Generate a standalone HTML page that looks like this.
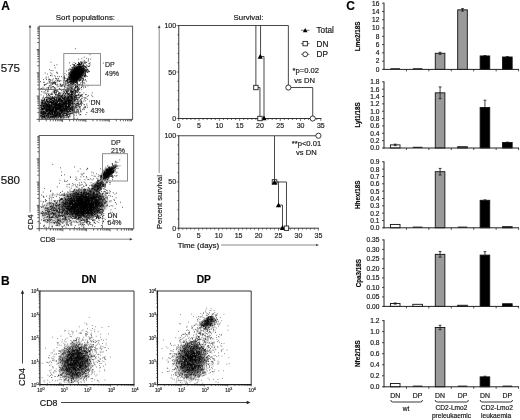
<!DOCTYPE html>
<html lang="en"><head><meta charset="utf-8"><title>Figure</title>
<style>
html,body{margin:0;padding:0;background:#fff;}
body{width:520px;height:420px;overflow:hidden;}
svg{display:block;font-family:"Liberation Sans", Arial, sans-serif;filter:blur(0.4px);}
text{stroke:#222;stroke-width:0.18px;}
</style></head><body>
<svg width="520" height="420" viewBox="0 0 520 420">
<rect x="0" y="0" width="520" height="420" fill="#fff"/>
<defs><radialGradient id="g0"><stop offset="0" stop-color="#000" stop-opacity="0.93"/><stop offset="0.45" stop-color="#000" stop-opacity="0.86"/><stop offset="0.7" stop-color="#000" stop-opacity="0.50"/><stop offset="1" stop-color="#000" stop-opacity="0"/></radialGradient><radialGradient id="g1"><stop offset="0" stop-color="#000" stop-opacity="0.36"/><stop offset="0.45" stop-color="#000" stop-opacity="0.33"/><stop offset="0.7" stop-color="#000" stop-opacity="0.30"/><stop offset="1" stop-color="#000" stop-opacity="0"/></radialGradient><radialGradient id="g2"><stop offset="0" stop-color="#000" stop-opacity="0.97"/><stop offset="0.45" stop-color="#000" stop-opacity="0.89"/><stop offset="0.7" stop-color="#000" stop-opacity="0.62"/><stop offset="1" stop-color="#000" stop-opacity="0"/></radialGradient><radialGradient id="g3"><stop offset="0" stop-color="#000" stop-opacity="0.93"/><stop offset="0.45" stop-color="#000" stop-opacity="0.86"/><stop offset="0.7" stop-color="#000" stop-opacity="0.50"/><stop offset="1" stop-color="#000" stop-opacity="0"/></radialGradient><radialGradient id="g4"><stop offset="0" stop-color="#000" stop-opacity="0.6"/><stop offset="0.45" stop-color="#000" stop-opacity="0.55"/><stop offset="0.7" stop-color="#000" stop-opacity="0.35"/><stop offset="1" stop-color="#000" stop-opacity="0"/></radialGradient><radialGradient id="g5"><stop offset="0" stop-color="#000" stop-opacity="0.2"/><stop offset="0.45" stop-color="#000" stop-opacity="0.18"/><stop offset="0.7" stop-color="#000" stop-opacity="0.15"/><stop offset="1" stop-color="#000" stop-opacity="0"/></radialGradient><radialGradient id="g6"><stop offset="0" stop-color="#000" stop-opacity="0.58"/><stop offset="0.45" stop-color="#000" stop-opacity="0.53"/><stop offset="0.7" stop-color="#000" stop-opacity="0.33"/><stop offset="1" stop-color="#000" stop-opacity="0"/></radialGradient><radialGradient id="g7"><stop offset="0" stop-color="#000" stop-opacity="0.58"/><stop offset="0.45" stop-color="#000" stop-opacity="0.53"/><stop offset="0.7" stop-color="#000" stop-opacity="0.33"/><stop offset="1" stop-color="#000" stop-opacity="0"/></radialGradient><radialGradient id="g8"><stop offset="0" stop-color="#000" stop-opacity="0.5"/><stop offset="0.45" stop-color="#000" stop-opacity="0.46"/><stop offset="0.7" stop-color="#000" stop-opacity="0.30"/><stop offset="1" stop-color="#000" stop-opacity="0"/></radialGradient><clipPath id="c0"><rect x="39.2" y="26.2" width="93.40" height="93.20"/></clipPath><clipPath id="c1"><rect x="39.2" y="135.5" width="94.50" height="93.20"/></clipPath><clipPath id="c2"><rect x="39.9" y="291" width="94.10" height="93.60"/></clipPath><clipPath id="c3"><rect x="157.5" y="291" width="93.70" height="93.60"/></clipPath></defs>
<text x="1.20" y="9.80" font-size="12" text-anchor="start" font-weight="bold" fill="#000" stroke="#000" stroke-width="0.4">A</text>
<text x="55.80" y="20.33" font-size="7.9" text-anchor="start" fill="#111">Sort populations:</text>
<text x="0.70" y="71.75" font-size="11.6" text-anchor="start" fill="#111">575</text>
<text x="0.70" y="184.45" font-size="11.6" text-anchor="start" fill="#111">580</text>
<line x1="30.00" y1="27.00" x2="30.00" y2="212.50" stroke="#8a8a8a" stroke-width="1"/>
<path d="M30.0 24.8 l-1.3 2.8 h2.6z" fill="#333"/>
<text x="30.20" y="232.66" font-size="7.7" text-anchor="start" fill="#111" transform="rotate(-90 30.20 229.90)">CD4</text>
<text x="39.90" y="241.76" font-size="7.7" text-anchor="start" fill="#111">CD8</text>
<line x1="56.50" y1="239.20" x2="130.00" y2="239.20" stroke="#8a8a8a" stroke-width="1"/>
<path d="M132.6 239.2 l-2.8 -1.3 v2.6z" fill="#333"/>
<g clip-path="url(#c0)">
<ellipse cx="76.8" cy="73.8" rx="11.8" ry="8.0" fill="url(#g0)" transform="rotate(-48 76.8 73.8)"/>
<ellipse cx="54" cy="108.5" rx="26" ry="14" fill="url(#g1)" transform="rotate(-8 54 108.5)"/>
<path d="M55.0 110.1h0.9M51.7 101.8h0.9M49.5 101.1h0.9M55.7 117.4h0.9M49.1 103.7h0.9M60.9 110.5h0.9M56.3 101.5h0.9M54.6 112.9h0.9M38.9 104.8h0.9M32.2 99.0h0.9M32.9 106.4h0.9M39.8 109.9h0.9M56.9 106.7h0.9M24.8 104.2h0.9M54.4 108.8h0.9M36.6 104.7h0.9M43.3 102.3h0.9M67.7 102.3h0.9M54.6 114.2h0.9M48.0 107.2h0.9M56.3 108.4h0.9M40.3 108.5h0.9M71.3 97.2h0.9M65.3 108.8h0.9M47.3 122.0h0.9M64.1 99.6h0.9M55.9 112.0h0.9M52.7 112.8h0.9M54.2 112.7h0.9M72.3 103.3h0.9M57.4 104.8h0.9M56.5 99.7h0.9M48.0 106.6h0.9M65.8 116.0h0.9M39.1 102.4h0.9M62.8 94.1h0.9M49.4 107.3h0.9M70.1 112.8h0.9M51.1 105.4h0.9M52.0 118.7h0.9M49.9 105.9h0.9M59.2 107.2h0.9M52.6 100.2h0.9M54.9 104.9h0.9M69.0 112.6h0.9M54.7 112.7h0.9M50.9 115.4h0.9M54.9 112.1h0.9M39.5 110.4h0.9M34.7 93.8h0.9M51.3 101.7h0.9M57.0 123.7h0.9M45.0 103.6h0.9M57.5 111.5h0.9M52.9 106.6h0.9M63.4 111.6h0.9M42.6 107.4h0.9M55.4 100.6h0.9M58.1 102.0h0.9M66.7 109.3h0.9M56.1 103.9h0.9M53.6 94.0h0.9M41.4 110.5h0.9M29.5 113.9h0.9M34.0 113.3h0.9M44.9 113.5h0.9M56.6 97.2h0.9M70.0 118.1h0.9M54.2 106.1h0.9M53.1 101.2h0.9M68.2 104.2h0.9M54.4 102.4h0.9M47.5 99.1h0.9M70.1 106.9h0.9M66.6 108.1h0.9M46.7 105.7h0.9M48.3 108.1h0.9M50.5 105.9h0.9M38.5 102.4h0.9M74.8 103.3h0.9M42.4 110.4h0.9M71.9 97.8h0.9M52.5 103.6h0.9M33.9 113.1h0.9M54.7 108.5h0.9M46.0 111.2h0.9M48.5 107.0h0.9M41.7 99.5h0.9M71.0 104.5h0.9M58.5 107.8h0.9M49.7 104.4h0.9M62.6 105.9h0.9M53.2 108.2h0.9M69.1 112.8h0.9M59.6 104.1h0.9M38.4 114.6h0.9M66.6 107.0h0.9M61.5 113.5h0.9M65.0 114.4h0.9M49.5 118.6h0.9M40.0 114.0h0.9M60.9 114.1h0.9M77.5 118.4h0.9M41.3 96.2h0.9M64.8 100.9h0.9M54.9 113.9h0.9M35.3 93.2h0.9M58.1 108.3h0.9M52.1 108.3h0.9M44.7 97.4h0.9M53.0 101.2h0.9M35.3 111.5h0.9M54.3 110.8h0.9M43.1 103.4h0.9M43.0 101.8h0.9M57.3 102.5h0.9M59.3 110.4h0.9M79.3 98.3h0.9M65.7 107.4h0.9M54.8 97.9h0.9M49.5 113.2h0.9M54.0 108.6h0.9M51.5 116.1h0.9M54.7 92.6h0.9M46.7 94.2h0.9M16.0 104.3h0.9M71.0 108.3h0.9M40.9 101.4h0.9M68.6 109.1h0.9M55.6 107.6h0.9M55.5 113.6h0.9M61.6 109.5h0.9M42.5 111.6h0.9M46.8 115.7h0.9M39.7 107.0h0.9M54.9 98.7h0.9M75.7 118.2h0.9M49.4 113.4h0.9M59.5 89.7h0.9M58.0 107.6h0.9M56.0 100.5h0.9M51.8 106.8h0.9M69.3 110.3h0.9M54.9 118.7h0.9M48.3 105.3h0.9M33.2 119.0h0.9M66.6 114.4h0.9M63.0 108.8h0.9M57.6 106.2h0.9M52.6 108.4h0.9M73.1 111.9h0.9M54.3 103.9h0.9M47.4 119.2h0.9M61.1 108.5h0.9M50.8 100.2h0.9M54.2 114.1h0.9M50.3 106.4h0.9M52.3 108.8h0.9M35.9 106.4h0.9M44.7 114.2h0.9M45.8 112.0h0.9M73.3 105.8h0.9M47.8 109.3h0.9M55.0 101.0h0.9M60.5 122.1h0.9M51.9 106.6h0.9M42.5 110.2h0.9M40.0 100.3h0.9M70.4 101.7h0.9M68.0 118.7h0.9M58.1 111.9h0.9M78.4 106.6h0.9M47.9 98.5h0.9M55.5 118.4h0.9M66.5 101.4h0.9M44.7 104.5h0.9M58.5 106.6h0.9M57.6 110.1h0.9M51.4 107.7h0.9M57.5 107.4h0.9M61.0 121.1h0.9M62.1 108.4h0.9M34.8 110.7h0.9M31.6 98.1h0.9M65.3 112.9h0.9M53.2 96.0h0.9M50.5 103.2h0.9M62.6 123.8h0.9M57.6 102.5h0.9M41.0 107.6h0.9M52.9 99.9h0.9M56.4 99.9h0.9M68.3 115.4h0.9M68.0 104.7h0.9M61.2 107.1h0.9M50.3 105.6h0.9M39.4 97.9h0.9M64.5 106.7h0.9M57.6 115.0h0.9M34.2 102.5h0.9M57.1 110.7h0.9M50.5 115.2h0.9M57.5 99.5h0.9M43.8 113.6h0.9M60.6 94.7h0.9M71.2 112.2h0.9M71.1 105.3h0.9M51.5 100.1h0.9M85.4 106.8h0.9M74.1 103.5h0.9M57.0 96.3h0.9M50.4 114.9h0.9M40.0 115.5h0.9M59.0 100.7h0.9M49.0 104.8h0.9M54.4 104.2h0.9M45.1 105.9h0.9M42.7 99.0h0.9M54.4 114.2h0.9M36.6 108.0h0.9M47.2 101.2h0.9M65.2 104.4h0.9M73.0 102.5h0.9M59.6 106.4h0.9M46.0 112.1h0.9M53.1 112.2h0.9M54.4 100.4h0.9M53.8 108.4h0.9M66.5 101.7h0.9M54.5 95.9h0.9M62.8 100.4h0.9M33.3 107.6h0.9M68.3 97.3h0.9M41.9 102.8h0.9M41.4 110.7h0.9M45.3 102.9h0.9M62.0 102.7h0.9M60.2 101.2h0.9M40.5 95.2h0.9M77.3 105.8h0.9M57.9 107.8h0.9M56.9 108.3h0.9M77.9 100.7h0.9M36.3 100.9h0.9M39.0 113.2h0.9M64.8 101.3h0.9M38.3 105.5h0.9M71.7 88.3h0.9M61.3 100.5h0.9M67.5 100.5h0.9M51.6 97.5h0.9M43.3 117.7h0.9M64.8 105.2h0.9M44.6 94.7h0.9M50.3 107.8h0.9M54.0 107.3h0.9M41.5 107.5h0.9M54.5 117.0h0.9M77.4 107.0h0.9M45.8 107.5h0.9M47.7 102.8h0.9M54.3 100.7h0.9M62.3 107.3h0.9M58.0 106.7h0.9M46.3 101.4h0.9M52.2 104.2h0.9M57.8 108.0h0.9M38.7 108.5h0.9M38.9 103.7h0.9M51.5 93.5h0.9M56.1 109.1h0.9M53.1 105.0h0.9M50.5 101.2h0.9M51.8 104.1h0.9M56.1 99.6h0.9M57.8 109.0h0.9M53.3 104.9h0.9M61.6 96.3h0.9M60.5 109.7h0.9M58.4 110.7h0.9M47.2 106.2h0.9M62.6 111.0h0.9M57.5 97.4h0.9M61.5 116.2h0.9M67.1 109.6h0.9M36.3 114.6h0.9M53.2 90.3h0.9M59.5 97.6h0.9M39.4 103.6h0.9M70.3 105.4h0.9M58.3 120.2h0.9M74.1 107.3h0.9M52.1 99.2h0.9M46.7 111.0h0.9M59.7 108.8h0.9M66.9 102.6h0.9M54.3 113.1h0.9M62.0 115.5h0.9M59.8 105.8h0.9M59.3 101.0h0.9M35.3 112.1h0.9M54.3 110.2h0.9M34.6 105.4h0.9M47.8 102.0h0.9M27.9 105.7h0.9M65.8 110.7h0.9M47.8 107.9h0.9M64.1 88.7h0.9M53.5 111.8h0.9M63.2 119.9h0.9M68.6 110.2h0.9M58.6 113.5h0.9M48.5 107.7h0.9M65.9 121.7h0.9M53.1 107.7h0.9M57.4 117.4h0.9M54.6 118.3h0.9M43.4 106.7h0.9M52.6 113.5h0.9M67.5 97.4h0.9M44.0 110.4h0.9M47.1 97.3h0.9M67.5 111.5h0.9M60.9 104.7h0.9M67.3 106.3h0.9M68.2 101.6h0.9M44.8 109.4h0.9M46.6 112.7h0.9M58.1 101.5h0.9M55.9 105.5h0.9M66.0 103.6h0.9M49.7 116.5h0.9M81.9 122.0h0.9M55.8 109.5h0.9M73.4 107.1h0.9M43.3 108.8h0.9M60.4 102.2h0.9M35.2 97.9h0.9M63.0 102.7h0.9M53.3 109.5h0.9M62.4 105.7h0.9M61.0 101.8h0.9M50.7 100.8h0.9M68.6 107.8h0.9M46.1 105.5h0.9M52.3 112.9h0.9M35.9 100.7h0.9M50.5 125.7h0.9M66.5 107.2h0.9M63.5 122.4h0.9M52.2 105.4h0.9M69.5 111.5h0.9M63.1 104.4h0.9M78.1 120.0h0.9M61.8 112.8h0.9M30.7 112.5h0.9M52.7 111.0h0.9M63.2 105.6h0.9M34.7 110.6h0.9M46.1 105.7h0.9M47.7 105.6h0.9M27.3 116.5h0.9M58.0 115.8h0.9M78.8 108.2h0.9M33.4 101.7h0.9M40.5 104.5h0.9M56.0 94.0h0.9M59.1 97.4h0.9M58.6 107.2h0.9M51.2 107.5h0.9M48.5 103.7h0.9M34.8 107.8h0.9M77.1 121.9h0.9M70.9 112.9h0.9M46.9 118.1h0.9M54.3 107.5h0.9M51.5 108.6h0.9M49.8 107.4h0.9M42.0 105.4h0.9M82.4 107.5h0.9M52.1 111.7h0.9M63.5 100.2h0.9M52.5 114.4h0.9M58.2 108.9h0.9M73.6 103.3h0.9M56.0 104.4h0.9M72.9 94.3h0.9M47.0 104.3h0.9M63.0 112.2h0.9M71.7 97.0h0.9M64.0 105.9h0.9M47.0 111.8h0.9M44.0 93.5h0.9M50.6 97.5h0.9M47.2 110.6h0.9M58.7 119.1h0.9M52.6 97.3h0.9M45.9 101.6h0.9M40.4 111.0h0.9M47.3 94.2h0.9M63.4 107.2h0.9M59.3 108.7h0.9M62.6 108.3h0.9M69.8 111.0h0.9M59.7 110.9h0.9M37.5 106.8h0.9M51.9 109.5h0.9M38.7 119.4h0.9M56.3 99.5h0.9M34.5 106.0h0.9M53.9 103.0h0.9M56.1 103.5h0.9M61.6 102.9h0.9M54.5 114.9h0.9M85.9 100.9h0.9M49.4 102.1h0.9M64.4 100.0h0.9M49.2 107.8h0.9M43.3 101.3h0.9M49.3 93.3h0.9M37.7 105.1h0.9M56.8 106.7h0.9M33.7 104.8h0.9M64.6 111.9h0.9M54.1 101.8h0.9M62.6 103.9h0.9M41.0 102.4h0.9M72.4 109.5h0.9M68.9 104.6h0.9M66.3 103.8h0.9M53.1 125.4h0.9M64.2 104.5h0.9M54.0 110.3h0.9M69.5 104.6h0.9M34.1 106.0h0.9M55.2 108.8h0.9M70.8 110.2h0.9M64.8 100.3h0.9M65.4 122.7h0.9M64.3 109.8h0.9M56.8 120.5h0.9M43.9 107.2h0.9M60.5 113.2h0.9M49.8 110.2h0.9M51.7 108.8h0.9M53.4 100.0h0.9M54.7 114.1h0.9M43.4 106.3h0.9M63.0 100.5h0.9M57.2 100.6h0.9M68.6 124.2h0.9M79.3 106.5h0.9M63.9 108.8h0.9M56.2 118.8h0.9M39.2 115.4h0.9M54.4 117.9h0.9M57.2 103.3h0.9M58.3 113.2h0.9M55.4 111.4h0.9M48.7 93.1h0.9M65.8 112.9h0.9M56.8 108.5h0.9M67.4 104.8h0.9M46.5 106.7h0.9M69.3 98.3h0.9M69.3 103.5h0.9M41.8 116.8h0.9M53.8 98.9h0.9M50.7 114.5h0.9M69.3 105.0h0.9M59.9 113.0h0.9M47.3 110.5h0.9M54.6 104.2h0.9M49.1 108.5h0.9M55.4 104.0h0.9M49.9 115.8h0.9M57.6 114.2h0.9M69.4 112.1h0.9M82.3 102.2h0.9M64.7 105.8h0.9M77.3 119.9h0.9M31.5 101.2h0.9M63.0 113.5h0.9M63.8 107.5h0.9M60.5 112.6h0.9M54.1 115.2h0.9M27.9 112.4h0.9M42.6 114.7h0.9M52.3 101.8h0.9M59.5 101.6h0.9M44.0 97.0h0.9M54.7 111.5h0.9M67.3 107.0h0.9M67.6 108.1h0.9M53.9 112.0h0.9M67.7 105.6h0.9M52.1 106.9h0.9M56.0 101.7h0.9M67.3 105.2h0.9M60.5 102.2h0.9" stroke="#fff" stroke-opacity="0.7" stroke-width="0.9" fill="none"/>
</g>
<path d="M76.4 76.5h0.9M84.1 76.1h0.9M80.1 79.7h0.9M71.0 77.3h0.9M79.6 72.8h0.9M76.7 74.2h0.9M73.0 68.3h0.9M71.7 67.7h0.9M73.3 74.1h0.9M79.2 69.6h0.9M71.7 72.0h0.9M81.2 62.4h0.9M82.7 61.2h0.9M67.3 79.6h0.9M70.3 74.1h0.9M74.7 74.6h0.9M78.6 74.8h0.9M70.0 83.3h0.9M73.6 72.3h0.9M73.7 76.2h0.9M73.2 78.0h0.9M64.1 78.3h0.9M80.5 74.2h0.9M76.1 70.2h0.9M74.1 69.4h0.9M83.0 79.9h0.9M69.0 77.2h0.9M79.3 68.4h0.9M70.3 77.1h0.9M82.1 72.2h0.9M72.2 77.4h0.9M77.2 64.6h0.9M73.6 65.2h0.9M71.9 76.2h0.9M79.9 80.4h0.9M68.7 77.3h0.9M76.3 80.8h0.9M77.3 67.8h0.9M72.9 69.7h0.9M64.1 76.0h0.9M80.7 67.5h0.9M78.2 73.0h0.9M75.1 74.7h0.9M66.2 74.9h0.9M74.8 72.2h0.9M76.8 75.0h0.9M78.9 67.7h0.9M74.4 78.6h0.9M85.2 74.9h0.9M63.1 82.4h0.9M82.4 80.9h0.9M74.1 78.3h0.9M76.2 71.5h0.9M76.2 71.5h0.9M72.6 76.7h0.9M75.4 68.9h0.9M74.6 71.6h0.9M80.4 75.2h0.9M76.6 76.8h0.9M75.5 75.8h0.9M76.5 72.5h0.9M70.7 75.3h0.9M71.3 80.8h0.9M78.6 68.9h0.9M80.1 70.7h0.9M82.9 72.7h0.9M73.9 64.7h0.9M74.4 65.6h0.9M79.9 76.0h0.9M70.4 74.1h0.9M84.9 73.8h0.9M75.5 75.4h0.9M79.1 84.7h0.9M71.8 80.8h0.9M77.0 77.0h0.9M76.5 68.3h0.9M74.0 72.0h0.9M77.3 73.7h0.9M64.7 83.9h0.9M76.9 72.8h0.9M77.8 78.4h0.9M76.6 69.4h0.9M81.1 63.3h0.9M74.7 76.7h0.9M80.0 67.8h0.9M78.0 75.1h0.9M78.6 70.2h0.9M81.3 61.9h0.9M64.0 77.2h0.9M78.8 72.6h0.9M76.2 70.1h0.9M77.0 73.5h0.9M72.0 69.2h0.9M75.1 71.1h0.9M79.7 71.5h0.9M76.6 79.1h0.9M81.4 73.3h0.9M75.0 82.4h0.9M70.6 80.6h0.9M79.8 74.7h0.9M83.1 67.2h0.9M78.0 70.3h0.9M81.7 62.9h0.9M79.3 75.7h0.9M72.4 78.7h0.9M75.3 71.0h0.9M74.4 75.3h0.9M79.1 80.8h0.9M72.8 70.3h0.9M76.4 66.1h0.9M85.4 70.6h0.9M71.7 71.6h0.9M77.5 80.0h0.9M76.5 70.4h0.9M79.0 72.7h0.9M77.4 79.7h0.9M75.0 82.7h0.9M72.9 82.3h0.9M82.8 65.6h0.9M74.4 74.6h0.9M72.0 77.7h0.9M84.6 72.3h0.9M74.6 77.7h0.9M75.8 80.9h0.9M68.6 70.1h0.9M78.4 69.3h0.9M81.5 69.2h0.9M70.5 78.8h0.9M87.1 72.5h0.9M75.3 68.7h0.9M77.0 76.0h0.9M81.9 71.9h0.9M76.3 69.2h0.9M78.2 76.4h0.9M80.4 71.3h0.9M84.9 79.6h0.9M83.6 73.2h0.9M76.7 73.2h0.9M76.2 79.5h0.9M72.4 81.0h0.9M77.8 69.5h0.9M76.3 77.7h0.9M72.1 81.9h0.9M76.5 82.6h0.9M72.0 71.3h0.9M77.8 64.5h0.9M67.8 80.1h0.9M73.2 81.4h0.9M72.4 84.8h0.9M76.7 72.8h0.9M76.9 74.6h0.9M78.9 71.0h0.9M65.4 78.3h0.9M73.2 73.1h0.9M78.3 76.6h0.9M79.2 75.2h0.9M86.5 68.1h0.9M81.0 72.1h0.9M69.0 69.0h0.9M80.6 70.4h0.9M71.1 82.4h0.9M71.9 72.0h0.9M75.8 85.2h0.9M76.1 73.5h0.9M86.0 67.5h0.9M67.5 89.3h0.9M73.0 81.5h0.9M84.6 71.7h0.9M81.4 67.0h0.9M78.0 77.2h0.9M76.1 76.8h0.9M76.5 67.0h0.9M74.6 72.5h0.9M78.8 64.3h0.9M73.8 67.2h0.9M78.0 63.2h0.9M77.2 75.6h0.9M64.3 80.8h0.9M82.1 72.3h0.9M76.8 72.0h0.9M68.7 81.8h0.9M78.0 64.9h0.9M76.2 76.2h0.9M79.8 64.6h0.9M76.1 77.8h0.9M81.2 71.9h0.9M69.5 72.8h0.9M79.2 73.1h0.9M73.3 66.1h0.9M80.0 74.0h0.9M64.2 77.0h0.9M62.8 84.7h0.9M76.2 81.5h0.9M73.1 79.2h0.9M83.4 69.2h0.9M72.9 64.5h0.9M66.9 89.9h0.9M66.7 81.1h0.9M75.0 84.9h0.9M70.2 81.7h0.9M81.3 67.2h0.9M81.4 58.7h0.9M73.7 72.1h0.9M77.2 72.7h0.9M72.3 86.6h0.9M80.3 76.3h0.9M79.1 69.0h0.9M69.6 75.7h0.9M74.4 69.4h0.9M80.8 78.0h0.9M80.6 70.4h0.9M77.4 66.6h0.9M86.0 70.7h0.9M68.2 87.0h0.9M81.7 71.7h0.9M80.4 73.9h0.9M76.3 75.9h0.9M72.7 75.6h0.9M73.8 67.9h0.9M74.8 68.4h0.9M74.8 70.9h0.9M77.6 75.3h0.9M80.5 64.7h0.9M82.8 70.6h0.9M72.0 84.5h0.9M82.3 75.3h0.9M87.2 69.4h0.9M71.9 64.2h0.9M70.0 90.9h0.9M81.6 68.9h0.9M78.0 72.9h0.9M81.1 64.7h0.9M75.5 76.7h0.9M72.0 80.1h0.9M65.0 84.3h0.9M70.5 70.9h0.9M85.7 70.3h0.9M82.2 70.1h0.9M74.2 71.2h0.9M76.9 70.9h0.9M80.9 73.0h0.9M72.5 75.9h0.9M81.4 69.8h0.9M80.0 75.6h0.9M68.0 89.3h0.9M76.5 73.2h0.9M77.9 67.4h0.9M79.9 67.8h0.9M80.6 73.3h0.9M77.9 71.3h0.9M86.4 71.2h0.9M79.6 80.4h0.9M77.5 81.2h0.9M79.8 74.1h0.9M62.1 85.0h0.9M76.5 83.6h0.9M77.1 77.7h0.9M69.6 78.9h0.9M72.6 74.0h0.9M78.0 68.8h0.9M77.8 73.4h0.9M70.9 72.9h0.9M71.6 86.9h0.9M72.7 76.8h0.9M78.7 74.6h0.9M70.3 72.1h0.9M81.8 84.4h0.9M87.5 66.3h0.9M74.9 75.5h0.9M67.6 78.3h0.9M80.2 78.0h0.9M76.5 71.8h0.9M75.1 73.4h0.9M67.6 79.9h0.9M69.5 75.5h0.9M73.6 77.1h0.9M87.9 60.1h0.9M80.1 67.1h0.9M67.0 79.4h0.9M85.4 71.5h0.9M80.6 77.9h0.9M72.9 73.5h0.9M80.5 76.3h0.9M72.8 78.8h0.9M76.3 73.8h0.9M84.7 75.2h0.9M73.6 71.2h0.9M80.9 72.9h0.9M73.7 76.9h0.9M79.7 70.3h0.9M80.3 62.0h0.9M72.0 76.9h0.9M78.6 78.6h0.9M74.1 77.3h0.9M69.5 86.6h0.9M80.4 73.6h0.9M72.6 74.0h0.9M76.0 73.8h0.9M84.8 63.0h0.9M76.8 71.3h0.9M82.9 64.3h0.9M77.3 73.8h0.9M83.5 69.3h0.9M81.4 66.9h0.9M69.2 79.1h0.9M82.0 73.6h0.9M77.6 71.1h0.9M78.8 77.4h0.9M83.9 60.3h0.9M78.1 66.0h0.9M78.1 67.4h0.9M73.0 73.4h0.9M77.4 75.4h0.9M80.3 70.3h0.9M70.7 83.2h0.9M79.4 70.3h0.9M81.5 69.6h0.9M70.8 76.5h0.9M80.8 75.2h0.9M79.5 71.6h0.9M78.9 66.6h0.9M84.9 76.0h0.9M77.1 70.5h0.9M78.7 70.5h0.9M74.6 77.6h0.9M68.8 84.8h0.9M71.5 81.9h0.9M70.3 73.7h0.9M77.1 73.0h0.9M71.9 67.8h0.9M72.1 77.5h0.9M77.9 71.0h0.9M78.9 73.5h0.9M79.6 65.2h0.9M76.0 75.6h0.9M76.8 70.6h0.9M80.1 69.4h0.9M69.0 77.5h0.9M72.7 83.5h0.9M80.8 73.2h0.9M78.2 62.4h0.9M81.1 66.3h0.9M76.8 71.0h0.9M70.5 69.6h0.9M70.8 73.2h0.9M78.4 69.5h0.9M77.9 64.8h0.9M81.0 68.6h0.9M75.9 78.1h0.9M78.8 66.9h0.9M81.9 70.1h0.9M88.7 66.1h0.9M76.7 69.6h0.9M78.2 77.8h0.9M78.2 77.9h0.9M79.6 77.2h0.9M71.3 80.0h0.9M71.2 81.6h0.9M73.9 72.2h0.9M80.1 74.0h0.9M84.1 68.5h0.9M76.1 76.2h0.9M85.8 62.2h0.9M72.0 75.4h0.9M69.9 69.0h0.9M72.2 75.8h0.9M68.1 74.2h0.9M73.3 76.8h0.9M70.9 75.9h0.9M85.5 75.6h0.9M78.3 68.0h0.9M75.2 70.1h0.9M76.5 83.8h0.9M75.0 66.3h0.9M74.9 82.3h0.9M76.5 80.6h0.9M80.0 69.0h0.9M78.7 63.5h0.9M70.9 77.3h0.9M67.5 85.7h0.9M81.7 72.3h0.9M70.6 84.1h0.9M82.9 68.4h0.9M69.7 79.8h0.9M82.8 72.1h0.9M73.2 72.1h0.9M76.3 70.2h0.9M75.9 75.6h0.9M73.9 81.3h0.9M84.5 66.7h0.9M74.3 79.4h0.9M71.0 77.9h0.9M83.3 71.0h0.9M75.3 63.5h0.9M70.5 77.5h0.9M74.3 69.1h0.9M79.2 64.4h0.9M79.3 72.8h0.9M88.5 63.7h0.9M78.8 65.4h0.9M73.8 77.1h0.9M88.3 70.0h0.9M81.1 69.9h0.9M79.8 78.0h0.9M81.5 73.7h0.9M83.0 72.5h0.9M79.0 69.1h0.9M69.7 84.2h0.9M82.5 79.4h0.9M73.1 73.8h0.9M70.5 74.9h0.9M75.4 82.3h0.9M77.5 69.5h0.9M76.1 74.7h0.9M82.4 70.0h0.9M84.2 62.3h0.9M77.7 71.1h0.9M72.2 72.6h0.9M73.8 76.4h0.9M75.8 67.4h0.9M82.7 68.5h0.9M81.0 69.0h0.9M75.2 81.6h0.9M69.5 81.2h0.9M84.1 70.5h0.9M78.6 77.9h0.9M80.0 76.5h0.9M75.2 79.7h0.9M75.8 77.3h0.9M76.4 75.5h0.9M71.3 77.7h0.9M69.2 82.5h0.9M72.4 78.7h0.9M83.4 77.1h0.9M74.6 69.4h0.9M78.9 69.4h0.9M68.3 85.3h0.9M70.1 76.4h0.9M77.2 77.1h0.9M67.4 81.5h0.9M75.1 77.6h0.9M81.0 68.5h0.9M71.5 67.3h0.9M75.8 78.1h0.9M75.0 68.6h0.9M71.3 82.0h0.9M76.4 82.2h0.9M81.2 72.9h0.9M77.6 72.4h0.9M77.2 73.4h0.9M72.5 79.8h0.9M76.7 72.4h0.9M72.9 73.6h0.9M78.8 71.1h0.9M78.8 70.6h0.9M84.8 75.1h0.9M72.5 81.6h0.9M83.0 78.4h0.9M75.2 75.3h0.9M76.4 76.0h0.9M70.8 81.0h0.9M65.6 82.6h0.9M71.2 75.1h0.9M68.3 82.4h0.9M79.6 75.6h0.9M68.5 77.8h0.9M74.4 68.9h0.9M75.9 74.3h0.9M76.4 70.5h0.9M76.4 70.2h0.9M78.7 79.9h0.9M84.6 63.6h0.9M79.9 72.7h0.9M80.4 68.6h0.9M83.1 70.0h0.9M75.9 74.0h0.9M74.6 75.2h0.9M84.9 67.1h0.9M75.2 74.9h0.9M76.0 81.6h0.9M79.2 66.4h0.9M74.2 84.9h0.9M76.7 67.4h0.9M78.1 69.4h0.9M83.5 65.7h0.9M78.8 64.5h0.9M71.1 77.0h0.9M78.8 74.8h0.9M72.5 77.2h0.9M74.4 72.2h0.9M71.3 84.2h0.9M81.4 68.1h0.9M75.1 78.5h0.9M72.9 86.3h0.9M78.8 70.8h0.9M82.8 67.8h0.9M83.6 80.6h0.9M70.7 69.6h0.9M79.9 70.6h0.9M79.7 65.4h0.9M79.3 72.7h0.9M75.1 71.0h0.9M72.0 76.6h0.9M75.1 68.2h0.9M81.9 71.2h0.9M83.4 65.3h0.9M72.8 76.6h0.9M72.7 72.5h0.9M74.3 83.0h0.9M71.0 71.1h0.9M83.8 70.6h0.9M70.4 83.3h0.9M69.9 78.9h0.9M77.6 72.8h0.9M70.8 72.6h0.9M76.5 81.6h0.9M77.9 64.9h0.9M73.5 74.1h0.9M88.9 63.4h0.9M74.8 73.5h0.9M68.3 85.0h0.9M80.2 70.2h0.9M79.1 66.8h0.9M73.7 74.5h0.9M83.3 75.2h0.9M75.4 80.0h0.9M75.9 77.6h0.9M70.7 81.2h0.9M66.4 81.2h0.9M74.1 69.4h0.9M79.7 73.2h0.9M68.9 79.8h0.9M75.8 73.0h0.9M76.6 67.4h0.9M71.8 70.3h0.9M76.4 74.4h0.9M76.8 68.2h0.9M87.7 70.9h0.9M86.7 70.4h0.9M73.3 76.1h0.9M84.5 70.2h0.9M67.0 80.6h0.9M80.9 74.6h0.9M80.9 80.0h0.9M80.7 72.1h0.9M87.8 72.0h0.9M73.8 65.1h0.9M76.9 72.8h0.9M67.9 82.9h0.9M78.5 75.1h0.9M70.0 81.8h0.9M73.9 80.3h0.9M78.3 72.5h0.9M74.2 71.9h0.9M67.9 76.9h0.9M74.5 81.9h0.9M75.1 71.6h0.9M79.0 73.7h0.9M74.5 78.3h0.9M71.1 77.7h0.9M71.5 71.5h0.9M74.0 78.1h0.9M81.7 74.3h0.9M66.2 71.1h0.9M72.7 70.8h0.9M79.1 84.8h0.9M79.2 71.3h0.9M78.8 73.3h0.9M77.6 80.0h0.9M85.2 72.2h0.9M81.5 69.6h0.9M73.9 81.3h0.9M78.8 67.4h0.9M78.6 71.3h0.9M68.5 76.8h0.9M76.5 77.6h0.9M75.7 77.7h0.9M71.8 82.7h0.9M74.8 79.5h0.9M64.1 78.8h0.9M70.7 79.8h0.9M75.3 70.2h0.9M83.6 63.3h0.9M81.0 71.4h0.9M86.9 69.4h0.9M75.0 74.6h0.9M77.6 68.4h0.9M80.0 66.8h0.9M76.3 73.4h0.9M82.0 65.9h0.9M81.0 69.6h0.9M70.7 84.8h0.9M73.7 68.6h0.9M78.1 62.8h0.9M71.7 75.8h0.9M74.8 72.7h0.9M80.3 77.4h0.9M78.7 69.5h0.9M82.6 71.6h0.9M78.0 66.0h0.9M78.8 63.5h0.9M81.9 81.9h0.9M83.6 70.8h0.9M72.7 72.6h0.9M77.3 71.9h0.9M85.0 74.6h0.9M85.8 64.9h0.9M73.8 74.2h0.9M78.6 76.5h0.9M77.3 75.5h0.9M68.3 72.8h0.9M76.8 86.5h0.9M75.5 81.1h0.9M82.4 66.3h0.9M78.6 68.3h0.9M70.6 77.0h0.9M72.1 68.9h0.9M77.7 73.2h0.9M77.8 68.6h0.9M65.6 80.8h0.9M79.0 66.6h0.9M77.5 84.6h0.9M73.4 73.9h0.9M81.5 74.0h0.9M84.6 72.4h0.9M71.1 81.2h0.9M76.1 78.8h0.9M67.4 79.4h0.9M70.8 79.0h0.9M80.3 70.1h0.9M75.0 70.5h0.9M80.9 63.5h0.9M76.1 85.6h0.9M77.3 79.8h0.9M78.8 71.0h0.9M72.7 72.8h0.9M81.2 68.9h0.9M75.2 69.8h0.9M74.5 75.2h0.9M72.5 79.0h0.9M78.4 72.5h0.9M75.7 71.4h0.9M80.5 73.4h0.9M77.6 80.0h0.9M82.8 64.2h0.9M79.0 72.1h0.9M77.3 70.3h0.9M74.0 78.2h0.9M85.3 70.8h0.9M71.1 77.6h0.9M71.3 76.4h0.9M71.5 79.1h0.9M79.1 68.8h0.9M80.5 70.3h0.9M76.2 74.8h0.9M69.1 62.8h0.9M71.2 70.1h0.9M78.9 77.6h0.9M74.6 74.3h0.9M77.2 72.6h0.9M77.5 69.7h0.9M83.9 71.7h0.9M79.5 75.9h0.9M78.0 72.7h0.9M78.8 74.0h0.9M74.0 78.6h0.9M77.5 68.6h0.9M69.1 81.7h0.9M82.0 75.6h0.9M73.7 80.6h0.9M84.9 77.0h0.9M76.7 77.0h0.9M73.6 69.8h0.9M83.5 67.9h0.9M74.5 75.3h0.9M77.8 64.6h0.9M74.2 68.9h0.9M76.2 81.0h0.9M67.4 90.3h0.9M76.9 68.8h0.9M89.6 54.7h0.9M80.2 75.0h0.9M75.9 78.3h0.9M77.7 76.4h0.9M67.8 78.9h0.9M74.9 68.4h0.9M73.6 85.0h0.9M70.4 75.0h0.9M75.4 74.2h0.9M75.9 73.8h0.9M73.5 75.6h0.9M73.9 78.7h0.9M77.7 72.0h0.9M80.9 73.4h0.9M78.7 73.1h0.9M74.4 68.5h0.9M70.1 76.1h0.9M75.1 78.2h0.9M81.1 63.2h0.9M76.7 69.3h0.9M83.8 69.4h0.9M78.9 73.4h0.9M79.4 72.3h0.9M79.9 69.9h0.9M74.5 76.9h0.9M75.7 69.0h0.9M77.0 75.4h0.9M75.8 70.8h0.9M81.3 82.1h0.9M79.0 73.0h0.9M68.2 70.0h0.9M74.3 72.9h0.9M70.3 80.3h0.9M79.5 69.3h0.9M74.6 73.4h0.9M73.3 70.5h0.9M79.9 74.4h0.9M70.5 85.5h0.9M78.9 77.8h0.9M77.1 82.7h0.9M71.9 79.1h0.9M76.2 75.5h0.9M76.1 75.8h0.9M74.3 65.1h0.9M74.1 65.8h0.9M76.5 74.2h0.9M85.7 66.7h0.9M73.4 78.5h0.9M74.9 86.5h0.9M84.7 69.9h0.9M76.1 77.0h0.9M70.9 77.0h0.9M77.0 68.9h0.9M79.7 69.7h0.9M80.0 64.0h0.9M74.2 76.6h0.9M70.0 71.6h0.9M78.6 68.5h0.9M75.1 72.7h0.9M72.7 78.5h0.9M76.8 73.9h0.9M72.5 76.4h0.9M73.4 80.6h0.9M76.3 74.7h0.9M77.4 78.7h0.9M73.9 79.5h0.9M73.5 78.6h0.9M71.5 80.2h0.9M89.1 66.1h0.9M73.1 71.7h0.9M75.2 70.8h0.9M69.4 85.7h0.9M84.9 67.0h0.9M83.7 76.0h0.9M75.1 63.4h0.9M75.6 73.4h0.9M72.7 66.9h0.9M79.6 79.7h0.9M88.0 66.6h0.9M85.6 76.1h0.9M74.5 75.6h0.9M73.6 80.7h0.9M81.2 72.3h0.9M74.0 67.2h0.9M67.3 83.5h0.9M80.3 71.4h0.9M79.6 62.8h0.9M77.5 70.1h0.9M79.6 76.7h0.9M80.1 72.5h0.9M71.3 74.5h0.9M73.3 72.9h0.9M73.6 80.3h0.9M73.1 70.9h0.9M74.2 72.7h0.9M73.5 77.2h0.9M82.7 71.7h0.9M72.2 76.2h0.9M71.1 79.1h0.9M78.4 72.5h0.9M78.7 68.9h0.9M81.7 76.4h0.9M69.8 80.9h0.9M69.9 82.0h0.9M77.6 77.7h0.9M82.2 80.7h0.9M72.5 72.4h0.9M70.2 79.6h0.9M69.9 65.6h0.9M74.9 80.8h0.9M76.1 80.1h0.9M69.6 82.4h0.9M70.8 77.0h0.9M81.2 74.3h0.9M71.5 72.8h0.9M74.8 75.2h0.9M81.4 70.6h0.9M74.2 68.2h0.9M86.3 72.0h0.9M83.7 66.5h0.9M76.0 78.4h0.9M81.0 66.8h0.9M78.4 76.3h0.9M76.3 67.9h0.9M75.6 81.4h0.9M73.6 74.3h0.9M75.4 76.1h0.9M69.9 75.3h0.9M75.9 74.0h0.9M82.0 68.6h0.9M75.5 73.1h0.9M71.3 72.7h0.9M78.2 74.5h0.9M78.6 77.7h0.9M77.7 64.3h0.9M77.0 76.0h0.9M69.6 86.1h0.9M82.7 71.1h0.9M76.3 66.1h0.9M66.8 87.9h0.9M75.4 78.7h0.9M70.0 83.7h0.9M68.9 77.8h0.9M86.5 69.8h0.9M72.0 82.5h0.9M76.3 75.3h0.9M83.9 73.7h0.9M75.4 78.3h0.9M78.1 78.1h0.9M76.7 78.1h0.9M83.1 68.9h0.9M66.2 83.9h0.9M79.8 75.1h0.9M74.5 80.1h0.9M84.9 66.6h0.9M79.5 65.9h0.9M73.7 76.0h0.9M82.0 85.0h0.9M75.5 79.4h0.9M78.8 67.8h0.9M79.8 67.1h0.9M79.6 66.7h0.9M74.9 70.5h0.9M79.0 63.5h0.9M75.1 76.3h0.9M75.4 81.4h0.9M80.1 73.5h0.9M89.1 71.5h0.9M71.2 79.5h0.9M82.7 68.7h0.9M82.5 62.5h0.9M73.9 77.8h0.9M81.5 73.4h0.9M81.9 69.1h0.9M76.6 69.4h0.9M72.1 74.0h0.9M67.2 82.3h0.9M65.5 81.6h0.9M71.0 74.2h0.9M82.8 67.3h0.9M70.5 74.4h0.9M69.7 78.1h0.9M77.3 75.3h0.9M69.4 72.8h0.9M71.6 83.4h0.9M75.8 69.3h0.9M80.2 62.1h0.9M73.6 75.8h0.9M80.1 66.8h0.9M69.3 81.1h0.9M82.9 73.8h0.9M75.0 76.3h0.9M75.1 67.2h0.9M80.4 66.7h0.9M78.7 73.5h0.9M75.1 77.1h0.9M73.1 72.7h0.9M84.4 61.6h0.9M79.0 67.4h0.9M74.5 69.6h0.9M81.2 67.9h0.9M74.5 72.9h0.9M74.1 75.9h0.9M81.2 68.7h0.9M67.1 82.0h0.9M75.7 82.9h0.9M68.3 79.7h0.9M68.7 84.4h0.9M77.2 72.0h0.9M74.4 77.0h0.9M81.1 75.8h0.9M77.0 67.8h0.9M75.4 79.4h0.9M69.3 77.0h0.9M73.6 80.4h0.9M66.0 80.1h0.9M75.1 74.3h0.9M81.5 64.0h0.9M70.8 78.5h0.9M82.2 72.0h0.9M75.4 81.1h0.9M79.9 69.6h0.9M70.7 77.6h0.9M82.2 71.8h0.9M67.1 79.3h0.9M83.7 57.2h0.9M80.7 68.3h0.9M73.8 76.6h0.9M80.2 70.5h0.9M80.7 68.8h0.9M86.8 76.5h0.9M71.1 76.1h0.9M79.8 67.7h0.9M81.7 63.7h0.9M82.3 72.0h0.9M76.4 69.8h0.9M79.2 64.3h0.9M76.5 73.0h0.9M70.3 78.2h0.9M73.1 79.8h0.9M71.3 69.3h0.9M84.2 68.8h0.9M71.5 81.4h0.9M72.5 76.8h0.9M76.5 70.4h0.9M73.7 79.6h0.9M76.9 71.9h0.9M75.4 77.4h0.9M85.0 73.4h0.9M75.8 75.1h0.9M73.4 83.7h0.9M78.6 74.5h0.9M79.5 66.9h0.9M89.6 64.9h0.9M86.6 65.6h0.9M77.6 67.4h0.9M78.3 73.4h0.9M79.1 80.9h0.9M77.7 77.6h0.9M81.3 72.3h0.9M74.9 73.6h0.9M77.0 73.2h0.9M77.1 75.7h0.9M76.9 69.5h0.9M69.0 73.9h0.9M83.6 74.1h0.9M86.2 58.3h0.9M69.4 73.7h0.9M58.8 81.4h0.9M75.0 84.7h0.9M72.4 78.0h0.9M72.9 73.6h0.9M70.3 75.5h0.9M80.7 74.6h0.9M80.5 67.3h0.9M72.4 71.7h0.9M72.9 80.5h0.9M83.0 65.9h0.9M78.2 68.4h0.9M74.5 72.6h0.9M70.8 77.2h0.9M72.6 78.7h0.9M71.7 77.0h0.9M75.8 68.6h0.9M76.9 78.9h0.9M71.5 87.6h0.9M75.2 74.6h0.9M75.1 75.7h0.9M73.3 83.4h0.9M78.4 68.0h0.9M71.9 81.5h0.9M81.0 75.3h0.9M77.7 71.2h0.9M73.4 67.1h0.9M69.9 75.5h0.9M77.1 69.2h0.9M73.6 77.4h0.9M72.1 70.1h0.9M73.1 70.1h0.9M76.5 76.2h0.9M82.5 78.3h0.9M76.2 77.8h0.9M75.7 74.1h0.9M75.8 81.2h0.9M85.1 69.5h0.9M77.3 78.6h0.9M71.4 73.4h0.9M86.7 71.8h0.9M71.9 71.9h0.9M74.4 74.8h0.9M78.2 59.2h0.9M84.3 66.2h0.9M76.3 73.0h0.9M77.3 76.6h0.9M84.8 62.3h0.9M76.9 66.8h0.9M78.8 70.7h0.9M73.9 69.2h0.9M84.3 75.8h0.9M76.6 64.6h0.9M77.3 76.5h0.9M71.8 73.7h0.9M70.5 77.2h0.9M79.9 66.6h0.9M79.2 74.8h0.9M74.1 77.0h0.9M73.1 78.8h0.9M69.2 75.3h0.9M85.5 67.4h0.9M81.8 66.0h0.9M75.9 72.2h0.9M82.5 74.6h0.9M89.8 62.8h0.9M67.3 85.6h0.9M78.9 75.3h0.9M65.9 80.5h0.9M75.9 73.8h0.9M74.9 77.0h0.9M72.9 76.2h0.9M74.8 72.6h0.9M79.2 70.1h0.9M74.2 70.5h0.9M69.9 81.6h0.9M85.6 69.1h0.9M81.3 71.1h0.9M77.6 74.3h0.9M74.5 73.4h0.9M82.2 78.5h0.9M86.3 62.5h0.9M72.1 73.7h0.9M88.4 71.6h0.9M84.0 76.5h0.9M74.8 76.7h0.9M76.5 77.7h0.9M73.1 80.8h0.9M76.7 74.9h0.9M73.4 82.6h0.9M79.3 67.2h0.9M73.7 74.1h0.9M75.8 69.7h0.9M79.1 73.4h0.9M72.7 78.9h0.9M67.9 84.3h0.9M66.2 92.4h0.9M73.4 75.2h0.9M88.2 58.9h0.9M81.3 79.0h0.9M87.8 71.0h0.9M79.8 74.1h0.9M87.8 61.1h0.9M80.1 73.6h0.9M73.3 71.7h0.9M74.7 80.2h0.9M77.1 79.1h0.9M72.1 79.4h0.9M78.7 63.7h0.9M73.1 82.3h0.9M75.2 73.4h0.9M76.7 74.0h0.9M76.3 70.5h0.9M68.4 85.4h0.9M75.8 67.8h0.9M81.8 71.7h0.9M73.0 77.2h0.9M75.7 73.4h0.9M85.0 71.0h0.9M82.0 81.2h0.9M79.6 69.6h0.9M72.4 77.8h0.9M80.0 64.6h0.9M77.3 75.1h0.9M79.9 75.6h0.9M73.5 79.6h0.9M76.0 73.4h0.9M77.0 78.7h0.9M77.8 75.1h0.9M74.3 69.0h0.9M83.1 70.4h0.9M79.3 79.6h0.9M78.9 76.0h0.9M74.0 82.8h0.9M78.8 70.3h0.9M73.6 72.3h0.9M77.6 78.5h0.9M84.2 75.7h0.9M77.5 71.9h0.9M75.9 71.0h0.9M75.1 76.0h0.9M71.5 83.7h0.9M73.9 76.1h0.9M82.5 66.3h0.9M83.0 71.6h0.9M81.5 77.4h0.9M76.0 79.4h0.9M76.4 75.5h0.9M76.6 79.2h0.9M81.1 71.2h0.9M65.6 87.1h0.9M76.0 70.9h0.9M86.1 69.0h0.9M54.7 110.1h0.9M67.7 112.2h0.9M47.9 112.5h0.9M49.0 109.3h0.9M52.7 117.2h0.9M44.6 113.7h0.9M48.5 109.0h0.9M65.0 103.2h0.9M68.2 105.6h0.9M48.5 95.4h0.9M55.8 112.3h0.9M51.4 102.3h0.9M68.5 97.3h0.9M56.7 114.4h0.9M40.9 112.9h0.9M68.7 100.1h0.9M65.8 104.1h0.9M77.2 103.4h0.9M46.7 109.0h0.9M47.8 103.3h0.9M72.0 99.5h0.9M42.3 118.2h0.9M62.6 114.5h0.9M61.4 116.9h0.9M48.3 106.5h0.9M43.9 105.3h0.9M64.3 95.7h0.9M51.7 108.4h0.9M55.3 105.1h0.9M66.0 114.0h0.9M75.6 98.8h0.9M47.4 110.0h0.9M45.6 105.9h0.9M41.2 106.9h0.9M70.7 96.5h0.9M60.9 99.5h0.9M50.0 102.1h0.9M55.4 103.2h0.9M48.3 106.9h0.9M78.7 96.9h0.9M69.4 107.1h0.9M52.5 103.1h0.9M62.3 117.1h0.9M65.4 99.1h0.9M56.7 102.7h0.9M61.2 110.2h0.9M55.3 108.2h0.9M55.7 106.5h0.9M60.8 113.5h0.9M60.6 105.8h0.9M55.2 108.7h0.9M58.7 114.0h0.9M55.4 109.1h0.9M54.0 101.3h0.9M63.6 98.6h0.9M51.5 103.9h0.9M68.5 106.4h0.9M45.7 98.1h0.9M58.0 114.7h0.9M53.2 104.3h0.9M57.6 113.2h0.9M68.1 104.1h0.9M66.0 105.0h0.9M47.0 110.5h0.9M70.6 107.0h0.9M54.4 111.2h0.9M42.6 118.0h0.9M50.4 111.3h0.9M68.4 103.8h0.9M51.6 106.0h0.9M52.5 102.9h0.9M60.5 109.4h0.9M59.9 115.5h0.9M49.7 109.8h0.9M58.0 108.1h0.9M68.5 109.4h0.9M64.7 109.3h0.9M55.1 115.5h0.9M56.8 114.6h0.9M67.4 109.2h0.9M58.1 108.6h0.9M55.6 114.3h0.9M80.6 104.0h0.9M75.4 111.4h0.9M77.9 95.5h0.9M78.4 113.7h0.9M71.2 104.9h0.9M58.8 94.6h0.9M60.2 111.3h0.9M58.8 113.6h0.9M59.5 107.0h0.9M60.3 109.1h0.9M51.6 104.5h0.9M66.7 115.3h0.9M67.3 98.7h0.9M55.5 104.9h0.9M51.7 113.7h0.9M67.9 100.4h0.9M63.9 94.9h0.9M55.6 92.5h0.9M41.0 111.1h0.9M58.9 103.9h0.9M80.0 95.4h0.9M71.9 103.9h0.9M56.2 107.0h0.9M60.5 104.5h0.9M61.2 108.8h0.9M64.6 103.7h0.9M58.9 116.1h0.9M50.2 108.4h0.9M49.0 112.3h0.9M42.3 114.6h0.9M54.8 105.2h0.9M44.9 114.0h0.9M53.8 98.1h0.9M78.3 104.7h0.9M46.7 115.6h0.9M72.6 110.9h0.9M62.2 108.9h0.9M48.6 104.0h0.9M59.0 92.7h0.9M63.5 93.5h0.9M49.7 109.7h0.9M44.2 113.1h0.9M63.4 108.3h0.9M60.8 110.8h0.9M49.5 102.5h0.9M55.1 108.4h0.9M60.2 112.9h0.9M55.8 92.2h0.9M55.9 104.8h0.9M82.3 103.4h0.9M46.5 105.0h0.9M58.1 100.6h0.9M43.1 100.4h0.9M55.1 111.2h0.9M55.0 99.9h0.9M56.1 110.6h0.9M68.2 107.1h0.9M73.1 96.8h0.9M76.7 110.1h0.9M48.6 114.4h0.9M64.0 97.7h0.9M54.2 108.9h0.9M65.8 106.4h0.9M47.4 111.4h0.9M64.5 91.1h0.9M58.5 108.3h0.9M57.5 104.4h0.9M64.7 110.6h0.9M55.8 108.6h0.9M66.1 101.0h0.9M51.4 101.9h0.9M70.1 102.0h0.9M40.4 112.9h0.9M56.6 98.0h0.9M64.4 115.6h0.9M52.1 113.8h0.9M46.2 110.1h0.9M57.7 108.2h0.9M47.4 113.0h0.9M49.1 110.5h0.9M64.1 104.0h0.9M68.3 111.7h0.9M80.7 100.2h0.9M69.0 104.5h0.9M47.6 110.5h0.9M53.3 104.7h0.9M61.7 109.0h0.9M51.2 114.3h0.9M51.0 99.1h0.9M47.9 107.6h0.9M56.2 97.4h0.9M61.0 101.5h0.9M53.1 98.4h0.9M54.6 109.0h0.9M67.9 100.5h0.9M67.1 111.3h0.9M85.8 98.1h0.9M74.9 100.2h0.9M43.5 106.4h0.9M51.9 102.9h0.9M70.4 111.7h0.9M57.0 105.7h0.9M48.9 100.8h0.9M45.4 110.5h0.9M48.0 105.1h0.9M47.5 104.9h0.9M45.0 118.3h0.9M44.5 114.1h0.9M42.8 92.2h0.9M44.2 108.7h0.9M53.4 106.4h0.9M71.4 100.3h0.9M61.3 100.2h0.9M67.5 111.8h0.9M75.4 106.5h0.9M57.1 103.9h0.9M57.3 101.7h0.9M54.4 90.5h0.9M52.7 108.4h0.9M61.9 110.2h0.9M69.2 100.4h0.9M80.4 111.8h0.9M45.8 102.1h0.9M57.3 114.0h0.9M49.5 112.0h0.9M64.6 101.2h0.9M55.3 114.3h0.9M63.5 98.2h0.9M42.0 112.8h0.9M47.7 115.2h0.9M65.3 100.7h0.9M51.5 110.3h0.9M42.6 111.2h0.9M54.1 101.0h0.9M41.0 104.0h0.9M46.4 100.3h0.9M42.0 100.2h0.9M62.3 114.4h0.9M65.1 106.0h0.9M57.3 91.5h0.9M51.9 111.8h0.9M69.6 108.4h0.9M63.3 99.0h0.9M53.8 103.6h0.9M47.4 116.7h0.9M76.8 90.7h0.9M47.3 106.5h0.9M52.1 116.6h0.9M57.9 99.9h0.9M89.2 101.1h0.9M67.0 107.2h0.9M49.9 99.6h0.9M42.6 102.8h0.9M59.2 103.2h0.9M58.4 99.4h0.9M50.0 110.8h0.9M49.7 105.8h0.9M87.9 95.6h0.9M57.2 114.1h0.9M58.3 105.5h0.9M64.3 110.4h0.9M59.6 102.7h0.9M65.1 109.4h0.9M58.9 95.4h0.9M46.2 105.3h0.9M51.2 111.5h0.9M61.9 105.2h0.9M73.7 115.1h0.9M55.7 93.6h0.9M53.4 108.8h0.9M47.9 113.4h0.9M76.4 110.3h0.9M60.8 103.4h0.9M56.2 94.8h0.9M53.9 112.0h0.9M54.0 99.6h0.9M62.8 97.4h0.9M53.6 114.0h0.9M41.1 106.3h0.9M53.0 112.3h0.9M61.1 105.5h0.9M43.4 107.8h0.9M51.8 96.9h0.9M57.2 115.7h0.9M46.6 110.4h0.9M62.2 105.1h0.9M46.2 104.7h0.9M41.9 104.4h0.9M75.4 96.0h0.9M73.5 94.0h0.9M40.6 110.1h0.9M54.1 116.2h0.9M55.7 110.9h0.9M71.4 98.6h0.9M57.3 111.7h0.9M59.4 106.0h0.9M59.5 104.8h0.9M50.6 107.0h0.9M63.9 117.3h0.9M56.0 101.1h0.9M56.0 116.3h0.9M59.6 103.5h0.9M63.3 105.0h0.9M59.2 112.8h0.9M47.6 111.7h0.9M76.0 105.4h0.9M57.9 108.6h0.9M68.5 101.4h0.9M72.6 110.5h0.9M59.1 110.9h0.9M62.7 102.7h0.9M78.0 105.2h0.9M68.5 101.7h0.9M42.4 105.4h0.9M43.0 106.2h0.9M60.5 105.2h0.9M65.6 106.8h0.9M41.5 102.1h0.9M62.8 93.7h0.9M50.9 104.3h0.9M59.8 107.0h0.9M45.4 104.7h0.9M56.2 114.4h0.9M53.2 111.0h0.9M59.8 109.0h0.9M56.6 117.7h0.9M45.6 108.6h0.9M86.5 105.3h0.9M44.2 104.3h0.9M78.0 94.5h0.9M41.8 103.8h0.9M61.0 108.1h0.9M55.4 104.1h0.9M54.0 98.6h0.9M65.7 109.4h0.9M65.4 111.7h0.9M51.0 111.0h0.9M47.7 113.2h0.9M65.1 103.3h0.9M62.6 113.5h0.9M55.7 102.2h0.9M72.3 107.5h0.9M56.0 115.0h0.9M68.1 106.0h0.9M63.7 107.1h0.9M47.4 117.3h0.9M69.3 113.3h0.9M59.3 99.9h0.9M54.8 97.9h0.9M55.4 109.9h0.9M58.3 110.9h0.9M58.9 107.1h0.9M72.9 103.9h0.9M64.8 102.5h0.9M56.5 109.0h0.9M72.9 92.8h0.9M59.5 110.2h0.9M52.0 114.9h0.9M53.6 101.2h0.9M66.0 102.1h0.9M52.0 110.2h0.9M54.7 107.0h0.9M47.5 111.3h0.9M51.8 110.9h0.9M60.1 99.6h0.9M49.6 112.2h0.9M57.1 104.6h0.9M58.1 109.1h0.9M69.5 105.3h0.9M48.1 113.8h0.9M55.1 114.6h0.9M56.3 104.8h0.9M55.2 114.2h0.9M52.0 113.4h0.9M82.0 109.7h0.9M57.6 101.5h0.9M50.0 102.4h0.9M45.2 106.8h0.9M80.7 103.8h0.9M61.4 96.7h0.9M62.3 104.7h0.9M48.5 113.4h0.9M53.3 100.3h0.9M49.0 112.1h0.9M46.7 113.0h0.9M68.6 102.1h0.9M64.2 110.6h0.9M60.8 110.9h0.9M43.2 103.5h0.9M51.8 113.7h0.9M52.1 102.9h0.9M46.4 104.1h0.9M44.2 113.3h0.9M42.7 110.0h0.9M75.9 115.2h0.9M59.3 116.5h0.9M50.7 113.7h0.9M43.8 109.0h0.9M56.7 107.7h0.9M78.1 102.7h0.9M65.7 113.5h0.9M61.0 109.7h0.9M61.0 111.2h0.9M41.8 108.5h0.9M52.1 98.9h0.9M52.6 114.5h0.9M63.7 113.6h0.9M77.8 89.6h0.9M71.4 100.6h0.9M54.6 107.5h0.9M57.0 112.5h0.9M58.8 98.3h0.9M73.8 118.1h0.9M83.9 99.8h0.9M65.3 105.5h0.9M67.4 110.3h0.9M53.6 116.0h0.9M73.6 106.2h0.9M69.3 110.8h0.9M62.2 106.6h0.9M56.3 118.2h0.9M65.8 101.7h0.9M75.5 106.4h0.9M61.4 109.4h0.9M67.7 102.4h0.9M41.8 110.0h0.9M48.1 113.3h0.9M56.9 96.7h0.9M43.1 112.1h0.9M72.1 89.0h0.9M67.5 112.2h0.9M47.9 109.5h0.9M54.6 113.4h0.9M59.4 109.7h0.9M49.8 94.1h0.9M61.9 115.7h0.9M59.7 105.9h0.9M61.8 103.0h0.9M40.6 109.6h0.9M62.7 84.6h0.9M59.0 93.4h0.9M78.9 107.7h0.9M43.2 97.6h0.9M45.2 113.6h0.9M65.9 110.4h0.9M73.3 95.2h0.9M71.1 96.4h0.9M42.0 101.9h0.9M67.8 98.3h0.9M52.0 106.4h0.9M43.2 106.0h0.9M70.2 100.8h0.9M53.1 102.0h0.9M62.4 106.5h0.9M63.9 98.2h0.9M51.0 112.4h0.9M57.1 107.7h0.9M40.8 117.3h0.9M72.6 103.5h0.9M55.1 112.8h0.9M57.0 102.9h0.9M58.1 94.8h0.9M54.7 103.8h0.9M47.9 102.4h0.9M59.2 100.0h0.9M69.7 109.1h0.9M61.8 109.2h0.9M69.4 104.9h0.9M75.6 99.4h0.9M62.6 109.9h0.9M52.9 107.0h0.9M45.4 111.4h0.9M50.0 114.2h0.9M55.8 105.5h0.9M50.8 105.8h0.9M52.4 116.0h0.9M44.3 107.7h0.9M71.3 103.3h0.9M58.8 114.4h0.9M59.9 105.0h0.9M45.6 106.7h0.9M60.2 118.3h0.9M50.6 102.0h0.9M48.7 109.6h0.9M52.0 104.8h0.9M55.4 106.3h0.9M53.9 117.8h0.9M48.4 97.8h0.9M65.0 94.3h0.9M66.2 108.8h0.9M49.6 104.8h0.9M51.0 103.4h0.9M70.9 94.1h0.9M68.4 114.2h0.9M74.1 111.6h0.9M55.2 103.4h0.9M56.9 111.7h0.9M57.0 114.1h0.9M41.4 113.3h0.9M51.4 108.1h0.9M49.5 101.3h0.9M50.9 110.1h0.9M66.2 98.9h0.9M49.0 95.7h0.9M62.9 95.2h0.9M67.3 103.7h0.9M53.4 115.7h0.9M47.5 117.6h0.9M47.6 106.2h0.9M41.0 107.7h0.9M65.6 115.6h0.9M46.2 111.3h0.9M47.7 115.5h0.9M72.3 102.8h0.9M70.4 104.7h0.9M66.1 114.3h0.9M47.9 103.7h0.9M53.9 99.5h0.9M56.0 111.2h0.9M49.3 95.7h0.9M60.6 109.8h0.9M53.7 116.0h0.9M72.4 107.0h0.9M64.0 106.8h0.9M51.7 113.2h0.9M63.1 106.9h0.9M67.8 94.7h0.9M48.6 108.8h0.9M74.3 97.0h0.9M57.9 117.7h0.9M43.9 115.8h0.9M77.6 101.4h0.9M50.3 111.5h0.9M50.1 107.2h0.9M55.2 100.8h0.9M67.8 106.5h0.9M60.8 109.8h0.9M48.3 109.2h0.9M41.2 109.1h0.9M65.0 101.8h0.9M53.4 100.7h0.9M83.5 108.0h0.9M64.5 101.5h0.9M58.7 99.9h0.9M69.2 105.3h0.9M44.0 99.8h0.9M54.1 99.6h0.9M45.7 108.3h0.9M55.0 107.0h0.9M60.5 95.7h0.9M46.3 100.1h0.9M69.8 101.9h0.9M64.8 107.0h0.9M43.5 112.1h0.9M53.2 108.2h0.9M42.1 98.0h0.9M49.6 102.4h0.9M70.9 103.7h0.9M61.4 110.1h0.9M52.1 98.4h0.9M70.7 108.7h0.9M42.6 105.5h0.9M59.4 108.3h0.9M76.8 99.9h0.9M60.9 100.6h0.9M84.9 106.9h0.9M51.8 109.7h0.9M80.4 111.8h0.9M59.9 105.3h0.9M84.5 106.8h0.9M42.4 106.5h0.9M55.1 110.3h0.9M43.8 111.0h0.9M62.4 102.6h0.9M85.8 94.5h0.9M43.5 112.2h0.9M66.3 107.3h0.9M80.2 99.5h0.9M50.2 113.6h0.9M66.6 111.1h0.9M43.9 99.5h0.9M80.9 105.6h0.9M55.4 108.9h0.9M62.3 103.8h0.9M55.6 96.1h0.9M40.7 115.3h0.9M47.4 110.8h0.9M46.2 96.9h0.9M61.6 101.3h0.9M56.5 109.7h0.9M67.6 116.6h0.9M68.1 101.3h0.9M50.6 100.0h0.9M49.5 113.4h0.9M55.0 109.6h0.9M64.8 93.7h0.9M62.9 103.5h0.9M62.4 111.2h0.9M83.4 92.9h0.9M80.3 110.8h0.9M61.7 102.4h0.9M70.7 110.1h0.9M61.0 107.7h0.9M82.7 109.0h0.9M51.5 112.3h0.9M58.8 111.7h0.9M49.9 107.2h0.9M54.2 104.4h0.9M48.1 115.8h0.9M74.3 101.4h0.9M77.6 111.8h0.9M46.8 101.4h0.9M44.3 103.2h0.9M71.9 102.5h0.9M59.7 98.9h0.9M58.5 99.9h0.9M54.7 107.6h0.9M45.5 106.8h0.9M70.0 94.9h0.9M61.0 116.9h0.9M43.9 105.9h0.9M42.0 102.8h0.9M42.3 108.1h0.9M46.9 114.0h0.9M59.5 108.9h0.9M68.7 103.8h0.9M46.9 110.3h0.9M69.8 111.4h0.9M74.8 97.3h0.9M49.1 100.7h0.9M61.7 102.2h0.9M69.7 94.4h0.9M51.0 113.0h0.9M51.6 110.4h0.9M63.0 108.2h0.9M73.8 103.2h0.9M60.7 104.0h0.9M73.4 100.2h0.9M54.5 116.3h0.9M66.9 109.2h0.9M49.9 108.0h0.9M61.3 113.5h0.9M45.3 102.5h0.9M50.7 99.4h0.9M62.8 96.8h0.9M70.9 99.0h0.9M68.5 108.1h0.9M45.2 108.4h0.9M70.7 109.5h0.9M77.6 88.8h0.9M47.5 114.1h0.9M43.0 109.1h0.9M70.4 100.4h0.9M47.2 104.3h0.9M62.0 96.3h0.9M71.3 109.6h0.9M48.0 101.3h0.9M68.0 100.6h0.9M46.8 101.6h0.9M54.2 93.0h0.9M71.8 106.5h0.9M42.5 102.7h0.9M66.4 110.5h0.9M59.5 102.8h0.9M49.3 110.4h0.9M42.9 116.2h0.9M62.5 105.1h0.9M54.1 98.5h0.9M69.1 111.0h0.9M76.8 109.3h0.9M51.7 107.5h0.9M49.5 112.3h0.9M57.9 105.3h0.9M66.4 102.6h0.9M64.3 105.6h0.9M79.8 108.8h0.9M48.9 104.3h0.9M56.5 103.9h0.9M56.4 114.4h0.9M76.4 111.6h0.9M62.5 116.4h0.9M52.3 117.0h0.9M50.1 116.5h0.9M53.4 102.4h0.9M48.2 114.3h0.9M59.5 114.0h0.9M70.6 102.4h0.9M68.6 114.4h0.9M41.9 116.4h0.9M51.0 110.4h0.9M65.3 101.7h0.9M46.5 110.8h0.9M84.6 98.3h0.9M52.5 111.1h0.9M53.2 102.5h0.9M46.0 108.0h0.9M72.4 113.4h0.9M85.1 94.6h0.9M49.3 106.7h0.9M45.8 109.4h0.9M57.7 106.1h0.9M67.5 99.6h0.9M48.1 113.4h0.9M54.1 103.2h0.9M44.0 98.7h0.9M59.1 105.1h0.9M66.0 106.3h0.9M62.2 100.6h0.9M40.4 111.8h0.9M44.4 115.9h0.9M58.4 108.9h0.9M50.2 84.8h0.9M72.5 103.8h0.9M46.3 106.1h0.9M62.5 116.0h0.9M69.6 114.6h0.9M56.5 105.0h0.9M52.7 104.8h0.9M43.0 116.3h0.9M40.8 115.5h0.9M64.6 104.6h0.9M43.5 108.0h0.9M64.1 113.7h0.9M45.7 110.1h0.9M58.5 110.1h0.9M45.9 115.5h0.9M59.4 109.9h0.9M45.8 115.5h0.9M91.8 92.9h0.9M64.3 104.2h0.9M54.2 114.6h0.9M47.1 109.0h0.9M63.1 108.1h0.9M80.9 104.3h0.9M59.6 106.1h0.9M42.7 114.2h0.9M59.7 113.0h0.9M49.8 110.0h0.9M51.7 110.6h0.9M58.5 104.0h0.9M53.2 101.8h0.9M72.7 112.7h0.9M57.9 107.1h0.9M56.7 107.7h0.9M54.8 108.5h0.9M66.5 111.7h0.9M65.2 112.7h0.9M77.1 95.3h0.9M42.5 110.0h0.9M63.9 108.4h0.9M68.1 105.3h0.9M81.7 98.4h0.9M63.9 109.6h0.9M42.8 105.1h0.9M76.7 86.2h0.9M61.8 101.2h0.9M70.7 113.5h0.9M53.7 92.0h0.9M43.9 108.1h0.9M60.4 117.5h0.9M60.1 114.8h0.9M53.9 103.1h0.9M47.8 105.6h0.9M41.3 118.0h0.9M55.2 112.2h0.9M47.6 107.9h0.9M43.5 109.2h0.9M45.8 103.6h0.9M54.4 111.0h0.9M64.1 102.9h0.9M62.7 111.2h0.9M64.6 108.7h0.9M75.1 104.0h0.9M41.6 109.3h0.9M42.2 115.5h0.9M49.3 107.6h0.9M60.9 104.9h0.9M55.0 111.7h0.9M49.2 107.4h0.9M54.7 110.8h0.9M73.8 98.2h0.9M64.5 104.4h0.9M57.9 105.6h0.9M66.8 109.9h0.9M48.8 98.2h0.9M52.9 100.8h0.9M59.9 107.5h0.9M57.2 107.2h0.9M46.3 118.0h0.9M69.6 116.3h0.9M47.8 116.5h0.9M66.8 110.9h0.9M48.8 105.9h0.9M58.1 108.7h0.9M45.3 118.3h0.9M49.5 117.9h0.9M59.3 100.6h0.9M55.9 117.9h0.9M45.0 103.3h0.9M60.1 114.0h0.9M61.2 106.0h0.9M48.1 97.2h0.9M45.7 112.8h0.9M46.2 103.5h0.9M63.4 102.0h0.9M51.8 109.4h0.9M65.6 117.4h0.9M60.9 116.2h0.9M58.3 107.9h0.9M63.9 99.2h0.9M61.1 112.6h0.9M60.0 105.5h0.9M58.4 97.9h0.9M63.8 109.9h0.9M73.1 107.9h0.9M50.4 101.6h0.9M48.6 110.3h0.9M54.3 117.8h0.9M45.0 102.3h0.9M52.3 112.2h0.9M74.8 112.5h0.9M54.5 110.8h0.9M66.0 106.0h0.9M50.6 107.0h0.9M50.4 94.6h0.9M80.3 95.3h0.9M66.0 109.2h0.9M66.6 107.3h0.9M68.4 109.5h0.9M67.6 109.1h0.9M43.9 99.8h0.9M67.0 97.1h0.9M72.3 98.8h0.9M64.4 95.8h0.9M54.5 112.0h0.9M70.3 100.5h0.9M54.4 106.6h0.9M64.8 111.3h0.9M45.4 115.1h0.9M58.3 115.5h0.9M65.4 108.3h0.9M53.2 103.6h0.9M55.3 97.1h0.9M58.4 93.4h0.9M40.1 113.8h0.9M43.8 117.1h0.9M66.9 108.1h0.9M59.7 98.7h0.9M69.8 107.4h0.9M58.9 103.9h0.9M57.4 114.2h0.9M58.0 99.6h0.9M47.4 95.6h0.9M55.1 116.0h0.9M52.4 114.0h0.9M50.0 114.3h0.9M51.9 103.0h0.9M57.7 106.8h0.9M48.6 104.3h0.9M63.7 104.6h0.9M54.5 102.8h0.9M44.5 112.6h0.9M55.8 108.5h0.9M55.8 113.9h0.9M55.2 102.2h0.9M56.9 101.3h0.9M48.7 109.6h0.9M49.3 115.1h0.9M94.2 100.6h0.9M77.6 103.7h0.9M66.0 106.0h0.9M52.5 108.1h0.9M79.5 106.5h0.9M53.8 104.8h0.9M57.0 95.0h0.9M66.0 102.8h0.9M59.6 106.3h0.9M68.8 108.4h0.9M58.8 97.6h0.9M64.5 103.0h0.9M45.2 113.7h0.9M59.2 107.1h0.9M63.4 109.2h0.9M44.5 104.0h0.9M52.9 109.6h0.9M61.7 110.3h0.9M57.7 108.7h0.9M53.7 114.5h0.9M54.2 112.7h0.9M54.1 113.4h0.9M52.5 108.2h0.9M60.0 106.7h0.9M70.2 109.5h0.9M69.6 110.3h0.9M51.3 107.9h0.9M66.5 108.1h0.9M62.4 113.4h0.9M60.8 104.4h0.9M67.9 97.1h0.9M53.6 106.9h0.9M74.6 99.5h0.9M46.6 101.7h0.9M69.0 115.6h0.9M72.3 106.4h0.9M69.4 102.8h0.9M61.5 110.3h0.9M82.8 86.0h0.9M71.8 110.9h0.9M54.2 96.4h0.9M50.0 114.1h0.9M57.5 105.1h0.9M51.5 117.2h0.9M54.0 111.9h0.9M55.0 105.4h0.9M66.8 106.9h0.9M58.3 105.5h0.9M44.2 114.0h0.9M41.7 100.3h0.9M47.1 105.8h0.9M63.7 100.0h0.9M41.3 117.1h0.9M62.1 98.4h0.9M54.1 105.0h0.9M77.3 100.8h0.9M55.1 108.9h0.9M58.4 103.4h0.9M77.2 104.3h0.9M44.0 108.9h0.9M40.4 111.8h0.9M67.1 100.6h0.9M71.3 92.0h0.9M53.1 114.5h0.9M56.2 100.0h0.9M43.4 113.5h0.9M63.5 110.7h0.9M45.1 97.5h0.9M46.0 111.1h0.9M59.2 104.1h0.9M64.6 111.9h0.9M68.8 99.6h0.9M80.3 114.7h0.9M42.6 114.2h0.9M51.6 105.9h0.9M60.9 110.8h0.9M65.8 113.9h0.9M59.7 100.8h0.9M47.5 107.0h0.9M83.8 104.8h0.9M73.4 111.0h0.9M71.3 91.1h0.9M51.9 111.7h0.9M51.7 100.4h0.9M41.7 101.1h0.9M59.5 101.4h0.9M61.0 112.4h0.9M63.8 109.8h0.9M43.7 98.9h0.9M68.9 102.0h0.9M62.8 108.2h0.9M80.1 106.9h0.9M45.5 109.1h0.9M72.2 103.9h0.9M62.6 110.1h0.9M57.2 112.5h0.9M62.7 116.1h0.9M82.0 94.4h0.9M46.5 99.6h0.9M43.9 102.3h0.9M52.4 102.3h0.9M60.7 107.8h0.9M55.7 105.2h0.9M68.5 111.1h0.9M55.4 109.6h0.9M91.3 95.2h0.9M62.1 108.3h0.9M76.9 103.0h0.9M42.3 102.0h0.9M87.2 99.3h0.9M49.7 107.1h0.9M56.1 101.0h0.9M51.5 106.7h0.9M58.7 106.5h0.9M45.8 111.9h0.9M69.7 103.5h0.9M48.4 106.4h0.9M42.0 116.5h0.9M67.8 107.1h0.9M57.1 113.7h0.9M61.1 96.5h0.9M48.5 111.3h0.9M48.6 109.4h0.9M50.1 105.6h0.9M50.5 114.9h0.9M57.0 113.1h0.9M75.7 97.5h0.9M51.7 108.1h0.9M71.3 106.6h0.9M43.0 100.7h0.9M48.9 112.9h0.9M47.7 102.0h0.9M45.9 99.8h0.9M71.6 113.3h0.9M53.0 116.7h0.9M84.7 107.7h0.9M55.8 107.7h0.9M68.9 106.9h0.9M67.2 98.3h0.9M58.6 98.6h0.9M63.9 103.7h0.9M56.2 113.2h0.9M44.4 108.5h0.9M59.8 107.1h0.9M45.9 115.0h0.9M58.1 93.0h0.9M52.3 111.0h0.9M59.9 99.9h0.9M58.8 105.5h0.9M60.4 96.6h0.9M59.8 110.8h0.9M61.2 106.7h0.9M80.3 100.4h0.9M54.6 99.6h0.9M77.1 105.5h0.9M65.8 108.8h0.9M61.2 110.8h0.9M56.8 97.1h0.9M55.5 105.6h0.9M46.1 107.0h0.9M61.2 112.4h0.9M41.7 116.5h0.9M42.9 114.1h0.9M46.8 116.1h0.9M50.1 109.6h0.9M54.5 106.5h0.9M59.5 106.7h0.9M50.2 101.3h0.9M80.0 104.0h0.9M75.3 104.8h0.9M55.1 116.0h0.9M60.0 98.6h0.9M64.9 105.9h0.9M80.8 102.2h0.9M56.2 112.2h0.9M59.3 107.7h0.9M63.4 102.7h0.9M77.2 103.5h0.9M48.9 102.7h0.9M45.2 111.1h0.9M68.5 111.8h0.9M55.1 109.2h0.9M49.4 109.2h0.9M60.4 109.9h0.9M60.1 107.2h0.9M60.9 96.2h0.9M62.6 102.7h0.9M56.7 115.8h0.9M76.2 103.7h0.9M80.8 94.5h0.9M57.7 91.7h0.9M78.3 103.4h0.9M53.9 107.5h0.9M55.6 101.9h0.9M61.5 114.7h0.9M54.1 112.7h0.9M50.5 102.0h0.9M43.2 112.0h0.9M66.3 100.0h0.9M42.6 108.5h0.9M55.5 112.4h0.9M51.0 98.4h0.9M48.6 116.1h0.9M51.7 114.2h0.9M43.0 104.8h0.9M41.4 113.6h0.9M50.1 110.3h0.9M64.4 109.1h0.9M44.8 105.5h0.9M59.8 104.2h0.9M63.1 108.4h0.9M41.8 118.3h0.9M60.8 111.4h0.9M50.8 108.1h0.9M59.8 103.3h0.9M56.4 99.1h0.9M48.5 109.4h0.9M54.2 110.5h0.9M45.1 106.3h0.9M53.8 97.2h0.9M79.4 88.6h0.9M63.3 117.3h0.9M64.9 109.2h0.9M58.4 98.2h0.9M61.6 106.3h0.9M63.4 107.0h0.9M57.2 104.7h0.9M67.7 95.2h0.9M64.6 107.8h0.9M53.8 99.2h0.9M51.4 94.1h0.9M61.1 117.9h0.9M52.5 116.5h0.9M57.3 98.0h0.9M60.1 104.2h0.9M63.4 103.6h0.9M56.0 105.5h0.9M70.3 105.1h0.9M50.9 111.8h0.9M69.5 103.9h0.9M77.8 109.0h0.9M66.9 103.4h0.9M59.4 103.1h0.9M65.0 93.5h0.9M56.8 111.6h0.9M56.3 116.1h0.9M48.9 111.9h0.9M58.3 109.4h0.9M55.6 105.2h0.9M55.2 94.5h0.9M44.2 105.0h0.9M56.7 104.3h0.9M74.6 100.4h0.9M76.0 96.6h0.9M58.5 107.3h0.9M53.7 107.6h0.9M68.8 100.6h0.9M62.5 105.2h0.9M60.8 100.9h0.9M58.4 105.7h0.9M59.5 116.8h0.9M50.5 117.1h0.9M93.8 101.1h0.9M51.5 97.2h0.9M46.4 106.2h0.9M75.9 98.9h0.9M44.0 103.7h0.9M53.3 98.7h0.9M43.7 111.6h0.9M55.7 109.3h0.9M79.6 109.2h0.9M42.6 108.6h0.9M55.2 110.3h0.9M53.2 105.2h0.9M72.2 100.0h0.9M53.3 107.0h0.9M54.8 113.5h0.9M49.6 111.5h0.9M46.7 111.6h0.9M55.6 111.4h0.9M77.9 111.4h0.9M71.8 110.0h0.9M56.1 115.7h0.9M52.5 102.4h0.9M41.5 112.9h0.9M53.1 109.4h0.9M43.4 116.8h0.9M49.1 99.0h0.9M59.6 108.0h0.9M57.5 116.0h0.9M55.8 108.0h0.9M50.1 99.2h0.9M43.2 114.2h0.9M56.1 100.2h0.9M54.0 118.3h0.9M60.7 99.6h0.9M46.7 99.4h0.9M81.2 98.9h0.9M62.5 104.6h0.9M61.8 109.0h0.9M56.2 104.0h0.9M61.1 111.3h0.9M43.9 117.4h0.9M40.5 89.1h0.9M66.3 103.5h0.9M49.2 98.6h0.9M62.3 107.8h0.9M57.4 102.6h0.9M47.4 107.1h0.9M70.8 100.2h0.9M54.1 101.2h0.9M66.2 106.6h0.9M69.3 105.7h0.9M47.4 110.4h0.9M55.1 105.7h0.9M59.9 114.5h0.9M45.3 103.9h0.9M46.3 111.9h0.9M41.1 111.7h0.9M42.7 113.9h0.9M40.2 115.3h0.9M51.1 105.5h0.9M46.3 100.4h0.9M72.3 109.2h0.9M75.8 113.4h0.9M58.0 109.5h0.9M53.9 111.7h0.9M57.1 105.5h0.9M57.4 115.2h0.9M49.3 108.5h0.9M76.0 107.9h0.9M43.1 108.6h0.9M54.7 115.9h0.9M47.6 98.3h0.9M59.4 104.6h0.9M46.2 104.7h0.9M58.1 101.1h0.9M54.8 109.1h0.9M43.4 116.9h0.9M52.5 110.8h0.9M53.0 109.8h0.9M56.8 110.3h0.9M51.2 115.4h0.9M56.7 94.9h0.9M56.7 99.8h0.9M44.7 105.1h0.9M63.3 103.0h0.9M68.3 108.0h0.9M41.2 105.4h0.9M73.6 112.6h0.9M70.4 98.0h0.9M41.5 108.9h0.9M57.4 112.9h0.9M53.1 110.6h0.9M59.9 115.1h0.9M66.5 117.3h0.9M57.1 102.5h0.9M46.9 113.6h0.9M79.1 104.2h0.9M69.6 99.2h0.9M43.1 105.4h0.9M49.2 107.3h0.9M67.0 97.9h0.9M65.7 106.8h0.9M55.8 115.0h0.9M52.4 110.0h0.9M50.0 108.8h0.9M51.9 114.6h0.9M43.7 107.4h0.9M74.9 98.0h0.9M46.8 93.2h0.9M60.9 110.1h0.9M59.5 99.6h0.9M59.6 116.5h0.9M55.9 100.6h0.9M51.3 100.2h0.9M56.2 115.6h0.9M51.3 107.4h0.9M41.9 109.5h0.9M51.8 109.4h0.9M52.8 108.5h0.9M63.2 102.4h0.9M48.8 109.1h0.9M67.8 100.3h0.9M63.0 106.0h0.9M52.4 109.6h0.9M62.7 106.6h0.9M66.9 85.4h0.9M52.6 97.4h0.9M64.4 97.6h0.9M44.9 102.3h0.9M50.4 106.0h0.9M67.5 94.3h0.9M49.6 112.2h0.9M51.8 110.9h0.9M56.4 108.5h0.9M57.7 101.3h0.9M52.4 111.8h0.9M51.4 102.3h0.9M56.5 104.5h0.9M68.1 104.6h0.9M59.1 103.2h0.9M44.8 103.2h0.9M48.5 105.4h0.9M49.8 109.8h0.9M50.4 102.3h0.9M63.2 100.1h0.9M54.1 113.4h0.9M40.9 107.9h0.9M51.4 97.7h0.9M81.1 95.6h0.9M60.9 95.8h0.9M77.9 106.0h0.9M62.4 94.5h0.9M60.2 111.3h0.9M67.1 115.9h0.9M72.1 94.7h0.9M55.7 102.4h0.9M64.7 107.1h0.9M49.9 116.0h0.9M61.4 107.4h0.9M44.2 108.2h0.9M58.2 103.8h0.9M61.5 98.4h0.9M59.8 95.9h0.9M48.2 98.4h0.9M41.4 109.6h0.9M64.6 113.8h0.9M54.1 111.8h0.9M66.1 112.4h0.9M65.5 105.9h0.9M75.8 98.1h0.9M48.6 106.1h0.9M62.3 111.3h0.9M58.4 115.4h0.9M86.3 104.0h0.9M46.8 99.0h0.9M73.0 109.3h0.9M67.7 100.2h0.9M47.6 107.1h0.9M48.3 103.3h0.9M53.6 115.4h0.9M48.1 94.2h0.9M47.6 109.8h0.9M69.0 113.8h0.9M80.1 114.5h0.9M65.9 115.8h0.9M54.0 98.7h0.9M54.9 109.9h0.9M50.6 116.0h0.9M67.4 108.0h0.9M46.1 107.9h0.9M65.6 98.4h0.9M47.6 114.9h0.9M63.7 96.3h0.9M52.3 102.7h0.9M77.5 103.0h0.9M60.2 116.3h0.9M44.6 117.3h0.9M60.7 100.3h0.9M55.5 105.5h0.9M56.3 103.1h0.9M48.4 117.9h0.9M58.0 97.4h0.9M52.6 97.9h0.9M65.4 113.6h0.9M70.0 109.3h0.9M82.2 96.2h0.9M70.0 92.5h0.9M45.0 109.7h0.9M63.6 108.4h0.9M59.6 93.2h0.9M44.6 105.7h0.9M65.9 95.8h0.9M51.2 103.0h0.9M47.5 107.6h0.9M41.7 108.2h0.9M60.6 92.7h0.9M70.3 108.9h0.9M68.9 106.6h0.9M48.6 104.5h0.9M52.1 97.2h0.9M60.7 112.4h0.9M59.5 109.6h0.9M42.7 114.0h0.9M65.4 107.5h0.9M42.5 105.7h0.9M72.9 106.8h0.9M52.6 114.9h0.9M53.5 103.6h0.9M59.3 99.5h0.9M66.4 101.0h0.9M63.3 113.3h0.9M70.6 103.5h0.9M65.2 115.4h0.9M51.7 105.9h0.9M45.6 110.4h0.9M63.8 116.1h0.9M42.5 116.0h0.9M52.2 100.9h0.9M46.9 110.1h0.9M47.2 109.5h0.9M62.4 99.0h0.9M48.9 118.1h0.9M59.8 109.7h0.9M57.9 99.3h0.9M41.4 112.8h0.9M58.5 95.5h0.9M59.2 113.5h0.9M58.4 104.0h0.9M45.6 101.5h0.9M55.7 111.7h0.9M63.7 99.9h0.9M52.2 107.7h0.9M58.7 108.3h0.9M51.2 102.3h0.9M64.3 108.6h0.9M67.6 112.2h0.9M46.0 109.7h0.9M50.7 114.5h0.9M47.8 108.6h0.9M59.7 114.5h0.9M43.7 103.5h0.9M59.2 108.3h0.9M74.1 109.1h0.9M56.5 108.5h0.9M54.3 105.5h0.9M59.6 97.2h0.9M42.5 112.7h0.9M49.8 110.2h0.9M55.8 102.2h0.9M65.6 108.2h0.9M63.9 102.3h0.9M70.0 113.6h0.9M71.6 109.0h0.9M43.1 96.1h0.9M57.4 95.9h0.9M53.2 108.3h0.9M66.2 111.6h0.9M50.1 105.4h0.9M59.3 96.7h0.9M64.7 108.4h0.9M63.3 111.3h0.9M49.5 107.6h0.9M76.3 99.1h0.9M40.2 109.8h0.9M46.8 106.5h0.9M78.8 105.0h0.9M50.4 105.0h0.9M60.3 108.5h0.9M63.1 108.2h0.9M54.1 91.9h0.9M56.1 103.5h0.9M66.1 107.9h0.9M62.1 109.8h0.9M42.1 112.0h0.9M73.1 98.4h0.9M43.7 108.8h0.9M65.0 104.8h0.9M49.5 111.0h0.9M46.0 104.4h0.9M58.2 105.3h0.9M52.2 94.2h0.9M56.0 98.4h0.9M62.7 112.6h0.9M58.6 111.2h0.9M65.3 101.3h0.9M54.0 101.6h0.9M56.1 104.0h0.9M57.5 113.9h0.9M44.1 112.3h0.9M55.3 108.6h0.9M54.5 111.9h0.9M55.9 111.1h0.9M72.5 109.1h0.9M74.6 112.4h0.9M54.5 87.6h0.9M58.8 111.1h0.9M52.4 117.0h0.9M47.7 110.5h0.9M77.6 94.8h0.9M54.0 112.8h0.9M66.8 100.9h0.9M46.4 96.9h0.9M78.7 100.6h0.9M51.3 105.5h0.9M83.3 101.2h0.9M72.5 108.1h0.9M56.8 109.3h0.9M46.4 106.4h0.9M46.9 118.4h0.9M52.4 117.7h0.9M64.3 111.9h0.9M50.3 102.3h0.9M55.3 104.2h0.9M62.0 106.8h0.9M41.6 109.0h0.9M51.3 98.8h0.9M55.6 115.7h0.9M45.9 113.4h0.9M60.1 100.0h0.9M54.2 98.9h0.9M71.8 110.3h0.9M69.2 116.8h0.9M73.3 106.4h0.9M69.8 105.5h0.9M68.0 105.0h0.9M56.3 104.5h0.9M63.8 111.9h0.9M54.0 107.9h0.9M60.6 94.1h0.9M58.6 105.5h0.9M61.3 109.7h0.9M53.4 111.8h0.9M72.3 98.1h0.9M51.9 112.4h0.9M65.9 103.0h0.9M56.4 106.5h0.9M46.8 110.6h0.9M50.9 99.2h0.9M68.6 106.8h0.9M75.2 104.9h0.9M62.0 100.6h0.9M46.1 105.4h0.9M64.6 100.9h0.9M81.2 101.4h0.9M59.7 113.3h0.9M55.8 90.7h0.9M53.8 98.7h0.9M67.9 101.3h0.9M46.0 115.8h0.9M63.4 109.3h0.9M60.0 107.4h0.9M54.3 112.3h0.9M62.6 105.1h0.9M52.7 109.0h0.9M67.8 116.5h0.9M62.2 111.3h0.9M54.7 116.3h0.9M85.4 114.5h0.9M56.0 99.1h0.9M47.1 101.2h0.9M63.1 115.0h0.9M72.3 102.3h0.9M61.0 115.4h0.9M62.4 100.5h0.9M43.9 114.8h0.9M77.6 106.7h0.9M46.4 105.6h0.9M53.0 110.1h0.9M60.4 102.4h0.9M63.2 103.9h0.9M71.6 103.4h0.9M73.9 103.7h0.9M54.8 100.7h0.9M40.0 112.9h0.9M55.1 103.7h0.9M57.6 116.7h0.9M48.0 106.6h0.9M63.0 103.0h0.9M68.4 104.5h0.9M58.9 101.6h0.9M51.3 112.4h0.9M71.2 96.7h0.9M41.2 113.3h0.9M48.2 106.0h0.9M60.8 109.5h0.9M59.7 99.0h0.9M56.8 113.5h0.9M69.7 111.4h0.9M45.4 104.2h0.9M55.2 107.4h0.9M48.6 113.9h0.9M69.2 95.1h0.9M42.9 111.5h0.9M50.8 111.1h0.9M40.7 105.6h0.9M73.0 106.2h0.9M58.3 105.0h0.9M53.2 101.0h0.9M68.2 109.1h0.9M44.1 106.5h0.9M76.9 118.3h0.9M42.5 113.3h0.9M67.1 100.8h0.9M50.9 102.2h0.9M48.9 102.2h0.9M65.2 99.9h0.9M51.6 106.8h0.9M59.4 108.8h0.9M54.9 117.9h0.9M56.2 100.6h0.9M57.8 117.1h0.9M62.2 106.3h0.9M60.4 109.2h0.9M51.0 103.2h0.9M59.6 113.1h0.9M43.4 116.9h0.9M44.3 108.1h0.9M61.3 112.6h0.9M69.6 103.8h0.9M77.4 99.7h0.9M62.1 97.8h0.9M47.1 104.7h0.9M59.4 104.9h0.9M66.6 114.6h0.9M61.7 107.5h0.9M70.5 100.8h0.9M58.8 104.8h0.9M62.7 106.9h0.9M56.4 104.8h0.9M49.7 113.9h0.9M63.8 104.6h0.9M53.0 109.1h0.9M64.6 100.2h0.9M49.6 111.2h0.9M81.1 102.1h0.9M50.1 99.1h0.9M43.5 103.0h0.9M70.1 102.0h0.9M71.4 106.9h0.9M68.3 93.7h0.9M59.8 109.2h0.9M52.7 115.7h0.9M72.2 98.0h0.9M58.2 112.7h0.9M48.9 106.4h0.9M69.1 110.3h0.9M60.0 117.6h0.9M69.2 100.7h0.9M62.8 102.7h0.9M65.1 101.6h0.9M55.3 104.7h0.9M47.2 109.1h0.9M57.6 117.2h0.9M51.7 109.6h0.9M55.7 108.1h0.9M47.1 104.3h0.9M40.5 108.0h0.9M74.0 100.2h0.9M54.7 113.5h0.9M57.1 105.2h0.9M43.8 116.7h0.9M71.9 105.6h0.9M60.6 100.0h0.9M75.3 92.2h0.9M49.7 106.5h0.9M50.3 101.7h0.9M58.8 105.0h0.9M71.5 92.5h0.9M50.2 110.0h0.9M66.5 104.3h0.9M67.1 109.0h0.9M79.3 107.2h0.9M40.7 111.1h0.9M63.7 102.6h0.9M56.4 110.2h0.9M61.2 106.6h0.9M45.2 112.4h0.9M68.4 100.7h0.9M69.4 96.4h0.9M47.1 103.0h0.9M67.6 102.9h0.9M45.0 107.8h0.9M61.1 112.6h0.9M50.3 112.0h0.9M42.2 104.0h0.9M51.7 104.3h0.9M44.1 116.0h0.9M70.1 113.2h0.9M71.4 111.8h0.9M51.5 102.7h0.9M68.5 102.4h0.9M54.5 103.1h0.9M46.3 100.4h0.9M55.4 107.7h0.9M78.6 104.2h0.9M66.8 87.9h0.9M62.4 104.4h0.9M43.5 107.3h0.9M50.2 105.2h0.9M48.9 115.9h0.9M52.0 106.8h0.9M75.5 107.4h0.9M49.0 100.4h0.9M55.2 112.7h0.9M57.9 112.4h0.9M43.8 100.4h0.9M59.8 109.9h0.9M78.7 101.6h0.9M48.5 117.7h0.9M58.2 99.8h0.9M43.2 101.6h0.9M42.3 117.3h0.9M46.0 95.1h0.9M64.8 110.5h0.9M72.3 101.9h0.9M58.0 113.1h0.9M52.3 110.3h0.9M60.7 106.4h0.9M58.1 112.0h0.9M59.2 113.8h0.9M78.0 110.4h0.9M59.2 114.5h0.9M55.7 113.5h0.9M54.1 106.8h0.9M50.2 97.9h0.9M57.0 105.6h0.9M64.7 104.1h0.9M76.4 112.1h0.9M64.2 97.5h0.9M49.3 97.8h0.9M51.5 103.8h0.9M59.9 108.3h0.9M45.6 101.2h0.9M41.3 101.9h0.9M52.4 99.9h0.9M67.6 113.7h0.9M61.2 101.8h0.9M61.8 104.0h0.9M71.5 107.7h0.9M74.4 100.5h0.9M41.5 111.0h0.9M60.2 101.6h0.9M65.7 101.1h0.9M55.7 116.0h0.9M42.7 106.8h0.9M65.5 109.9h0.9M77.0 99.3h0.9M57.7 99.4h0.9M68.2 106.8h0.9M74.3 96.7h0.9M63.6 106.1h0.9M74.1 110.4h0.9M58.9 104.9h0.9M59.0 102.0h0.9M69.4 111.9h0.9M53.0 107.3h0.9M42.4 105.8h0.9M48.0 109.4h0.9M67.8 109.6h0.9M75.0 107.1h0.9M67.2 107.4h0.9M63.1 105.4h0.9M58.4 98.7h0.9M69.4 104.3h0.9M46.5 97.5h0.9M57.5 110.3h0.9M52.9 101.1h0.9M41.3 102.5h0.9M81.2 102.8h0.9M52.4 109.6h0.9M64.8 102.9h0.9M73.2 103.9h0.9M48.4 104.5h0.9M66.5 101.4h0.9M56.2 107.5h0.9M57.4 107.3h0.9M67.7 85.7h0.9M50.7 118.1h0.9M72.2 98.6h0.9M53.9 114.1h0.9M50.1 117.2h0.9M57.3 109.6h0.9M50.4 105.5h0.9M42.4 114.6h0.9M43.5 107.5h0.9M41.9 103.4h0.9M47.2 91.5h0.9M69.5 108.8h0.9M61.8 106.8h0.9M78.2 112.2h0.9M48.8 108.6h0.9M51.5 110.4h0.9M73.5 101.1h0.9M41.4 114.5h0.9M62.1 109.7h0.9M55.6 111.3h0.9M73.9 96.6h0.9M47.6 107.6h0.9M60.2 107.7h0.9M61.9 101.4h0.9M54.7 97.5h0.9M83.7 109.6h0.9M59.1 113.9h0.9M54.8 108.4h0.9M49.1 113.6h0.9M72.5 111.2h0.9M68.2 105.5h0.9M48.7 109.2h0.9M49.7 102.8h0.9M67.7 106.5h0.9M73.7 97.1h0.9M47.3 105.0h0.9M65.1 97.4h0.9M53.7 105.2h0.9M54.0 106.3h0.9M79.9 102.0h0.9M56.3 108.1h0.9M77.2 109.6h0.9M56.4 106.7h0.9M75.9 105.4h0.9M58.9 115.5h0.9M59.2 98.0h0.9M53.1 101.6h0.9M49.4 101.4h0.9M57.3 105.2h0.9M55.7 103.7h0.9M65.8 104.3h0.9M63.3 106.3h0.9M55.9 92.0h0.9M59.0 115.7h0.9M53.3 111.8h0.9M49.8 105.4h0.9M73.4 108.3h0.9M44.2 113.7h0.9M51.6 110.8h0.9M56.8 108.7h0.9M56.4 109.2h0.9M66.4 100.3h0.9M48.7 106.6h0.9M85.2 100.8h0.9M86.4 112.5h0.9M48.5 113.4h0.9M62.3 98.0h0.9M58.6 106.6h0.9M65.5 105.9h0.9M48.7 112.9h0.9M65.1 90.5h0.9M55.0 103.0h0.9M55.8 109.0h0.9M45.8 109.4h0.9M60.7 101.0h0.9M54.9 103.3h0.9M45.9 107.4h0.9M72.3 110.4h0.9M62.8 114.6h0.9M49.7 108.4h0.9M47.0 105.7h0.9M52.5 110.6h0.9M58.2 109.3h0.9M68.5 107.9h0.9M71.1 107.7h0.9M51.3 113.1h0.9M58.7 107.6h0.9M66.8 114.1h0.9M62.8 112.2h0.9M67.3 106.6h0.9M61.5 112.1h0.9M57.8 101.2h0.9M48.5 101.3h0.9M68.1 109.5h0.9M78.8 106.8h0.9M58.9 100.7h0.9M53.6 112.1h0.9M62.2 104.8h0.9M47.3 114.5h0.9M55.0 102.6h0.9M65.7 101.2h0.9M48.4 113.1h0.9M54.0 117.1h0.9M58.4 104.4h0.9M62.8 118.3h0.9M80.0 103.6h0.9M50.3 109.3h0.9M45.0 104.3h0.9M48.9 106.8h0.9M55.1 109.1h0.9M61.9 110.3h0.9M49.8 96.5h0.9M44.2 117.5h0.9M56.8 104.3h0.9M46.3 104.7h0.9M44.3 103.4h0.9M65.9 105.3h0.9M72.2 103.7h0.9M47.0 101.3h0.9M43.5 107.1h0.9M49.1 110.8h0.9M59.7 103.4h0.9M74.0 98.8h0.9M66.5 115.8h0.9M41.2 102.4h0.9M46.1 111.6h0.9M60.2 109.7h0.9M45.0 106.7h0.9M58.5 108.2h0.9M66.8 106.3h0.9M55.0 103.6h0.9M65.3 107.4h0.9M45.4 112.5h0.9M66.1 110.1h0.9M53.9 112.1h0.9M40.2 105.7h0.9M55.8 103.9h0.9M68.2 117.8h0.9M41.5 99.8h0.9M49.3 105.8h0.9M41.8 111.7h0.9M57.3 108.4h0.9M50.6 109.2h0.9M57.4 106.5h0.9M47.4 102.5h0.9M54.9 107.2h0.9M61.7 111.1h0.9M69.4 102.1h0.9M65.7 108.9h0.9M60.5 107.0h0.9M48.2 99.3h0.9M48.7 104.7h0.9M57.8 106.6h0.9M46.7 114.8h0.9M59.8 103.6h0.9M50.2 105.4h0.9M52.2 110.3h0.9M53.5 103.6h0.9M83.6 97.6h0.9M43.1 112.3h0.9M80.6 101.8h0.9M79.3 114.9h0.9M51.0 101.2h0.9M44.6 105.5h0.9M48.5 109.7h0.9M69.6 108.7h0.9M72.5 112.4h0.9M52.8 101.9h0.9M78.4 112.8h0.9M57.4 106.8h0.9M60.2 116.0h0.9M50.5 97.2h0.9M67.1 102.8h0.9M65.5 105.7h0.9M50.8 110.6h0.9M60.7 101.4h0.9M45.0 109.8h0.9M45.9 110.5h0.9M65.8 114.2h0.9M52.2 102.9h0.9M60.2 113.3h0.9M71.2 113.0h0.9M46.7 108.2h0.9M48.3 110.7h0.9M65.4 104.1h0.9M56.9 104.9h0.9M73.7 109.3h0.9M54.2 108.8h0.9M56.1 109.5h0.9M59.9 106.1h0.9M46.1 110.1h0.9M50.5 99.8h0.9M55.3 103.4h0.9M40.3 116.4h0.9M60.9 97.2h0.9M54.8 105.7h0.9M62.1 104.4h0.9M76.5 112.5h0.9M67.3 100.6h0.9M45.9 99.6h0.9M45.6 116.4h0.9M57.0 100.5h0.9M57.8 95.2h0.9M62.3 100.3h0.9M69.0 100.8h0.9M76.6 107.2h0.9M55.8 105.0h0.9M64.6 111.3h0.9M75.2 108.0h0.9M51.3 105.6h0.9M67.2 112.0h0.9M61.9 104.7h0.9M69.1 103.6h0.9M55.3 105.2h0.9M61.3 96.1h0.9M69.3 98.1h0.9M46.7 106.7h0.9M66.0 109.6h0.9M47.2 104.9h0.9M63.4 110.3h0.9M49.4 103.9h0.9M52.1 108.5h0.9M40.5 105.8h0.9M45.2 113.2h0.9M68.5 111.7h0.9M42.3 102.4h0.9M65.4 103.3h0.9M46.8 113.9h0.9M58.2 116.3h0.9M52.3 117.9h0.9M84.8 97.7h0.9M67.9 105.5h0.9M52.0 100.6h0.9M68.3 103.0h0.9M53.4 91.1h0.9M43.5 111.0h0.9M55.6 109.8h0.9M67.1 104.7h0.9M44.2 117.8h0.9M49.0 107.6h0.9M66.9 113.9h0.9M48.1 106.9h0.9M79.7 96.2h0.9M80.1 110.3h0.9M51.6 103.8h0.9M54.7 99.8h0.9M76.1 104.0h0.9M53.9 105.7h0.9M54.2 115.2h0.9M69.8 91.7h0.9M41.8 108.1h0.9M43.0 106.4h0.9M73.3 107.1h0.9M71.8 109.9h0.9M46.0 107.1h0.9M87.1 107.2h0.9M44.9 113.9h0.9M73.9 93.2h0.9M43.8 116.2h0.9M48.5 107.9h0.9M49.3 105.7h0.9M57.5 101.4h0.9M51.2 106.1h0.9M44.4 115.5h0.9M67.9 117.5h0.9M69.6 107.6h0.9M83.8 107.9h0.9M81.4 96.9h0.9M55.5 104.8h0.9M40.7 115.4h0.9M71.4 97.1h0.9M61.0 107.2h0.9M42.4 109.8h0.9M41.2 100.5h0.9M92.3 96.6h0.9M48.7 107.0h0.9M68.2 107.7h0.9M62.7 100.3h0.9M49.4 117.8h0.9M40.2 105.2h0.9M44.5 116.4h0.9M50.5 116.1h0.9M61.8 105.8h0.9M62.7 111.4h0.9M63.7 108.6h0.9M68.4 103.9h0.9M59.3 106.2h0.9M53.1 107.2h0.9M54.4 93.8h0.9M40.3 107.3h0.9M56.7 101.9h0.9M41.2 105.1h0.9M50.6 117.2h0.9M45.4 102.0h0.9M45.9 115.8h0.9M53.2 104.9h0.9M69.3 110.9h0.9M53.3 114.6h0.9M53.3 116.2h0.9M43.6 117.0h0.9M73.2 109.3h0.9M52.5 100.9h0.9M44.0 101.3h0.9M62.5 112.6h0.9M50.3 113.7h0.9M72.4 108.1h0.9M54.3 113.4h0.9M56.4 115.3h0.9M52.5 113.4h0.9M42.9 112.7h0.9M47.5 106.4h0.9M57.0 113.2h0.9M47.7 102.4h0.9M52.4 117.9h0.9M57.8 95.3h0.9M51.1 104.8h0.9M53.7 104.2h0.9M50.7 105.4h0.9M65.6 105.2h0.9M66.6 114.4h0.9M68.7 104.4h0.9M60.9 97.4h0.9M78.4 93.2h0.9M61.2 106.5h0.9M66.5 106.3h0.9M54.8 116.5h0.9M50.1 105.6h0.9M61.8 103.9h0.9M59.6 95.4h0.9M77.7 97.8h0.9M54.9 116.5h0.9M60.8 105.7h0.9M47.7 115.0h0.9M55.9 107.7h0.9M58.0 96.5h0.9M48.9 107.9h0.9M46.2 116.7h0.9M55.4 106.0h0.9M58.9 105.0h0.9M83.7 104.7h0.9M52.4 102.4h0.9M49.4 107.0h0.9M55.6 104.3h0.9M58.6 112.3h0.9M46.5 105.4h0.9M56.3 108.5h0.9M59.5 106.9h0.9M62.2 101.5h0.9M52.5 101.9h0.9M49.3 108.3h0.9M64.8 101.7h0.9M60.2 105.9h0.9M53.0 107.3h0.9M67.4 114.9h0.9M43.9 111.7h0.9M43.7 113.2h0.9M57.9 108.1h0.9M41.5 108.8h0.9M51.2 116.4h0.9M40.5 116.1h0.9M47.7 105.8h0.9M55.5 117.4h0.9M60.5 106.8h0.9M64.1 106.1h0.9M60.2 110.6h0.9M55.3 104.1h0.9M58.0 106.7h0.9M62.3 112.7h0.9M46.9 111.1h0.9M69.8 108.1h0.9M70.3 105.7h0.9M53.2 104.7h0.9M63.6 101.4h0.9M58.7 113.7h0.9M51.3 116.2h0.9M67.7 97.8h0.9M58.4 108.4h0.9M41.0 103.6h0.9M51.3 108.9h0.9M46.9 111.3h0.9M59.7 101.2h0.9M85.3 107.3h0.9M71.7 101.4h0.9M47.1 108.7h0.9M46.4 110.5h0.9M62.9 115.3h0.9M55.8 99.1h0.9M59.5 110.7h0.9M69.2 110.0h0.9M63.4 110.5h0.9M74.0 100.8h0.9M54.1 111.1h0.9M55.2 107.5h0.9M61.3 103.7h0.9M51.9 112.6h0.9M48.6 116.4h0.9M60.7 105.7h0.9M64.0 112.9h0.9M67.4 98.8h0.9M74.2 99.0h0.9M71.5 92.6h0.9M68.4 101.1h0.9M65.9 103.5h0.9M66.1 97.7h0.9M75.0 90.3h0.9M83.7 82.5h0.9M67.0 100.4h0.9M75.2 96.8h0.9M74.1 97.4h0.9M63.6 108.4h0.9M68.3 101.3h0.9M70.7 97.2h0.9M73.9 98.3h0.9M77.2 86.2h0.9M65.6 96.5h0.9M69.4 92.9h0.9M71.6 99.6h0.9M66.1 104.0h0.9M74.8 92.1h0.9M72.7 101.7h0.9M81.4 85.1h0.9M81.0 87.5h0.9M70.5 98.8h0.9M68.3 100.7h0.9M74.8 92.7h0.9M65.4 101.1h0.9M67.3 92.3h0.9M64.4 99.9h0.9M72.9 90.3h0.9M74.0 90.1h0.9M67.8 103.8h0.9M69.2 106.3h0.9M76.3 91.8h0.9M71.2 108.7h0.9M72.9 84.4h0.9M67.9 96.8h0.9M76.4 91.0h0.9M67.7 85.5h0.9M71.4 95.4h0.9M71.0 100.8h0.9M69.5 95.5h0.9M69.0 87.7h0.9M75.8 95.4h0.9M74.2 103.6h0.9M66.4 90.0h0.9M70.4 102.0h0.9M71.3 85.1h0.9M72.4 97.7h0.9M74.8 88.5h0.9M70.8 88.2h0.9M77.1 88.7h0.9M70.6 91.6h0.9M87.5 86.0h0.9M74.7 89.9h0.9M77.0 90.2h0.9M77.8 87.6h0.9M74.5 96.4h0.9M73.8 87.9h0.9M78.2 99.1h0.9M78.2 88.2h0.9M74.7 92.5h0.9M68.6 98.8h0.9M70.7 97.2h0.9M72.9 91.5h0.9M77.1 85.7h0.9M73.6 90.5h0.9M68.9 99.8h0.9M72.2 100.2h0.9M82.6 83.8h0.9M70.8 94.7h0.9M78.3 89.7h0.9M69.0 103.5h0.9M73.2 96.2h0.9M72.4 104.3h0.9M66.1 101.7h0.9M71.1 96.0h0.9M68.5 95.0h0.9M65.6 97.3h0.9M75.5 91.8h0.9M72.8 91.5h0.9M82.3 86.3h0.9M70.6 94.7h0.9M69.6 97.9h0.9M80.0 96.4h0.9M75.8 95.1h0.9M61.2 102.9h0.9M68.2 93.5h0.9M65.5 99.6h0.9M79.7 92.6h0.9M64.4 97.5h0.9M66.4 101.6h0.9M64.3 113.3h0.9M72.6 91.5h0.9M75.2 90.8h0.9M73.0 97.1h0.9M66.3 91.8h0.9M78.7 94.3h0.9M65.5 100.6h0.9M71.1 93.9h0.9M65.9 91.0h0.9M65.2 98.0h0.9M62.9 89.5h0.9M73.9 99.5h0.9M85.2 87.2h0.9M66.8 95.6h0.9M81.3 89.7h0.9M71.6 97.8h0.9M69.8 91.6h0.9M64.4 97.1h0.9M62.1 95.5h0.9M70.7 86.6h0.9M60.1 97.4h0.9M77.9 90.8h0.9M76.5 101.6h0.9M64.8 106.0h0.9M62.6 94.0h0.9M73.9 89.6h0.9M67.7 90.7h0.9M72.5 88.1h0.9M67.6 101.6h0.9M71.6 92.6h0.9M67.7 94.8h0.9M67.0 89.3h0.9M70.9 100.9h0.9M70.8 98.1h0.9M75.5 102.0h0.9M66.2 92.8h0.9M77.7 91.3h0.9M68.6 102.4h0.9M67.9 99.8h0.9M75.4 85.5h0.9M77.7 84.7h0.9M77.2 88.2h0.9M66.0 89.2h0.9M70.1 100.7h0.9M77.5 88.1h0.9M67.0 98.0h0.9M67.8 99.9h0.9M66.9 101.0h0.9M73.2 95.4h0.9M68.3 99.6h0.9M70.6 90.6h0.9M70.9 91.6h0.9M70.6 96.4h0.9M71.4 94.5h0.9M74.9 99.7h0.9M64.0 99.7h0.9M68.2 96.3h0.9M70.7 93.8h0.9M69.7 88.2h0.9M82.4 82.6h0.9M63.1 98.8h0.9M67.7 96.5h0.9M67.4 94.3h0.9M71.7 93.4h0.9M82.1 83.0h0.9M64.2 87.9h0.9M68.1 98.2h0.9M71.2 96.8h0.9M69.6 90.0h0.9M71.7 91.4h0.9M66.8 111.1h0.9M71.9 91.2h0.9M71.3 97.9h0.9M71.1 88.7h0.9M65.7 107.6h0.9M72.6 82.2h0.9M75.3 91.0h0.9M67.6 96.8h0.9M78.8 86.9h0.9M68.4 97.9h0.9M75.0 93.6h0.9M67.9 91.6h0.9M66.7 92.0h0.9M68.2 101.0h0.9M76.1 90.1h0.9M59.1 95.9h0.9M76.6 98.2h0.9M77.4 86.2h0.9M77.1 87.1h0.9M76.8 78.0h0.9M73.8 92.3h0.9M70.7 97.8h0.9M68.1 102.6h0.9M64.8 96.2h0.9M81.4 102.0h0.9M63.5 108.8h0.9M70.8 101.2h0.9M78.8 97.6h0.9M72.5 92.6h0.9M55.0 101.0h0.9M64.2 92.3h0.9M73.7 91.1h0.9M73.1 93.3h0.9M74.2 90.4h0.9M75.2 87.5h0.9M79.2 89.1h0.9M78.9 89.7h0.9M72.0 91.8h0.9M66.1 101.3h0.9M81.1 86.0h0.9M84.9 80.0h0.9M68.6 89.0h0.9M69.7 94.4h0.9M60.7 104.3h0.9M66.6 108.7h0.9M71.3 89.4h0.9M64.7 101.5h0.9M69.5 95.0h0.9M75.3 87.3h0.9M70.7 85.7h0.9M77.8 97.8h0.9M63.6 103.3h0.9M72.0 96.8h0.9M65.9 102.9h0.9M72.0 91.2h0.9M73.9 107.6h0.9M67.6 86.1h0.9M67.1 98.9h0.9M74.2 98.7h0.9M66.7 91.7h0.9M79.8 84.1h0.9M77.2 89.3h0.9M75.7 87.0h0.9M76.6 85.9h0.9M74.9 93.9h0.9M64.4 101.5h0.9M81.0 95.2h0.9M71.3 98.3h0.9M72.8 101.8h0.9M68.6 102.0h0.9M64.9 96.7h0.9M73.5 91.2h0.9M70.7 95.3h0.9M69.7 96.5h0.9M68.0 88.3h0.9M69.1 100.8h0.9M76.6 91.3h0.9M69.5 97.1h0.9M75.6 81.7h0.9M78.8 95.7h0.9M73.9 89.3h0.9M74.6 87.5h0.9M63.1 91.3h0.9M86.0 81.2h0.9M69.0 93.4h0.9M69.6 102.5h0.9M80.0 83.0h0.9M63.9 99.0h0.9M75.4 95.6h0.9M68.6 90.2h0.9M70.1 87.6h0.9M63.2 93.3h0.9M61.4 95.9h0.9M66.3 91.2h0.9M75.6 95.7h0.9M70.0 104.2h0.9M71.8 94.6h0.9M71.9 97.6h0.9M76.3 95.5h0.9M73.1 99.5h0.9M71.0 99.1h0.9M73.1 89.8h0.9M76.0 87.0h0.9M74.4 96.0h0.9M86.8 96.4h0.9M75.5 97.4h0.9M58.5 93.8h0.9M76.8 97.2h0.9M84.4 83.7h0.9M73.8 88.6h0.9M64.2 91.1h0.9M68.1 94.2h0.9M76.6 92.6h0.9M56.2 114.6h0.9M68.4 97.6h0.9M75.1 91.5h0.9M64.7 103.5h0.9M66.3 99.0h0.9M54.5 104.1h0.9M70.1 99.3h0.9M66.4 93.3h0.9M75.5 88.0h0.9M66.8 92.1h0.9M77.6 90.4h0.9M64.6 98.9h0.9M72.0 89.1h0.9M61.3 109.4h0.9M74.5 97.0h0.9M64.2 110.2h0.9M77.3 86.8h0.9M71.8 91.6h0.9M75.4 87.1h0.9M77.0 89.7h0.9M66.5 91.3h0.9M77.3 84.2h0.9M69.6 99.5h0.9M61.1 85.7h0.9M71.0 90.1h0.9M68.8 89.7h0.9M71.0 90.6h0.9M60.9 111.2h0.9M71.8 93.5h0.9M72.2 94.5h0.9M72.8 92.4h0.9M69.0 102.4h0.9M73.8 99.8h0.9M67.0 93.3h0.9M76.9 83.4h0.9M72.6 95.4h0.9M64.4 99.0h0.9M77.1 92.3h0.9M64.2 99.8h0.9M73.8 100.1h0.9M69.4 96.3h0.9M84.7 86.9h0.9M68.5 98.5h0.9M69.3 88.9h0.9M71.2 93.9h0.9M62.3 97.5h0.9M64.6 102.6h0.9M62.6 98.6h0.9M73.3 99.7h0.9M66.0 91.5h0.9M74.2 94.3h0.9M72.9 83.3h0.9M67.0 93.5h0.9M64.3 95.3h0.9M77.0 82.7h0.9M61.6 100.5h0.9M71.8 95.3h0.9M78.8 92.4h0.9M71.6 96.8h0.9M73.3 81.0h0.9M83.0 79.3h0.9M74.3 95.3h0.9M63.5 102.1h0.9M73.7 94.4h0.9M61.5 100.8h0.9M67.4 97.4h0.9M75.1 95.0h0.9M71.3 87.6h0.9M67.9 98.2h0.9M71.8 92.9h0.9M67.6 96.4h0.9M68.9 99.9h0.9M68.2 106.0h0.9M66.5 98.8h0.9M68.7 93.8h0.9M57.4 109.6h0.9M72.7 101.3h0.9M74.7 85.2h0.9M69.8 90.0h0.9M75.2 86.5h0.9M67.4 103.6h0.9M71.0 95.0h0.9M80.8 87.6h0.9M65.8 94.2h0.9M69.5 95.4h0.9M70.3 89.4h0.9M71.2 88.6h0.9M70.1 98.2h0.9M69.0 96.0h0.9M79.2 97.9h0.9M83.2 87.8h0.9M69.7 96.8h0.9M72.7 91.4h0.9M72.1 84.7h0.9M66.4 89.8h0.9M70.7 102.2h0.9M81.9 72.1h0.9M70.5 96.8h0.9M71.8 96.5h0.9M70.3 101.1h0.9M63.0 104.5h0.9M62.1 95.2h0.9M67.9 90.9h0.9M71.9 108.4h0.9M46.1 79.4h0.9M55.0 84.5h0.9M56.0 91.8h0.9M42.5 87.3h0.9M62.6 90.8h0.9M51.8 75.8h0.9M64.1 79.9h0.9M52.0 97.0h0.9M53.9 81.4h0.9M40.7 88.5h0.9M44.1 91.9h0.9M51.6 84.3h0.9M50.5 83.3h0.9M58.7 81.3h0.9M59.8 84.0h0.9M52.7 83.6h0.9M54.9 82.7h0.9M41.2 91.6h0.9M57.6 80.7h0.9M48.6 86.2h0.9M54.4 82.7h0.9M54.1 87.7h0.9M45.8 77.1h0.9M53.9 65.4h0.9M51.6 94.3h0.9M45.0 90.7h0.9M45.5 89.1h0.9M50.2 75.4h0.9M58.0 78.3h0.9M52.5 98.0h0.9M58.7 85.1h0.9M49.7 81.4h0.9M64.5 73.6h0.9M63.7 77.3h0.9M54.6 83.2h0.9M56.8 86.9h0.9M63.7 86.2h0.9M66.6 78.5h0.9M48.8 81.7h0.9M67.8 82.2h0.9M61.5 86.6h0.9M48.4 87.7h0.9M57.2 90.4h0.9M48.5 80.8h0.9M54.6 88.6h0.9M53.2 86.6h0.9M54.8 83.5h0.9M56.6 72.8h0.9M43.9 85.5h0.9M47.9 77.0h0.9M50.4 80.6h0.9M64.1 86.4h0.9M54.9 90.8h0.9M65.2 83.9h0.9M54.9 76.9h0.9M55.3 80.7h0.9M71.2 92.2h0.9M55.2 78.6h0.9M47.6 87.7h0.9M43.5 88.4h0.9M51.8 86.6h0.9M52.3 84.2h0.9M60.0 93.9h0.9M57.4 78.9h0.9M58.4 86.7h0.9M54.1 91.7h0.9M64.7 81.0h0.9M54.5 82.4h0.9M46.9 74.1h0.9M52.6 86.6h0.9M64.3 78.6h0.9M41.6 88.5h0.9M49.1 85.7h0.9M57.2 76.3h0.9M61.0 90.6h0.9M46.0 83.9h0.9M46.4 87.9h0.9M60.5 84.5h0.9M56.0 72.2h0.9M45.5 78.1h0.9M53.7 83.5h0.9M50.6 70.5h0.9M54.8 84.1h0.9M60.5 80.8h0.9M44.7 84.5h0.9M48.7 79.2h0.9M53.3 89.9h0.9M55.3 94.5h0.9M64.6 87.0h0.9M56.2 79.1h0.9M46.8 90.4h0.9M40.0 81.6h0.9M50.5 82.8h0.9M50.3 72.8h0.9M47.9 89.6h0.9M57.2 73.3h0.9M64.7 89.4h0.9M53.8 82.5h0.9M50.5 86.8h0.9M54.7 90.0h0.9M54.3 91.1h0.9M62.9 80.6h0.9M57.0 84.1h0.9M52.4 81.1h0.9M59.5 88.9h0.9M54.3 75.7h0.9M52.7 92.7h0.9M56.4 84.6h0.9M59.5 80.5h0.9M48.4 93.8h0.9M52.1 84.0h0.9M66.8 80.4h0.9M53.9 92.7h0.9M40.6 94.9h0.9M43.7 82.3h0.9M47.9 94.5h0.9M46.2 94.1h0.9M55.2 95.1h0.9M60.7 86.1h0.9M43.8 84.7h0.9M63.6 83.0h0.9M54.9 89.0h0.9M47.0 83.2h0.9M54.9 92.7h0.9M55.7 82.1h0.9M64.5 85.4h0.9M51.2 93.1h0.9M56.9 80.9h0.9M59.1 76.7h0.9M54.7 89.4h0.9M55.7 90.4h0.9M48.9 79.3h0.9M47.1 97.4h0.9M64.4 92.4h0.9M50.9 87.7h0.9M67.6 83.0h0.9M52.8 78.9h0.9M44.5 93.7h0.9M61.1 76.6h0.9M53.2 98.5h0.9M69.1 79.0h0.9M51.4 73.9h0.9M50.3 75.6h0.9M62.6 92.3h0.9M52.5 91.7h0.9M50.6 89.6h0.9M43.4 82.4h0.9M59.0 88.7h0.9M57.8 80.0h0.9M49.8 98.6h0.9M55.8 78.4h0.9M50.5 89.1h0.9M60.5 86.1h0.9M50.1 87.9h0.9M51.1 94.3h0.9M60.0 84.4h0.9M51.6 82.5h0.9M52.7 87.8h0.9M52.8 82.4h0.9M43.0 79.6h0.9M47.9 88.6h0.9M44.7 73.0h0.9M62.0 85.7h0.9M57.0 80.8h0.9M68.6 74.3h0.9M54.3 90.1h0.9M56.6 85.6h0.9M48.6 83.3h0.9M65.2 93.6h0.9M63.7 89.1h0.9M57.8 94.0h0.9M60.0 85.9h0.9M50.7 85.4h0.9M49.2 82.3h0.9M53.2 82.9h0.9M48.0 87.9h0.9M62.7 78.0h0.9M51.8 79.9h0.9M45.4 92.9h0.9M45.4 84.4h0.9M59.7 89.6h0.9M65.3 82.0h0.9M51.6 82.9h0.9M49.9 79.7h0.9M48.5 79.4h0.9M67.3 88.4h0.9M52.5 70.7h0.9M44.4 84.8h0.9M79.1 71.5h0.9M48.2 91.0h0.9M90.3 59.1h0.9M74.9 48.7h0.9M68.9 78.6h0.9M73.6 62.5h0.9M48.9 69.7h0.9M56.5 64.8h0.9M52.9 82.8h0.9M50.5 62.2h0.9M102.9 63.1h0.9M54.6 67.8h0.9M80.3 70.8h0.9" stroke="#000" stroke-opacity="0.75" stroke-width="0.9" fill="none"/>
<line x1="39.20" y1="89.40" x2="73.80" y2="89.40" stroke="#6a6a6a" stroke-width="0.9"/>
<line x1="73.80" y1="89.40" x2="73.80" y2="119.40" stroke="#6a6a6a" stroke-width="0.9"/>
<rect x="63.80" y="53.60" width="36.70" height="31.60" fill="none" stroke="#808080" stroke-width="0.9"/>
<rect x="39.20" y="26.20" width="93.40" height="93.20" fill="none" stroke="#5a5a5a" stroke-width="1"/>
<path d="M39.2 119.40h-2.6M39.20 119.4v2.6M39.2 112.39h-1.9M46.23 119.4v1.9M39.2 108.28h-1.9M50.34 119.4v1.9M39.2 105.37h-1.9M53.26 119.4v1.9M39.2 103.11h-1.9M55.52 119.4v1.9M39.2 101.27h-1.9M57.37 119.4v1.9M39.2 99.71h-1.9M58.93 119.4v1.9M39.2 98.36h-1.9M60.29 119.4v1.9M39.2 97.17h-1.9M61.48 119.4v1.9M39.2 96.10h-2.6M62.55 119.4v2.6M39.2 89.09h-1.9M69.58 119.4v1.9M39.2 84.98h-1.9M73.69 119.4v1.9M39.2 82.07h-1.9M76.61 119.4v1.9M39.2 79.81h-1.9M78.87 119.4v1.9M39.2 77.97h-1.9M80.72 119.4v1.9M39.2 76.41h-1.9M82.28 119.4v1.9M39.2 75.06h-1.9M83.64 119.4v1.9M39.2 73.87h-1.9M84.83 119.4v1.9M39.2 72.80h-2.6M85.90 119.4v2.6M39.2 65.79h-1.9M92.93 119.4v1.9M39.2 61.68h-1.9M97.04 119.4v1.9M39.2 58.77h-1.9M99.96 119.4v1.9M39.2 56.51h-1.9M102.22 119.4v1.9M39.2 54.67h-1.9M104.07 119.4v1.9M39.2 53.11h-1.9M105.63 119.4v1.9M39.2 51.76h-1.9M106.99 119.4v1.9M39.2 50.57h-1.9M108.18 119.4v1.9M39.2 49.50h-2.6M109.25 119.4v2.6M39.2 42.49h-1.9M116.28 119.4v1.9M39.2 38.38h-1.9M120.39 119.4v1.9M39.2 35.47h-1.9M123.31 119.4v1.9M39.2 33.21h-1.9M125.57 119.4v1.9M39.2 31.37h-1.9M127.42 119.4v1.9M39.2 29.81h-1.9M128.98 119.4v1.9M39.2 28.46h-1.9M130.34 119.4v1.9M39.2 27.27h-1.9M131.53 119.4v1.9" stroke="#3a3a3a" stroke-width="0.8" fill="none"/>
<text x="105.00" y="67.01" font-size="7" text-anchor="start" fill="#333">DP</text>
<text x="105.00" y="75.51" font-size="7" text-anchor="start" fill="#333">49%</text>
<text x="90.50" y="104.51" font-size="7" text-anchor="start" fill="#333">DN</text>
<text x="90.50" y="112.71" font-size="7" text-anchor="start" fill="#333">43%</text>
<g clip-path="url(#c1)">
<ellipse cx="83.5" cy="204" rx="26" ry="16.5" fill="url(#g2)" transform="rotate(-5 83.5 204)"/>
<ellipse cx="107.8" cy="173" rx="10.5" ry="5.2" fill="url(#g3)" transform="rotate(-40 107.8 173)"/>
<ellipse cx="97.5" cy="186.5" rx="8.5" ry="5.5" fill="url(#g4)" transform="rotate(-45 97.5 186.5)"/>
<ellipse cx="54" cy="213" rx="16" ry="14" fill="url(#g5)" transform="rotate(0 54 213)"/>
<path d="M84.5 200.3h0.8M92.2 208.8h0.8M68.4 218.8h0.8M80.5 188.8h0.8M101.6 218.0h0.8M99.7 209.3h0.8M72.2 212.8h0.8M107.5 211.7h0.8M104.2 197.5h0.8M96.7 212.8h0.8M64.5 190.0h0.8M74.4 205.2h0.8M89.5 202.4h0.8M82.8 203.5h0.8M84.8 209.7h0.8M90.1 204.0h0.8M87.0 200.4h0.8M93.9 200.0h0.8M104.8 204.3h0.8M87.2 197.7h0.8M79.2 205.9h0.8M83.9 198.9h0.8M68.7 204.8h0.8M85.7 209.4h0.8M99.8 201.7h0.8M58.0 203.2h0.8M59.9 193.0h0.8M97.0 209.5h0.8M75.4 198.8h0.8M82.6 188.8h0.8M89.9 201.4h0.8M107.5 195.0h0.8M96.7 198.4h0.8M96.9 195.7h0.8M93.2 200.6h0.8M73.1 203.2h0.8M89.9 208.1h0.8M104.1 211.9h0.8M49.6 200.9h0.8M57.9 201.1h0.8M91.8 192.5h0.8M68.4 205.8h0.8M80.0 218.7h0.8M87.9 209.3h0.8M106.4 200.0h0.8M83.7 195.6h0.8M87.1 213.8h0.8M101.5 204.2h0.8M74.5 197.6h0.8M65.7 205.6h0.8M101.4 183.3h0.8M55.6 217.1h0.8M62.9 207.5h0.8M67.5 211.6h0.8M93.9 206.1h0.8M94.5 205.0h0.8M91.1 220.9h0.8M98.1 198.7h0.8M73.4 202.4h0.8M80.9 205.2h0.8M76.0 210.5h0.8M84.3 207.8h0.8M84.0 210.1h0.8M68.3 218.8h0.8M88.4 208.7h0.8M91.8 214.4h0.8M93.5 206.8h0.8M81.6 189.9h0.8M86.7 201.8h0.8M79.9 226.3h0.8M59.8 205.2h0.8M99.7 213.3h0.8M100.1 193.3h0.8M71.5 210.3h0.8M80.1 220.1h0.8M87.0 206.5h0.8M89.7 202.3h0.8M85.6 198.6h0.8M83.6 200.4h0.8M87.4 192.0h0.8M64.7 208.9h0.8M87.0 196.1h0.8M81.1 195.3h0.8M110.6 190.7h0.8M106.4 197.4h0.8M89.6 202.4h0.8M79.2 213.2h0.8M94.7 202.2h0.8M72.3 223.4h0.8M102.4 206.1h0.8M80.3 207.4h0.8M85.2 215.6h0.8M71.6 205.0h0.8M74.0 216.6h0.8M107.6 204.0h0.8M91.2 217.5h0.8M80.3 196.4h0.8M97.7 209.4h0.8M81.5 218.0h0.8M87.2 188.8h0.8M88.7 204.3h0.8M108.6 204.7h0.8M81.5 208.8h0.8M87.4 192.1h0.8M85.7 201.9h0.8M102.4 226.4h0.8M69.7 196.1h0.8M73.2 198.9h0.8M75.2 205.3h0.8M98.4 193.1h0.8M64.2 188.3h0.8M98.6 216.8h0.8M64.3 190.2h0.8M85.9 214.7h0.8M97.4 206.6h0.8M93.1 207.8h0.8M77.0 222.0h0.8M84.2 194.8h0.8M78.1 191.0h0.8M84.4 214.7h0.8M67.8 215.0h0.8M111.4 208.3h0.8M69.2 197.2h0.8M79.9 193.3h0.8M68.0 202.5h0.8M81.9 210.3h0.8M68.6 221.7h0.8M98.0 212.9h0.8M75.8 220.5h0.8M79.8 221.2h0.8M98.2 196.8h0.8M78.3 221.7h0.8M97.3 203.5h0.8M86.9 206.6h0.8M74.2 203.1h0.8M75.7 201.0h0.8M90.3 196.2h0.8M93.7 205.8h0.8M94.2 212.9h0.8M100.5 210.5h0.8M93.4 203.2h0.8M91.6 196.7h0.8M81.0 211.6h0.8M83.6 208.9h0.8M70.5 217.2h0.8M76.7 208.4h0.8M83.9 213.3h0.8M79.3 195.8h0.8M59.5 202.1h0.8M68.7 209.7h0.8M103.0 184.8h0.8M67.4 207.6h0.8M100.3 207.6h0.8M88.5 209.4h0.8M91.7 219.7h0.8M92.2 193.7h0.8M78.1 206.7h0.8M73.6 202.5h0.8M77.4 198.5h0.8M93.3 201.3h0.8M70.0 198.4h0.8M84.7 223.9h0.8M87.6 218.3h0.8M90.7 185.4h0.8M89.2 197.1h0.8M66.5 195.1h0.8M107.6 190.6h0.8M76.1 215.3h0.8M92.9 189.4h0.8M82.8 200.2h0.8M81.7 211.6h0.8M76.7 201.9h0.8M103.3 188.1h0.8M79.3 209.1h0.8M67.9 199.1h0.8M67.0 206.2h0.8M76.0 212.0h0.8M97.6 205.2h0.8M79.2 207.2h0.8M84.9 193.8h0.8M98.2 206.9h0.8M94.5 192.5h0.8M95.7 223.9h0.8M92.2 191.7h0.8M84.7 204.3h0.8M87.0 202.7h0.8M90.7 200.6h0.8M87.2 198.6h0.8M85.5 213.8h0.8M77.7 210.9h0.8M72.5 201.4h0.8M81.0 216.1h0.8M74.1 215.8h0.8M64.9 203.3h0.8M96.1 211.1h0.8M70.9 193.7h0.8M95.6 193.3h0.8M91.7 200.0h0.8M84.0 225.8h0.8M104.5 212.4h0.8M66.0 207.7h0.8M84.8 203.8h0.8M101.7 189.1h0.8M88.3 205.9h0.8M74.2 220.5h0.8M67.4 205.0h0.8M85.1 184.8h0.8M65.3 195.9h0.8M94.4 213.3h0.8M91.9 206.9h0.8M55.1 206.7h0.8M77.3 215.4h0.8M101.8 225.1h0.8M93.4 212.2h0.8M70.5 205.4h0.8M67.8 212.9h0.8M68.3 202.8h0.8M73.2 200.4h0.8M90.0 199.6h0.8M86.9 195.6h0.8M102.4 198.8h0.8M97.3 224.2h0.8M51.9 195.6h0.8M81.3 215.4h0.8M77.6 208.1h0.8M74.4 209.8h0.8M68.0 212.3h0.8M44.5 187.4h0.8M108.0 206.2h0.8M72.1 224.8h0.8M97.8 215.0h0.8M78.4 210.3h0.8M90.7 189.5h0.8M91.8 203.0h0.8M101.0 216.6h0.8M75.4 199.1h0.8M86.5 210.6h0.8M78.5 203.6h0.8M92.0 208.5h0.8M99.3 206.8h0.8M72.2 188.4h0.8M94.7 201.6h0.8M79.3 202.0h0.8M63.0 201.0h0.8M49.3 200.9h0.8M72.0 221.5h0.8M89.8 202.6h0.8M86.0 211.3h0.8M73.8 202.5h0.8M79.2 227.5h0.8" stroke="#fff" stroke-opacity="0.8" stroke-width="0.8" fill="none"/>
</g>
<path d="M78.5 190.3h0.9M84.6 213.4h0.9M88.5 202.2h0.9M95.1 194.5h0.9M96.4 205.9h0.9M77.5 201.3h0.9M81.7 205.0h0.9M88.3 204.9h0.9M80.2 197.7h0.9M96.3 195.9h0.9M83.1 216.8h0.9M65.6 211.5h0.9M71.5 208.7h0.9M69.6 209.1h0.9M77.3 204.2h0.9M85.4 220.6h0.9M96.5 202.9h0.9M90.9 211.8h0.9M60.6 207.3h0.9M116.0 204.1h0.9M72.6 193.6h0.9M85.2 204.5h0.9M110.7 205.6h0.9M77.6 208.5h0.9M93.9 197.5h0.9M90.7 207.9h0.9M96.3 214.9h0.9M74.6 189.1h0.9M62.8 210.7h0.9M89.1 205.1h0.9M104.4 202.8h0.9M110.0 191.7h0.9M68.4 218.7h0.9M85.0 197.0h0.9M71.4 207.2h0.9M81.0 211.0h0.9M96.5 209.3h0.9M109.9 212.3h0.9M100.2 196.8h0.9M91.6 209.7h0.9M74.3 210.0h0.9M76.8 210.4h0.9M80.5 190.0h0.9M106.4 181.7h0.9M82.8 203.5h0.9M84.6 206.9h0.9M83.8 196.9h0.9M97.5 186.7h0.9M69.6 215.5h0.9M98.3 200.0h0.9M79.9 219.2h0.9M90.1 205.4h0.9M66.2 194.1h0.9M91.3 203.3h0.9M94.5 220.6h0.9M72.6 208.9h0.9M95.5 210.1h0.9M74.3 202.7h0.9M85.6 192.6h0.9M85.0 212.1h0.9M71.7 212.3h0.9M72.0 202.5h0.9M90.2 213.9h0.9M76.1 200.0h0.9M78.0 213.1h0.9M74.5 207.8h0.9M89.5 207.3h0.9M62.8 210.4h0.9M91.2 206.4h0.9M97.8 204.3h0.9M87.8 212.3h0.9M83.1 213.9h0.9M55.1 208.8h0.9M93.4 207.0h0.9M84.0 206.2h0.9M90.8 208.3h0.9M78.6 188.1h0.9M86.1 207.4h0.9M67.9 203.3h0.9M94.1 212.6h0.9M90.2 204.7h0.9M78.3 212.2h0.9M80.9 196.4h0.9M70.1 204.1h0.9M92.1 220.1h0.9M70.7 198.8h0.9M88.1 202.1h0.9M88.7 188.2h0.9M74.5 213.3h0.9M79.3 202.6h0.9M81.3 210.8h0.9M94.6 200.1h0.9M90.5 209.5h0.9M77.7 195.4h0.9M92.8 217.9h0.9M94.5 204.2h0.9M92.2 213.7h0.9M82.9 201.6h0.9M96.3 200.5h0.9M74.1 212.4h0.9M100.9 214.6h0.9M84.1 196.2h0.9M80.4 200.5h0.9M88.7 198.8h0.9M83.1 201.0h0.9M90.9 213.5h0.9M77.5 211.3h0.9M82.7 215.8h0.9M85.2 196.5h0.9M74.6 184.3h0.9M87.6 206.0h0.9M89.7 214.1h0.9M74.8 207.6h0.9M89.3 212.9h0.9M90.3 200.2h0.9M75.0 211.5h0.9M58.6 208.0h0.9M67.8 206.7h0.9M67.3 222.8h0.9M90.0 199.7h0.9M98.5 206.5h0.9M75.4 211.5h0.9M96.3 196.2h0.9M97.3 189.0h0.9M96.4 189.4h0.9M85.7 208.0h0.9M75.6 206.3h0.9M90.8 203.4h0.9M75.8 204.0h0.9M81.9 202.7h0.9M89.2 204.1h0.9M97.7 210.8h0.9M102.1 205.1h0.9M101.3 213.9h0.9M71.5 200.6h0.9M86.5 195.0h0.9M84.3 208.1h0.9M50.9 200.0h0.9M67.5 203.2h0.9M81.1 212.6h0.9M77.3 209.6h0.9M85.3 204.5h0.9M83.1 214.8h0.9M99.5 197.8h0.9M96.1 194.5h0.9M94.1 211.9h0.9M59.9 220.6h0.9M97.0 202.9h0.9M97.0 205.9h0.9M69.0 212.5h0.9M72.6 205.8h0.9M103.0 184.8h0.9M85.0 209.3h0.9M67.6 205.1h0.9M82.5 207.2h0.9M70.4 206.9h0.9M97.5 211.1h0.9M78.8 209.0h0.9M97.9 202.0h0.9M100.1 185.2h0.9M85.1 201.0h0.9M78.6 217.7h0.9M86.2 219.0h0.9M91.1 209.7h0.9M98.0 203.1h0.9M86.4 202.6h0.9M73.2 191.5h0.9M80.4 198.8h0.9M82.2 208.4h0.9M86.8 201.2h0.9M97.3 206.7h0.9M91.6 207.0h0.9M101.8 212.5h0.9M96.7 211.8h0.9M89.1 208.3h0.9M85.7 210.0h0.9M84.9 215.0h0.9M76.2 211.9h0.9M62.4 203.3h0.9M67.9 208.5h0.9M101.0 205.4h0.9M88.0 217.8h0.9M88.8 204.3h0.9M77.3 190.5h0.9M75.5 198.3h0.9M69.1 221.3h0.9M80.7 192.5h0.9M81.1 206.8h0.9M74.1 204.3h0.9M96.7 201.2h0.9M96.5 216.9h0.9M90.3 198.2h0.9M81.6 195.1h0.9M88.0 202.9h0.9M88.3 201.9h0.9M69.2 211.2h0.9M98.0 198.6h0.9M73.3 201.6h0.9M82.0 205.0h0.9M76.5 204.8h0.9M83.3 197.9h0.9M77.4 198.5h0.9M62.7 208.8h0.9M86.8 210.7h0.9M84.1 205.5h0.9M82.5 199.2h0.9M92.7 197.4h0.9M68.8 202.6h0.9M87.1 200.5h0.9M77.9 222.2h0.9M94.6 207.2h0.9M81.1 202.9h0.9M75.2 196.1h0.9M73.6 208.6h0.9M97.1 215.3h0.9M74.8 216.1h0.9M99.6 199.6h0.9M90.1 208.7h0.9M64.3 193.1h0.9M82.6 204.1h0.9M71.3 206.9h0.9M97.5 200.6h0.9M93.9 196.5h0.9M81.8 201.3h0.9M77.4 193.7h0.9M57.9 220.2h0.9M72.7 196.5h0.9M106.8 193.3h0.9M89.1 222.0h0.9M67.0 203.8h0.9M70.8 217.4h0.9M84.7 214.6h0.9M78.2 200.6h0.9M96.5 201.4h0.9M69.3 196.6h0.9M102.6 205.7h0.9M89.2 209.8h0.9M59.1 197.8h0.9M98.7 220.2h0.9M86.1 203.3h0.9M82.0 213.8h0.9M67.7 208.9h0.9M86.9 204.0h0.9M81.5 216.0h0.9M84.2 219.6h0.9M93.8 207.2h0.9M64.5 219.1h0.9M77.8 198.8h0.9M91.1 202.2h0.9M79.0 203.7h0.9M98.8 195.9h0.9M78.2 212.7h0.9M98.8 199.0h0.9M101.7 196.8h0.9M41.8 213.5h0.9M86.1 199.6h0.9M94.3 187.6h0.9M83.1 202.7h0.9M63.3 195.5h0.9M80.0 216.5h0.9M106.8 205.7h0.9M102.6 205.5h0.9M65.8 208.3h0.9M78.6 200.2h0.9M81.4 214.6h0.9M84.9 203.5h0.9M79.7 212.4h0.9M102.2 201.8h0.9M91.7 207.4h0.9M71.4 209.8h0.9M66.4 200.1h0.9M86.2 196.3h0.9M82.5 205.9h0.9M83.5 195.0h0.9M83.2 201.4h0.9M75.5 204.3h0.9M69.8 209.5h0.9M104.4 199.4h0.9M101.1 209.4h0.9M66.2 208.1h0.9M75.6 194.6h0.9M108.4 195.5h0.9M83.7 192.5h0.9M82.4 207.7h0.9M77.9 218.7h0.9M73.0 204.0h0.9M82.7 210.0h0.9M97.2 213.1h0.9M72.1 205.3h0.9M74.6 214.3h0.9M63.5 216.8h0.9M81.6 211.0h0.9M94.7 208.6h0.9M101.6 204.9h0.9M74.1 194.0h0.9M58.8 200.4h0.9M69.9 203.3h0.9M78.3 200.6h0.9M55.4 218.9h0.9M63.0 215.4h0.9M75.0 207.9h0.9M86.6 209.4h0.9M80.7 204.3h0.9M98.4 199.6h0.9M75.0 202.9h0.9M78.5 204.9h0.9M93.5 195.7h0.9M91.0 201.2h0.9M87.6 213.4h0.9M92.3 186.7h0.9M74.1 203.2h0.9M88.1 225.1h0.9M66.6 213.2h0.9M71.9 208.3h0.9M70.6 202.6h0.9M90.3 200.0h0.9M66.6 221.1h0.9M91.6 213.1h0.9M86.2 213.4h0.9M87.9 212.1h0.9M83.6 202.8h0.9M83.2 206.5h0.9M87.4 193.2h0.9M62.2 206.1h0.9M100.4 183.3h0.9M114.5 194.1h0.9M64.2 195.6h0.9M83.6 190.1h0.9M70.3 210.8h0.9M80.9 216.8h0.9M64.9 217.3h0.9M87.4 193.6h0.9M92.2 189.2h0.9M61.2 208.0h0.9M81.4 207.2h0.9M58.1 205.5h0.9M69.2 210.5h0.9M81.4 189.9h0.9M70.7 201.6h0.9M88.3 206.1h0.9M83.2 214.5h0.9M90.7 205.2h0.9M79.4 206.3h0.9M74.2 205.0h0.9M67.3 202.6h0.9M99.4 201.8h0.9M67.9 204.0h0.9M89.4 201.3h0.9M80.4 204.4h0.9M76.3 192.5h0.9M65.9 213.5h0.9M94.8 214.3h0.9M79.6 218.1h0.9M98.9 215.9h0.9M78.9 189.2h0.9M73.3 204.8h0.9M94.1 201.4h0.9M84.7 202.8h0.9M66.0 208.9h0.9M88.9 196.4h0.9M84.9 213.7h0.9M87.8 195.9h0.9M71.8 208.0h0.9M86.1 221.9h0.9M97.1 204.2h0.9M103.0 199.0h0.9M77.4 215.7h0.9M98.8 209.1h0.9M73.2 206.2h0.9M53.7 211.0h0.9M93.6 206.8h0.9M70.4 204.5h0.9M76.2 211.1h0.9M58.9 205.0h0.9M94.6 186.4h0.9M83.6 192.3h0.9M85.3 208.3h0.9M86.3 196.9h0.9M68.3 206.6h0.9M81.3 213.5h0.9M96.5 195.1h0.9M53.0 209.9h0.9M94.4 201.0h0.9M87.4 194.4h0.9M87.4 204.3h0.9M83.6 209.6h0.9M100.6 189.6h0.9M72.6 203.7h0.9M68.8 210.6h0.9M100.0 206.4h0.9M94.9 205.2h0.9M71.4 224.9h0.9M84.5 210.8h0.9M80.3 212.3h0.9M111.9 196.5h0.9M79.9 209.8h0.9M92.7 210.2h0.9M69.8 208.5h0.9M84.7 202.1h0.9M82.8 215.1h0.9M64.3 205.1h0.9M92.3 197.0h0.9M71.4 209.4h0.9M79.8 209.9h0.9M78.0 205.3h0.9M93.8 198.2h0.9M81.8 208.8h0.9M86.3 201.3h0.9M65.9 204.8h0.9M79.5 203.4h0.9M90.3 191.5h0.9M87.6 197.7h0.9M70.9 198.3h0.9M88.4 209.6h0.9M84.7 209.1h0.9M70.3 194.2h0.9M85.9 196.9h0.9M66.7 207.5h0.9M79.4 219.9h0.9M86.9 205.2h0.9M77.4 204.2h0.9M69.2 214.7h0.9M71.0 208.1h0.9M86.0 201.8h0.9M84.3 191.7h0.9M79.6 212.6h0.9M82.0 201.5h0.9M82.5 207.2h0.9M81.5 220.2h0.9M93.1 206.3h0.9M74.7 207.6h0.9M83.8 196.9h0.9M90.6 209.6h0.9M64.8 203.5h0.9M77.9 210.5h0.9M71.3 209.6h0.9M78.8 213.4h0.9M96.2 203.1h0.9M100.0 186.0h0.9M89.8 191.5h0.9M78.3 214.3h0.9M85.9 203.6h0.9M84.9 202.8h0.9M81.6 208.4h0.9M86.8 198.2h0.9M89.8 210.4h0.9M89.7 215.7h0.9M87.5 215.4h0.9M95.3 197.3h0.9M77.9 210.2h0.9M87.5 220.8h0.9M82.3 207.8h0.9M91.7 216.9h0.9M73.4 210.5h0.9M102.0 204.5h0.9M88.6 207.3h0.9M71.0 201.6h0.9M81.5 212.6h0.9M80.3 203.2h0.9M93.8 197.8h0.9M98.7 210.1h0.9M79.6 196.2h0.9M80.8 195.3h0.9M122.1 207.3h0.9M67.0 196.5h0.9M91.2 205.3h0.9M85.8 197.9h0.9M88.2 202.3h0.9M89.3 205.7h0.9M84.2 198.9h0.9M79.9 192.5h0.9M63.6 195.1h0.9M84.2 207.7h0.9M78.4 208.2h0.9M66.6 199.4h0.9M83.7 206.3h0.9M87.5 199.6h0.9M67.0 202.7h0.9M87.8 202.1h0.9M85.4 206.0h0.9M85.6 207.7h0.9M81.9 209.3h0.9M65.9 201.8h0.9M63.3 205.5h0.9M75.4 208.0h0.9M83.2 189.5h0.9M63.3 203.0h0.9M93.3 211.7h0.9M84.7 220.0h0.9M64.7 214.4h0.9M81.0 211.6h0.9M98.0 203.6h0.9M80.4 201.9h0.9M77.7 194.6h0.9M74.4 217.1h0.9M97.7 203.5h0.9M65.8 211.8h0.9M93.0 195.4h0.9M75.8 221.1h0.9M95.2 203.1h0.9M91.2 201.3h0.9M79.2 205.6h0.9M93.7 219.8h0.9M84.3 203.5h0.9M70.2 207.7h0.9M86.5 212.0h0.9M95.6 208.6h0.9M72.1 212.5h0.9M84.8 204.7h0.9M102.0 200.4h0.9M80.8 212.4h0.9M80.6 202.5h0.9M92.2 203.0h0.9M83.1 214.7h0.9M82.0 201.4h0.9M83.3 201.3h0.9M82.2 187.9h0.9M99.0 192.6h0.9M77.4 205.6h0.9M82.9 214.3h0.9M96.3 211.6h0.9M77.4 200.6h0.9M63.9 197.6h0.9M95.2 201.1h0.9M78.0 204.6h0.9M106.5 198.2h0.9M87.5 224.3h0.9M67.5 209.1h0.9M95.6 205.4h0.9M96.3 204.2h0.9M78.1 202.9h0.9M79.5 203.2h0.9M91.5 215.6h0.9M75.8 204.1h0.9M91.7 204.8h0.9M77.7 212.9h0.9M66.9 211.9h0.9M98.4 218.1h0.9M71.0 214.0h0.9M65.6 196.8h0.9M86.3 200.5h0.9M67.7 198.8h0.9M88.7 216.0h0.9M75.0 203.6h0.9M59.7 199.2h0.9M77.4 204.4h0.9M76.7 204.2h0.9M92.6 204.9h0.9M98.5 206.3h0.9M87.8 211.4h0.9M86.9 199.1h0.9M80.2 215.4h0.9M106.3 201.5h0.9M73.7 195.7h0.9M93.7 208.1h0.9M91.2 198.5h0.9M62.2 201.7h0.9M89.2 185.7h0.9M93.4 193.4h0.9M65.4 218.1h0.9M100.0 217.2h0.9M74.0 205.4h0.9M74.4 209.8h0.9M88.9 190.1h0.9M93.1 203.1h0.9M85.8 198.7h0.9M70.4 199.2h0.9M72.2 203.4h0.9M80.0 196.8h0.9M81.9 199.1h0.9M102.5 201.1h0.9M84.7 211.2h0.9M78.2 198.0h0.9M86.2 184.9h0.9M97.4 212.5h0.9M67.0 214.2h0.9M80.4 210.2h0.9M74.9 193.0h0.9M94.5 212.1h0.9M70.0 209.5h0.9M85.9 201.5h0.9M87.7 196.8h0.9M104.8 202.0h0.9M87.7 202.4h0.9M64.5 213.3h0.9M91.7 207.9h0.9M101.4 209.7h0.9M79.7 204.2h0.9M78.7 217.4h0.9M86.7 196.5h0.9M59.1 209.8h0.9M65.1 203.2h0.9M77.7 201.0h0.9M75.4 204.3h0.9M92.8 215.4h0.9M76.1 190.4h0.9M84.3 197.5h0.9M95.8 197.9h0.9M88.4 204.2h0.9M89.2 189.1h0.9M90.3 210.6h0.9M99.3 206.7h0.9M77.1 202.6h0.9M78.4 200.0h0.9M86.0 196.4h0.9M79.7 216.5h0.9M92.4 212.7h0.9M105.8 193.6h0.9M97.0 215.9h0.9M90.8 209.7h0.9M106.4 201.4h0.9M76.5 206.0h0.9M114.1 200.4h0.9M75.8 216.9h0.9M76.0 193.0h0.9M86.7 211.5h0.9M93.1 207.5h0.9M88.6 204.7h0.9M73.3 201.3h0.9M50.7 212.5h0.9M78.0 200.1h0.9M81.9 203.1h0.9M97.3 190.0h0.9M79.6 205.0h0.9M109.7 182.7h0.9M86.4 203.8h0.9M74.2 196.8h0.9M75.8 203.9h0.9M88.6 202.8h0.9M72.6 211.5h0.9M71.8 201.7h0.9M84.5 195.4h0.9M88.7 200.7h0.9M89.4 209.4h0.9M79.3 211.8h0.9M83.1 213.5h0.9M83.1 212.7h0.9M78.4 211.8h0.9M81.9 195.3h0.9M102.4 216.8h0.9M79.2 209.3h0.9M84.2 201.1h0.9M48.6 202.8h0.9M83.6 204.5h0.9M94.0 192.7h0.9M90.5 200.8h0.9M89.8 210.2h0.9M97.0 205.5h0.9M67.6 215.1h0.9M91.6 179.8h0.9M74.1 210.7h0.9M91.6 213.5h0.9M87.8 204.9h0.9M95.3 205.1h0.9M87.2 200.2h0.9M71.0 209.0h0.9M101.1 207.0h0.9M72.2 200.5h0.9M87.6 204.5h0.9M86.0 205.4h0.9M74.9 202.7h0.9M58.2 204.1h0.9M92.1 218.9h0.9M55.9 210.6h0.9M83.5 196.3h0.9M70.2 208.9h0.9M93.3 206.2h0.9M68.4 213.3h0.9M59.6 218.8h0.9M77.9 205.7h0.9M78.5 215.6h0.9M74.8 215.0h0.9M81.6 211.4h0.9M68.9 206.4h0.9M100.4 215.4h0.9M75.7 202.9h0.9M80.0 203.6h0.9M102.2 199.8h0.9M99.5 203.4h0.9M85.9 213.5h0.9M84.9 207.6h0.9M85.8 201.4h0.9M100.4 209.5h0.9M80.2 200.9h0.9M80.0 202.3h0.9M91.6 205.3h0.9M68.7 205.6h0.9M98.3 197.1h0.9M61.3 202.8h0.9M69.1 205.8h0.9M74.4 205.8h0.9M100.4 198.3h0.9M58.7 208.7h0.9M76.1 203.7h0.9M85.0 207.2h0.9M80.9 223.1h0.9M82.9 203.6h0.9M88.6 193.4h0.9M102.3 206.5h0.9M72.8 204.7h0.9M96.2 202.7h0.9M84.4 213.7h0.9M90.9 200.5h0.9M83.2 202.8h0.9M87.5 190.5h0.9M100.7 196.2h0.9M87.0 212.2h0.9M59.2 223.3h0.9M81.3 220.3h0.9M83.5 200.7h0.9M55.0 202.0h0.9M87.3 202.1h0.9M65.4 203.7h0.9M73.4 203.6h0.9M97.3 204.1h0.9M79.3 196.5h0.9M91.6 197.0h0.9M72.7 210.7h0.9M81.0 209.3h0.9M89.1 207.7h0.9M87.9 193.5h0.9M91.3 205.1h0.9M83.5 213.4h0.9M101.9 199.6h0.9M77.0 198.5h0.9M79.5 202.5h0.9M97.5 211.2h0.9M100.3 209.7h0.9M86.2 196.9h0.9M91.9 197.4h0.9M93.0 205.3h0.9M75.5 217.6h0.9M90.7 185.1h0.9M89.8 202.4h0.9M78.7 201.8h0.9M84.1 206.0h0.9M103.3 215.5h0.9M96.1 204.6h0.9M69.4 201.5h0.9M85.3 217.6h0.9M87.7 212.5h0.9M79.9 207.5h0.9M74.4 204.9h0.9M86.7 212.0h0.9M80.6 209.5h0.9M96.5 202.6h0.9M70.4 214.7h0.9M78.2 201.9h0.9M90.5 207.1h0.9M66.8 208.6h0.9M67.5 205.7h0.9M67.7 200.1h0.9M79.1 197.4h0.9M76.2 211.0h0.9M92.6 197.3h0.9M85.7 192.7h0.9M92.1 196.5h0.9M76.0 217.5h0.9M87.5 202.0h0.9M79.6 201.6h0.9M87.3 211.0h0.9M80.1 205.0h0.9M91.6 215.2h0.9M90.0 204.7h0.9M93.7 198.3h0.9M81.2 202.3h0.9M76.9 206.9h0.9M95.2 184.4h0.9M70.6 202.9h0.9M66.0 208.5h0.9M92.4 207.7h0.9M86.0 204.6h0.9M94.4 208.0h0.9M69.6 203.5h0.9M61.7 204.7h0.9M77.6 193.1h0.9M68.4 217.1h0.9M102.5 203.1h0.9M78.2 206.7h0.9M78.1 198.7h0.9M83.0 196.0h0.9M87.4 207.2h0.9M91.4 201.3h0.9M87.8 204.3h0.9M72.7 209.0h0.9M76.2 194.9h0.9M88.2 210.6h0.9M92.0 199.9h0.9M95.9 213.2h0.9M87.0 198.5h0.9M77.5 214.9h0.9M78.7 213.7h0.9M80.3 204.6h0.9M87.2 200.2h0.9M90.3 206.6h0.9M84.3 205.5h0.9M75.9 206.0h0.9M97.3 196.0h0.9M92.8 188.0h0.9M79.9 196.1h0.9M95.9 194.0h0.9M72.5 204.6h0.9M71.4 206.6h0.9M88.7 208.4h0.9M76.3 207.3h0.9M94.1 199.3h0.9M96.0 200.5h0.9M84.1 216.6h0.9M67.9 213.4h0.9M72.4 208.9h0.9M53.7 222.9h0.9M53.4 213.8h0.9M79.8 214.0h0.9M81.3 207.8h0.9M95.6 210.1h0.9M82.6 211.5h0.9M82.8 190.9h0.9M79.0 215.1h0.9M96.1 194.7h0.9M86.0 202.4h0.9M70.5 202.5h0.9M104.2 203.8h0.9M61.6 215.8h0.9M68.4 200.3h0.9M78.1 194.0h0.9M61.3 213.8h0.9M104.2 186.1h0.9M77.7 207.1h0.9M87.5 209.0h0.9M60.7 212.3h0.9M103.3 199.8h0.9M96.8 195.9h0.9M79.0 204.4h0.9M95.1 202.4h0.9M93.1 207.2h0.9M86.4 207.4h0.9M87.2 210.1h0.9M84.6 204.5h0.9M89.7 204.8h0.9M107.3 221.5h0.9M91.0 204.2h0.9M87.8 200.1h0.9M77.8 201.9h0.9M85.9 193.3h0.9M91.9 193.8h0.9M60.6 198.6h0.9M95.7 204.0h0.9M64.3 195.0h0.9M101.0 202.4h0.9M77.2 194.7h0.9M102.2 193.5h0.9M74.6 206.2h0.9M74.5 205.7h0.9M84.5 209.5h0.9M84.9 206.4h0.9M92.7 198.2h0.9M77.5 204.0h0.9M92.7 208.2h0.9M76.9 206.0h0.9M93.2 210.0h0.9M53.5 204.0h0.9M99.6 195.4h0.9M92.0 193.0h0.9M98.0 208.7h0.9M75.6 218.1h0.9M74.0 202.8h0.9M69.9 202.5h0.9M85.4 195.0h0.9M70.8 215.2h0.9M88.1 201.3h0.9M83.1 206.4h0.9M73.7 207.1h0.9M76.4 194.1h0.9M84.0 190.3h0.9M65.0 219.4h0.9M76.8 214.9h0.9M61.8 216.4h0.9M101.1 199.6h0.9M108.9 193.2h0.9M97.5 201.9h0.9M77.5 198.4h0.9M87.0 206.2h0.9M84.8 203.0h0.9M110.1 196.0h0.9M74.7 208.4h0.9M99.8 199.3h0.9M78.8 197.8h0.9M74.5 200.0h0.9M87.0 203.1h0.9M57.5 207.1h0.9M90.9 208.9h0.9M89.0 205.1h0.9M109.5 201.9h0.9M81.7 194.7h0.9M67.5 205.8h0.9M83.6 194.1h0.9M101.0 196.7h0.9M101.5 205.0h0.9M72.5 201.7h0.9M101.1 198.0h0.9M95.7 203.6h0.9M80.7 201.7h0.9M84.1 212.8h0.9M63.2 204.4h0.9M74.8 204.4h0.9M97.4 212.1h0.9M79.1 206.6h0.9M79.1 204.1h0.9M98.1 215.9h0.9M73.5 208.6h0.9M74.3 216.6h0.9M86.6 208.7h0.9M88.1 208.8h0.9M89.9 222.7h0.9M88.3 207.8h0.9M77.6 203.0h0.9M72.6 206.0h0.9M88.1 203.7h0.9M93.8 212.1h0.9M77.8 213.5h0.9M99.2 203.7h0.9M92.3 203.5h0.9M69.3 209.4h0.9M87.1 212.8h0.9M74.7 221.0h0.9M105.1 203.0h0.9M86.9 196.9h0.9M80.4 195.9h0.9M107.5 192.7h0.9M89.2 218.4h0.9M89.9 194.0h0.9M105.4 197.5h0.9M86.4 205.2h0.9M98.8 195.5h0.9M109.5 200.9h0.9M97.2 180.0h0.9M70.9 211.0h0.9M79.9 208.1h0.9M96.8 210.5h0.9M98.2 217.0h0.9M78.1 190.9h0.9M76.4 221.7h0.9M87.9 212.2h0.9M84.9 199.3h0.9M114.7 208.4h0.9M89.0 206.5h0.9M95.0 195.1h0.9M70.1 204.1h0.9M86.1 194.0h0.9M82.2 211.1h0.9M88.4 202.2h0.9M99.4 212.7h0.9M90.2 202.1h0.9M63.8 206.6h0.9M99.7 194.1h0.9M90.1 217.6h0.9M80.5 203.4h0.9M75.8 216.6h0.9M94.2 214.0h0.9M74.2 210.0h0.9M110.7 200.9h0.9M66.9 205.7h0.9M57.0 210.4h0.9M95.8 207.0h0.9M81.2 211.8h0.9M87.8 214.3h0.9M89.9 204.5h0.9M96.4 195.8h0.9M79.9 200.1h0.9M88.1 202.1h0.9M81.5 211.2h0.9M76.0 214.4h0.9M80.1 201.0h0.9M101.0 198.5h0.9M89.7 188.9h0.9M61.5 194.2h0.9M80.0 209.9h0.9M89.8 224.3h0.9M81.8 198.9h0.9M61.7 202.5h0.9M98.3 193.7h0.9M90.7 203.7h0.9M77.0 193.7h0.9M82.6 222.9h0.9M91.3 202.1h0.9M77.0 215.7h0.9M89.5 195.8h0.9M96.5 211.1h0.9M69.5 189.9h0.9M106.1 190.3h0.9M101.2 204.6h0.9M83.7 220.6h0.9M74.2 207.5h0.9M68.2 200.5h0.9M99.4 201.9h0.9M69.9 194.3h0.9M74.2 213.5h0.9M89.3 205.0h0.9M86.5 204.8h0.9M72.7 200.3h0.9M72.5 213.9h0.9M69.7 191.4h0.9M105.8 206.0h0.9M89.0 198.1h0.9M90.0 192.6h0.9M85.4 198.5h0.9M91.5 207.0h0.9M98.6 210.9h0.9M112.8 219.4h0.9M99.9 206.3h0.9M72.6 206.8h0.9M74.4 205.6h0.9M69.1 203.0h0.9M102.0 196.2h0.9M79.9 207.9h0.9M71.3 211.6h0.9M74.3 190.3h0.9M57.4 210.2h0.9M72.7 204.0h0.9M85.1 204.9h0.9M67.2 220.2h0.9M79.1 221.7h0.9M88.6 208.0h0.9M90.5 213.9h0.9M84.3 212.6h0.9M60.0 192.5h0.9M58.4 212.2h0.9M84.0 189.1h0.9M83.2 186.1h0.9M81.9 203.7h0.9M61.4 206.4h0.9M72.4 216.5h0.9M58.7 207.6h0.9M71.9 194.7h0.9M95.6 200.2h0.9M81.5 195.3h0.9M89.0 209.5h0.9M88.2 202.6h0.9M95.6 213.8h0.9M62.6 210.6h0.9M87.0 217.8h0.9M76.5 200.7h0.9M97.9 197.2h0.9M56.5 205.2h0.9M49.3 211.5h0.9M87.6 214.9h0.9M86.5 207.4h0.9M93.3 192.8h0.9M92.0 205.0h0.9M87.8 188.0h0.9M77.2 204.7h0.9M85.4 199.5h0.9M111.8 212.4h0.9M89.5 208.0h0.9M68.5 217.0h0.9M80.7 205.5h0.9M80.8 212.8h0.9M75.6 202.8h0.9M78.3 209.0h0.9M75.2 208.2h0.9M67.3 209.7h0.9M72.7 207.4h0.9M88.3 196.2h0.9M85.7 208.8h0.9M68.0 207.2h0.9M88.3 199.8h0.9M68.1 208.8h0.9M90.0 209.7h0.9M98.6 202.9h0.9M83.3 203.8h0.9M98.0 210.1h0.9M61.3 198.4h0.9M82.6 210.4h0.9M56.0 206.8h0.9M94.1 202.8h0.9M59.6 210.1h0.9M82.6 219.6h0.9M104.7 183.1h0.9M73.6 213.2h0.9M100.0 205.9h0.9M82.9 206.8h0.9M91.7 199.6h0.9M93.3 203.4h0.9M88.3 217.7h0.9M73.2 194.0h0.9M80.3 217.2h0.9M81.4 214.2h0.9M84.5 210.5h0.9M95.1 209.1h0.9M101.1 212.0h0.9M97.5 184.9h0.9M76.5 204.8h0.9M82.3 208.6h0.9M82.0 198.0h0.9M81.1 208.2h0.9M80.3 221.8h0.9M91.7 203.9h0.9M75.8 202.7h0.9M96.1 197.8h0.9M70.1 205.3h0.9M74.7 200.6h0.9M76.7 200.7h0.9M93.0 204.0h0.9M84.7 216.7h0.9M102.8 205.3h0.9M66.2 219.4h0.9M86.4 198.8h0.9M89.3 206.2h0.9M81.3 208.2h0.9M74.4 197.9h0.9M94.3 192.8h0.9M98.5 201.2h0.9M83.2 225.7h0.9M76.8 206.3h0.9M65.3 202.4h0.9M80.5 213.4h0.9M74.4 210.0h0.9M85.2 194.4h0.9M83.9 200.0h0.9M74.7 205.5h0.9M74.0 193.6h0.9M70.3 200.5h0.9M99.2 190.6h0.9M92.1 212.4h0.9M72.9 197.4h0.9M81.8 204.4h0.9M99.8 193.6h0.9M105.5 193.5h0.9M112.8 192.7h0.9M92.7 196.6h0.9M94.4 212.2h0.9M87.4 206.1h0.9M75.6 213.8h0.9M74.2 202.2h0.9M94.6 196.4h0.9M88.5 204.0h0.9M85.7 213.4h0.9M86.9 218.9h0.9M70.2 203.5h0.9M68.6 184.3h0.9M67.6 211.4h0.9M75.8 192.7h0.9M53.2 208.7h0.9M86.4 213.5h0.9M84.0 197.9h0.9M73.8 198.5h0.9M74.5 207.8h0.9M68.0 198.0h0.9M68.9 210.1h0.9M59.0 204.4h0.9M62.4 214.7h0.9M72.7 201.1h0.9M77.5 211.5h0.9M90.9 194.0h0.9M94.3 214.7h0.9M82.6 212.7h0.9M79.8 206.6h0.9M79.8 202.3h0.9M69.0 209.1h0.9M78.3 194.6h0.9M78.4 200.4h0.9M90.4 212.0h0.9M95.4 200.9h0.9M77.4 215.5h0.9M89.5 206.3h0.9M77.9 196.8h0.9M105.0 185.0h0.9M76.2 207.2h0.9M97.6 196.9h0.9M87.1 201.3h0.9M86.7 222.3h0.9M92.3 204.3h0.9M91.0 198.3h0.9M92.9 201.2h0.9M90.0 206.5h0.9M79.2 198.5h0.9M58.9 200.2h0.9M82.2 222.8h0.9M93.3 213.8h0.9M67.0 210.9h0.9M81.1 200.9h0.9M67.0 202.2h0.9M69.8 203.1h0.9M75.1 197.8h0.9M86.2 196.9h0.9M91.6 204.8h0.9M85.3 206.1h0.9M67.9 207.0h0.9M104.2 198.5h0.9M83.6 213.2h0.9M72.4 214.8h0.9M86.6 209.5h0.9M101.8 211.9h0.9M78.7 210.0h0.9M87.5 204.6h0.9M91.7 207.9h0.9M100.0 209.6h0.9M79.8 222.1h0.9M83.3 204.2h0.9M80.8 205.7h0.9M82.6 196.1h0.9M95.0 198.0h0.9M84.6 195.0h0.9M96.1 200.1h0.9M74.1 205.2h0.9M76.6 214.2h0.9M73.4 203.4h0.9M84.9 189.4h0.9M91.7 207.1h0.9M97.7 213.2h0.9M65.7 205.3h0.9M70.1 196.0h0.9M94.6 199.7h0.9M82.6 203.6h0.9M96.0 218.5h0.9M80.0 207.9h0.9M75.3 207.9h0.9M84.8 200.1h0.9M91.2 189.9h0.9M90.0 190.6h0.9M60.3 212.4h0.9M68.8 219.6h0.9M77.3 210.8h0.9M91.3 202.7h0.9M90.1 204.0h0.9M93.1 213.4h0.9M73.9 205.9h0.9M103.5 206.6h0.9M72.6 206.5h0.9M98.3 205.5h0.9M67.8 192.3h0.9M73.6 192.0h0.9M84.7 218.9h0.9M82.7 209.0h0.9M86.7 204.2h0.9M57.7 220.8h0.9M86.1 201.3h0.9M86.1 222.2h0.9M82.3 214.2h0.9M85.3 194.2h0.9M67.5 207.4h0.9M91.1 197.8h0.9M89.9 198.7h0.9M102.7 210.9h0.9M80.0 213.5h0.9M87.5 206.9h0.9M82.8 214.6h0.9M74.1 209.6h0.9M88.7 194.1h0.9M91.3 198.2h0.9M87.4 194.1h0.9M64.1 210.9h0.9M104.7 191.9h0.9M98.9 203.8h0.9M69.1 199.7h0.9M75.4 204.2h0.9M71.8 218.3h0.9M80.5 211.3h0.9M82.5 202.1h0.9M97.0 204.9h0.9M83.2 201.8h0.9M83.6 203.4h0.9M94.2 198.5h0.9M69.4 205.8h0.9M65.1 199.1h0.9M98.9 202.9h0.9M73.0 201.6h0.9M77.2 213.7h0.9M70.4 206.5h0.9M81.1 192.0h0.9M83.2 207.2h0.9M64.8 198.3h0.9M91.3 195.3h0.9M68.8 187.3h0.9M98.6 218.6h0.9M73.4 196.1h0.9M85.0 211.4h0.9M76.3 204.5h0.9M93.4 209.7h0.9M84.3 211.3h0.9M77.7 202.3h0.9M65.6 204.4h0.9M77.1 201.1h0.9M85.3 202.5h0.9M91.0 205.4h0.9M70.7 222.4h0.9M66.2 206.9h0.9M66.9 211.5h0.9M60.4 199.3h0.9M65.0 203.7h0.9M69.0 204.0h0.9M72.1 204.9h0.9M103.2 193.3h0.9M85.8 204.6h0.9M106.9 190.7h0.9M91.1 201.7h0.9M79.2 199.1h0.9M100.9 204.0h0.9M88.2 211.1h0.9M90.0 208.8h0.9M93.6 205.1h0.9M82.6 208.7h0.9M93.5 202.0h0.9M92.5 201.9h0.9M83.7 210.6h0.9M83.4 214.0h0.9M79.3 214.1h0.9M82.5 224.4h0.9M64.6 194.9h0.9M79.7 206.3h0.9M107.0 193.4h0.9M87.2 198.3h0.9M78.8 191.4h0.9M75.6 212.7h0.9M78.4 203.3h0.9M82.2 201.5h0.9M70.6 211.5h0.9M59.6 206.6h0.9M65.5 203.8h0.9M83.3 196.6h0.9M76.9 205.8h0.9M78.1 217.9h0.9M84.2 207.9h0.9M72.6 206.6h0.9M89.7 206.6h0.9M78.3 212.2h0.9M72.4 201.8h0.9M79.7 215.6h0.9M88.8 206.8h0.9M90.3 205.0h0.9M63.3 210.3h0.9M94.5 205.6h0.9M82.1 214.2h0.9M97.3 195.0h0.9M81.5 192.9h0.9M66.9 192.0h0.9M90.2 191.8h0.9M91.6 209.8h0.9M77.4 213.6h0.9M73.0 190.8h0.9M76.7 191.5h0.9M88.1 200.9h0.9M89.9 207.7h0.9M94.8 216.6h0.9M77.9 215.5h0.9M75.6 213.6h0.9M86.4 220.1h0.9M95.6 206.3h0.9M82.5 203.4h0.9M78.2 200.0h0.9M74.2 213.1h0.9M82.9 211.0h0.9M92.1 188.8h0.9M89.2 202.0h0.9M54.1 208.9h0.9M72.4 213.9h0.9M59.0 210.7h0.9M75.2 205.0h0.9M91.3 195.4h0.9M94.0 214.3h0.9M79.4 204.5h0.9M81.9 200.8h0.9M83.2 204.7h0.9M76.8 213.6h0.9M101.9 203.2h0.9M65.7 200.3h0.9M86.0 205.8h0.9M71.2 212.1h0.9M86.2 208.5h0.9M71.6 210.4h0.9M62.3 212.5h0.9M93.7 196.7h0.9M84.1 203.2h0.9M76.3 209.2h0.9M64.5 215.2h0.9M64.8 202.5h0.9M88.8 209.4h0.9M82.8 210.2h0.9M79.1 200.9h0.9M65.1 217.7h0.9M99.7 196.9h0.9M83.6 210.4h0.9M81.6 194.5h0.9M73.1 205.4h0.9M69.6 210.2h0.9M72.7 213.8h0.9M72.0 203.2h0.9M71.4 209.0h0.9M96.4 199.4h0.9M87.4 208.0h0.9M73.3 198.2h0.9M74.4 206.3h0.9M96.1 209.3h0.9M89.7 194.4h0.9M75.5 213.8h0.9M91.9 211.9h0.9M70.6 203.5h0.9M59.9 209.2h0.9M76.6 187.4h0.9M74.6 201.9h0.9M75.2 193.1h0.9M71.8 219.0h0.9M56.8 186.8h0.9M76.6 209.2h0.9M116.0 193.0h0.9M85.8 216.0h0.9M92.5 205.1h0.9M83.9 208.0h0.9M88.5 211.3h0.9M69.6 197.1h0.9M68.8 202.1h0.9M87.4 213.4h0.9M82.4 210.0h0.9M74.5 211.7h0.9M87.3 196.9h0.9M76.0 212.8h0.9M78.2 204.8h0.9M72.8 207.1h0.9M98.5 204.6h0.9M78.0 212.5h0.9M91.6 197.8h0.9M78.1 202.8h0.9M84.7 212.6h0.9M80.7 220.4h0.9M81.7 219.3h0.9M74.1 227.4h0.9M82.1 205.0h0.9M66.8 204.6h0.9M88.0 206.6h0.9M75.9 195.8h0.9M78.9 203.9h0.9M82.8 207.1h0.9M86.0 213.6h0.9M76.4 205.5h0.9M82.8 214.0h0.9M75.1 217.3h0.9M83.9 206.6h0.9M59.2 210.1h0.9M64.3 216.1h0.9M84.8 194.3h0.9M73.8 202.0h0.9M87.5 191.2h0.9M68.7 209.4h0.9M82.3 209.1h0.9M79.4 207.3h0.9M75.7 205.1h0.9M112.3 206.0h0.9M77.2 207.1h0.9M61.9 198.9h0.9M74.8 194.4h0.9M87.5 209.9h0.9M96.5 207.6h0.9M60.0 221.3h0.9M82.8 208.4h0.9M92.9 205.0h0.9M84.2 197.7h0.9M100.0 217.8h0.9M79.5 198.4h0.9M88.9 216.5h0.9M62.7 204.9h0.9M81.1 213.3h0.9M84.1 196.3h0.9M93.0 204.0h0.9M88.8 194.4h0.9M86.0 212.6h0.9M73.9 205.8h0.9M59.2 204.2h0.9M80.8 195.4h0.9M73.0 206.8h0.9M99.8 196.0h0.9M62.7 215.5h0.9M82.0 212.8h0.9M98.9 196.2h0.9M95.8 196.7h0.9M87.1 209.2h0.9M72.1 215.7h0.9M50.9 208.1h0.9M83.0 209.8h0.9M91.0 201.9h0.9M76.1 200.1h0.9M78.6 216.3h0.9M91.3 186.0h0.9M79.6 198.2h0.9M79.5 202.9h0.9M80.3 215.2h0.9M72.3 205.0h0.9M91.7 184.4h0.9M105.5 195.0h0.9M80.1 200.9h0.9M86.6 192.3h0.9M98.4 188.9h0.9M72.3 191.9h0.9M73.4 200.2h0.9M76.7 208.5h0.9M75.7 216.2h0.9M90.0 196.3h0.9M86.5 198.5h0.9M75.1 205.9h0.9M83.3 208.4h0.9M89.8 212.5h0.9M104.0 202.9h0.9M76.1 200.4h0.9M92.1 210.5h0.9M83.7 189.7h0.9M99.7 209.8h0.9M94.9 213.1h0.9M67.1 206.5h0.9M75.6 199.9h0.9M86.5 198.8h0.9M74.4 196.5h0.9M84.6 205.1h0.9M74.0 189.9h0.9M102.0 194.3h0.9M85.8 205.5h0.9M83.9 220.8h0.9M76.5 210.9h0.9M89.8 209.8h0.9M76.2 211.6h0.9M85.3 209.4h0.9M64.6 202.2h0.9M108.8 206.4h0.9M74.5 204.7h0.9M92.2 225.0h0.9M86.6 194.5h0.9M89.3 207.6h0.9M89.5 200.5h0.9M79.0 202.3h0.9M81.6 204.8h0.9M95.3 203.1h0.9M97.7 209.4h0.9M93.4 201.0h0.9M103.1 197.4h0.9M99.5 213.5h0.9M85.3 208.5h0.9M101.1 191.5h0.9M83.1 194.1h0.9M69.7 204.2h0.9M82.0 207.4h0.9M86.1 210.4h0.9M91.4 206.1h0.9M70.0 209.0h0.9M81.3 202.5h0.9M83.6 210.0h0.9M83.5 191.4h0.9M81.2 204.0h0.9M78.0 206.1h0.9M63.7 199.1h0.9M95.1 207.6h0.9M95.3 205.0h0.9M80.5 189.8h0.9M77.8 216.6h0.9M78.9 194.6h0.9M72.9 198.6h0.9M85.2 207.6h0.9M89.5 190.2h0.9M84.8 204.1h0.9M91.7 197.0h0.9M74.9 205.6h0.9M87.7 199.2h0.9M81.5 205.8h0.9M83.2 193.8h0.9M86.5 199.2h0.9M84.3 213.5h0.9M73.7 211.6h0.9M81.6 202.5h0.9M78.9 201.8h0.9M85.9 197.6h0.9M83.8 204.0h0.9M63.7 212.8h0.9M88.7 209.7h0.9M90.1 211.2h0.9M95.3 201.8h0.9M85.0 206.6h0.9M74.0 198.9h0.9M91.8 205.4h0.9M71.0 198.4h0.9M102.2 209.8h0.9M75.6 214.6h0.9M93.8 201.1h0.9M81.5 208.4h0.9M84.6 204.0h0.9M71.6 203.6h0.9M88.8 200.3h0.9M89.2 204.5h0.9M85.0 201.0h0.9M68.1 209.9h0.9M88.9 213.3h0.9M89.4 203.5h0.9M83.5 200.2h0.9M87.7 204.5h0.9M98.5 198.7h0.9M81.0 207.2h0.9M83.4 222.6h0.9M75.9 205.0h0.9M84.7 204.4h0.9M78.2 203.4h0.9M65.3 199.7h0.9M77.2 209.7h0.9M96.7 206.8h0.9M76.4 201.1h0.9M59.2 214.8h0.9M86.3 200.4h0.9M91.8 205.0h0.9M80.7 194.4h0.9M93.6 197.2h0.9M87.2 201.1h0.9M91.5 207.9h0.9M73.2 207.2h0.9M107.0 198.9h0.9M77.2 205.2h0.9M80.6 206.0h0.9M96.0 183.0h0.9M75.9 202.1h0.9M78.4 203.3h0.9M87.2 214.3h0.9M96.3 202.0h0.9M95.3 202.8h0.9M79.2 210.4h0.9M79.8 194.9h0.9M82.0 211.6h0.9M75.7 222.3h0.9M75.8 198.4h0.9M89.1 204.1h0.9M70.4 198.5h0.9M74.4 211.3h0.9M93.7 207.2h0.9M91.6 203.0h0.9M87.0 205.7h0.9M96.9 206.0h0.9M106.3 197.1h0.9M91.7 214.9h0.9M76.9 202.2h0.9M93.1 203.0h0.9M93.4 219.6h0.9M113.5 199.3h0.9M94.3 214.6h0.9M90.8 211.4h0.9M82.9 213.7h0.9M78.9 183.0h0.9M89.0 191.7h0.9M73.9 210.5h0.9M84.0 208.0h0.9M80.4 200.9h0.9M62.6 210.5h0.9M83.4 193.5h0.9M90.1 203.4h0.9M84.6 200.8h0.9M82.3 196.3h0.9M81.1 193.4h0.9M91.6 197.4h0.9M74.7 210.0h0.9M80.9 196.4h0.9M88.8 209.6h0.9M67.7 196.5h0.9M88.2 204.5h0.9M79.6 205.4h0.9M74.1 195.5h0.9M64.9 199.6h0.9M83.5 208.6h0.9M72.0 213.7h0.9M75.7 215.9h0.9M86.0 209.8h0.9M65.5 202.4h0.9M97.1 194.4h0.9M69.7 216.8h0.9M87.5 205.8h0.9M79.6 213.4h0.9M102.9 196.7h0.9M86.5 206.5h0.9M82.0 202.6h0.9M76.4 186.5h0.9M51.0 217.3h0.9M72.7 201.8h0.9M81.6 220.7h0.9M63.5 209.2h0.9M96.9 203.4h0.9M87.7 210.4h0.9M96.8 200.7h0.9M79.6 202.0h0.9M70.1 198.7h0.9M96.1 199.6h0.9M73.7 204.4h0.9M90.8 209.5h0.9M80.0 201.4h0.9M81.5 203.3h0.9M76.7 207.2h0.9M91.2 199.6h0.9M88.2 206.7h0.9M77.9 199.5h0.9M85.7 206.7h0.9M71.5 209.0h0.9M61.9 209.2h0.9M74.7 204.0h0.9M94.2 203.5h0.9M78.4 208.2h0.9M81.1 202.7h0.9M91.7 200.9h0.9M79.4 212.8h0.9M120.0 202.3h0.9M73.2 216.4h0.9M80.0 210.6h0.9M87.9 203.2h0.9M75.9 197.9h0.9M92.1 204.6h0.9M97.8 202.4h0.9M99.7 203.1h0.9M82.1 200.7h0.9M92.8 199.1h0.9M107.1 197.1h0.9M83.6 213.9h0.9M88.5 202.4h0.9M70.5 220.6h0.9M90.0 211.5h0.9M71.1 211.1h0.9M92.6 195.8h0.9M80.2 223.2h0.9M87.4 216.0h0.9M60.7 199.6h0.9M91.9 214.7h0.9M73.3 210.9h0.9M84.2 209.4h0.9M93.7 221.9h0.9M93.2 189.1h0.9M83.6 215.8h0.9M88.5 203.4h0.9M94.3 202.1h0.9M92.9 195.3h0.9M98.5 197.6h0.9M62.7 208.3h0.9M84.3 221.7h0.9M88.7 196.1h0.9M75.7 196.8h0.9M81.2 214.1h0.9M94.3 198.7h0.9M63.1 200.6h0.9M91.0 205.1h0.9M85.4 197.8h0.9M64.8 203.9h0.9M79.0 202.5h0.9M83.7 194.2h0.9M72.4 203.6h0.9M67.5 198.9h0.9M89.2 207.3h0.9M81.0 200.2h0.9M82.8 194.9h0.9M78.8 185.3h0.9M83.2 215.2h0.9M74.6 213.0h0.9M88.5 207.5h0.9M87.5 203.3h0.9M79.5 179.7h0.9M73.7 210.1h0.9M72.6 199.6h0.9M76.3 209.8h0.9M105.2 187.0h0.9M81.7 200.0h0.9M82.5 200.0h0.9M64.0 193.9h0.9M96.8 194.7h0.9M97.3 197.6h0.9M81.6 194.8h0.9M81.1 215.3h0.9M74.1 222.0h0.9M70.7 207.0h0.9M64.6 213.9h0.9M62.3 207.4h0.9M104.6 191.7h0.9M82.0 209.3h0.9M86.8 211.8h0.9M94.7 197.2h0.9M72.3 207.4h0.9M84.1 215.5h0.9M69.9 201.4h0.9M78.4 192.7h0.9M83.8 207.8h0.9M61.8 212.9h0.9M75.1 218.0h0.9M86.4 212.3h0.9M76.6 194.5h0.9M92.1 198.9h0.9M71.4 208.0h0.9M71.5 203.6h0.9M100.0 217.6h0.9M53.6 213.7h0.9M86.9 213.4h0.9M94.8 201.1h0.9M99.4 205.5h0.9M79.7 202.6h0.9M87.9 192.4h0.9M93.8 212.4h0.9M88.7 213.6h0.9M92.4 202.6h0.9M87.7 202.1h0.9M71.6 191.5h0.9M75.8 211.7h0.9M83.1 205.6h0.9M86.4 209.7h0.9M81.1 198.9h0.9M82.7 212.4h0.9M79.0 206.0h0.9M80.0 201.8h0.9M85.3 190.1h0.9M86.4 211.9h0.9M85.9 197.5h0.9M73.4 208.1h0.9M82.1 208.8h0.9M75.3 206.2h0.9M94.6 216.1h0.9M81.2 199.5h0.9M82.7 214.2h0.9M100.3 211.7h0.9M87.3 219.4h0.9M75.5 205.7h0.9M71.1 217.1h0.9M87.1 206.0h0.9M89.9 210.7h0.9M98.0 200.8h0.9M107.0 204.9h0.9M105.7 192.5h0.9M79.6 203.0h0.9M86.4 197.0h0.9M85.6 191.2h0.9M80.6 211.6h0.9M74.6 206.4h0.9M70.3 211.0h0.9M73.1 209.9h0.9M81.5 199.5h0.9M87.0 219.4h0.9M93.3 203.0h0.9M93.1 205.7h0.9M84.5 211.4h0.9M82.0 208.9h0.9M69.8 211.5h0.9M86.2 213.8h0.9M84.8 207.8h0.9M85.5 199.5h0.9M96.5 208.0h0.9M61.5 199.2h0.9M73.3 206.2h0.9M76.3 197.3h0.9M82.8 206.3h0.9M70.5 223.8h0.9M79.0 203.1h0.9M58.7 209.0h0.9M83.7 205.7h0.9M78.9 211.3h0.9M89.0 203.1h0.9M64.8 220.8h0.9M78.4 208.1h0.9M86.8 212.1h0.9M88.6 204.9h0.9M86.9 199.6h0.9M82.4 205.3h0.9M89.0 203.4h0.9M81.5 201.9h0.9M89.8 202.8h0.9M76.8 214.7h0.9M80.4 203.6h0.9M85.9 219.1h0.9M71.6 200.1h0.9M82.7 201.2h0.9M84.4 192.1h0.9M80.6 195.3h0.9M91.4 215.0h0.9M70.8 200.9h0.9M92.7 196.3h0.9M101.9 194.0h0.9M84.3 196.9h0.9M74.6 206.4h0.9M91.1 216.8h0.9M75.2 207.2h0.9M64.6 218.7h0.9M90.9 206.1h0.9M85.5 193.7h0.9M64.3 220.2h0.9M97.3 206.1h0.9M102.2 209.6h0.9M83.0 202.9h0.9M69.2 207.9h0.9M86.9 211.3h0.9M87.4 210.9h0.9M84.0 211.3h0.9M77.1 212.3h0.9M96.5 216.9h0.9M87.1 217.8h0.9M88.9 201.9h0.9M87.3 213.1h0.9M88.1 207.3h0.9M99.2 198.3h0.9M80.2 204.9h0.9M96.2 217.4h0.9M88.1 221.5h0.9M76.2 210.0h0.9M87.9 203.3h0.9M75.0 191.8h0.9M70.2 198.7h0.9M81.7 184.4h0.9M78.9 211.7h0.9M80.2 208.2h0.9M87.1 205.5h0.9M68.9 204.6h0.9M78.3 211.6h0.9M85.7 206.4h0.9M79.7 202.0h0.9M55.4 207.2h0.9M65.5 216.8h0.9M105.6 202.7h0.9M72.6 213.4h0.9M93.2 205.2h0.9M94.5 194.9h0.9M85.7 206.1h0.9M65.6 211.3h0.9M69.4 198.5h0.9M94.9 199.1h0.9M61.5 199.0h0.9M100.2 201.2h0.9M67.3 195.6h0.9M83.7 194.5h0.9M67.8 213.4h0.9M79.7 205.4h0.9M85.7 205.7h0.9M88.7 197.2h0.9M95.2 202.8h0.9M92.9 210.0h0.9M78.7 215.4h0.9M83.5 193.4h0.9M94.8 211.6h0.9M85.7 201.4h0.9M89.3 203.4h0.9M83.1 193.0h0.9M91.0 211.4h0.9M66.6 207.3h0.9M90.6 214.1h0.9M83.1 195.9h0.9M85.3 210.0h0.9M64.9 204.8h0.9M76.4 203.8h0.9M70.6 209.5h0.9M78.6 198.3h0.9M86.0 202.0h0.9M82.7 203.5h0.9M87.0 204.5h0.9M78.3 195.8h0.9M81.7 206.2h0.9M80.4 194.0h0.9M82.6 195.2h0.9M81.0 215.7h0.9M72.8 204.4h0.9M88.1 199.7h0.9M78.1 200.9h0.9M85.2 185.2h0.9M91.2 197.4h0.9M90.7 213.0h0.9M96.0 192.2h0.9M74.8 199.0h0.9M85.0 206.0h0.9M81.6 199.3h0.9M74.9 218.2h0.9M93.7 200.9h0.9M72.2 205.5h0.9M93.4 199.7h0.9M72.3 199.4h0.9M80.7 208.5h0.9M91.0 207.9h0.9M77.0 214.0h0.9M70.4 195.9h0.9M73.9 211.3h0.9M70.9 200.8h0.9M73.5 209.8h0.9M97.6 212.1h0.9M90.1 195.8h0.9M77.7 201.4h0.9M78.6 204.0h0.9M81.0 211.8h0.9M84.6 211.5h0.9M72.3 200.7h0.9M74.4 211.5h0.9M83.1 213.7h0.9M65.7 214.3h0.9M99.8 205.3h0.9M84.0 202.8h0.9M78.6 203.4h0.9M65.2 210.7h0.9M83.8 211.0h0.9M75.7 215.7h0.9M75.8 206.2h0.9M78.2 189.3h0.9M100.6 209.7h0.9M89.1 217.9h0.9M61.1 199.7h0.9M83.6 227.3h0.9M92.1 206.4h0.9M85.0 202.9h0.9M85.9 204.4h0.9M73.2 200.8h0.9M76.2 201.0h0.9M77.5 208.6h0.9M91.6 204.5h0.9M89.7 197.3h0.9M67.3 194.1h0.9M77.7 211.6h0.9M91.0 212.0h0.9M70.9 197.5h0.9M77.7 209.8h0.9M91.8 207.9h0.9M73.5 201.4h0.9M88.5 190.8h0.9M83.6 186.6h0.9M88.8 215.6h0.9M115.0 202.5h0.9M92.5 200.1h0.9M93.8 208.0h0.9M81.8 199.3h0.9M96.7 199.2h0.9M68.3 198.6h0.9M78.7 208.6h0.9M86.5 221.8h0.9M63.2 207.1h0.9M83.1 197.3h0.9M99.2 208.2h0.9M85.0 201.6h0.9M85.7 209.9h0.9M72.4 207.2h0.9M85.1 205.5h0.9M56.8 194.1h0.9M96.4 206.2h0.9M83.0 214.7h0.9M71.1 222.9h0.9M92.6 208.1h0.9M86.9 212.0h0.9M82.0 212.3h0.9M91.3 204.8h0.9M88.1 202.1h0.9M86.3 196.5h0.9M70.8 209.9h0.9M69.1 200.1h0.9M103.6 196.1h0.9M85.6 210.9h0.9M72.8 216.7h0.9M66.6 214.1h0.9M80.4 199.7h0.9M74.4 203.0h0.9M92.6 207.9h0.9M81.6 212.2h0.9M92.5 212.5h0.9M78.5 204.8h0.9M89.6 195.5h0.9M100.1 212.8h0.9M99.5 206.9h0.9M84.7 200.4h0.9M87.9 203.5h0.9M73.4 211.5h0.9M80.8 194.9h0.9M91.7 191.2h0.9M68.0 196.4h0.9M75.8 213.9h0.9M81.4 213.1h0.9M96.5 193.0h0.9M84.9 204.8h0.9M84.4 208.6h0.9M87.9 187.5h0.9M77.9 204.4h0.9M76.7 222.7h0.9M82.7 209.8h0.9M94.1 210.1h0.9M79.3 207.8h0.9M70.9 198.7h0.9M77.1 209.9h0.9M62.3 195.1h0.9M87.0 221.6h0.9M86.7 201.0h0.9M80.4 200.1h0.9M88.8 200.9h0.9M91.1 197.3h0.9M80.9 205.9h0.9M77.5 206.4h0.9M97.4 208.1h0.9M79.2 201.3h0.9M86.3 207.0h0.9M81.7 204.4h0.9M75.8 214.9h0.9M86.3 204.4h0.9M95.0 201.5h0.9M78.7 212.8h0.9M80.8 204.9h0.9M91.1 205.3h0.9M95.2 203.8h0.9M81.3 198.4h0.9M78.8 204.3h0.9M75.4 202.8h0.9M79.7 218.0h0.9M82.0 211.5h0.9M89.5 201.1h0.9M103.7 199.9h0.9M95.6 203.6h0.9M104.6 194.2h0.9M82.5 208.3h0.9M100.7 198.4h0.9M55.4 216.7h0.9M77.0 184.8h0.9M93.9 207.1h0.9M80.9 209.1h0.9M72.3 208.0h0.9M70.7 193.5h0.9M54.5 208.3h0.9M92.3 215.0h0.9M77.5 213.8h0.9M90.2 205.9h0.9M73.3 198.1h0.9M84.9 202.8h0.9M85.1 199.2h0.9M97.6 205.6h0.9M81.8 214.3h0.9M82.7 199.9h0.9M99.2 202.6h0.9M89.3 219.6h0.9M59.6 222.0h0.9M90.9 192.6h0.9M84.2 197.9h0.9M67.2 209.1h0.9M87.4 204.1h0.9M67.5 200.7h0.9M75.5 196.2h0.9M84.3 199.7h0.9M79.6 206.9h0.9M70.5 212.9h0.9M87.7 193.8h0.9M91.4 200.1h0.9M84.4 198.9h0.9M72.2 214.4h0.9M85.2 200.8h0.9M85.5 204.2h0.9M80.8 192.9h0.9M85.0 190.0h0.9M83.5 210.2h0.9M95.0 204.0h0.9M88.8 198.5h0.9M62.3 216.0h0.9M76.9 202.8h0.9M78.1 204.5h0.9M76.6 199.3h0.9M83.2 201.9h0.9M101.2 214.7h0.9M72.7 200.9h0.9M98.3 196.4h0.9M91.4 198.6h0.9M98.6 195.5h0.9M82.9 208.3h0.9M105.1 200.7h0.9M92.5 195.0h0.9M85.5 199.2h0.9M76.2 211.8h0.9M85.4 199.5h0.9M65.7 223.0h0.9M78.4 204.7h0.9M73.8 218.2h0.9M91.5 217.5h0.9M86.4 212.9h0.9M88.8 204.4h0.9M88.1 204.2h0.9M70.2 200.5h0.9M87.1 208.5h0.9M91.2 219.4h0.9M103.2 221.0h0.9M91.8 211.0h0.9M65.6 212.6h0.9M98.3 199.4h0.9M83.0 209.5h0.9M73.6 215.7h0.9M65.0 201.0h0.9M69.2 194.0h0.9M79.7 197.2h0.9M104.4 208.1h0.9M84.8 212.5h0.9M99.0 192.3h0.9M83.1 199.7h0.9M81.3 200.4h0.9M85.1 195.6h0.9M68.0 205.4h0.9M97.3 207.6h0.9M77.8 207.7h0.9M79.9 202.5h0.9M81.2 187.9h0.9M98.8 192.2h0.9M81.6 215.0h0.9M84.5 202.6h0.9M69.7 204.7h0.9M76.2 209.7h0.9M98.5 204.5h0.9M79.0 196.7h0.9M92.8 193.0h0.9M70.6 224.2h0.9M77.3 218.6h0.9M100.4 212.8h0.9M63.0 221.7h0.9M95.3 211.2h0.9M85.9 213.0h0.9M90.3 203.7h0.9M90.2 207.4h0.9M85.8 213.3h0.9M74.2 210.0h0.9M82.9 202.6h0.9M84.0 210.8h0.9M81.9 207.5h0.9M83.3 204.4h0.9M87.7 189.2h0.9M77.3 210.6h0.9M96.8 217.5h0.9M97.7 210.1h0.9M80.6 208.0h0.9M71.4 214.6h0.9M81.1 197.0h0.9M97.1 203.8h0.9M66.3 215.3h0.9M83.8 207.5h0.9M77.7 219.7h0.9M92.7 208.9h0.9M78.7 199.8h0.9M96.4 212.5h0.9M78.9 204.2h0.9M83.3 212.8h0.9M84.3 217.6h0.9M84.7 198.5h0.9M82.8 197.6h0.9M88.7 213.7h0.9M64.5 213.7h0.9M79.3 198.5h0.9M94.9 205.7h0.9M80.2 201.0h0.9M90.4 216.0h0.9M71.8 207.7h0.9M82.3 215.4h0.9M79.2 207.7h0.9M98.3 188.6h0.9M101.3 183.5h0.9M83.6 207.6h0.9M93.5 206.5h0.9M77.8 205.4h0.9M101.9 212.9h0.9M66.4 203.7h0.9M60.9 209.7h0.9M91.3 200.2h0.9M103.6 198.3h0.9M102.9 210.2h0.9M77.2 195.1h0.9M73.8 193.1h0.9M81.9 209.1h0.9M80.5 196.6h0.9M83.9 203.4h0.9M84.5 216.6h0.9M66.0 220.9h0.9M89.1 197.9h0.9M83.4 208.4h0.9M105.5 195.8h0.9M60.7 199.5h0.9M90.3 198.0h0.9M77.3 205.6h0.9M84.4 192.6h0.9M76.0 206.4h0.9M90.6 203.7h0.9M71.8 195.4h0.9M99.1 193.7h0.9M88.4 179.6h0.9M91.5 212.2h0.9M88.3 212.1h0.9M115.6 197.8h0.9M69.5 220.2h0.9M87.5 197.5h0.9M76.8 196.5h0.9M50.5 197.1h0.9M54.8 213.1h0.9M69.5 216.4h0.9M47.7 212.1h0.9M41.7 213.3h0.9M52.0 217.0h0.9M62.9 194.0h0.9M57.1 220.0h0.9M61.5 222.2h0.9M56.6 222.6h0.9M44.1 205.3h0.9M47.2 220.2h0.9M59.7 200.2h0.9M60.7 215.5h0.9M55.9 217.4h0.9M53.7 213.1h0.9M64.0 203.5h0.9M42.6 205.8h0.9M63.9 209.9h0.9M72.2 183.6h0.9M47.2 208.8h0.9M56.6 225.7h0.9M52.2 203.3h0.9M56.8 205.1h0.9M49.5 215.8h0.9M54.3 210.6h0.9M42.9 215.7h0.9M47.7 213.8h0.9M48.4 214.9h0.9M61.1 215.2h0.9M60.3 199.8h0.9M58.4 215.8h0.9M48.0 211.4h0.9M50.1 191.4h0.9M58.8 206.9h0.9M56.6 210.7h0.9M58.6 213.8h0.9M51.2 217.7h0.9M61.9 191.4h0.9M54.2 207.3h0.9M43.4 225.4h0.9M63.1 203.1h0.9M43.3 220.7h0.9M48.0 209.8h0.9M64.7 208.6h0.9M62.3 226.5h0.9M59.9 224.4h0.9M55.7 211.7h0.9M46.8 203.3h0.9M53.1 213.5h0.9M40.6 212.4h0.9M57.5 212.2h0.9M59.8 204.9h0.9M57.0 221.4h0.9M59.3 216.6h0.9M52.9 203.5h0.9M59.2 209.2h0.9M44.9 220.2h0.9M61.3 221.9h0.9M50.4 213.5h0.9M59.1 212.3h0.9M46.6 217.0h0.9M55.5 213.9h0.9M64.5 215.8h0.9M49.6 214.5h0.9M72.4 206.1h0.9M51.4 205.3h0.9M57.3 200.9h0.9M58.2 220.1h0.9M46.6 204.9h0.9M43.3 207.0h0.9M49.9 206.4h0.9M56.3 202.9h0.9M48.8 214.9h0.9M67.2 224.1h0.9M51.2 214.2h0.9M50.5 211.3h0.9M42.8 196.1h0.9M50.4 222.2h0.9M61.2 195.2h0.9M52.1 207.0h0.9M56.7 202.5h0.9M62.6 211.0h0.9M59.4 221.3h0.9M68.3 213.1h0.9M63.9 217.0h0.9M49.2 215.6h0.9M63.9 225.2h0.9M67.7 202.4h0.9M61.8 199.9h0.9M52.7 211.0h0.9M59.9 215.9h0.9M65.8 207.1h0.9M62.0 216.7h0.9M54.0 201.6h0.9M59.4 216.0h0.9M61.4 212.6h0.9M51.5 216.7h0.9M58.4 219.5h0.9M71.9 207.1h0.9M73.0 184.9h0.9M63.1 205.2h0.9M73.0 204.5h0.9M64.0 203.6h0.9M43.2 220.6h0.9M62.2 206.3h0.9M76.8 209.9h0.9M68.8 203.4h0.9M44.8 213.8h0.9M44.4 217.3h0.9M48.6 203.9h0.9M56.0 210.9h0.9M49.7 220.6h0.9M56.8 216.6h0.9M66.6 212.3h0.9M61.9 209.0h0.9M59.7 218.0h0.9M48.8 198.6h0.9M41.9 204.1h0.9M59.2 211.7h0.9M51.2 217.5h0.9M60.9 226.2h0.9M48.3 218.2h0.9M60.7 204.0h0.9M55.2 204.3h0.9M51.8 217.0h0.9M46.3 213.9h0.9M47.0 216.5h0.9M45.9 208.1h0.9M59.7 216.0h0.9M55.4 212.6h0.9M63.5 226.0h0.9M50.5 206.1h0.9M45.5 200.5h0.9M56.5 222.9h0.9M42.3 211.8h0.9M40.4 206.4h0.9M69.4 214.6h0.9M51.5 213.7h0.9M56.6 212.0h0.9M42.8 201.8h0.9M73.0 205.8h0.9M65.3 206.2h0.9M66.3 219.6h0.9M45.2 210.8h0.9M45.9 205.7h0.9M50.6 204.0h0.9M45.0 208.6h0.9M63.5 219.8h0.9M58.5 214.9h0.9M76.6 202.3h0.9M43.1 212.8h0.9M55.9 210.7h0.9M46.0 200.6h0.9M51.4 206.3h0.9M49.4 202.8h0.9M66.6 217.2h0.9M71.5 208.1h0.9M54.5 210.6h0.9M54.2 210.6h0.9M52.4 194.4h0.9M51.4 219.5h0.9M59.4 224.9h0.9M53.2 217.3h0.9M70.5 225.2h0.9M49.7 207.3h0.9M63.6 215.1h0.9M48.9 210.8h0.9M57.0 211.1h0.9M51.6 210.8h0.9M65.5 227.3h0.9M52.7 214.2h0.9M59.4 220.7h0.9M44.6 212.3h0.9M59.1 212.7h0.9M67.1 212.3h0.9M47.2 211.2h0.9M50.5 213.4h0.9M61.9 211.9h0.9M53.4 222.5h0.9M56.7 221.9h0.9M55.3 200.7h0.9M43.4 197.4h0.9M64.7 216.9h0.9M49.5 203.7h0.9M57.4 211.7h0.9M57.0 205.0h0.9M45.0 212.8h0.9M66.6 195.7h0.9M60.6 213.6h0.9M52.6 215.5h0.9M42.8 192.1h0.9M71.8 210.3h0.9M62.4 223.4h0.9M56.7 217.3h0.9M58.6 224.9h0.9M51.3 209.0h0.9M54.8 216.8h0.9M61.9 213.6h0.9M72.7 216.1h0.9M57.4 217.6h0.9M50.9 202.8h0.9M55.3 210.1h0.9M45.9 214.1h0.9M52.2 207.5h0.9M70.5 221.4h0.9M64.2 212.8h0.9M63.9 206.7h0.9M49.7 217.9h0.9M40.6 213.6h0.9M47.5 217.0h0.9M47.9 207.9h0.9M64.8 217.9h0.9M59.1 201.4h0.9M52.1 212.5h0.9M69.1 204.6h0.9M58.0 222.2h0.9M46.4 213.9h0.9M70.2 216.9h0.9M54.5 214.5h0.9M74.3 218.2h0.9M63.8 208.9h0.9M50.0 203.2h0.9M52.4 206.5h0.9M63.3 219.1h0.9M52.9 207.9h0.9M56.9 219.3h0.9M55.5 203.4h0.9M52.0 208.6h0.9M59.6 195.6h0.9M48.7 221.9h0.9M56.0 205.3h0.9M58.3 215.7h0.9M45.7 219.5h0.9M60.4 211.8h0.9M62.9 202.1h0.9M61.2 211.2h0.9M45.2 207.5h0.9M65.0 207.8h0.9M50.8 206.9h0.9M46.6 222.1h0.9M74.8 225.6h0.9M58.8 220.2h0.9M50.8 208.4h0.9M43.0 226.6h0.9M50.9 206.3h0.9M48.1 214.8h0.9M48.9 213.2h0.9M55.6 225.6h0.9M42.4 215.8h0.9M47.5 209.0h0.9M69.3 218.9h0.9M50.4 217.7h0.9M53.9 223.5h0.9M49.5 217.7h0.9M52.1 213.2h0.9M52.6 207.3h0.9M55.1 222.3h0.9M48.4 209.4h0.9M57.5 206.0h0.9M62.2 219.7h0.9M44.0 220.8h0.9M62.9 201.9h0.9M47.7 212.3h0.9M50.6 219.8h0.9M63.3 218.6h0.9M64.3 221.9h0.9M53.4 209.0h0.9M47.2 220.8h0.9M62.4 222.6h0.9M51.0 209.4h0.9M56.6 224.8h0.9M57.5 215.2h0.9M46.4 217.3h0.9M59.2 204.2h0.9M70.6 204.5h0.9M62.8 211.2h0.9M55.6 205.8h0.9M48.8 219.7h0.9M52.3 209.9h0.9M62.4 219.8h0.9M55.7 215.3h0.9M70.2 211.6h0.9M57.8 217.1h0.9M41.0 195.0h0.9M55.3 221.3h0.9M56.0 208.1h0.9M48.0 220.7h0.9M51.4 198.1h0.9M60.5 215.4h0.9M57.7 222.9h0.9M66.5 218.4h0.9M52.5 193.3h0.9M56.9 211.7h0.9M66.5 225.1h0.9M58.6 225.9h0.9M53.4 212.7h0.9M46.2 210.2h0.9M56.1 223.0h0.9M47.3 220.6h0.9M76.0 200.6h0.9M51.7 213.3h0.9M65.7 212.8h0.9M46.2 212.6h0.9M53.8 215.4h0.9M45.8 227.4h0.9M47.4 219.5h0.9M56.1 202.9h0.9M54.7 213.3h0.9M52.4 220.7h0.9M64.7 204.5h0.9M56.5 213.9h0.9M45.0 199.6h0.9M69.1 207.9h0.9M71.7 195.7h0.9M60.6 219.7h0.9M46.0 208.8h0.9M44.3 213.5h0.9M66.4 222.4h0.9M58.0 223.6h0.9M53.6 200.7h0.9M50.5 206.9h0.9M54.9 216.0h0.9M70.3 203.3h0.9M68.0 224.9h0.9M40.9 219.9h0.9M44.9 201.5h0.9M64.6 218.9h0.9M54.3 214.3h0.9M47.3 207.7h0.9M48.6 212.3h0.9M54.1 200.9h0.9M56.9 201.1h0.9M51.1 210.7h0.9M51.7 227.1h0.9M69.5 223.2h0.9M69.0 210.3h0.9M67.4 212.5h0.9M56.2 215.6h0.9M41.3 207.2h0.9M52.5 216.5h0.9M52.8 204.9h0.9M43.0 213.1h0.9M42.8 201.8h0.9M53.0 214.7h0.9M46.1 196.1h0.9M56.7 220.8h0.9M50.1 209.4h0.9M43.6 219.8h0.9M48.4 211.7h0.9M52.2 195.9h0.9M80.1 198.2h0.9M55.0 205.3h0.9M51.8 226.1h0.9M58.7 214.1h0.9M57.8 205.9h0.9M50.1 220.1h0.9M55.0 214.8h0.9M55.9 196.6h0.9M59.5 202.5h0.9M42.3 214.1h0.9M56.8 214.2h0.9M54.0 207.7h0.9M72.9 193.9h0.9M44.3 227.1h0.9M59.2 205.7h0.9M45.5 210.6h0.9M79.1 217.7h0.9M44.2 215.3h0.9M48.1 227.2h0.9M56.8 225.0h0.9M57.9 215.7h0.9M44.3 209.0h0.9M57.7 208.3h0.9M77.6 212.9h0.9M46.8 222.4h0.9M49.0 216.9h0.9M53.1 206.2h0.9M67.2 213.9h0.9M64.3 209.8h0.9M40.4 201.2h0.9M49.1 211.3h0.9M54.5 217.9h0.9M42.2 215.2h0.9M42.4 206.5h0.9M78.4 225.1h0.9M67.5 221.4h0.9M67.9 210.6h0.9M52.8 204.8h0.9M59.5 201.1h0.9M49.2 217.4h0.9M49.2 216.3h0.9M71.3 203.6h0.9M67.3 206.5h0.9M45.1 215.1h0.9M63.8 206.2h0.9M47.1 208.8h0.9M47.2 214.8h0.9M47.2 210.6h0.9M57.4 209.0h0.9M65.0 206.6h0.9M68.3 213.7h0.9M61.9 216.2h0.9M49.2 219.4h0.9M56.9 225.2h0.9M55.6 206.5h0.9M49.9 209.2h0.9M41.4 207.5h0.9M61.4 198.6h0.9M50.4 190.5h0.9M48.5 216.7h0.9M53.5 213.4h0.9M43.4 218.4h0.9M45.4 221.6h0.9M56.0 209.4h0.9M68.1 209.2h0.9M63.7 214.0h0.9M54.0 222.5h0.9M58.2 212.9h0.9M52.9 215.0h0.9M54.8 209.9h0.9M44.2 188.4h0.9M52.9 210.7h0.9M65.5 217.3h0.9M53.0 205.0h0.9M61.8 207.3h0.9M51.6 226.7h0.9M59.3 223.4h0.9M41.2 213.4h0.9M64.6 200.8h0.9M55.9 216.9h0.9M47.2 211.7h0.9M70.0 196.0h0.9M58.4 208.8h0.9M54.4 205.2h0.9M67.0 202.4h0.9M57.5 218.2h0.9M53.2 210.4h0.9M51.5 222.7h0.9M58.3 212.3h0.9M43.7 214.5h0.9M59.1 212.7h0.9M67.7 194.9h0.9M77.7 211.3h0.9M43.2 196.5h0.9M62.3 218.5h0.9M52.0 212.6h0.9M55.6 209.0h0.9M65.0 219.0h0.9M52.9 197.5h0.9M67.1 208.5h0.9M44.2 225.3h0.9M58.8 193.9h0.9M42.1 211.6h0.9M53.7 220.7h0.9M62.5 211.9h0.9M40.0 223.3h0.9M52.4 217.4h0.9M60.8 205.4h0.9M70.1 213.8h0.9M106.3 173.3h0.9M106.9 177.8h0.9M111.3 171.6h0.9M107.6 169.2h0.9M110.4 172.6h0.9M107.6 177.2h0.9M110.2 169.7h0.9M108.8 174.4h0.9M106.8 171.0h0.9M116.3 168.3h0.9M102.5 176.6h0.9M101.9 179.3h0.9M108.3 177.1h0.9M108.6 169.7h0.9M115.5 166.1h0.9M107.6 176.4h0.9M105.7 175.9h0.9M101.5 176.4h0.9M107.3 175.6h0.9M111.5 175.4h0.9M108.5 177.2h0.9M104.0 176.7h0.9M102.0 183.3h0.9M107.7 173.0h0.9M111.9 168.4h0.9M109.3 172.4h0.9M110.7 172.2h0.9M105.5 170.2h0.9M108.5 169.4h0.9M112.7 167.2h0.9M102.3 175.2h0.9M115.8 164.2h0.9M94.8 185.0h0.9M106.1 173.6h0.9M107.0 179.2h0.9M110.7 174.4h0.9M112.7 168.8h0.9M113.4 167.9h0.9M110.9 170.9h0.9M112.9 168.7h0.9M106.5 172.7h0.9M109.1 167.7h0.9M110.3 172.1h0.9M108.8 172.8h0.9M102.2 178.1h0.9M108.2 175.8h0.9M106.5 176.0h0.9M111.0 176.6h0.9M107.6 172.2h0.9M108.4 178.4h0.9M102.3 179.3h0.9M105.4 177.6h0.9M108.8 174.5h0.9M105.7 176.1h0.9M100.3 180.0h0.9M105.9 182.6h0.9M99.8 182.7h0.9M105.9 169.8h0.9M112.4 176.9h0.9M111.6 163.9h0.9M105.6 177.8h0.9M115.2 165.2h0.9M103.9 172.1h0.9M101.7 175.1h0.9M103.7 178.4h0.9M108.0 167.5h0.9M109.2 171.5h0.9M107.4 171.6h0.9M110.3 173.7h0.9M111.3 168.9h0.9M106.0 175.1h0.9M107.1 179.4h0.9M109.8 172.0h0.9M119.3 159.9h0.9M103.3 174.2h0.9M99.3 175.8h0.9M101.6 178.1h0.9M111.2 167.9h0.9M107.3 170.3h0.9M112.6 166.3h0.9M104.8 177.9h0.9M101.4 177.9h0.9M108.8 171.0h0.9M108.2 174.5h0.9M102.1 181.8h0.9M109.6 176.0h0.9M108.9 167.6h0.9M105.5 176.2h0.9M109.1 175.1h0.9M109.1 171.5h0.9M107.6 175.8h0.9M104.2 177.5h0.9M102.7 170.3h0.9M100.3 175.8h0.9M112.6 177.0h0.9M106.5 169.1h0.9M100.5 179.1h0.9M108.3 172.1h0.9M106.3 177.5h0.9M110.4 174.3h0.9M112.8 170.3h0.9M111.7 171.5h0.9M109.9 169.5h0.9M100.0 177.6h0.9M113.7 168.9h0.9M108.3 171.2h0.9M112.2 175.9h0.9M111.7 168.1h0.9M105.7 172.2h0.9M109.0 173.7h0.9M113.6 170.9h0.9M112.4 167.9h0.9M112.1 179.7h0.9M115.6 166.0h0.9M96.7 182.9h0.9M104.0 178.1h0.9M114.5 167.5h0.9M111.7 169.3h0.9M115.3 167.8h0.9M117.5 162.3h0.9M103.7 179.4h0.9M109.0 171.1h0.9M114.4 175.6h0.9M108.2 172.8h0.9M110.1 169.1h0.9M104.5 174.6h0.9M110.3 168.6h0.9M109.7 171.8h0.9M109.6 170.6h0.9M113.2 171.8h0.9M107.1 172.9h0.9M106.7 174.2h0.9M114.0 166.0h0.9M102.2 180.9h0.9M102.1 177.0h0.9M112.8 165.5h0.9M100.8 177.2h0.9M113.1 171.4h0.9M108.7 171.6h0.9M106.6 174.8h0.9M109.7 172.1h0.9M110.8 169.9h0.9M103.5 174.1h0.9M106.9 170.2h0.9M106.0 177.2h0.9M106.0 178.7h0.9M105.1 178.6h0.9M112.8 171.2h0.9M115.7 172.9h0.9M107.9 175.2h0.9M114.8 169.4h0.9M100.5 175.5h0.9M109.4 169.8h0.9M113.0 172.5h0.9M97.4 180.6h0.9M103.3 177.1h0.9M98.2 174.9h0.9M111.9 173.1h0.9M113.1 171.7h0.9M112.0 172.6h0.9M104.9 174.8h0.9M110.8 169.4h0.9M103.3 178.0h0.9M116.5 175.5h0.9M114.0 165.8h0.9M104.0 173.6h0.9M107.3 172.2h0.9M114.8 167.3h0.9M111.3 166.8h0.9M101.1 176.5h0.9M107.6 177.5h0.9M104.8 178.0h0.9M106.5 169.7h0.9M108.2 174.3h0.9M108.4 169.2h0.9M102.7 175.0h0.9M105.4 174.1h0.9M117.6 168.3h0.9M106.5 176.5h0.9M113.5 166.6h0.9M105.6 172.9h0.9M97.8 176.7h0.9M101.9 172.9h0.9M112.2 164.0h0.9M104.5 174.2h0.9M109.2 168.5h0.9M112.5 165.0h0.9M111.5 168.0h0.9M105.5 167.2h0.9M112.8 171.9h0.9M109.9 170.6h0.9M109.9 168.4h0.9M106.1 170.1h0.9M105.9 169.2h0.9M104.1 171.4h0.9M107.3 177.0h0.9M115.9 166.6h0.9M111.9 172.6h0.9M109.9 169.7h0.9M111.6 173.3h0.9M117.4 165.4h0.9M107.0 172.0h0.9M110.8 172.9h0.9M107.8 178.7h0.9M107.5 166.6h0.9M110.1 169.7h0.9M112.1 172.5h0.9M99.7 182.8h0.9M117.3 166.4h0.9M110.9 169.7h0.9M105.5 176.6h0.9M109.0 172.6h0.9M106.3 176.7h0.9M94.7 176.4h0.9M110.4 168.1h0.9M105.3 176.3h0.9M102.3 173.7h0.9M110.3 172.5h0.9M107.8 171.5h0.9M110.0 176.2h0.9M119.5 165.9h0.9M105.6 172.2h0.9M105.7 175.3h0.9M102.0 176.2h0.9M102.8 175.0h0.9M108.2 174.9h0.9M109.7 173.1h0.9M112.5 171.5h0.9M109.1 169.0h0.9M108.6 171.8h0.9M113.0 170.1h0.9M109.8 172.8h0.9M112.0 163.8h0.9M107.6 169.6h0.9M109.8 172.7h0.9M106.3 179.6h0.9M103.8 174.6h0.9M105.1 173.9h0.9M104.2 173.0h0.9M103.5 178.8h0.9M107.0 168.9h0.9M106.2 172.7h0.9M106.0 172.3h0.9M111.5 171.1h0.9M100.1 176.7h0.9M109.7 172.2h0.9M108.1 171.0h0.9M98.0 180.3h0.9M105.9 173.1h0.9M104.7 168.3h0.9M104.3 175.9h0.9M115.0 171.0h0.9M108.3 170.2h0.9M113.5 170.5h0.9M107.6 172.0h0.9M112.0 165.2h0.9M106.8 173.8h0.9M114.9 162.3h0.9M112.0 177.7h0.9M107.4 165.5h0.9M104.3 174.9h0.9M114.6 167.6h0.9M107.5 169.8h0.9M113.3 166.6h0.9M104.8 169.9h0.9M102.0 174.6h0.9M103.1 179.0h0.9M109.6 172.1h0.9M110.5 169.7h0.9M100.6 178.6h0.9M103.4 174.5h0.9M110.0 173.9h0.9M113.7 167.8h0.9M114.9 161.3h0.9M111.5 172.0h0.9M103.7 174.0h0.9M109.1 172.1h0.9M115.3 166.4h0.9M104.9 180.2h0.9M109.9 169.2h0.9M111.2 167.6h0.9M110.4 172.4h0.9M106.3 171.2h0.9M106.4 177.4h0.9M110.3 169.4h0.9M105.8 169.3h0.9M108.9 174.1h0.9M100.7 181.1h0.9M109.1 170.9h0.9M107.1 176.3h0.9M112.0 169.0h0.9M102.1 172.0h0.9M102.3 178.0h0.9M104.6 176.1h0.9M109.1 171.2h0.9M108.6 175.1h0.9M107.3 169.5h0.9M109.4 167.8h0.9M103.5 174.1h0.9M102.3 179.2h0.9M110.8 174.2h0.9M109.2 170.4h0.9M106.3 177.0h0.9M116.5 172.2h0.9M103.7 172.9h0.9M110.5 173.2h0.9M108.8 174.8h0.9M100.2 184.2h0.9M101.3 182.2h0.9M113.5 172.1h0.9M112.7 171.1h0.9M104.1 174.0h0.9M110.7 169.2h0.9M108.9 176.5h0.9M111.2 176.0h0.9M103.5 175.3h0.9M110.8 170.1h0.9M110.1 170.3h0.9M105.4 176.5h0.9M103.0 175.8h0.9M109.2 166.7h0.9M114.5 164.3h0.9M107.5 172.7h0.9M111.6 176.1h0.9M112.0 167.6h0.9M108.5 169.2h0.9M102.6 178.6h0.9M101.1 176.4h0.9M104.4 184.6h0.9M111.6 169.1h0.9M109.6 173.2h0.9M114.1 168.0h0.9M104.1 175.0h0.9M116.0 162.0h0.9M111.0 172.4h0.9M108.6 168.3h0.9M106.2 176.1h0.9M105.2 176.1h0.9M104.7 178.2h0.9M115.6 165.5h0.9M95.0 190.1h0.9M91.2 191.8h0.9M92.8 187.2h0.9M96.9 185.8h0.9M99.4 180.2h0.9M98.0 188.7h0.9M98.1 181.8h0.9M103.1 184.9h0.9M105.2 184.3h0.9M105.3 180.7h0.9M97.8 192.0h0.9M98.2 183.6h0.9M105.6 183.0h0.9M97.6 185.5h0.9M100.2 185.7h0.9M100.3 189.4h0.9M108.4 180.0h0.9M100.0 184.6h0.9M99.1 185.5h0.9M95.4 190.4h0.9M103.7 181.0h0.9M99.2 187.3h0.9M97.7 186.9h0.9M91.7 188.9h0.9M88.1 194.6h0.9M103.8 184.4h0.9M96.2 193.8h0.9M93.1 193.8h0.9M98.5 188.0h0.9M96.9 185.9h0.9M95.2 197.1h0.9M97.5 186.5h0.9M96.6 181.6h0.9M99.7 183.2h0.9M96.1 184.9h0.9M107.0 180.7h0.9M86.8 189.6h0.9M100.3 188.2h0.9M99.8 179.4h0.9M97.4 186.7h0.9M103.9 187.8h0.9M93.3 194.4h0.9M97.6 186.1h0.9M94.0 190.1h0.9M94.5 195.6h0.9M101.9 186.2h0.9M93.0 194.7h0.9M101.2 182.8h0.9M99.6 186.0h0.9M97.1 186.6h0.9M97.2 193.4h0.9M97.2 182.0h0.9M96.4 188.7h0.9M94.8 187.6h0.9M94.9 186.6h0.9M96.9 195.1h0.9M96.4 178.3h0.9M98.8 184.3h0.9M97.1 188.2h0.9M101.4 194.8h0.9M99.4 184.4h0.9M92.4 185.4h0.9M93.4 189.3h0.9M101.9 179.9h0.9M97.5 191.1h0.9M93.7 193.3h0.9M101.9 185.7h0.9M102.9 191.9h0.9M109.4 182.4h0.9M95.6 191.4h0.9M97.1 186.0h0.9M98.6 180.5h0.9M91.5 197.6h0.9M95.8 191.0h0.9M105.0 179.3h0.9M99.7 190.4h0.9M102.4 184.1h0.9M98.8 186.7h0.9M101.7 185.2h0.9M93.7 184.2h0.9M97.3 196.9h0.9M103.6 186.4h0.9M100.7 182.6h0.9M91.1 195.1h0.9M92.3 194.4h0.9M93.4 191.4h0.9M95.6 197.1h0.9M93.9 189.3h0.9M97.3 184.3h0.9M96.4 191.2h0.9M102.4 186.8h0.9M103.7 189.1h0.9M97.6 194.3h0.9M98.6 182.9h0.9M106.4 181.7h0.9M105.0 186.0h0.9M98.7 189.9h0.9M101.7 181.5h0.9M98.5 190.0h0.9M103.6 183.3h0.9M102.7 186.1h0.9M98.0 186.3h0.9M98.3 191.9h0.9M101.1 189.3h0.9M102.3 184.4h0.9M102.6 183.8h0.9M101.5 184.2h0.9M93.3 188.4h0.9M104.4 180.4h0.9M96.1 190.4h0.9M103.0 185.9h0.9M100.4 188.2h0.9M102.2 185.2h0.9M91.7 191.2h0.9M100.1 187.9h0.9M96.3 190.6h0.9M95.1 184.2h0.9M95.2 185.2h0.9M92.7 183.4h0.9M95.8 197.3h0.9M94.3 187.8h0.9M100.7 188.3h0.9M93.7 189.0h0.9M94.4 194.0h0.9M94.9 189.2h0.9M96.3 186.3h0.9M95.7 187.2h0.9M93.1 192.5h0.9M97.6 189.2h0.9M93.6 186.2h0.9M92.8 193.0h0.9M98.0 183.6h0.9M99.3 183.8h0.9M96.0 186.1h0.9M97.6 188.4h0.9M104.9 189.4h0.9M98.9 187.9h0.9M97.0 187.8h0.9M97.8 193.1h0.9M96.4 185.7h0.9M91.3 185.5h0.9M96.8 187.9h0.9M93.5 185.9h0.9M97.5 183.8h0.9M101.1 186.6h0.9M97.4 185.6h0.9M93.1 192.3h0.9M103.8 177.4h0.9M97.1 190.0h0.9M97.5 188.9h0.9M101.2 183.7h0.9M100.9 181.0h0.9M99.8 182.1h0.9M98.8 185.6h0.9M103.2 186.3h0.9M102.8 188.6h0.9M91.5 188.9h0.9M91.6 188.0h0.9M92.8 193.6h0.9M97.5 178.9h0.9M96.8 182.9h0.9M91.1 189.0h0.9M99.8 187.2h0.9M98.4 187.6h0.9M100.4 187.5h0.9M102.8 184.5h0.9M103.1 182.6h0.9M102.1 182.1h0.9M98.1 191.8h0.9M103.6 178.3h0.9M104.3 185.5h0.9M102.8 184.9h0.9M97.2 182.1h0.9M95.3 185.1h0.9M96.8 191.5h0.9M90.7 190.2h0.9M93.7 195.1h0.9M109.5 184.2h0.9M89.3 191.6h0.9M94.1 185.6h0.9M86.0 217.2h0.9M96.4 210.2h0.9M87.5 209.5h0.9M93.1 220.5h0.9M88.8 223.9h0.9M98.3 218.5h0.9M87.3 203.7h0.9M87.6 212.7h0.9M99.3 212.9h0.9M79.0 215.3h0.9M86.0 219.5h0.9M75.7 205.5h0.9M65.8 223.9h0.9M70.4 212.7h0.9M72.5 222.0h0.9M80.0 224.4h0.9M78.1 218.0h0.9M98.3 222.6h0.9M71.3 213.4h0.9M86.7 203.3h0.9M97.7 218.6h0.9M94.9 206.3h0.9M90.4 219.0h0.9M102.1 212.3h0.9M81.9 213.1h0.9M83.4 205.6h0.9M82.9 227.2h0.9M75.1 214.6h0.9M91.1 213.7h0.9M86.4 216.1h0.9M97.5 216.5h0.9M101.0 203.1h0.9M99.3 212.3h0.9M88.1 213.1h0.9M96.9 215.2h0.9M96.6 210.4h0.9M90.6 224.5h0.9M103.4 213.5h0.9M90.0 213.4h0.9M86.4 216.1h0.9M70.5 218.1h0.9M81.9 204.9h0.9M73.1 212.5h0.9M111.1 216.6h0.9M85.5 215.8h0.9M77.7 217.2h0.9M86.8 204.8h0.9M96.8 215.4h0.9M97.2 209.3h0.9M89.3 222.1h0.9M66.0 211.0h0.9M82.6 214.1h0.9M81.0 217.9h0.9M102.1 218.4h0.9M102.2 223.2h0.9M79.9 217.9h0.9M82.9 220.6h0.9M83.3 214.8h0.9M66.7 216.9h0.9M92.2 212.6h0.9M89.1 223.1h0.9M81.0 214.8h0.9M78.4 218.3h0.9M86.4 209.7h0.9M64.8 206.6h0.9M92.8 206.6h0.9M70.3 212.6h0.9M102.9 221.6h0.9M96.0 218.1h0.9M92.0 225.9h0.9M73.6 218.3h0.9M95.1 223.4h0.9M73.6 210.9h0.9M56.3 203.6h0.9M99.1 217.1h0.9M47.8 213.4h0.9M84.0 224.4h0.9M62.1 212.5h0.9M102.7 221.3h0.9M75.7 214.2h0.9M68.1 225.4h0.9M82.4 224.8h0.9M99.1 210.1h0.9M86.3 220.5h0.9M94.3 226.5h0.9M103.5 218.4h0.9M97.7 211.3h0.9M80.2 220.3h0.9M92.9 208.6h0.9M87.2 210.7h0.9M80.8 224.9h0.9M75.5 211.7h0.9M96.0 216.7h0.9M90.6 206.4h0.9M88.0 213.7h0.9M77.4 212.4h0.9M84.4 221.9h0.9M108.5 217.0h0.9M68.3 216.6h0.9M78.5 211.3h0.9M81.4 226.1h0.9M93.9 222.4h0.9M58.4 215.9h0.9M87.0 221.0h0.9M82.2 224.4h0.9M79.2 206.8h0.9M66.3 224.8h0.9M98.8 211.0h0.9M86.9 206.4h0.9M81.2 217.0h0.9M91.4 212.5h0.9M102.1 226.1h0.9M77.7 219.0h0.9M68.0 219.1h0.9M75.6 215.3h0.9M91.0 214.7h0.9M102.8 211.1h0.9M82.3 218.5h0.9M88.2 218.1h0.9M85.8 210.9h0.9M97.7 216.9h0.9M100.9 225.4h0.9M83.9 211.4h0.9M82.6 212.0h0.9M61.9 227.5h0.9M81.2 220.4h0.9M92.5 215.9h0.9M102.0 216.4h0.9M87.7 217.5h0.9M58.6 211.5h0.9M78.8 227.5h0.9M96.7 221.7h0.9M97.3 215.1h0.9M111.1 215.0h0.9M69.7 220.6h0.9M93.7 222.9h0.9M101.6 218.4h0.9M90.5 207.8h0.9M103.3 215.1h0.9M75.5 212.2h0.9M85.7 217.1h0.9M76.6 210.2h0.9M94.5 215.9h0.9M86.2 223.1h0.9M92.9 216.8h0.9M110.5 209.8h0.9M80.7 204.5h0.9M87.2 223.1h0.9M85.4 222.0h0.9M78.6 224.1h0.9M87.3 213.2h0.9M96.6 217.2h0.9M98.3 217.2h0.9M72.7 218.3h0.9M95.3 219.0h0.9M79.1 217.2h0.9M91.7 209.1h0.9M72.8 220.9h0.9M97.9 217.4h0.9M67.3 214.5h0.9M92.1 220.6h0.9M104.8 219.5h0.9M101.8 227.6h0.9M57.4 223.1h0.9M83.0 219.6h0.9M91.6 209.5h0.9M76.7 219.3h0.9M86.4 221.3h0.9M78.6 220.2h0.9M75.8 219.1h0.9M71.6 185.9h0.9M98.4 180.8h0.9M61.3 171.9h0.9M87.2 168.7h0.9M86.2 169.6h0.9M73.8 189.5h0.9M76.4 180.4h0.9M86.0 185.3h0.9M97.7 180.4h0.9M52.3 164.4h0.9M91.4 172.1h0.9M64.0 174.8h0.9M101.3 175.3h0.9M64.4 181.5h0.9M70.0 177.3h0.9M66.5 186.7h0.9M74.2 166.9h0.9M111.7 175.9h0.9M79.8 168.8h0.9M96.8 183.7h0.9M95.9 173.8h0.9M67.0 180.7h0.9M68.9 184.2h0.9M61.0 175.4h0.9M86.9 168.3h0.9M86.0 176.6h0.9M65.7 181.6h0.9M59.0 183.2h0.9M64.0 180.2h0.9M80.4 176.9h0.9M83.5 173.4h0.9M76.4 178.3h0.9M115.0 167.2h0.9M93.0 178.9h0.9M84.3 190.0h0.9M92.9 173.0h0.9M75.0 185.9h0.9M60.0 167.8h0.9M86.3 177.8h0.9M59.4 180.3h0.9M80.6 185.0h0.9M87.5 179.6h0.9M83.3 176.6h0.9M85.2 183.2h0.9M76.4 189.7h0.9M69.9 176.8h0.9M115.7 176.2h0.9M89.9 178.8h0.9M101.5 181.3h0.9M81.6 175.1h0.9M84.4 179.7h0.9M93.6 176.0h0.9M83.8 182.2h0.9M100.2 168.8h0.9M95.2 186.4h0.9M104.0 191.3h0.9M90.6 182.6h0.9M92.6 186.3h0.9M81.2 182.3h0.9M109.1 190.8h0.9M106.9 182.6h0.9M75.4 177.0h0.9M75.2 179.5h0.9M82.4 173.9h0.9M66.6 184.7h0.9M91.5 175.2h0.9M80.8 174.0h0.9M79.4 185.1h0.9M70.9 188.2h0.9M77.6 171.2h0.9" stroke="#000" stroke-opacity="0.75" stroke-width="0.9" fill="none"/>
<path d="M49.5 228.7V195H102.5V228.7" fill="none" stroke="#444" stroke-opacity="0.45" stroke-width="0.7"/>
<rect x="102.50" y="153.70" width="25.00" height="27.30" fill="none" stroke="#808080" stroke-width="0.9"/>
<rect x="39.20" y="135.50" width="94.50" height="93.20" fill="none" stroke="#5a5a5a" stroke-width="1"/>
<path d="M39.2 228.70h-2.6M39.20 228.7v2.6M39.2 221.69h-1.9M46.31 228.7v1.9M39.2 217.58h-1.9M50.47 228.7v1.9M39.2 214.67h-1.9M53.42 228.7v1.9M39.2 212.41h-1.9M55.71 228.7v1.9M39.2 210.57h-1.9M57.58 228.7v1.9M39.2 209.01h-1.9M59.17 228.7v1.9M39.2 207.66h-1.9M60.54 228.7v1.9M39.2 206.47h-1.9M61.74 228.7v1.9M39.2 205.40h-2.6M62.83 228.7v2.6M39.2 198.39h-1.9M69.94 228.7v1.9M39.2 194.28h-1.9M74.10 228.7v1.9M39.2 191.37h-1.9M77.05 228.7v1.9M39.2 189.11h-1.9M79.34 228.7v1.9M39.2 187.27h-1.9M81.21 228.7v1.9M39.2 185.71h-1.9M82.79 228.7v1.9M39.2 184.36h-1.9M84.16 228.7v1.9M39.2 183.17h-1.9M85.37 228.7v1.9M39.2 182.10h-2.6M86.45 228.7v2.6M39.2 175.09h-1.9M93.56 228.7v1.9M39.2 170.98h-1.9M97.72 228.7v1.9M39.2 168.07h-1.9M100.67 228.7v1.9M39.2 165.81h-1.9M102.96 228.7v1.9M39.2 163.97h-1.9M104.83 228.7v1.9M39.2 162.41h-1.9M106.42 228.7v1.9M39.2 161.06h-1.9M107.79 228.7v1.9M39.2 159.87h-1.9M108.99 228.7v1.9M39.2 158.80h-2.6M110.07 228.7v2.6M39.2 151.79h-1.9M117.19 228.7v1.9M39.2 147.68h-1.9M121.35 228.7v1.9M39.2 144.77h-1.9M124.30 228.7v1.9M39.2 142.51h-1.9M126.59 228.7v1.9M39.2 140.67h-1.9M128.46 228.7v1.9M39.2 139.11h-1.9M130.04 228.7v1.9M39.2 137.76h-1.9M131.41 228.7v1.9M39.2 136.57h-1.9M132.62 228.7v1.9" stroke="#3a3a3a" stroke-width="0.8" fill="none"/>
<text x="111.00" y="144.71" font-size="7" text-anchor="start" fill="#333">DP</text>
<text x="111.00" y="152.71" font-size="7" text-anchor="start" fill="#333">21%</text>
<text x="107.50" y="218.11" font-size="7" text-anchor="start" fill="#333">DN</text>
<text x="107.50" y="225.31" font-size="7" text-anchor="start" fill="#333">64%</text>
<text x="233.60" y="20.29" font-size="7.8" text-anchor="start" fill="#111">Survival:</text>
<line x1="159.20" y1="28.00" x2="159.20" y2="173.00" stroke="#8a8a8a" stroke-width="1"/>
<path d="M159.2 25.2 l-1.3 2.8 h2.6z" fill="#333"/>
<text x="159.40" y="231.72" font-size="7.6" text-anchor="start" fill="#111" transform="rotate(-90 159.40 229.00)">Percent survival</text>
<text x="177.70" y="247.83" font-size="7.9" text-anchor="start" fill="#111">Time (days)</text>
<line x1="221.00" y1="245.00" x2="316.00" y2="245.00" stroke="#8a8a8a" stroke-width="1"/>
<path d="M318.8 245 l-2.6 -1.2 v2.4z" fill="#333"/>
<line x1="178.75" y1="25.00" x2="178.75" y2="119.00" stroke="#333" stroke-width="1"/>
<line x1="178.25" y1="118.50" x2="321.35" y2="118.50" stroke="#333" stroke-width="1"/>
<path d="M178.8 118.50h-2.2M178.8 109.20h-1.4M178.8 99.90h-1.4M178.8 90.60h-1.4M178.8 81.30h-1.4M178.8 72.00h-2.2M178.8 62.70h-1.4M178.8 53.40h-1.4M178.8 44.10h-1.4M178.8 34.80h-1.4M178.8 25.50h-2.2M178.75 118.5v2.4M182.81 118.5v1.5M186.87 118.5v1.5M190.93 118.5v1.5M194.99 118.5v1.5M199.05 118.5v2.4M203.11 118.5v1.5M207.17 118.5v1.5M211.23 118.5v1.5M215.29 118.5v1.5M219.35 118.5v2.4M223.41 118.5v1.5M227.47 118.5v1.5M231.53 118.5v1.5M235.59 118.5v1.5M239.65 118.5v2.4M243.71 118.5v1.5M247.77 118.5v1.5M251.83 118.5v1.5M255.89 118.5v1.5M259.95 118.5v2.4M264.01 118.5v1.5M268.07 118.5v1.5M272.13 118.5v1.5M276.19 118.5v1.5M280.25 118.5v2.4M284.31 118.5v1.5M288.37 118.5v1.5M292.43 118.5v1.5M296.49 118.5v1.5M300.55 118.5v2.4M304.61 118.5v1.5M308.67 118.5v1.5M312.73 118.5v1.5M316.79 118.5v1.5M320.85 118.5v2.4" stroke="#333" stroke-width="0.7" fill="none"/>
<text x="176.15" y="121.01" font-size="7" text-anchor="end" fill="#222">0</text>
<text x="176.15" y="74.51" font-size="7" text-anchor="end" fill="#222">50</text>
<text x="176.15" y="28.01" font-size="7" text-anchor="end" fill="#222">100</text>
<text x="178.75" y="127.81" font-size="7" text-anchor="middle" fill="#222">0</text>
<text x="199.05" y="127.81" font-size="7" text-anchor="middle" fill="#222">5</text>
<text x="219.35" y="127.81" font-size="7" text-anchor="middle" fill="#222">10</text>
<text x="239.65" y="127.81" font-size="7" text-anchor="middle" fill="#222">15</text>
<text x="259.95" y="127.81" font-size="7" text-anchor="middle" fill="#222">20</text>
<text x="280.25" y="127.81" font-size="7" text-anchor="middle" fill="#222">25</text>
<text x="300.55" y="127.81" font-size="7" text-anchor="middle" fill="#222">30</text>
<text x="320.85" y="127.81" font-size="7" text-anchor="middle" fill="#222">35</text>
<polyline points="178.75,25.50 288.37,25.50 288.37,87.53 312.73,87.53 312.73,118.50" fill="none" stroke="#333" stroke-width="0.9"/>
<polyline points="255.89,25.50 255.89,87.53 259.95,87.53 259.95,118.50" fill="none" stroke="#333" stroke-width="0.9"/>
<polyline points="260.55,25.50 260.55,56.47 264.01,56.47 264.01,118.50" fill="none" stroke="#333" stroke-width="0.9"/>
<path d="M260.25 53.87 L262.85 58.68 L257.65 58.68z" fill="#000"/>
<path d="M264.01 115.40 L266.61 120.21 L261.41 120.21z" fill="#000"/>
<rect x="253.69" y="85.33" width="4.4" height="4.4" fill="#fff" stroke="#222" stroke-width="0.9"/>
<rect x="257.75" y="116.30" width="4.4" height="4.4" fill="#fff" stroke="#222" stroke-width="0.9"/>
<circle cx="288.37" cy="87.53" r="2.6" fill="#fff" stroke="#222" stroke-width="0.9"/>
<circle cx="312.73" cy="118.50" r="2.6" fill="#fff" stroke="#222" stroke-width="0.9"/>
<line x1="301.00" y1="30.30" x2="309.50" y2="30.30" stroke="#555" stroke-width="0.8"/>
<path d="M305.20 28.00 L307.50 32.26 L302.90 32.26z" fill="#000"/>
<line x1="301.00" y1="43.60" x2="309.50" y2="43.60" stroke="#555" stroke-width="0.8"/>
<rect x="303.00" y="41.40" width="4.4" height="4.4" fill="#fff" stroke="#222" stroke-width="0.9"/>
<line x1="301.00" y1="54.30" x2="309.50" y2="54.30" stroke="#555" stroke-width="0.8"/>
<circle cx="305.20" cy="54.30" r="2.4" fill="#fff" stroke="#222" stroke-width="0.9"/>
<text x="316.50" y="33.24" font-size="8.2" text-anchor="start" fill="#111">Total</text>
<text x="316.50" y="46.54" font-size="8.2" text-anchor="start" fill="#111">DN</text>
<text x="316.50" y="57.24" font-size="8.2" text-anchor="start" fill="#111">DP</text>
<text x="292.60" y="73.12" font-size="7.6" text-anchor="start" fill="#111">*p=0.02</text>
<text x="294.30" y="82.72" font-size="7.6" text-anchor="start" fill="#111">vs DN</text>
<line x1="178.75" y1="135.25" x2="178.75" y2="228.70" stroke="#333" stroke-width="1"/>
<line x1="178.25" y1="228.20" x2="318.90" y2="228.20" stroke="#333" stroke-width="1"/>
<path d="M178.8 228.20h-2.2M178.8 218.95h-1.4M178.8 209.71h-1.4M178.8 200.47h-1.4M178.8 191.22h-1.4M178.8 181.97h-2.2M178.8 172.73h-1.4M178.8 163.49h-1.4M178.8 154.24h-1.4M178.8 145.00h-1.4M178.8 135.75h-2.2M178.75 228.2v2.4M182.74 228.2v1.5M186.73 228.2v1.5M190.72 228.2v1.5M194.71 228.2v1.5M198.70 228.2v2.4M202.69 228.2v1.5M206.68 228.2v1.5M210.67 228.2v1.5M214.66 228.2v1.5M218.65 228.2v2.4M222.64 228.2v1.5M226.63 228.2v1.5M230.62 228.2v1.5M234.61 228.2v1.5M238.60 228.2v2.4M242.59 228.2v1.5M246.58 228.2v1.5M250.57 228.2v1.5M254.56 228.2v1.5M258.55 228.2v2.4M262.54 228.2v1.5M266.53 228.2v1.5M270.52 228.2v1.5M274.51 228.2v1.5M278.50 228.2v2.4M282.49 228.2v1.5M286.48 228.2v1.5M290.47 228.2v1.5M294.46 228.2v1.5M298.45 228.2v2.4M302.44 228.2v1.5M306.43 228.2v1.5M310.42 228.2v1.5M314.41 228.2v1.5M318.40 228.2v2.4" stroke="#333" stroke-width="0.7" fill="none"/>
<text x="176.15" y="230.71" font-size="7" text-anchor="end" fill="#222">0</text>
<text x="176.15" y="184.48" font-size="7" text-anchor="end" fill="#222">50</text>
<text x="176.15" y="138.26" font-size="7" text-anchor="end" fill="#222">100</text>
<text x="178.75" y="237.51" font-size="7" text-anchor="middle" fill="#222">0</text>
<text x="198.70" y="237.51" font-size="7" text-anchor="middle" fill="#222">5</text>
<text x="218.65" y="237.51" font-size="7" text-anchor="middle" fill="#222">10</text>
<text x="238.60" y="237.51" font-size="7" text-anchor="middle" fill="#222">15</text>
<text x="258.55" y="237.51" font-size="7" text-anchor="middle" fill="#222">20</text>
<text x="278.50" y="237.51" font-size="7" text-anchor="middle" fill="#222">25</text>
<text x="298.45" y="237.51" font-size="7" text-anchor="middle" fill="#222">30</text>
<text x="318.40" y="237.51" font-size="7" text-anchor="middle" fill="#222">35</text>
<polyline points="178.75,135.75 318.40,135.75" fill="none" stroke="#333" stroke-width="0.9"/>
<polyline points="274.51,135.75 274.51,181.97 286.48,181.97 286.48,228.20" fill="none" stroke="#333" stroke-width="0.9"/>
<polyline points="274.51,181.97 278.50,181.97 278.50,205.09 282.49,205.09 282.49,228.20" fill="none" stroke="#333" stroke-width="0.9"/>
<rect x="272.21" y="179.67" width="4.6" height="4.6" fill="#fff" stroke="#222" stroke-width="0.9"/>
<path d="M274.51 179.38 L277.11 184.19 L271.91 184.19z" fill="#000"/>
<path d="M278.50 202.49 L281.10 207.30 L275.90 207.30z" fill="#000"/>
<path d="M282.49 225.10 L285.09 229.91 L279.89 229.91z" fill="#000"/>
<rect x="284.28" y="226.00" width="4.4" height="4.4" fill="#fff" stroke="#222" stroke-width="0.9"/>
<circle cx="318.40" cy="135.75" r="2.6" fill="#fff" stroke="#222" stroke-width="0.9"/>
<text x="291.80" y="145.52" font-size="7.6" text-anchor="start" fill="#111">**p&lt;0.01</text>
<text x="296.00" y="154.72" font-size="7.6" text-anchor="start" fill="#111">vs DN</text>
<text x="1.00" y="284.60" font-size="12" text-anchor="start" font-weight="bold" fill="#000" stroke="#000" stroke-width="0.4">B</text>
<text x="89.00" y="282.89" font-size="10.3" text-anchor="middle" font-weight="bold" fill="#000">DN</text>
<text x="203.80" y="282.89" font-size="10.3" text-anchor="middle" font-weight="bold" fill="#000">DP</text>
<line x1="22.50" y1="293.00" x2="22.50" y2="363.50" stroke="#444" stroke-width="1"/>
<path d="M22.5 290 l-1.7 3.8 h3.4z" fill="#222"/>
<text x="21.80" y="389.22" font-size="9.0" text-anchor="start" fill="#111" transform="rotate(-90 21.80 386.00)">CD4</text>
<text x="39.80" y="405.85" font-size="8.8" text-anchor="start" fill="#111">CD8</text>
<line x1="61.00" y1="402.50" x2="247.00" y2="402.50" stroke="#444" stroke-width="1"/>
<path d="M250.5 402.5 l-3.8 -1.7 v3.4z" fill="#222"/>
<g clip-path="url(#c2)">
<ellipse cx="75" cy="362.5" rx="17.5" ry="21" fill="url(#g6)" transform="rotate(12 75 362.5)"/>
<path d="M75.5 355.9h0.8M82.9 371.7h0.8M82.2 377.2h0.8M78.4 367.9h0.8M74.9 365.1h0.8M74.7 380.9h0.8M74.5 376.2h0.8M58.1 372.5h0.8M71.5 364.0h0.8M84.3 375.4h0.8M74.8 357.8h0.8M77.1 370.3h0.8M81.2 363.7h0.8M85.1 352.4h0.8M58.0 366.6h0.8M74.9 355.7h0.8M75.4 381.3h0.8M83.7 351.0h0.8M75.5 366.4h0.8M73.2 371.6h0.8M81.6 362.3h0.8M81.4 366.8h0.8M85.8 360.4h0.8M67.4 351.9h0.8M73.8 367.4h0.8M75.9 365.0h0.8M69.3 362.2h0.8M83.6 365.9h0.8M87.1 356.7h0.8M70.7 376.0h0.8M69.2 369.9h0.8M69.2 362.5h0.8M64.6 359.2h0.8M69.5 362.2h0.8M63.9 356.3h0.8M87.2 363.8h0.8M74.8 360.6h0.8M72.9 354.4h0.8M66.4 356.6h0.8M72.6 356.3h0.8M73.7 366.0h0.8M83.5 365.7h0.8M73.2 370.8h0.8M74.5 349.2h0.8M81.6 364.0h0.8M92.4 364.5h0.8M79.6 360.8h0.8M69.6 356.0h0.8M76.8 360.9h0.8M56.7 368.8h0.8M84.6 372.3h0.8M80.7 374.1h0.8M78.9 362.3h0.8M69.7 373.6h0.8M78.6 368.6h0.8M86.3 362.1h0.8M69.6 357.6h0.8M71.7 362.8h0.8M65.5 373.9h0.8M77.4 352.7h0.8M68.4 369.1h0.8M64.0 373.5h0.8M70.1 371.4h0.8M86.2 359.3h0.8M71.6 362.6h0.8M86.7 365.0h0.8M70.8 363.6h0.8M68.0 364.7h0.8M72.0 357.5h0.8M72.4 368.2h0.8M82.3 366.8h0.8M65.2 375.6h0.8M68.4 362.5h0.8M76.8 368.1h0.8M72.1 362.9h0.8M65.2 355.2h0.8M74.1 370.7h0.8M77.2 363.2h0.8M86.6 369.2h0.8M79.2 361.5h0.8M73.0 349.9h0.8M71.6 357.3h0.8M76.0 372.2h0.8M75.8 363.4h0.8M74.0 361.1h0.8M72.1 357.8h0.8M74.2 359.5h0.8M75.7 348.0h0.8M77.8 362.6h0.8M69.7 354.0h0.8M71.0 369.3h0.8M71.3 366.7h0.8M66.6 353.3h0.8M72.5 358.0h0.8M83.7 353.1h0.8M70.0 363.0h0.8M80.2 374.7h0.8M69.2 356.9h0.8M79.6 361.4h0.8M82.1 351.8h0.8M80.3 359.8h0.8M78.2 361.8h0.8M83.0 368.0h0.8M86.6 357.3h0.8M77.2 352.8h0.8M75.5 368.3h0.8M65.7 370.0h0.8M81.3 362.6h0.8M68.8 363.1h0.8M76.5 364.2h0.8M83.2 355.2h0.8M69.3 358.7h0.8M71.5 363.8h0.8M76.8 361.5h0.8M78.9 359.7h0.8M82.6 365.3h0.8M75.8 355.1h0.8M77.1 365.0h0.8M69.1 346.4h0.8M78.8 365.6h0.8M76.5 363.3h0.8M73.3 372.7h0.8M84.3 357.0h0.8M74.4 367.9h0.8M84.9 357.4h0.8M70.6 360.9h0.8M66.7 373.1h0.8M79.1 361.9h0.8M72.4 360.8h0.8M68.2 366.5h0.8M79.7 361.4h0.8M83.6 354.4h0.8M75.0 361.4h0.8M78.8 359.3h0.8M76.8 359.3h0.8M82.8 373.0h0.8M83.4 351.1h0.8M77.2 359.2h0.8M77.1 363.9h0.8M78.9 358.3h0.8M72.0 371.0h0.8M80.2 362.9h0.8M77.4 371.5h0.8M78.3 365.2h0.8M77.4 360.4h0.8M73.4 360.9h0.8M64.8 344.5h0.8M79.8 365.9h0.8M76.0 366.5h0.8M78.7 360.6h0.8M75.3 359.8h0.8M67.2 374.8h0.8M73.9 358.3h0.8M68.3 347.9h0.8M78.4 371.3h0.8M83.0 361.9h0.8M86.6 355.2h0.8M71.8 362.4h0.8M78.4 371.5h0.8M74.6 364.5h0.8M63.0 348.6h0.8M81.0 362.9h0.8M75.8 356.6h0.8M66.4 350.5h0.8M79.4 362.4h0.8M82.3 368.7h0.8M74.3 356.6h0.8M69.2 369.0h0.8M75.2 360.4h0.8M80.4 362.6h0.8M72.6 366.1h0.8M79.9 344.5h0.8M78.2 370.6h0.8M77.8 365.6h0.8M72.2 372.3h0.8M69.3 362.2h0.8M70.3 361.0h0.8M63.4 356.3h0.8M81.1 362.0h0.8M82.7 339.0h0.8M71.1 362.4h0.8M73.6 365.1h0.8M83.5 362.0h0.8M77.3 364.0h0.8M74.1 360.5h0.8M74.4 355.4h0.8M81.8 356.5h0.8M79.4 360.8h0.8M81.1 372.8h0.8M84.9 357.2h0.8M83.5 347.6h0.8M69.7 342.7h0.8M70.8 362.0h0.8M66.2 345.9h0.8M64.9 364.5h0.8M81.8 367.5h0.8M76.5 373.2h0.8M72.7 362.2h0.8M82.1 384.2h0.8M77.0 367.5h0.8M63.7 371.1h0.8M71.6 369.3h0.8M81.5 344.3h0.8M77.6 356.5h0.8M72.7 356.7h0.8M77.0 375.2h0.8M65.7 365.6h0.8M71.2 369.7h0.8M69.0 366.2h0.8M78.3 365.4h0.8M76.9 351.0h0.8M82.4 355.5h0.8M75.3 365.4h0.8M80.0 386.6h0.8M80.2 359.6h0.8M83.0 364.8h0.8M86.7 354.7h0.8M72.8 358.6h0.8M73.3 356.8h0.8M76.2 377.7h0.8M74.2 354.1h0.8M80.7 364.5h0.8M76.2 360.1h0.8M74.3 385.8h0.8M68.0 363.5h0.8M72.3 370.1h0.8M82.2 377.2h0.8M72.1 369.0h0.8M72.8 359.9h0.8M73.0 363.3h0.8M75.7 358.4h0.8M72.8 362.4h0.8M81.3 369.8h0.8M87.8 358.2h0.8M82.4 365.6h0.8M66.7 377.5h0.8M80.5 366.6h0.8M79.8 372.1h0.8M66.2 370.6h0.8M78.5 355.1h0.8M71.8 346.5h0.8M77.3 361.2h0.8M76.5 369.8h0.8M69.4 356.1h0.8M78.6 365.9h0.8M75.9 365.6h0.8M66.8 363.5h0.8M79.6 362.4h0.8M77.7 353.7h0.8M89.0 368.1h0.8M73.6 362.1h0.8M68.6 353.1h0.8M64.5 349.8h0.8M75.1 368.2h0.8M65.7 365.1h0.8M64.6 346.6h0.8M81.8 375.5h0.8M75.7 352.0h0.8M69.3 364.0h0.8M80.8 357.6h0.8" stroke="#fff" stroke-opacity="0.8" stroke-width="0.8" fill="none"/>
</g>
<path d="M79.3 371.6h0.8M74.9 366.1h0.8M72.4 367.0h0.8M71.2 378.9h0.8M72.7 367.6h0.8M77.0 356.6h0.8M70.4 357.8h0.8M86.9 375.5h0.8M73.5 365.3h0.8M66.9 352.6h0.8M77.3 370.0h0.8M78.3 355.9h0.8M88.2 358.8h0.8M78.0 365.2h0.8M53.6 372.9h0.8M75.8 367.5h0.8M76.3 360.4h0.8M66.4 372.8h0.8M89.8 361.6h0.8M75.4 373.7h0.8M73.3 370.8h0.8M75.2 360.2h0.8M70.9 364.9h0.8M79.3 348.3h0.8M73.4 365.5h0.8M75.2 370.2h0.8M73.0 372.4h0.8M80.0 363.2h0.8M69.2 370.3h0.8M87.7 359.0h0.8M79.7 359.5h0.8M78.4 359.7h0.8M82.8 380.3h0.8M69.2 347.8h0.8M90.4 334.4h0.8M72.1 378.2h0.8M82.1 362.8h0.8M83.0 356.5h0.8M79.8 378.7h0.8M69.4 368.5h0.8M69.8 358.0h0.8M78.2 383.4h0.8M75.0 362.6h0.8M69.8 363.8h0.8M77.1 369.3h0.8M74.2 367.3h0.8M82.0 340.0h0.8M67.8 346.2h0.8M64.4 382.3h0.8M73.7 360.7h0.8M89.5 359.6h0.8M84.6 347.6h0.8M86.2 361.0h0.8M73.0 371.0h0.8M85.7 351.5h0.8M76.7 373.6h0.8M80.7 362.0h0.8M79.5 356.6h0.8M72.3 365.8h0.8M76.8 353.5h0.8M69.5 352.0h0.8M70.7 372.1h0.8M73.1 357.0h0.8M71.4 366.1h0.8M79.4 357.2h0.8M68.2 361.9h0.8M88.0 356.5h0.8M84.7 363.5h0.8M72.7 368.2h0.8M87.6 364.9h0.8M74.4 356.1h0.8M76.7 355.0h0.8M79.0 354.7h0.8M82.9 352.8h0.8M75.6 366.5h0.8M86.3 360.7h0.8M67.7 380.8h0.8M82.2 357.5h0.8M76.8 361.3h0.8M63.3 365.3h0.8M65.3 366.8h0.8M76.4 350.5h0.8M65.8 374.5h0.8M66.9 364.7h0.8M75.4 369.3h0.8M72.6 373.8h0.8M61.6 358.1h0.8M79.8 367.7h0.8M75.8 365.1h0.8M79.5 370.2h0.8M77.5 354.4h0.8M75.5 367.4h0.8M64.0 349.0h0.8M79.2 367.5h0.8M72.7 379.1h0.8M81.1 356.0h0.8M70.6 360.0h0.8M66.7 345.0h0.8M74.3 355.3h0.8M75.0 363.4h0.8M88.1 369.7h0.8M85.1 365.7h0.8M72.4 353.8h0.8M63.9 353.3h0.8M71.5 378.5h0.8M85.2 373.7h0.8M85.3 371.0h0.8M91.9 344.5h0.8M70.1 364.0h0.8M71.7 372.7h0.8M63.4 351.3h0.8M50.4 372.3h0.8M86.3 367.5h0.8M68.4 367.1h0.8M71.5 358.7h0.8M73.7 364.8h0.8M68.6 347.1h0.8M62.1 369.8h0.8M95.6 358.3h0.8M68.2 351.5h0.8M83.7 355.6h0.8M76.4 355.3h0.8M78.1 339.7h0.8M75.2 362.9h0.8M73.8 377.2h0.8M72.6 331.7h0.8M75.7 353.4h0.8M79.3 364.4h0.8M64.3 341.0h0.8M65.0 367.0h0.8M75.7 338.1h0.8M67.6 355.0h0.8M86.1 354.0h0.8M80.7 352.8h0.8M71.6 363.2h0.8M57.3 380.4h0.8M59.4 383.5h0.8M78.0 360.5h0.8M76.3 374.2h0.8M73.5 358.0h0.8M82.2 377.0h0.8M85.6 360.5h0.8M74.9 368.1h0.8M69.4 348.8h0.8M53.3 359.0h0.8M79.7 358.8h0.8M92.3 351.1h0.8M61.7 374.9h0.8M74.4 361.0h0.8M73.2 356.0h0.8M85.5 371.1h0.8M75.5 363.4h0.8M69.5 361.8h0.8M69.3 366.9h0.8M83.0 355.0h0.8M77.4 343.9h0.8M75.3 358.4h0.8M73.1 345.7h0.8M79.8 362.6h0.8M73.8 360.8h0.8M77.9 354.8h0.8M88.9 338.4h0.8M71.7 371.3h0.8M87.9 356.9h0.8M87.0 359.7h0.8M70.3 358.0h0.8M70.7 358.7h0.8M79.1 362.2h0.8M72.5 358.9h0.8M77.9 363.3h0.8M78.9 363.9h0.8M75.2 368.6h0.8M72.8 369.1h0.8M74.2 374.0h0.8M70.9 369.7h0.8M76.4 348.3h0.8M77.5 363.8h0.8M85.7 366.0h0.8M66.5 346.1h0.8M70.7 359.1h0.8M79.6 364.5h0.8M78.1 352.6h0.8M74.3 347.1h0.8M70.4 374.1h0.8M83.0 365.1h0.8M81.4 347.3h0.8M77.1 362.8h0.8M75.1 352.4h0.8M80.6 363.5h0.8M81.8 357.5h0.8M84.9 344.3h0.8M66.0 367.2h0.8M75.9 359.8h0.8M82.6 368.2h0.8M72.8 363.7h0.8M77.6 361.4h0.8M74.3 370.2h0.8M74.4 356.7h0.8M71.4 353.2h0.8M72.5 356.6h0.8M64.1 366.4h0.8M66.4 360.2h0.8M74.6 370.4h0.8M74.8 375.3h0.8M78.6 353.4h0.8M73.3 355.5h0.8M76.1 352.5h0.8M76.2 363.9h0.8M74.1 363.1h0.8M73.7 359.5h0.8M73.4 362.5h0.8M75.7 370.2h0.8M77.8 354.6h0.8M72.1 364.6h0.8M75.1 360.2h0.8M74.3 368.4h0.8M76.4 357.6h0.8M64.4 371.1h0.8M71.2 367.7h0.8M74.1 362.7h0.8M76.2 347.8h0.8M71.2 381.3h0.8M75.9 360.0h0.8M68.2 360.6h0.8M78.2 364.8h0.8M78.0 348.9h0.8M71.9 334.1h0.8M81.0 373.0h0.8M60.1 375.8h0.8M72.9 361.0h0.8M73.9 372.8h0.8M79.0 364.8h0.8M83.2 361.0h0.8M83.8 362.3h0.8M76.1 364.8h0.8M67.9 348.7h0.8M83.4 350.0h0.8M91.3 347.0h0.8M66.7 356.4h0.8M65.3 362.5h0.8M73.0 362.2h0.8M77.5 375.3h0.8M68.9 369.7h0.8M70.6 373.4h0.8M77.7 364.7h0.8M64.9 361.7h0.8M62.0 364.3h0.8M73.1 366.5h0.8M67.2 360.5h0.8M70.9 370.9h0.8M67.3 368.2h0.8M77.7 356.4h0.8M62.6 368.3h0.8M73.3 356.2h0.8M72.7 359.0h0.8M76.6 373.7h0.8M80.8 364.8h0.8M67.5 370.1h0.8M82.1 357.9h0.8M51.9 375.3h0.8M82.4 359.0h0.8M83.6 357.6h0.8M65.6 361.4h0.8M79.1 359.4h0.8M81.9 356.1h0.8M71.9 364.5h0.8M71.3 365.1h0.8M67.4 362.0h0.8M68.7 374.3h0.8M86.2 378.1h0.8M69.9 376.4h0.8M74.2 363.8h0.8M68.3 363.2h0.8M82.9 347.4h0.8M85.5 366.8h0.8M59.8 375.1h0.8M83.3 356.3h0.8M72.2 373.3h0.8M62.0 358.5h0.8M63.0 381.0h0.8M75.6 368.4h0.8M83.8 356.8h0.8M70.1 375.3h0.8M79.2 365.5h0.8M78.0 373.4h0.8M71.3 352.4h0.8M58.0 351.0h0.8M77.8 350.4h0.8M71.3 354.6h0.8M74.6 371.2h0.8M71.3 369.4h0.8M70.3 356.7h0.8M61.7 360.2h0.8M81.9 356.3h0.8M71.9 369.9h0.8M82.6 353.8h0.8M76.5 355.7h0.8M90.7 358.5h0.8M64.4 373.6h0.8M78.3 352.1h0.8M81.8 371.2h0.8M66.6 358.9h0.8M75.9 365.8h0.8M78.2 347.9h0.8M69.1 357.5h0.8M81.6 367.1h0.8M65.6 369.2h0.8M81.7 359.1h0.8M73.6 358.7h0.8M50.2 375.6h0.8M71.2 354.7h0.8M87.1 366.3h0.8M73.5 360.5h0.8M72.4 363.2h0.8M91.5 372.2h0.8M75.7 355.9h0.8M60.6 356.6h0.8M72.7 367.7h0.8M79.3 344.5h0.8M68.3 361.7h0.8M67.4 370.6h0.8M85.3 351.3h0.8M76.4 361.6h0.8M70.5 344.8h0.8M77.1 353.2h0.8M85.0 364.7h0.8M71.1 376.4h0.8M88.5 366.4h0.8M81.9 365.5h0.8M75.8 357.9h0.8M71.0 358.3h0.8M68.1 363.7h0.8M78.2 362.6h0.8M55.1 376.4h0.8M79.3 364.8h0.8M82.1 361.6h0.8M76.7 368.4h0.8M74.8 358.3h0.8M68.8 358.0h0.8M67.1 361.5h0.8M68.3 350.8h0.8M67.6 370.8h0.8M83.3 356.6h0.8M78.6 359.6h0.8M78.1 361.8h0.8M59.4 358.8h0.8M77.3 377.9h0.8M85.8 351.9h0.8M76.5 360.8h0.8M77.9 376.3h0.8M85.9 376.1h0.8M67.4 370.6h0.8M84.8 353.3h0.8M77.9 346.6h0.8M71.2 357.6h0.8M73.0 375.2h0.8M81.9 362.7h0.8M84.6 361.9h0.8M67.7 380.2h0.8M83.5 363.9h0.8M72.5 342.1h0.8M67.0 349.5h0.8M77.1 363.2h0.8M74.9 362.2h0.8M79.6 373.2h0.8M70.1 373.1h0.8M85.2 366.3h0.8M82.9 369.4h0.8M76.2 358.2h0.8M76.9 356.8h0.8M70.5 365.1h0.8M58.5 376.0h0.8M64.7 367.4h0.8M68.7 363.2h0.8M75.3 363.3h0.8M69.0 352.4h0.8M77.4 356.2h0.8M83.6 373.6h0.8M83.5 348.5h0.8M76.5 358.4h0.8M79.5 367.2h0.8M73.5 366.0h0.8M72.0 376.9h0.8M82.9 365.2h0.8M72.1 350.1h0.8M69.0 374.7h0.8M86.1 348.7h0.8M65.8 371.1h0.8M78.7 350.8h0.8M69.7 364.1h0.8M81.4 355.7h0.8M62.3 363.1h0.8M76.2 351.8h0.8M78.4 357.4h0.8M86.2 371.4h0.8M80.2 367.8h0.8M75.0 347.0h0.8M61.6 368.0h0.8M74.5 375.4h0.8M73.7 363.2h0.8M71.1 349.4h0.8M73.6 356.6h0.8M64.0 370.5h0.8M64.9 352.5h0.8M74.4 363.7h0.8M84.7 376.6h0.8M67.3 364.8h0.8M76.2 364.9h0.8M67.6 359.1h0.8M65.5 362.3h0.8M73.1 360.8h0.8M87.2 341.1h0.8M65.8 380.0h0.8M83.3 359.1h0.8M79.1 350.8h0.8M70.3 363.0h0.8M69.3 359.5h0.8M81.3 358.8h0.8M73.7 353.2h0.8M80.6 357.4h0.8M70.2 356.9h0.8M60.0 360.2h0.8M82.8 346.3h0.8M65.7 377.3h0.8M64.3 361.8h0.8M75.9 363.8h0.8M68.0 365.4h0.8M62.3 376.8h0.8M62.8 372.9h0.8M81.7 372.5h0.8M67.4 381.0h0.8M85.9 349.9h0.8M69.7 353.4h0.8M70.5 354.9h0.8M73.9 369.4h0.8M78.7 370.4h0.8M81.0 360.7h0.8M84.0 377.5h0.8M72.6 363.2h0.8M75.1 353.2h0.8M76.7 363.1h0.8M76.4 349.6h0.8M71.5 359.2h0.8M79.3 357.9h0.8M81.3 355.0h0.8M79.8 353.5h0.8M86.6 355.6h0.8M81.9 372.2h0.8M68.5 351.8h0.8M77.5 350.3h0.8M76.5 373.4h0.8M64.4 365.2h0.8M76.6 373.7h0.8M59.1 351.3h0.8M76.5 355.1h0.8M71.5 376.7h0.8M86.2 365.7h0.8M72.7 377.0h0.8M81.7 370.9h0.8M80.0 357.1h0.8M69.6 356.3h0.8M81.1 369.5h0.8M74.5 380.8h0.8M70.2 372.0h0.8M75.3 347.6h0.8M69.6 364.5h0.8M77.4 382.3h0.8M87.7 365.0h0.8M84.4 372.3h0.8M81.0 362.9h0.8M75.8 360.5h0.8M84.7 377.4h0.8M76.7 364.4h0.8M76.3 354.2h0.8M64.8 363.8h0.8M68.6 356.0h0.8M80.6 366.5h0.8M72.0 364.9h0.8M67.0 349.6h0.8M85.5 366.5h0.8M75.4 360.0h0.8M68.6 355.8h0.8M76.6 373.7h0.8M71.0 346.5h0.8M64.7 372.2h0.8M68.0 359.6h0.8M68.5 363.5h0.8M69.2 354.5h0.8M79.0 366.2h0.8M73.3 367.6h0.8M72.8 360.9h0.8M64.0 366.5h0.8M82.6 357.0h0.8M90.8 354.2h0.8M77.2 360.6h0.8M70.5 374.2h0.8M70.5 362.3h0.8M78.2 368.9h0.8M82.4 356.5h0.8M75.3 372.4h0.8M83.9 358.3h0.8M67.3 373.5h0.8M75.9 344.7h0.8M84.1 366.0h0.8M76.1 374.9h0.8M82.4 358.8h0.8M67.9 360.0h0.8M87.7 349.2h0.8M88.9 351.3h0.8M68.1 382.7h0.8M73.2 353.5h0.8M79.9 357.5h0.8M66.6 369.6h0.8M71.5 358.0h0.8M78.3 375.2h0.8M75.6 354.3h0.8M62.0 359.6h0.8M77.7 358.2h0.8M81.0 350.7h0.8M71.0 361.6h0.8M65.2 369.5h0.8M71.9 365.7h0.8M66.1 370.4h0.8M77.4 369.5h0.8M82.7 376.7h0.8M79.3 348.9h0.8M85.3 355.4h0.8M68.6 374.0h0.8M83.5 368.0h0.8M73.5 364.1h0.8M75.3 346.2h0.8M61.6 367.8h0.8M75.6 365.7h0.8M80.7 364.5h0.8M87.1 359.4h0.8M83.5 361.2h0.8M78.7 358.1h0.8M87.9 363.8h0.8M73.9 351.7h0.8M76.1 377.6h0.8M73.3 361.6h0.8M77.2 350.5h0.8M82.4 368.8h0.8M82.3 374.5h0.8M68.8 364.2h0.8M86.9 363.3h0.8M84.6 367.1h0.8M76.6 347.2h0.8M79.4 356.1h0.8M68.2 352.2h0.8M59.2 356.2h0.8M79.9 358.4h0.8M78.3 352.2h0.8M75.4 353.8h0.8M77.6 365.9h0.8M68.3 364.6h0.8M72.5 377.1h0.8M86.6 360.2h0.8M90.2 364.0h0.8M71.6 370.0h0.8M70.7 356.2h0.8M75.6 354.9h0.8M72.0 375.3h0.8M78.3 363.1h0.8M67.2 356.7h0.8M90.0 353.0h0.8M87.4 364.3h0.8M71.0 380.6h0.8M70.1 368.8h0.8M76.1 361.9h0.8M85.9 366.6h0.8M81.8 364.3h0.8M79.2 365.5h0.8M58.1 375.5h0.8M66.9 371.8h0.8M72.0 363.8h0.8M66.9 355.1h0.8M99.1 344.1h0.8M70.6 370.1h0.8M86.0 347.7h0.8M73.1 378.3h0.8M76.9 345.9h0.8M73.7 365.1h0.8M64.5 370.5h0.8M59.3 350.6h0.8M76.0 374.8h0.8M63.5 354.2h0.8M62.0 367.1h0.8M65.3 346.1h0.8M72.9 347.2h0.8M86.6 355.5h0.8M73.3 369.4h0.8M76.6 357.3h0.8M82.3 351.4h0.8M74.4 352.6h0.8M67.5 363.4h0.8M87.1 352.4h0.8M71.4 343.3h0.8M73.6 349.8h0.8M52.0 352.8h0.8M86.9 361.5h0.8M77.5 375.9h0.8M76.9 362.3h0.8M64.6 353.0h0.8M81.7 368.6h0.8M73.8 365.2h0.8M74.5 371.4h0.8M68.2 371.8h0.8M84.6 347.1h0.8M66.3 368.7h0.8M79.5 366.6h0.8M102.1 343.5h0.8M70.9 369.2h0.8M67.2 347.5h0.8M67.8 367.3h0.8M80.9 361.2h0.8M77.6 353.5h0.8M79.2 361.9h0.8M70.8 370.0h0.8M66.8 374.3h0.8M76.9 359.1h0.8M81.6 362.1h0.8M71.4 331.1h0.8M92.7 345.8h0.8M67.1 368.4h0.8M60.6 361.5h0.8M87.0 363.5h0.8M88.7 374.2h0.8M85.2 360.9h0.8M77.0 364.4h0.8M79.9 367.0h0.8M71.0 375.2h0.8M73.0 365.9h0.8M68.1 363.2h0.8M76.9 373.9h0.8M73.9 365.7h0.8M70.3 353.9h0.8M72.9 350.1h0.8M75.2 372.4h0.8M72.7 346.7h0.8M83.0 379.7h0.8M87.9 376.3h0.8M80.7 357.5h0.8M93.7 362.7h0.8M76.8 368.1h0.8M68.8 364.7h0.8M58.5 356.5h0.8M69.2 356.2h0.8M82.5 374.1h0.8M66.7 363.0h0.8M84.4 354.8h0.8M74.2 360.0h0.8M80.7 353.8h0.8M80.5 367.3h0.8M78.2 354.4h0.8M81.7 350.6h0.8M72.5 362.4h0.8M62.8 368.4h0.8M73.1 379.1h0.8M75.4 369.6h0.8M73.5 355.4h0.8M72.0 372.4h0.8M71.7 365.5h0.8M77.3 373.1h0.8M94.2 356.5h0.8M78.0 375.5h0.8M73.8 366.4h0.8M91.6 378.4h0.8M67.5 359.8h0.8M76.0 363.4h0.8M63.0 369.3h0.8M74.5 358.5h0.8M80.3 375.6h0.8M82.6 368.2h0.8M75.7 364.7h0.8M76.3 339.6h0.8M82.4 354.0h0.8M67.0 361.2h0.8M74.2 363.3h0.8M69.8 365.4h0.8M86.6 359.6h0.8M83.6 363.3h0.8M76.5 354.2h0.8M69.1 357.5h0.8M62.9 366.2h0.8M58.7 359.6h0.8M73.2 369.5h0.8M86.2 378.8h0.8M77.5 356.6h0.8M76.1 349.7h0.8M75.2 363.6h0.8M76.2 371.5h0.8M66.9 370.2h0.8M67.0 361.5h0.8M55.6 354.1h0.8M75.8 362.0h0.8M73.7 357.4h0.8M76.0 345.2h0.8M78.7 357.8h0.8M70.3 365.8h0.8M78.1 362.3h0.8M85.4 357.1h0.8M71.1 382.6h0.8M78.3 358.8h0.8M80.5 376.8h0.8M81.9 351.1h0.8M74.3 354.8h0.8M78.1 366.6h0.8M69.8 357.9h0.8M68.2 358.2h0.8M58.0 374.7h0.8M73.9 368.5h0.8M67.4 360.0h0.8M74.2 357.3h0.8M75.0 357.0h0.8M71.4 362.5h0.8M78.9 368.6h0.8M82.1 359.5h0.8M70.8 361.7h0.8M81.6 369.8h0.8M62.8 354.9h0.8M79.7 372.3h0.8M77.7 351.9h0.8M56.3 360.6h0.8M77.7 371.5h0.8M83.2 373.8h0.8M85.3 355.2h0.8M51.1 377.5h0.8M81.3 360.8h0.8M64.0 351.0h0.8M75.1 365.7h0.8M79.1 356.2h0.8M79.2 373.3h0.8M64.5 362.9h0.8M59.3 353.5h0.8M79.6 352.8h0.8M72.9 367.2h0.8M60.7 357.0h0.8M70.7 347.3h0.8M72.5 355.1h0.8M73.4 350.9h0.8M72.4 355.5h0.8M61.7 351.9h0.8M75.9 374.6h0.8M73.5 368.2h0.8M70.7 365.3h0.8M82.2 344.0h0.8M65.1 358.8h0.8M90.5 344.1h0.8M76.7 351.9h0.8M89.4 359.9h0.8M87.4 350.8h0.8M89.9 340.9h0.8M60.0 351.4h0.8M74.1 362.2h0.8M82.7 347.8h0.8M78.4 362.8h0.8M73.9 346.9h0.8M78.9 353.2h0.8M69.2 354.3h0.8M66.3 373.2h0.8M77.3 374.2h0.8M63.7 350.3h0.8M79.1 365.5h0.8M73.7 373.7h0.8M68.7 364.2h0.8M100.7 363.5h0.8M61.2 369.0h0.8M77.1 365.9h0.8M78.6 344.5h0.8M85.1 371.5h0.8M66.8 376.0h0.8M72.5 357.7h0.8M80.4 366.3h0.8M77.0 351.8h0.8M71.1 354.5h0.8M90.0 362.0h0.8M79.8 382.1h0.8M82.6 347.3h0.8M81.6 356.9h0.8M72.7 358.5h0.8M77.5 365.6h0.8M75.3 360.4h0.8M77.9 352.3h0.8M73.1 368.9h0.8M64.8 356.6h0.8M62.5 369.5h0.8M69.9 367.4h0.8M79.8 372.3h0.8M53.5 351.1h0.8M74.5 340.4h0.8M80.1 354.2h0.8M73.1 382.3h0.8M85.3 364.3h0.8M81.8 362.5h0.8M59.4 360.5h0.8M84.6 375.8h0.8M81.7 360.9h0.8M71.2 366.2h0.8M83.5 361.2h0.8M73.0 354.7h0.8M78.9 372.5h0.8M65.4 375.2h0.8M87.3 352.6h0.8M77.0 346.8h0.8M88.3 364.7h0.8M65.9 359.3h0.8M84.8 365.4h0.8M71.2 341.9h0.8M72.4 372.1h0.8M76.8 352.2h0.8M66.2 359.9h0.8M87.5 360.7h0.8M82.1 368.1h0.8M70.9 360.4h0.8M67.2 362.7h0.8M71.4 364.8h0.8M73.9 358.8h0.8M88.1 357.0h0.8M81.5 348.8h0.8M85.7 352.8h0.8M77.0 360.6h0.8M76.0 367.5h0.8M77.0 364.9h0.8M70.4 364.2h0.8M74.1 358.8h0.8M73.3 354.2h0.8M60.0 370.7h0.8M65.5 376.5h0.8M72.9 368.0h0.8M79.6 362.0h0.8M68.4 377.7h0.8M71.1 360.5h0.8M71.4 372.7h0.8M84.7 346.0h0.8M76.2 344.1h0.8M67.5 369.7h0.8M61.6 350.4h0.8M75.6 370.0h0.8M79.2 358.7h0.8M73.4 344.9h0.8M80.7 366.3h0.8M66.0 358.7h0.8M84.7 360.6h0.8M78.7 357.4h0.8M69.5 364.8h0.8M61.7 357.8h0.8M77.1 356.9h0.8M82.3 371.5h0.8M79.9 359.0h0.8M69.6 359.0h0.8M77.0 354.8h0.8M69.4 360.3h0.8M70.8 367.6h0.8M49.4 382.1h0.8M77.4 359.4h0.8M70.6 373.0h0.8M89.6 357.1h0.8M70.8 367.6h0.8M73.9 359.1h0.8M61.9 359.1h0.8M70.0 361.8h0.8M75.7 367.4h0.8M88.1 355.9h0.8M65.8 366.7h0.8M73.3 350.6h0.8M82.9 368.5h0.8M72.2 351.7h0.8M72.8 366.7h0.8M74.1 361.2h0.8M88.6 363.6h0.8M69.2 370.2h0.8M84.4 378.5h0.8M75.5 367.2h0.8M77.3 357.8h0.8M83.6 367.4h0.8M66.1 349.1h0.8M79.2 358.3h0.8M80.0 343.0h0.8M69.3 351.7h0.8M82.8 366.2h0.8M80.9 350.1h0.8M80.1 362.1h0.8M70.2 360.4h0.8M75.0 371.2h0.8M63.7 347.3h0.8M78.6 355.9h0.8M68.1 367.5h0.8M62.9 353.7h0.8M77.1 358.0h0.8M76.0 356.2h0.8M71.4 350.5h0.8M62.6 360.3h0.8M83.3 365.0h0.8M73.0 355.3h0.8M68.1 350.8h0.8M67.4 353.1h0.8M71.5 358.2h0.8M78.6 351.3h0.8M77.1 372.8h0.8M75.4 358.9h0.8M76.3 351.3h0.8M78.0 369.5h0.8M59.3 369.9h0.8M72.3 376.7h0.8M69.6 375.6h0.8M70.4 372.6h0.8M80.4 352.5h0.8M76.0 356.7h0.8M78.5 368.1h0.8M79.5 369.8h0.8M88.0 350.1h0.8M78.0 354.0h0.8M67.6 354.6h0.8M64.4 366.8h0.8M86.9 360.0h0.8M69.8 336.4h0.8M68.5 369.0h0.8M72.0 368.5h0.8M81.2 358.7h0.8M72.9 353.5h0.8M65.9 360.7h0.8M67.4 343.9h0.8M85.5 374.9h0.8M66.1 370.6h0.8M69.1 354.1h0.8M82.1 364.0h0.8M74.7 360.7h0.8M87.4 332.5h0.8M76.7 349.7h0.8M74.3 365.1h0.8M83.3 372.2h0.8M70.9 336.5h0.8M72.8 378.0h0.8M75.1 354.3h0.8M82.3 364.4h0.8M75.7 358.6h0.8M89.8 353.2h0.8M69.8 364.6h0.8M79.0 349.3h0.8M88.6 375.8h0.8M65.7 378.5h0.8M69.1 355.4h0.8M67.8 364.1h0.8M75.3 368.0h0.8M66.3 363.2h0.8M69.6 372.0h0.8M78.5 350.6h0.8M74.7 363.7h0.8M80.5 373.8h0.8M66.6 382.8h0.8M51.9 366.5h0.8M68.5 379.4h0.8M69.0 373.2h0.8M77.7 368.7h0.8M72.7 355.0h0.8M88.5 336.8h0.8M73.7 360.1h0.8M73.4 374.4h0.8M60.3 359.4h0.8M72.2 362.8h0.8M68.0 370.0h0.8M77.2 350.2h0.8M62.4 377.0h0.8M69.4 373.6h0.8M86.1 345.0h0.8M76.8 351.7h0.8M98.8 361.5h0.8M55.7 361.1h0.8M75.5 371.0h0.8M73.8 351.1h0.8M87.8 366.0h0.8M71.1 355.3h0.8M67.1 369.4h0.8M77.3 352.1h0.8M73.2 370.2h0.8M86.7 362.5h0.8M58.5 370.9h0.8M72.0 349.0h0.8M76.8 360.6h0.8M75.7 361.6h0.8M64.0 363.0h0.8M84.3 342.7h0.8M72.2 374.3h0.8M80.4 359.8h0.8M66.4 355.8h0.8M81.8 360.7h0.8M78.8 367.0h0.8M80.6 359.1h0.8M67.8 374.6h0.8M85.6 360.9h0.8M66.1 360.2h0.8M85.9 361.9h0.8M87.4 370.6h0.8M74.7 368.9h0.8M67.0 370.5h0.8M70.8 372.0h0.8M78.7 361.1h0.8M68.3 355.2h0.8M81.7 355.5h0.8M74.6 365.4h0.8M66.1 366.8h0.8M88.2 362.9h0.8M87.5 357.0h0.8M79.7 361.4h0.8M72.4 364.0h0.8M81.6 366.0h0.8M70.4 353.6h0.8M69.3 369.4h0.8M74.2 360.5h0.8M63.3 353.9h0.8M72.0 360.4h0.8M75.4 348.6h0.8M86.8 369.2h0.8M86.5 361.0h0.8M79.9 359.5h0.8M81.3 362.1h0.8M71.7 362.8h0.8M87.3 350.9h0.8M75.5 347.2h0.8M71.0 379.4h0.8M75.7 363.7h0.8M71.7 363.9h0.8M72.7 365.3h0.8M79.5 360.7h0.8M75.5 369.3h0.8M85.5 376.2h0.8M70.2 378.7h0.8M86.9 355.6h0.8M80.3 365.7h0.8M82.4 361.6h0.8M80.0 353.0h0.8M94.1 355.6h0.8M60.8 355.0h0.8M78.0 377.0h0.8M62.5 372.5h0.8M83.4 369.7h0.8M78.5 362.2h0.8M73.6 360.2h0.8M65.1 373.5h0.8M79.2 364.8h0.8M81.1 365.5h0.8M89.8 347.8h0.8M77.5 351.6h0.8M79.7 361.1h0.8M72.7 360.2h0.8M87.8 374.6h0.8M72.4 355.8h0.8M68.3 354.5h0.8M75.7 350.7h0.8M69.2 368.1h0.8M77.0 355.2h0.8M97.1 362.6h0.8M70.4 377.0h0.8M76.6 346.1h0.8M71.8 352.3h0.8M78.4 341.7h0.8M72.2 355.7h0.8M81.9 352.0h0.8M61.7 349.2h0.8M84.2 355.4h0.8M63.1 370.7h0.8M79.6 362.6h0.8M68.7 369.8h0.8M71.0 364.2h0.8M87.4 348.6h0.8M78.2 363.1h0.8M69.4 358.5h0.8M79.0 359.0h0.8M90.2 355.0h0.8M51.4 377.4h0.8M68.9 369.8h0.8M74.4 368.6h0.8M82.1 363.2h0.8M85.3 367.2h0.8M63.7 361.9h0.8M75.6 361.2h0.8M68.2 354.4h0.8M68.2 380.3h0.8M63.6 358.3h0.8M72.4 367.5h0.8M83.6 376.9h0.8M72.0 355.1h0.8M79.0 376.0h0.8M79.3 367.5h0.8M75.9 359.9h0.8M59.9 357.3h0.8M78.3 371.4h0.8M74.2 353.1h0.8M79.3 367.3h0.8M71.8 361.7h0.8M74.6 366.9h0.8M76.0 353.0h0.8M81.0 361.1h0.8M73.6 348.9h0.8M76.5 359.3h0.8M77.2 374.3h0.8M83.3 378.8h0.8M66.4 365.5h0.8M86.9 363.4h0.8M78.5 355.5h0.8M80.7 367.8h0.8M66.1 368.3h0.8M67.3 372.0h0.8M78.9 367.0h0.8M76.5 370.5h0.8M75.9 357.6h0.8M68.8 370.1h0.8M60.7 345.7h0.8M68.6 360.6h0.8M67.5 360.0h0.8M73.8 357.8h0.8M65.7 369.1h0.8M79.7 352.2h0.8M65.9 367.8h0.8M73.5 367.3h0.8M60.1 362.4h0.8M72.9 362.8h0.8M69.5 362.8h0.8M59.8 356.0h0.8M84.8 365.9h0.8M74.9 364.6h0.8M84.0 369.3h0.8M66.7 352.7h0.8M73.8 350.8h0.8M80.6 365.5h0.8M70.1 353.3h0.8M79.8 373.4h0.8M83.0 357.5h0.8M72.1 359.6h0.8M69.3 359.1h0.8M70.3 343.3h0.8M79.6 356.3h0.8M79.9 368.2h0.8M77.3 355.1h0.8M72.6 346.7h0.8M70.6 371.4h0.8M73.7 381.4h0.8M71.5 356.3h0.8M91.2 346.8h0.8M97.7 380.7h0.8M70.6 382.2h0.8M65.6 348.3h0.8M76.0 358.8h0.8M84.8 350.7h0.8M64.7 368.8h0.8M65.6 356.4h0.8M65.2 369.4h0.8M64.4 346.9h0.8M65.7 348.5h0.8M76.1 373.7h0.8M72.5 348.7h0.8M76.0 361.9h0.8M88.2 356.1h0.8M87.5 373.4h0.8M72.6 332.6h0.8M74.2 369.5h0.8M67.5 356.7h0.8M69.5 365.6h0.8M78.5 377.8h0.8M58.5 366.0h0.8M86.7 369.9h0.8M78.0 382.7h0.8M65.6 370.9h0.8M83.9 380.9h0.8M77.3 367.7h0.8M76.8 361.6h0.8M79.5 360.8h0.8M64.4 356.9h0.8M80.0 357.7h0.8M84.9 368.2h0.8M81.3 374.7h0.8M83.0 364.8h0.8M72.4 354.1h0.8M73.8 371.4h0.8M84.6 357.6h0.8M75.8 378.0h0.8M77.4 377.1h0.8M66.0 368.9h0.8M78.7 344.2h0.8M81.6 330.8h0.8M79.5 352.3h0.8M77.3 355.7h0.8M76.0 353.4h0.8M62.4 373.5h0.8M91.1 349.8h0.8M72.1 369.4h0.8M78.5 359.4h0.8M83.2 361.4h0.8M71.3 357.9h0.8M67.2 365.4h0.8M64.4 364.4h0.8M78.1 357.7h0.8M84.5 358.4h0.8M76.8 362.0h0.8M85.6 345.5h0.8M60.1 357.9h0.8M76.5 365.5h0.8M69.3 352.8h0.8M79.8 349.3h0.8M73.3 362.0h0.8M68.1 381.0h0.8M62.8 359.6h0.8M80.7 367.5h0.8M93.2 359.5h0.8M77.8 357.4h0.8M73.3 357.8h0.8M90.7 337.8h0.8M91.3 345.1h0.8M74.7 350.5h0.8M59.5 383.0h0.8M66.5 356.9h0.8M78.5 361.5h0.8M50.5 369.9h0.8M79.5 363.1h0.8M66.3 368.5h0.8M88.3 367.9h0.8M89.2 371.2h0.8M73.7 349.2h0.8M67.3 359.9h0.8M64.6 365.3h0.8M62.8 361.5h0.8M79.6 355.0h0.8M65.9 365.3h0.8M84.0 349.7h0.8M81.2 354.0h0.8M75.4 376.0h0.8M89.0 351.4h0.8M66.9 371.1h0.8M86.8 362.1h0.8M77.0 366.4h0.8M75.3 373.9h0.8M75.4 364.2h0.8M84.9 362.9h0.8M85.5 353.8h0.8M63.4 352.2h0.8M74.9 372.8h0.8M71.8 364.4h0.8M70.4 360.7h0.8M80.6 378.6h0.8M75.3 362.2h0.8M80.7 367.7h0.8M71.0 363.6h0.8M77.9 361.3h0.8M72.7 360.4h0.8M74.1 375.3h0.8M65.6 369.0h0.8M72.5 370.6h0.8M71.0 358.7h0.8M73.8 355.7h0.8M74.1 363.7h0.8M72.0 382.8h0.8M73.7 364.9h0.8M71.8 353.3h0.8M62.8 362.2h0.8M81.2 382.1h0.8M88.9 352.3h0.8M79.8 376.1h0.8M84.9 373.5h0.8M74.5 354.2h0.8M73.5 368.7h0.8M85.9 351.8h0.8M70.2 371.9h0.8M80.9 369.0h0.8M78.1 341.9h0.8M77.0 354.5h0.8M69.9 348.1h0.8M87.8 369.7h0.8M91.0 355.7h0.8M79.3 374.5h0.8M67.7 374.1h0.8M60.4 369.5h0.8M80.2 356.4h0.8M62.5 366.6h0.8M84.5 346.4h0.8M79.3 367.5h0.8M65.9 358.9h0.8M77.1 375.5h0.8M90.6 370.3h0.8M85.5 369.2h0.8M54.3 354.2h0.8M58.9 345.1h0.8M84.6 363.9h0.8M86.1 349.1h0.8M82.8 362.8h0.8M66.6 363.9h0.8M73.0 368.3h0.8M86.4 376.5h0.8M87.9 365.5h0.8M80.0 363.8h0.8M69.7 363.1h0.8M71.5 363.2h0.8M65.6 365.6h0.8M84.8 356.5h0.8M77.6 369.6h0.8M81.0 371.1h0.8M80.4 370.0h0.8M81.6 357.3h0.8M68.6 353.1h0.8M80.7 362.8h0.8M88.2 368.1h0.8M76.1 370.6h0.8M65.0 360.8h0.8M75.3 363.8h0.8M63.7 377.4h0.8M70.4 360.2h0.8M62.1 360.1h0.8M74.4 366.0h0.8M93.9 371.8h0.8M79.1 363.7h0.8M83.3 365.9h0.8M64.8 363.0h0.8M61.7 362.9h0.8M73.8 353.5h0.8M78.9 352.9h0.8M71.0 357.9h0.8M68.6 364.8h0.8M75.6 376.8h0.8M79.9 360.3h0.8M72.9 355.2h0.8M60.1 368.5h0.8M87.8 372.5h0.8M100.3 348.7h0.8M65.1 339.2h0.8M73.6 340.3h0.8M63.1 352.5h0.8M81.8 363.3h0.8M78.6 356.0h0.8M85.9 373.3h0.8M80.8 364.0h0.8M73.8 367.9h0.8M79.0 360.7h0.8M63.1 366.0h0.8M78.9 360.3h0.8M76.6 366.6h0.8M77.4 381.1h0.8M91.1 355.3h0.8M71.4 354.1h0.8M69.1 372.2h0.8M85.4 348.7h0.8M77.6 368.6h0.8M85.8 351.8h0.8M83.9 359.4h0.8M72.2 348.6h0.8M75.9 342.2h0.8M73.3 373.5h0.8M87.2 361.1h0.8M80.1 366.8h0.8M73.2 365.7h0.8M77.9 365.3h0.8M75.8 375.1h0.8M63.8 368.2h0.8M83.8 345.9h0.8M77.8 365.4h0.8M79.5 353.7h0.8M79.3 352.9h0.8M74.0 361.6h0.8M70.3 364.3h0.8M80.3 364.4h0.8M73.0 378.1h0.8M76.7 372.0h0.8M82.4 358.5h0.8M85.9 369.8h0.8M78.5 337.9h0.8M91.2 350.0h0.8M79.1 367.1h0.8M75.8 367.4h0.8M70.6 365.5h0.8M84.4 344.3h0.8M71.1 360.7h0.8M86.9 360.5h0.8M69.7 352.9h0.8M83.8 372.9h0.8M72.1 347.9h0.8M81.5 353.8h0.8M83.7 371.7h0.8M73.4 361.5h0.8M85.5 360.0h0.8M70.9 354.8h0.8M75.6 360.4h0.8M69.0 364.7h0.8M79.9 352.4h0.8M76.4 352.4h0.8M77.1 350.3h0.8M75.4 365.6h0.8M64.6 344.6h0.8M90.3 348.4h0.8M76.2 361.1h0.8M62.7 373.7h0.8M68.6 364.8h0.8M60.4 359.4h0.8M75.9 358.6h0.8M64.0 359.8h0.8M82.5 362.6h0.8M81.7 364.0h0.8M74.6 369.5h0.8M76.8 359.3h0.8M83.1 355.5h0.8M82.8 368.8h0.8M74.5 368.5h0.8M82.4 374.3h0.8M66.5 356.6h0.8M87.0 352.4h0.8M77.5 368.4h0.8M76.5 345.2h0.8M71.8 344.8h0.8M71.8 355.4h0.8M60.2 374.2h0.8M71.5 354.7h0.8M80.2 365.2h0.8M65.3 350.5h0.8M79.4 359.6h0.8M85.9 354.9h0.8M73.6 351.2h0.8M90.8 363.4h0.8M75.0 370.9h0.8M70.1 350.0h0.8M89.3 360.2h0.8M71.7 375.3h0.8M64.3 351.2h0.8M80.4 359.6h0.8M76.1 368.9h0.8M81.2 357.3h0.8M82.1 363.4h0.8M79.9 367.0h0.8M70.4 364.4h0.8M63.3 370.9h0.8M69.5 367.7h0.8M78.3 359.8h0.8M69.2 354.9h0.8M69.8 350.8h0.8M77.3 363.7h0.8M63.7 357.6h0.8M81.6 366.3h0.8M72.2 349.4h0.8M70.7 370.7h0.8M68.9 371.9h0.8M79.6 349.0h0.8M77.4 362.8h0.8M74.5 353.4h0.8M64.1 380.3h0.8M61.4 374.5h0.8M77.0 365.7h0.8M72.1 370.8h0.8M78.0 356.8h0.8M61.5 342.0h0.8M91.9 352.2h0.8M85.9 375.3h0.8M62.5 363.3h0.8M80.7 354.1h0.8M70.8 352.2h0.8M73.0 350.4h0.8M84.5 345.8h0.8M86.8 359.1h0.8M69.0 377.9h0.8M79.7 375.3h0.8M73.0 364.1h0.8M75.6 376.3h0.8M71.9 359.5h0.8M81.9 365.1h0.8M68.4 367.5h0.8M76.8 361.6h0.8M75.8 358.5h0.8M72.3 351.3h0.8M75.8 365.9h0.8M92.0 365.4h0.8M80.7 362.8h0.8M70.6 364.0h0.8M80.8 371.9h0.8M78.7 364.0h0.8M79.9 362.2h0.8M69.1 360.5h0.8M75.0 357.5h0.8M76.3 360.3h0.8M71.5 378.0h0.8M81.4 361.0h0.8M65.1 365.9h0.8M69.1 354.2h0.8M80.3 368.0h0.8M84.8 363.9h0.8M74.6 356.6h0.8M76.6 362.6h0.8M61.5 375.2h0.8M73.8 368.1h0.8M61.4 370.2h0.8M91.4 356.5h0.8M78.8 377.2h0.8M83.2 364.4h0.8M67.1 360.0h0.8M73.6 360.8h0.8M74.3 351.7h0.8M81.2 357.7h0.8M80.0 374.6h0.8M63.7 370.1h0.8M79.1 370.2h0.8M66.8 364.1h0.8M85.8 336.2h0.8M84.4 357.4h0.8M83.9 350.5h0.8M66.8 355.2h0.8M75.5 358.1h0.8M78.1 372.5h0.8M76.5 376.1h0.8M73.4 357.3h0.8M72.0 363.3h0.8M65.5 342.0h0.8M73.4 370.0h0.8M64.8 379.6h0.8M72.7 372.7h0.8M73.9 367.3h0.8M75.2 374.2h0.8M75.8 358.0h0.8M76.4 360.7h0.8M71.2 363.6h0.8M76.9 357.3h0.8M83.9 347.3h0.8M51.2 358.0h0.8M78.5 352.5h0.8M85.7 342.9h0.8M75.2 373.0h0.8M71.2 371.1h0.8M77.3 372.3h0.8M76.1 361.7h0.8M70.7 343.7h0.8M79.3 374.6h0.8M66.6 351.0h0.8M90.0 347.2h0.8M87.8 370.7h0.8M85.7 379.6h0.8M68.2 368.8h0.8M84.3 362.3h0.8M83.9 350.8h0.8M85.8 362.1h0.8M71.5 355.5h0.8M48.3 363.0h0.8M73.6 373.1h0.8M81.8 358.7h0.8M81.2 359.6h0.8M80.2 365.3h0.8M73.2 351.9h0.8M71.2 380.4h0.8M69.0 358.4h0.8M78.4 358.3h0.8M78.7 351.1h0.8M61.5 354.9h0.8M83.9 365.7h0.8M74.9 357.9h0.8M69.7 363.3h0.8M81.0 346.4h0.8M71.7 356.6h0.8M71.2 375.6h0.8M72.4 353.7h0.8M75.6 379.3h0.8M85.3 347.5h0.8M72.4 356.3h0.8M76.5 374.7h0.8M77.7 354.5h0.8M72.0 368.0h0.8M68.5 364.5h0.8M81.3 378.2h0.8M66.8 352.6h0.8M82.9 360.3h0.8M73.9 364.2h0.8M63.6 360.3h0.8M74.4 361.8h0.8M82.9 358.6h0.8M72.5 354.7h0.8M77.3 370.6h0.8M76.4 363.7h0.8M76.2 367.0h0.8M84.3 355.5h0.8M71.1 382.2h0.8M84.5 363.1h0.8M67.4 366.3h0.8M71.1 360.1h0.8M62.0 368.6h0.8M65.9 372.4h0.8M70.8 364.1h0.8M82.2 369.1h0.8M64.0 365.1h0.8M76.8 360.4h0.8M65.0 378.6h0.8M70.7 356.8h0.8M80.0 363.7h0.8M88.6 357.0h0.8M76.7 376.3h0.8M90.8 374.7h0.8M74.5 351.2h0.8M58.9 379.3h0.8M72.7 365.0h0.8M71.2 351.3h0.8M77.7 361.2h0.8M77.7 368.6h0.8M75.0 363.2h0.8M68.3 366.5h0.8M85.5 352.3h0.8M86.0 344.6h0.8M61.6 371.1h0.8M76.1 339.5h0.8M66.9 362.8h0.8M76.3 373.8h0.8M83.9 355.3h0.8M76.4 347.9h0.8M84.0 368.1h0.8M83.4 373.8h0.8M103.4 357.4h0.8M80.0 355.0h0.8M73.6 378.4h0.8M62.0 370.5h0.8M75.5 350.8h0.8M77.7 357.5h0.8M67.5 356.4h0.8M63.9 360.8h0.8M79.6 356.8h0.8M77.8 354.0h0.8M83.7 372.4h0.8M77.5 376.0h0.8M64.1 363.8h0.8M71.4 352.1h0.8M75.8 357.0h0.8M74.9 352.3h0.8M68.0 371.7h0.8M79.3 343.5h0.8M72.8 360.1h0.8M64.8 376.6h0.8M74.2 370.1h0.8M69.1 359.3h0.8M59.9 359.3h0.8M92.2 378.6h0.8M54.5 370.7h0.8M68.7 362.1h0.8M75.0 355.8h0.8M76.4 375.1h0.8M81.8 355.9h0.8M89.4 369.0h0.8M78.9 348.2h0.8M77.8 353.3h0.8M74.8 340.9h0.8M70.9 359.6h0.8M76.9 353.6h0.8M69.9 354.5h0.8M75.9 359.9h0.8M61.0 360.6h0.8M84.9 361.4h0.8M80.6 349.1h0.8M84.4 360.4h0.8M72.8 374.2h0.8M64.9 353.3h0.8M70.5 355.0h0.8M86.1 366.5h0.8M70.8 380.6h0.8M73.5 362.9h0.8M72.4 364.4h0.8M63.6 376.4h0.8M70.0 361.6h0.8M84.9 375.6h0.8M74.2 368.9h0.8M78.9 364.2h0.8M88.5 362.3h0.8M76.5 381.2h0.8M69.4 368.8h0.8M58.9 375.6h0.8M92.8 361.3h0.8M70.5 356.6h0.8M88.0 350.0h0.8M72.6 374.0h0.8M79.7 347.4h0.8M84.2 357.7h0.8M73.4 377.3h0.8M84.9 370.6h0.8M60.9 375.2h0.8M65.1 363.8h0.8M85.9 358.7h0.8M77.5 352.1h0.8M74.4 375.4h0.8M79.8 347.5h0.8M69.4 358.4h0.8M68.9 381.8h0.8M82.4 366.1h0.8M65.1 361.1h0.8M78.2 364.2h0.8M82.3 367.3h0.8M76.1 372.4h0.8M76.1 361.8h0.8M57.0 376.6h0.8M74.8 374.7h0.8M77.4 356.9h0.8M63.2 365.2h0.8M78.9 366.3h0.8M79.1 355.5h0.8M72.1 376.6h0.8M66.6 351.4h0.8M88.1 349.8h0.8M75.2 361.3h0.8M70.7 359.5h0.8M74.6 381.1h0.8M61.8 373.8h0.8M78.1 370.5h0.8M72.7 350.8h0.8M85.3 358.5h0.8M69.5 363.6h0.8M68.3 368.0h0.8M74.4 364.3h0.8M84.9 358.0h0.8M58.7 358.0h0.8M86.7 365.5h0.8M89.1 345.3h0.8M65.8 362.3h0.8M67.2 360.3h0.8M83.0 350.4h0.8M61.5 361.3h0.8M77.2 358.5h0.8M88.2 351.8h0.8M80.5 357.6h0.8M66.4 366.8h0.8M75.0 366.8h0.8M70.8 365.9h0.8M77.3 374.0h0.8M77.9 380.1h0.8M75.6 349.6h0.8M81.1 369.8h0.8M77.6 357.0h0.8M73.5 365.9h0.8M64.9 369.9h0.8M68.0 365.9h0.8M67.3 364.9h0.8M82.8 363.1h0.8M78.9 354.8h0.8M72.4 368.9h0.8M76.2 360.9h0.8M92.8 355.6h0.8M85.9 380.6h0.8M84.5 370.9h0.8M86.8 357.9h0.8M88.7 351.5h0.8M89.1 363.4h0.8M95.8 336.3h0.8M86.4 361.4h0.8M81.1 348.9h0.8M60.7 369.1h0.8M91.3 363.9h0.8M101.2 339.7h0.8M76.9 365.5h0.8M82.7 329.9h0.8M78.5 344.5h0.8M67.9 364.0h0.8M64.3 375.2h0.8M66.5 361.7h0.8M87.2 356.5h0.8M64.1 364.7h0.8M63.8 372.2h0.8M52.8 368.0h0.8M86.7 360.8h0.8M73.7 354.9h0.8M79.8 373.9h0.8M88.2 361.1h0.8M75.3 349.4h0.8M61.0 369.9h0.8M89.0 360.1h0.8M79.2 342.3h0.8M81.1 357.7h0.8M67.6 368.7h0.8M73.2 343.4h0.8M77.0 352.9h0.8M53.9 360.2h0.8M78.9 326.8h0.8M83.9 360.3h0.8M49.0 365.6h0.8M71.2 356.9h0.8M65.6 379.9h0.8M63.4 376.2h0.8M70.9 374.0h0.8M91.9 359.5h0.8M61.8 339.8h0.8M68.5 349.5h0.8M86.0 376.6h0.8M79.8 366.9h0.8M82.9 340.3h0.8M100.2 367.4h0.8M84.3 357.0h0.8M91.0 335.7h0.8M75.6 359.9h0.8M84.4 359.5h0.8M63.1 356.0h0.8M95.3 348.8h0.8M58.7 358.4h0.8M59.6 356.6h0.8M90.4 366.9h0.8M93.4 341.4h0.8M70.3 348.6h0.8M62.7 360.9h0.8M74.9 343.9h0.8M78.6 368.2h0.8M62.9 372.5h0.8M98.6 361.0h0.8M89.6 357.4h0.8M69.3 382.9h0.8M86.4 331.3h0.8M92.6 356.6h0.8M92.0 356.1h0.8M77.3 362.7h0.8M71.7 353.2h0.8M66.0 375.1h0.8M55.8 369.0h0.8M106.1 350.5h0.8M90.1 346.7h0.8M80.2 353.5h0.8M71.7 347.0h0.8M91.3 346.9h0.8M99.6 363.4h0.8M89.2 369.8h0.8M89.4 359.2h0.8M75.6 344.9h0.8M78.6 354.3h0.8M41.7 377.5h0.8M90.4 356.4h0.8M80.8 357.6h0.8M69.4 366.0h0.8M73.2 340.3h0.8M83.3 361.6h0.8M86.1 369.3h0.8M84.4 355.7h0.8M69.5 334.7h0.8M68.4 361.2h0.8M66.5 360.8h0.8M85.0 334.3h0.8M75.0 349.8h0.8M85.5 359.1h0.8M82.2 361.4h0.8M73.6 351.3h0.8M68.5 330.9h0.8M81.8 372.7h0.8M79.3 339.9h0.8M89.2 350.9h0.8M75.1 357.3h0.8M64.2 345.1h0.8M77.6 355.1h0.8M67.3 358.0h0.8M84.9 353.6h0.8M47.2 383.3h0.8M50.6 373.8h0.8M69.5 351.7h0.8M66.1 374.2h0.8M85.0 367.9h0.8M59.9 367.7h0.8M71.4 357.3h0.8M48.8 355.5h0.8M55.1 380.8h0.8M100.3 337.2h0.8M86.3 349.1h0.8M86.0 367.5h0.8M98.9 340.8h0.8M55.8 361.5h0.8M77.8 372.6h0.8M66.7 338.1h0.8M72.5 356.4h0.8M61.0 373.9h0.8M74.3 368.7h0.8M65.5 351.2h0.8M85.9 350.9h0.8M77.9 356.6h0.8M71.0 367.2h0.8M71.9 366.9h0.8M69.9 358.6h0.8M99.7 347.9h0.8M75.3 372.7h0.8M95.2 357.5h0.8M78.5 360.6h0.8M80.2 347.2h0.8M87.2 354.0h0.8M84.4 350.4h0.8M72.2 342.7h0.8M78.6 359.8h0.8M51.9 337.2h0.8M68.0 369.7h0.8M103.6 361.8h0.8M84.1 364.0h0.8M56.9 342.6h0.8M56.8 363.2h0.8M66.5 369.4h0.8M65.2 330.6h0.8M73.9 345.6h0.8M68.3 350.5h0.8M66.6 362.3h0.8M99.4 367.9h0.8M65.0 362.2h0.8M60.6 350.4h0.8M83.7 348.6h0.8M76.5 342.5h0.8M66.7 360.9h0.8M80.6 344.7h0.8M91.1 356.7h0.8M62.4 350.3h0.8M74.5 380.9h0.8M72.3 347.7h0.8M72.9 354.1h0.8M72.8 363.5h0.8M52.1 360.2h0.8M86.3 353.3h0.8M79.1 349.5h0.8M105.3 359.4h0.8M85.7 361.2h0.8M81.5 346.1h0.8M92.7 369.3h0.8M74.1 350.6h0.8M59.5 367.3h0.8M67.7 359.5h0.8M88.5 347.0h0.8M83.9 346.0h0.8M68.1 366.3h0.8M64.7 365.8h0.8M66.2 354.5h0.8M48.2 357.7h0.8M80.1 365.3h0.8M88.8 317.4h0.8M91.7 340.7h0.8M77.6 352.6h0.8M91.6 381.4h0.8M90.7 349.5h0.8M86.9 366.5h0.8M84.4 322.8h0.8M79.0 338.2h0.8M71.7 357.1h0.8M90.7 330.3h0.8M86.8 334.5h0.8M73.2 350.0h0.8M60.2 352.1h0.8M83.0 358.6h0.8M69.3 371.4h0.8M70.9 375.7h0.8M79.7 347.5h0.8M74.6 350.1h0.8M68.4 374.6h0.8M86.8 361.6h0.8M86.1 366.3h0.8M64.2 376.9h0.8M73.6 342.8h0.8M64.6 380.1h0.8M82.9 350.6h0.8M100.1 355.2h0.8M72.0 358.5h0.8M109.9 357.1h0.8M58.0 342.9h0.8M83.2 351.3h0.8M67.3 351.5h0.8M72.1 374.7h0.8M72.0 353.5h0.8M91.0 334.9h0.8M69.9 346.8h0.8M82.0 366.8h0.8M79.1 349.6h0.8M92.3 369.7h0.8M50.4 361.3h0.8M104.4 371.0h0.8M96.1 367.0h0.8M84.0 372.6h0.8M82.2 354.5h0.8M72.8 363.7h0.8M90.7 367.7h0.8M90.8 365.7h0.8M81.0 349.0h0.8M75.5 369.6h0.8M69.2 368.8h0.8M74.3 354.2h0.8M89.4 337.6h0.8M67.6 368.8h0.8M86.7 369.3h0.8M89.7 350.4h0.8M92.9 360.0h0.8M88.9 339.3h0.8M80.0 349.9h0.8M99.2 365.5h0.8M78.8 354.5h0.8M80.4 332.5h0.8M74.9 340.8h0.8M68.3 359.3h0.8M81.1 352.0h0.8M75.9 338.8h0.8M86.1 352.0h0.8M71.9 350.6h0.8M66.2 378.0h0.8M84.7 376.4h0.8M94.8 354.9h0.8M78.1 362.9h0.8M85.5 335.5h0.8M77.6 357.7h0.8M60.3 372.1h0.8M73.1 358.4h0.8M87.3 341.3h0.8M91.7 371.7h0.8M61.9 367.7h0.8M86.2 348.1h0.8M104.0 369.7h0.8M69.7 366.9h0.8M74.1 344.6h0.8M57.3 338.5h0.8M77.8 350.6h0.8M49.0 362.1h0.8M66.7 365.6h0.8M64.5 361.3h0.8M81.2 368.7h0.8M47.4 380.2h0.8M78.3 356.1h0.8M82.7 351.2h0.8M74.9 356.1h0.8M96.3 341.5h0.8M90.9 341.9h0.8M57.9 360.0h0.8M80.9 358.3h0.8M74.5 354.4h0.8M83.6 363.4h0.8M86.1 346.2h0.8M66.3 361.8h0.8M95.6 350.8h0.8M79.6 372.8h0.8M72.7 353.6h0.8M66.4 363.5h0.8M69.5 353.3h0.8M88.5 347.7h0.8M79.7 365.9h0.8M94.2 374.3h0.8M98.1 357.3h0.8M89.6 360.8h0.8M105.0 364.4h0.8M51.2 362.6h0.8M67.4 374.1h0.8M69.6 368.5h0.8M67.7 347.3h0.8M82.2 353.5h0.8M85.3 333.5h0.8M81.7 362.1h0.8M93.9 364.0h0.8M88.0 357.8h0.8M59.2 367.5h0.8M66.1 370.5h0.8M99.4 361.4h0.8M60.1 374.6h0.8M76.3 377.9h0.8M96.6 374.8h0.8M73.5 353.2h0.8M76.8 358.8h0.8M79.7 352.5h0.8M95.6 349.2h0.8M99.9 352.5h0.8M68.2 364.1h0.8M76.1 350.5h0.8M92.6 372.2h0.8M71.3 360.0h0.8M58.2 375.7h0.8M99.3 371.2h0.8M81.7 375.5h0.8M76.6 370.2h0.8M78.0 372.5h0.8M47.5 375.2h0.8M97.8 331.7h0.8M93.1 344.6h0.8M89.4 346.9h0.8M63.3 367.9h0.8M91.5 357.2h0.8M84.3 350.8h0.8M68.5 348.7h0.8M59.9 361.9h0.8M72.7 372.1h0.8M85.0 345.3h0.8M67.5 366.8h0.8M48.9 376.3h0.8M52.8 360.5h0.8M88.8 363.9h0.8M98.2 340.6h0.8M77.1 337.7h0.8M80.2 347.4h0.8M77.5 349.6h0.8M64.0 330.9h0.8M71.3 362.2h0.8M89.6 350.5h0.8M67.7 355.7h0.8M85.9 362.7h0.8M74.8 362.0h0.8M70.6 355.3h0.8M79.1 359.1h0.8M83.9 350.2h0.8M78.2 376.7h0.8M86.5 324.7h0.8M72.1 373.2h0.8M62.0 353.8h0.8M82.2 364.2h0.8M67.8 358.6h0.8M86.0 355.1h0.8M87.2 370.6h0.8M94.3 329.9h0.8M56.6 364.3h0.8M89.1 370.8h0.8M90.3 350.4h0.8M49.0 370.9h0.8M105.7 345.0h0.8M82.1 353.4h0.8M87.8 368.9h0.8M89.1 363.1h0.8M70.7 367.4h0.8M70.6 372.9h0.8M104.5 380.1h0.8M87.1 328.6h0.8M84.0 344.7h0.8M74.4 359.3h0.8M52.1 380.2h0.8M88.4 347.2h0.8M77.9 350.6h0.8M71.9 371.4h0.8M58.2 363.5h0.8M72.3 365.7h0.8M70.5 340.5h0.8M68.8 349.5h0.8M75.0 370.1h0.8M48.7 358.0h0.8M74.1 366.9h0.8M71.7 357.5h0.8M45.2 348.2h0.8M95.9 348.6h0.8M84.0 367.6h0.8M77.0 350.6h0.8M72.0 368.6h0.8M102.5 346.5h0.8M95.9 353.2h0.8M81.1 365.1h0.8M59.6 362.6h0.8M71.3 365.5h0.8M80.5 355.9h0.8M83.2 353.4h0.8M70.2 356.7h0.8M68.4 371.5h0.8M92.4 349.8h0.8M60.8 353.9h0.8M72.0 359.1h0.8M74.1 360.3h0.8M75.9 364.3h0.8M100.3 334.1h0.8M78.9 370.1h0.8M69.1 374.9h0.8M72.8 379.5h0.8M76.5 348.3h0.8M71.8 378.0h0.8M85.6 331.6h0.8M68.3 372.7h0.8M98.2 342.8h0.8M74.1 374.5h0.8M76.8 356.7h0.8M78.6 349.0h0.8M97.0 380.3h0.8M91.3 341.6h0.8M78.5 353.7h0.8M93.3 339.6h0.8M84.6 351.8h0.8M93.1 341.7h0.8M82.4 339.0h0.8M79.5 347.4h0.8M78.4 348.4h0.8M77.8 346.6h0.8M80.5 349.7h0.8M72.0 341.9h0.8M67.0 371.1h0.8M84.6 371.1h0.8M91.0 333.0h0.8M88.2 371.0h0.8M79.5 358.3h0.8M78.0 357.9h0.8M71.6 356.1h0.8M81.5 347.9h0.8M82.0 374.2h0.8M74.4 358.1h0.8M71.0 376.4h0.8M69.9 365.9h0.8M86.2 357.6h0.8M89.5 365.6h0.8M89.2 351.3h0.8M69.1 351.4h0.8M72.4 347.0h0.8M79.1 352.8h0.8M43.8 380.4h0.8M67.9 362.5h0.8M71.6 360.2h0.8M97.9 360.3h0.8M52.4 358.3h0.8M76.3 354.5h0.8M94.6 342.3h0.8M73.6 364.7h0.8M88.7 376.8h0.8M93.0 362.9h0.8M91.8 366.2h0.8M69.5 358.0h0.8M72.0 381.2h0.8M100.4 347.1h0.8M81.4 358.3h0.8M93.9 349.8h0.8M68.4 353.7h0.8M93.4 365.6h0.8M50.6 364.9h0.8M70.6 362.3h0.8M85.0 355.1h0.8M68.2 379.8h0.8M87.6 348.7h0.8M83.2 372.1h0.8M79.8 359.2h0.8M81.3 366.4h0.8M107.8 348.4h0.8M75.0 362.7h0.8M90.6 348.9h0.8M54.0 376.6h0.8M97.3 344.2h0.8M77.3 359.0h0.8M96.1 345.3h0.8M83.0 366.5h0.8M68.3 333.3h0.8M95.5 375.9h0.8M93.9 379.8h0.8M72.8 361.3h0.8M97.6 360.9h0.8M85.4 339.8h0.8M84.5 356.6h0.8M64.8 348.7h0.8M104.0 358.7h0.8M77.1 360.1h0.8M83.7 357.4h0.8M94.7 359.0h0.8M69.7 368.6h0.8M67.8 368.2h0.8M90.5 361.8h0.8M71.9 352.1h0.8M61.1 375.5h0.8M86.6 375.4h0.8M87.5 342.8h0.8M66.1 367.8h0.8M81.0 353.2h0.8M78.2 353.5h0.8M74.9 364.4h0.8M64.3 380.9h0.8M63.1 378.9h0.8M60.1 377.7h0.8M67.7 374.2h0.8M55.7 371.6h0.8M85.8 357.1h0.8M99.8 359.5h0.8M84.2 361.4h0.8M73.3 375.3h0.8M73.6 341.4h0.8M86.2 334.1h0.8M78.3 345.2h0.8M61.9 354.4h0.8M95.0 342.6h0.8M52.9 372.4h0.8M78.6 357.6h0.8M75.0 377.8h0.8M90.1 361.1h0.8M84.2 366.0h0.8M41.8 363.3h0.8M79.9 333.4h0.8M90.7 346.2h0.8M91.7 373.4h0.8M66.9 377.1h0.8M84.9 362.6h0.8M69.8 360.4h0.8M67.0 363.1h0.8M77.5 356.9h0.8M78.1 347.7h0.8M76.3 358.8h0.8M104.0 357.6h0.8M65.9 371.3h0.8M78.3 341.0h0.8M91.7 337.2h0.8M95.3 340.6h0.8M70.8 357.8h0.8M82.6 352.3h0.8M69.7 362.6h0.8M54.3 370.9h0.8M79.7 348.4h0.8M81.7 358.0h0.8M70.0 362.3h0.8M47.1 362.5h0.8M75.8 361.9h0.8M78.7 333.0h0.8M86.8 368.0h0.8M73.5 362.2h0.8M76.8 351.2h0.8M87.2 358.6h0.8M72.5 374.0h0.8M89.4 354.8h0.8M52.8 356.2h0.8M70.4 357.7h0.8M66.1 350.1h0.8M87.0 345.7h0.8M79.0 348.5h0.8M90.0 351.6h0.8M59.8 362.8h0.8M71.8 357.6h0.8M85.0 368.9h0.8M74.6 359.9h0.8M97.4 354.6h0.8M46.4 362.0h0.8M71.1 363.0h0.8M104.6 356.6h0.8M90.7 378.8h0.8M81.5 346.0h0.8M92.7 342.1h0.8M91.2 337.2h0.8M71.8 374.3h0.8M70.1 369.4h0.8M69.8 365.4h0.8M94.0 347.6h0.8M71.9 351.4h0.8M98.6 354.6h0.8M86.5 333.8h0.8M79.8 366.2h0.8M63.1 349.5h0.8M66.9 368.9h0.8M101.0 349.6h0.8M63.5 343.4h0.8M101.6 327.6h0.8M86.3 352.8h0.8M70.0 353.7h0.8M75.9 364.1h0.8M94.6 351.9h0.8M74.6 358.6h0.8M68.0 355.7h0.8M84.6 348.3h0.8M99.7 358.5h0.8M81.8 365.8h0.8M51.1 374.7h0.8M59.1 373.1h0.8M81.8 357.4h0.8M77.1 359.0h0.8M88.0 372.7h0.8M86.3 323.8h0.8M92.7 346.3h0.8M80.2 362.4h0.8M60.5 379.4h0.8M95.0 346.0h0.8M79.9 358.9h0.8M79.9 366.5h0.8M75.3 353.5h0.8M72.9 354.5h0.8M74.2 343.4h0.8M87.3 343.1h0.8M87.1 352.7h0.8M75.0 346.2h0.8M60.5 336.1h0.8M72.5 360.7h0.8M61.3 370.2h0.8M71.7 350.2h0.8M60.7 383.2h0.8M63.7 369.4h0.8M64.5 358.0h0.8M81.2 349.5h0.8M92.5 353.9h0.8M80.1 376.1h0.8M81.7 344.1h0.8M83.9 362.6h0.8M87.6 342.5h0.8M69.2 370.2h0.8M69.5 348.8h0.8M87.0 359.5h0.8M54.3 357.0h0.8M71.2 359.7h0.8M102.3 361.1h0.8M62.7 357.4h0.8M89.1 348.0h0.8M90.2 340.2h0.8M62.2 353.6h0.8M80.0 362.7h0.8M87.3 353.2h0.8M75.4 367.9h0.8M91.5 356.5h0.8M82.9 355.5h0.8M77.4 358.2h0.8M105.7 343.1h0.8M74.6 363.7h0.8M68.8 361.1h0.8M83.7 359.6h0.8M92.0 328.6h0.8M81.1 348.8h0.8M76.6 346.0h0.8M82.4 365.8h0.8M82.4 369.8h0.8M85.7 373.7h0.8M59.3 371.4h0.8M80.7 344.3h0.8M87.4 358.9h0.8M75.0 364.7h0.8M80.8 347.2h0.8M81.8 356.9h0.8M108.4 326.5h0.8M67.3 357.6h0.8M71.2 378.6h0.8M58.1 353.6h0.8M71.9 367.3h0.8M56.9 343.0h0.8M90.0 338.3h0.8M101.7 352.3h0.8M94.9 350.6h0.8M98.5 382.0h0.8M90.1 368.9h0.8M72.5 344.5h0.8M85.5 370.8h0.8M91.9 359.3h0.8M72.7 364.2h0.8M77.2 361.0h0.8M85.0 352.2h0.8M67.9 357.0h0.8M108.0 333.9h0.8M89.2 354.4h0.8M89.4 351.2h0.8M77.5 352.9h0.8M81.5 359.8h0.8M105.1 347.6h0.8M71.2 371.3h0.8M100.6 346.0h0.8M91.9 369.8h0.8M80.8 351.3h0.8M50.6 353.0h0.8M80.2 352.2h0.8M91.9 325.5h0.8M78.7 362.8h0.8M70.5 382.9h0.8M97.4 348.9h0.8M75.3 362.8h0.8M104.6 359.0h0.8M64.0 379.4h0.8M76.1 340.6h0.8M96.2 352.1h0.8M103.8 347.5h0.8M82.7 358.6h0.8M69.6 364.9h0.8M75.7 363.1h0.8M78.6 359.2h0.8M90.1 349.4h0.8M100.5 351.4h0.8M71.7 345.4h0.8M77.6 370.3h0.8M64.2 348.2h0.8M95.0 347.7h0.8M80.2 365.7h0.8M95.7 356.7h0.8M84.3 351.6h0.8M75.4 340.4h0.8M77.4 342.9h0.8M94.9 365.0h0.8M70.5 357.3h0.8M69.3 358.6h0.8M74.1 376.5h0.8M81.0 354.0h0.8M68.7 351.7h0.8M87.7 344.7h0.8M86.3 348.2h0.8M68.1 366.1h0.8M87.4 377.7h0.8M94.3 364.1h0.8M76.1 341.0h0.8M74.9 359.3h0.8M102.9 351.8h0.8M61.7 360.8h0.8M79.2 355.7h0.8M92.5 347.2h0.8M76.1 331.0h0.8M59.0 369.8h0.8M83.3 348.5h0.8M103.0 366.2h0.8M80.8 369.7h0.8M105.8 339.6h0.8M77.0 361.0h0.8M72.2 376.0h0.8M96.5 341.3h0.8M89.0 364.8h0.8M103.2 340.2h0.8M82.2 364.9h0.8M56.5 347.5h0.8M71.1 365.9h0.8M93.5 356.7h0.8M92.5 370.1h0.8M58.3 362.2h0.8M70.6 367.1h0.8M77.0 357.1h0.8M61.5 363.9h0.8M60.8 352.0h0.8M64.1 352.8h0.8M89.7 344.1h0.8M98.1 354.2h0.8M102.1 358.1h0.8M71.0 368.3h0.8M73.8 367.0h0.8M86.9 354.9h0.8M80.6 354.3h0.8M79.0 348.1h0.8M69.6 367.6h0.8M68.1 364.8h0.8M74.8 354.1h0.8M86.5 364.2h0.8M80.8 333.4h0.8M56.1 354.0h0.8M60.8 377.2h0.8M83.3 337.2h0.8M93.5 355.3h0.8M80.9 341.3h0.8M52.6 367.2h0.8M95.7 361.8h0.8M95.1 326.8h0.8M75.6 360.8h0.8M72.3 343.1h0.8M65.4 364.5h0.8M84.6 351.9h0.8M65.6 376.4h0.8M53.6 349.9h0.8M84.0 351.5h0.8M78.0 345.3h0.8M74.9 345.5h0.8M83.8 353.5h0.8M65.1 355.2h0.8M73.0 350.7h0.8M84.2 382.2h0.8M79.7 364.4h0.8M84.8 359.7h0.8M69.0 347.3h0.8M71.9 366.2h0.8M87.9 377.1h0.8M88.9 359.5h0.8M57.4 345.0h0.8M86.3 359.5h0.8M73.5 362.5h0.8M92.2 347.2h0.8M81.0 365.5h0.8M61.0 379.9h0.8M71.6 375.5h0.8M43.7 381.9h0.8M93.9 349.6h0.8M90.7 367.9h0.8M77.3 375.1h0.8M85.3 350.9h0.8M64.8 365.3h0.8M88.4 369.3h0.8M80.4 361.5h0.8M70.0 377.3h0.8M93.1 344.7h0.8M80.6 363.1h0.8M70.7 357.0h0.8M71.3 371.3h0.8M68.0 377.5h0.8M61.2 365.6h0.8M80.1 358.7h0.8M89.3 354.0h0.8M78.4 353.3h0.8M83.9 351.7h0.8M101.6 348.5h0.8M78.9 369.1h0.8M68.2 376.4h0.8M92.4 366.8h0.8M83.0 357.0h0.8M94.1 331.7h0.8" stroke="#000" stroke-opacity="0.65" stroke-width="0.8" fill="none"/>
<path d="M39.90 291.00H134.00V384.60" fill="none" stroke="#2a2a2a" stroke-width="0.95"/>
<path d="M39.90 290.60V384.60H134.40" fill="none" stroke="#1a1a1a" stroke-width="1.1"/>
<path d="M39.9 384.60h-2.0M39.90 384.6v2.0M39.9 377.56h-1.3M46.98 384.6v1.3M39.9 373.44h-1.3M51.12 384.6v1.3M39.9 370.51h-1.3M54.06 384.6v1.3M39.9 368.24h-1.3M56.34 384.6v1.3M39.9 366.39h-1.3M58.21 384.6v1.3M39.9 364.82h-1.3M59.78 384.6v1.3M39.9 363.47h-1.3M61.15 384.6v1.3M39.9 362.27h-1.3M62.35 384.6v1.3M39.9 361.20h-2.0M63.42 384.6v2.0M39.9 354.16h-1.3M70.51 384.6v1.3M39.9 350.04h-1.3M74.65 384.6v1.3M39.9 347.11h-1.3M77.59 384.6v1.3M39.9 344.84h-1.3M79.87 384.6v1.3M39.9 342.99h-1.3M81.73 384.6v1.3M39.9 341.42h-1.3M83.31 384.6v1.3M39.9 340.07h-1.3M84.67 384.6v1.3M39.9 338.87h-1.3M85.87 384.6v1.3M39.9 337.80h-2.0M86.95 384.6v2.0M39.9 330.76h-1.3M94.03 384.6v1.3M39.9 326.64h-1.3M98.17 384.6v1.3M39.9 323.71h-1.3M101.11 384.6v1.3M39.9 321.44h-1.3M103.39 384.6v1.3M39.9 319.59h-1.3M105.26 384.6v1.3M39.9 318.02h-1.3M106.83 384.6v1.3M39.9 316.67h-1.3M108.20 384.6v1.3M39.9 315.47h-1.3M109.40 384.6v1.3M39.9 314.40h-2.0M110.47 384.6v2.0M39.9 307.36h-1.3M117.56 384.6v1.3M39.9 303.24h-1.3M121.70 384.6v1.3M39.9 300.31h-1.3M124.64 384.6v1.3M39.9 298.04h-1.3M126.92 384.6v1.3M39.9 296.19h-1.3M128.78 384.6v1.3M39.9 294.62h-1.3M130.36 384.6v1.3M39.9 293.27h-1.3M131.72 384.6v1.3M39.9 292.07h-1.3M132.92 384.6v1.3M39.9 291.00h-2.0M134.00 384.6v2.0" stroke="#222" stroke-width="0.6" fill="none"/>
<text x="31.30" y="387.00" font-size="4.6" fill="#333">10<tspan dy="-2" font-size="3.6">0</tspan></text>
<text x="37.30" y="392.20" font-size="4.6" fill="#333">10<tspan dy="-2" font-size="3.6">0</tspan></text>
<text x="31.30" y="363.60" font-size="4.6" fill="#333">10<tspan dy="-2" font-size="3.6">1</tspan></text>
<text x="60.82" y="392.20" font-size="4.6" fill="#333">10<tspan dy="-2" font-size="3.6">1</tspan></text>
<text x="31.30" y="340.20" font-size="4.6" fill="#333">10<tspan dy="-2" font-size="3.6">2</tspan></text>
<text x="84.35" y="392.20" font-size="4.6" fill="#333">10<tspan dy="-2" font-size="3.6">2</tspan></text>
<text x="31.30" y="316.80" font-size="4.6" fill="#333">10<tspan dy="-2" font-size="3.6">3</tspan></text>
<text x="107.88" y="392.20" font-size="4.6" fill="#333">10<tspan dy="-2" font-size="3.6">3</tspan></text>
<text x="31.30" y="293.40" font-size="4.6" fill="#333">10<tspan dy="-2" font-size="3.6">4</tspan></text>
<text x="131.40" y="392.20" font-size="4.6" fill="#333">10<tspan dy="-2" font-size="3.6">4</tspan></text>
<g clip-path="url(#c3)">
<ellipse cx="191" cy="360" rx="17" ry="21" fill="url(#g7)" transform="rotate(10 191 360)"/>
<ellipse cx="208" cy="322" rx="8.5" ry="5.6" fill="url(#g8)" transform="rotate(-30 208 322)"/>
<path d="M195.4 360.5h0.8M197.2 364.8h0.8M188.0 356.1h0.8M186.6 362.2h0.8M191.7 357.3h0.8M181.8 344.5h0.8M187.0 363.7h0.8M188.3 366.4h0.8M194.9 352.0h0.8M193.4 358.2h0.8M186.4 354.9h0.8M186.5 357.6h0.8M185.1 358.7h0.8M195.8 363.0h0.8M183.5 363.9h0.8M180.7 370.0h0.8M191.7 361.8h0.8M187.1 366.2h0.8M198.0 356.1h0.8M185.0 369.2h0.8M186.4 357.9h0.8M197.9 339.4h0.8M191.5 354.9h0.8M183.4 362.1h0.8M187.1 367.3h0.8M193.1 348.5h0.8M187.8 361.4h0.8M201.2 359.7h0.8M191.1 365.7h0.8M202.1 357.2h0.8M179.4 356.6h0.8M188.1 369.9h0.8M182.7 342.8h0.8M177.9 349.2h0.8M187.5 354.0h0.8M190.5 373.2h0.8M190.1 355.4h0.8M197.0 361.6h0.8M179.3 370.6h0.8M190.9 348.3h0.8M188.1 375.4h0.8M187.7 368.8h0.8M189.5 355.6h0.8M188.2 371.2h0.8M193.1 360.7h0.8M191.4 367.5h0.8M201.3 367.3h0.8M188.9 366.5h0.8M192.8 359.1h0.8M184.4 358.0h0.8M187.8 352.7h0.8M208.6 344.5h0.8M187.7 367.0h0.8M198.5 354.2h0.8M185.0 348.9h0.8M190.7 368.5h0.8M191.8 366.4h0.8M187.3 360.2h0.8M192.6 364.1h0.8M188.6 362.1h0.8M191.6 369.8h0.8M184.1 365.0h0.8M195.6 347.0h0.8M186.1 355.0h0.8M199.2 363.1h0.8M189.4 358.0h0.8M194.5 363.8h0.8M180.3 360.7h0.8M186.5 366.4h0.8M187.0 376.9h0.8M190.8 362.0h0.8M206.2 361.8h0.8M197.3 358.2h0.8M189.1 360.3h0.8M193.2 366.4h0.8M185.3 358.8h0.8M211.7 363.7h0.8M195.0 359.2h0.8M212.1 355.6h0.8M187.7 348.8h0.8M195.4 345.2h0.8M193.8 361.5h0.8M200.6 360.2h0.8M198.3 371.3h0.8M185.7 338.7h0.8M196.6 361.2h0.8M200.8 338.3h0.8M200.9 363.0h0.8M186.6 350.9h0.8M187.5 351.9h0.8M180.7 354.0h0.8M194.5 370.7h0.8M178.8 353.6h0.8M177.4 369.6h0.8M183.5 351.3h0.8M193.9 354.3h0.8M193.0 367.1h0.8M199.0 350.8h0.8M195.8 369.7h0.8M184.7 379.2h0.8M186.4 354.0h0.8M195.0 355.1h0.8M188.7 361.8h0.8M190.6 369.4h0.8M187.3 355.6h0.8M189.7 349.6h0.8M190.4 353.1h0.8M193.8 363.1h0.8M202.5 356.4h0.8M195.3 350.7h0.8M192.7 360.2h0.8M186.3 354.5h0.8M180.6 365.1h0.8M182.2 361.1h0.8M191.4 345.2h0.8M202.7 355.4h0.8M191.9 345.8h0.8M192.0 360.8h0.8M181.2 356.2h0.8M195.5 365.9h0.8M192.6 363.1h0.8M196.9 369.6h0.8M187.2 365.6h0.8M185.7 368.1h0.8M185.0 363.1h0.8M195.8 358.7h0.8M196.7 357.5h0.8M201.0 356.2h0.8M206.7 358.7h0.8M190.8 365.8h0.8M188.5 351.0h0.8M183.5 375.8h0.8M192.8 347.4h0.8M188.7 370.1h0.8M189.7 353.1h0.8M197.8 358.3h0.8M190.1 375.1h0.8M183.8 353.4h0.8M190.5 346.1h0.8M195.3 347.4h0.8M186.7 358.1h0.8M180.5 371.5h0.8M191.6 367.2h0.8M190.9 362.0h0.8M194.6 350.8h0.8M178.7 369.5h0.8M190.2 360.7h0.8M193.4 357.5h0.8M188.5 358.3h0.8M185.1 369.5h0.8M188.4 356.6h0.8M187.7 353.4h0.8M185.8 371.1h0.8M181.3 380.0h0.8M186.6 340.3h0.8M198.4 349.6h0.8M184.4 363.5h0.8M188.9 358.1h0.8M191.7 380.9h0.8M194.0 361.9h0.8M190.8 361.6h0.8M191.4 352.8h0.8M182.7 361.4h0.8M183.2 360.4h0.8M190.4 346.2h0.8M196.5 363.9h0.8M181.9 355.2h0.8M189.2 352.5h0.8M193.6 358.8h0.8M197.2 358.2h0.8M193.6 354.5h0.8M193.1 364.9h0.8M184.2 364.0h0.8M187.7 366.8h0.8M184.7 358.3h0.8M188.1 362.7h0.8M194.9 354.2h0.8M193.0 353.6h0.8M194.1 361.2h0.8M183.5 360.2h0.8M193.1 361.0h0.8M202.1 374.9h0.8M196.8 366.9h0.8M187.7 339.1h0.8M194.5 351.0h0.8M194.2 364.2h0.8M193.1 364.6h0.8M187.4 359.0h0.8M191.0 365.6h0.8M188.2 368.5h0.8M186.2 357.7h0.8M185.9 365.2h0.8M186.0 340.8h0.8M190.9 354.3h0.8M198.6 357.0h0.8M196.8 362.5h0.8M197.3 371.2h0.8M188.1 367.4h0.8M190.4 363.6h0.8M187.5 366.3h0.8M188.0 365.4h0.8M198.5 366.1h0.8M188.6 370.0h0.8M180.6 370.8h0.8M182.4 361.4h0.8M183.9 360.2h0.8M186.8 359.7h0.8M204.2 370.4h0.8M197.3 367.1h0.8M190.6 363.9h0.8M184.1 358.4h0.8M196.0 353.8h0.8M193.5 356.9h0.8M205.1 353.0h0.8M190.6 371.2h0.8M194.3 375.4h0.8M190.3 369.1h0.8M199.8 356.7h0.8M196.3 366.3h0.8M192.0 368.5h0.8M193.6 356.7h0.8M191.8 346.2h0.8M189.9 369.4h0.8M189.2 375.4h0.8M194.8 352.0h0.8M195.0 359.0h0.8M194.6 355.2h0.8M192.8 361.3h0.8M186.6 368.0h0.8M198.0 359.0h0.8M195.6 370.2h0.8M192.5 351.4h0.8M189.4 357.1h0.8M178.7 348.0h0.8M196.1 368.2h0.8M189.1 348.7h0.8M187.7 360.8h0.8M188.9 364.3h0.8M188.7 349.1h0.8M185.7 363.9h0.8M197.5 366.3h0.8M194.6 365.1h0.8M194.5 359.5h0.8M177.1 354.4h0.8M199.9 354.6h0.8M184.7 368.5h0.8M186.8 358.4h0.8M189.1 350.7h0.8M191.4 366.4h0.8M178.1 358.1h0.8M184.1 377.6h0.8M196.0 360.2h0.8M196.1 361.5h0.8M185.8 341.5h0.8M182.9 354.6h0.8M196.3 347.4h0.8M197.6 349.8h0.8M188.9 367.2h0.8M187.4 348.9h0.8M187.1 354.2h0.8" stroke="#fff" stroke-opacity="0.8" stroke-width="0.8" fill="none"/>
</g>
<path d="M193.1 352.7h0.8M191.2 357.1h0.8M199.9 361.8h0.8M186.6 378.9h0.8M190.0 358.9h0.8M193.8 370.2h0.8M189.7 360.8h0.8M197.3 367.2h0.8M195.1 356.6h0.8M190.2 341.8h0.8M178.5 361.7h0.8M196.2 346.2h0.8M193.1 340.8h0.8M188.8 380.2h0.8M198.3 379.2h0.8M191.3 352.5h0.8M198.1 365.4h0.8M193.4 374.9h0.8M182.6 361.3h0.8M184.5 368.9h0.8M198.5 371.7h0.8M208.9 349.9h0.8M199.3 360.1h0.8M202.4 372.2h0.8M200.2 374.1h0.8M183.4 366.7h0.8M196.5 359.6h0.8M190.0 369.4h0.8M183.6 351.2h0.8M212.7 366.2h0.8M187.8 358.2h0.8M195.0 367.2h0.8M176.2 357.9h0.8M188.1 352.6h0.8M185.1 365.0h0.8M183.6 356.0h0.8M208.4 358.8h0.8M192.3 368.8h0.8M184.1 350.1h0.8M188.7 369.9h0.8M191.9 366.4h0.8M172.8 357.1h0.8M201.8 371.8h0.8M189.7 360.7h0.8M188.8 361.9h0.8M192.7 342.4h0.8M198.8 362.0h0.8M191.1 350.5h0.8M194.5 361.3h0.8M191.4 379.7h0.8M181.0 364.4h0.8M175.0 372.4h0.8M194.4 374.6h0.8M183.3 359.5h0.8M186.5 364.6h0.8M166.8 368.1h0.8M172.0 356.6h0.8M188.7 360.5h0.8M180.9 366.3h0.8M177.7 347.2h0.8M193.4 356.4h0.8M184.6 356.2h0.8M195.7 359.1h0.8M176.1 359.7h0.8M185.8 353.9h0.8M201.8 335.0h0.8M182.8 361.4h0.8M191.7 365.6h0.8M194.4 356.2h0.8M186.6 357.0h0.8M177.3 367.2h0.8M188.6 378.7h0.8M195.1 357.0h0.8M190.3 350.6h0.8M190.0 379.9h0.8M190.3 358.4h0.8M195.7 370.5h0.8M200.5 359.2h0.8M190.8 360.0h0.8M184.0 366.1h0.8M193.6 345.2h0.8M186.9 368.1h0.8M197.9 370.7h0.8M192.0 357.0h0.8M196.2 360.1h0.8M191.4 365.3h0.8M190.9 374.0h0.8M185.2 361.8h0.8M200.7 363.4h0.8M190.4 367.3h0.8M184.7 357.9h0.8M200.3 355.4h0.8M191.8 360.9h0.8M185.3 371.7h0.8M202.6 358.4h0.8M178.3 363.7h0.8M185.6 359.0h0.8M190.7 355.3h0.8M189.7 343.9h0.8M185.7 377.3h0.8M199.3 357.7h0.8M192.7 347.3h0.8M188.4 372.7h0.8M188.9 363.4h0.8M195.6 365.1h0.8M192.4 359.2h0.8M177.0 359.7h0.8M202.4 372.4h0.8M191.2 368.8h0.8M194.8 357.8h0.8M197.6 381.7h0.8M203.9 356.8h0.8M188.3 353.1h0.8M196.2 360.5h0.8M199.1 360.4h0.8M202.0 366.4h0.8M195.3 348.0h0.8M201.0 369.7h0.8M194.4 340.9h0.8M199.0 343.1h0.8M195.0 356.2h0.8M195.4 371.9h0.8M196.3 360.1h0.8M186.6 365.5h0.8M183.8 367.5h0.8M179.4 364.1h0.8M209.1 367.2h0.8M189.8 349.4h0.8M181.5 367.8h0.8M184.8 336.3h0.8M199.0 364.8h0.8M191.8 362.1h0.8M188.8 371.2h0.8M199.2 376.3h0.8M201.4 360.3h0.8M189.0 367.5h0.8M199.3 362.8h0.8M182.8 346.7h0.8M203.0 375.4h0.8M198.3 365.5h0.8M185.6 343.4h0.8M190.1 355.3h0.8M187.6 361.7h0.8M190.2 360.0h0.8M197.8 368.6h0.8M199.6 371.7h0.8M188.5 358.4h0.8M183.5 340.3h0.8M193.0 369.3h0.8M189.0 360.7h0.8M178.2 345.4h0.8M190.8 354.8h0.8M206.7 338.7h0.8M196.0 355.1h0.8M199.3 375.7h0.8M199.0 359.5h0.8M189.7 369.4h0.8M184.2 362.2h0.8M185.9 362.0h0.8M192.6 358.8h0.8M187.4 369.2h0.8M188.8 357.4h0.8M179.3 362.5h0.8M182.4 359.0h0.8M198.0 356.6h0.8M188.6 377.3h0.8M191.2 366.7h0.8M192.9 356.6h0.8M190.6 370.3h0.8M188.7 356.2h0.8M187.8 364.7h0.8M178.9 367.0h0.8M183.6 366.5h0.8M206.9 363.7h0.8M185.2 369.7h0.8M198.7 358.6h0.8M189.0 369.6h0.8M186.5 367.1h0.8M205.6 336.5h0.8M196.8 357.1h0.8M189.6 358.6h0.8M198.9 353.6h0.8M198.6 370.9h0.8M192.9 368.2h0.8M192.8 355.8h0.8M172.1 360.4h0.8M192.7 349.3h0.8M199.7 370.9h0.8M181.9 375.6h0.8M187.4 360.4h0.8M190.6 352.3h0.8M197.0 363.2h0.8M193.7 346.3h0.8M203.8 353.6h0.8M183.9 376.1h0.8M197.4 354.9h0.8M181.8 368.0h0.8M194.2 357.0h0.8M204.6 353.2h0.8M191.6 361.1h0.8M202.9 351.6h0.8M189.0 346.4h0.8M191.6 354.6h0.8M188.8 345.4h0.8M189.5 366.0h0.8M198.1 363.3h0.8M197.6 366.5h0.8M184.6 359.1h0.8M175.0 373.2h0.8M185.9 345.3h0.8M186.4 383.1h0.8M177.3 368.0h0.8M196.0 350.5h0.8M193.1 356.2h0.8M190.5 366.4h0.8M192.6 361.7h0.8M194.0 359.0h0.8M182.2 368.1h0.8M197.1 364.7h0.8M191.0 358.5h0.8M195.2 380.0h0.8M186.9 356.2h0.8M198.3 359.3h0.8M199.4 328.2h0.8M188.9 372.1h0.8M188.8 363.3h0.8M202.0 346.4h0.8M195.4 358.7h0.8M205.5 364.2h0.8M193.4 365.9h0.8M185.5 358.3h0.8M198.3 366.4h0.8M175.5 356.9h0.8M207.2 356.6h0.8M193.9 355.6h0.8M191.4 341.6h0.8M199.1 353.9h0.8M193.9 367.6h0.8M185.5 369.4h0.8M185.7 376.4h0.8M204.6 373.1h0.8M195.2 356.4h0.8M192.5 359.7h0.8M190.1 363.4h0.8M196.4 362.0h0.8M188.9 346.8h0.8M182.4 353.5h0.8M187.2 363.1h0.8M183.3 350.1h0.8M196.5 353.0h0.8M200.8 350.2h0.8M192.0 367.1h0.8M189.5 343.3h0.8M186.1 369.8h0.8M187.7 352.1h0.8M177.0 361.0h0.8M190.6 370.7h0.8M198.0 351.8h0.8M188.4 332.7h0.8M201.4 366.0h0.8M183.6 346.8h0.8M192.0 360.0h0.8M187.2 351.9h0.8M180.9 373.5h0.8M191.9 344.4h0.8M193.2 373.9h0.8M181.8 357.8h0.8M212.2 364.5h0.8M197.4 367.9h0.8M191.8 344.6h0.8M205.0 358.1h0.8M191.3 357.5h0.8M171.5 350.8h0.8M174.8 367.8h0.8M181.0 352.1h0.8M189.1 353.8h0.8M202.8 358.0h0.8M191.6 348.4h0.8M186.9 364.7h0.8M206.5 358.7h0.8M183.2 366.2h0.8M184.0 361.1h0.8M179.7 362.1h0.8M192.0 368.5h0.8M190.3 363.5h0.8M184.3 360.9h0.8M195.3 361.9h0.8M183.3 362.7h0.8M181.0 363.5h0.8M186.5 351.8h0.8M191.6 354.2h0.8M197.3 368.5h0.8M184.7 363.1h0.8M196.5 369.0h0.8M184.1 350.8h0.8M205.5 362.1h0.8M190.5 357.0h0.8M180.9 364.8h0.8M192.7 349.6h0.8M186.9 367.6h0.8M180.3 351.0h0.8M178.2 372.9h0.8M182.8 371.3h0.8M200.9 374.0h0.8M197.3 352.8h0.8M198.5 369.3h0.8M200.8 359.3h0.8M183.5 359.3h0.8M198.0 371.8h0.8M190.1 359.7h0.8M201.6 370.4h0.8M201.6 350.2h0.8M180.0 377.8h0.8M190.2 365.6h0.8M199.3 365.6h0.8M191.0 344.0h0.8M191.9 346.4h0.8M179.1 376.0h0.8M187.7 354.5h0.8M187.8 363.3h0.8M187.2 351.3h0.8M182.4 356.4h0.8M205.0 339.2h0.8M186.3 360.2h0.8M196.7 359.8h0.8M193.2 351.9h0.8M201.2 357.1h0.8M186.3 334.5h0.8M179.1 371.3h0.8M183.9 350.3h0.8M195.6 337.7h0.8M191.7 367.0h0.8M189.9 347.3h0.8M185.8 375.2h0.8M199.6 352.6h0.8M178.0 353.8h0.8M199.6 353.4h0.8M190.6 358.2h0.8M183.8 364.6h0.8M194.2 345.6h0.8M192.3 353.9h0.8M187.1 351.6h0.8M196.3 346.9h0.8M177.5 376.2h0.8M193.3 372.1h0.8M185.0 352.0h0.8M187.2 364.4h0.8M188.3 356.4h0.8M174.9 375.3h0.8M203.8 367.4h0.8M206.3 365.3h0.8M192.2 360.3h0.8M184.0 366.2h0.8M195.2 361.4h0.8M196.0 354.6h0.8M180.0 368.4h0.8M194.2 359.7h0.8M200.1 355.1h0.8M184.2 370.9h0.8M185.9 361.4h0.8M194.8 359.9h0.8M192.7 359.1h0.8M200.8 358.1h0.8M184.5 368.0h0.8M209.1 370.2h0.8M202.3 358.3h0.8M173.3 364.2h0.8M192.8 374.7h0.8M190.7 368.8h0.8M197.2 371.6h0.8M187.6 366.8h0.8M191.9 359.0h0.8M185.7 357.0h0.8M193.4 348.3h0.8M190.7 351.1h0.8M184.2 346.0h0.8M190.5 356.1h0.8M185.7 381.0h0.8M192.5 371.3h0.8M188.4 362.8h0.8M193.6 367.5h0.8M199.3 348.4h0.8M180.1 355.8h0.8M198.1 354.4h0.8M188.2 369.2h0.8M194.2 373.5h0.8M186.8 343.9h0.8M183.9 362.2h0.8M194.8 355.0h0.8M186.8 356.5h0.8M209.4 350.7h0.8M191.2 346.4h0.8M188.0 370.6h0.8M185.0 349.4h0.8M194.2 372.7h0.8M185.5 339.3h0.8M201.6 369.3h0.8M199.4 356.8h0.8M182.5 342.2h0.8M197.7 349.3h0.8M196.0 363.5h0.8M207.4 346.4h0.8M211.6 361.1h0.8M177.3 359.6h0.8M185.0 358.4h0.8M189.2 375.5h0.8M182.4 370.9h0.8M194.0 353.2h0.8M184.1 359.3h0.8M198.5 367.3h0.8M188.2 356.0h0.8M196.2 356.5h0.8M194.6 359.8h0.8M186.3 370.3h0.8M189.5 357.0h0.8M186.8 374.2h0.8M188.7 360.2h0.8M192.0 369.5h0.8M200.7 350.7h0.8M199.0 366.2h0.8M189.4 365.1h0.8M200.7 352.2h0.8M181.7 370.5h0.8M194.6 360.3h0.8M194.2 359.5h0.8M187.2 355.3h0.8M175.7 368.8h0.8M183.7 364.8h0.8M186.0 359.2h0.8M186.1 360.4h0.8M179.9 360.1h0.8M192.5 349.5h0.8M183.4 364.5h0.8M183.7 378.0h0.8M175.8 364.3h0.8M185.9 348.6h0.8M182.0 345.9h0.8M185.7 354.2h0.8M186.7 375.4h0.8M174.9 358.9h0.8M198.9 377.0h0.8M185.6 347.4h0.8M203.2 355.1h0.8M186.5 345.3h0.8M196.7 345.1h0.8M181.8 366.3h0.8M189.5 371.2h0.8M197.0 352.8h0.8M197.5 374.4h0.8M199.6 367.4h0.8M193.3 360.6h0.8M186.0 377.0h0.8M183.9 350.1h0.8M178.4 351.7h0.8M184.7 349.0h0.8M181.3 355.8h0.8M191.2 358.9h0.8M196.9 369.5h0.8M185.5 374.7h0.8M200.0 348.1h0.8M186.9 363.2h0.8M203.7 371.5h0.8M187.1 363.0h0.8M183.8 360.6h0.8M177.5 377.2h0.8M201.0 352.2h0.8M182.5 356.2h0.8M197.5 371.3h0.8M199.7 345.7h0.8M202.5 373.1h0.8M195.6 366.2h0.8M196.1 362.6h0.8M192.5 378.2h0.8M192.0 354.3h0.8M177.4 377.0h0.8M187.6 353.4h0.8M181.6 371.4h0.8M191.7 356.2h0.8M194.4 366.8h0.8M185.3 347.3h0.8M202.9 348.6h0.8M193.0 358.2h0.8M180.2 357.7h0.8M186.6 342.5h0.8M183.7 378.3h0.8M182.5 363.3h0.8M191.1 344.3h0.8M197.8 365.1h0.8M196.8 358.0h0.8M192.0 363.4h0.8M194.9 356.9h0.8M188.5 370.8h0.8M212.4 361.9h0.8M194.3 368.0h0.8M202.5 348.2h0.8M203.5 347.0h0.8M186.8 362.5h0.8M193.9 353.9h0.8M179.4 353.4h0.8M177.4 367.7h0.8M187.9 357.7h0.8M176.2 372.3h0.8M192.2 370.5h0.8M187.3 329.9h0.8M184.9 351.6h0.8M194.7 363.1h0.8M183.3 368.8h0.8M188.1 364.6h0.8M189.4 364.8h0.8M188.6 359.3h0.8M190.7 365.2h0.8M177.9 347.1h0.8M194.4 371.0h0.8M199.9 361.4h0.8M190.3 359.4h0.8M201.4 358.3h0.8M185.4 377.1h0.8M200.3 356.0h0.8M193.7 369.9h0.8M196.6 347.0h0.8M188.5 361.5h0.8M188.9 364.3h0.8M190.1 364.0h0.8M204.3 360.6h0.8M195.7 361.0h0.8M182.0 367.6h0.8M185.2 357.0h0.8M182.9 356.7h0.8M189.2 368.6h0.8M197.4 349.4h0.8M182.9 348.3h0.8M190.5 364.4h0.8M198.0 354.6h0.8M191.4 365.0h0.8M191.0 370.5h0.8M190.8 372.8h0.8M169.8 358.6h0.8M205.9 360.4h0.8M191.5 354.7h0.8M179.0 353.0h0.8M203.6 369.3h0.8M185.7 375.8h0.8M189.2 351.0h0.8M187.1 364.5h0.8M191.4 368.3h0.8M185.6 346.7h0.8M195.4 369.8h0.8M201.9 363.1h0.8M189.2 359.3h0.8M195.3 360.9h0.8M197.4 338.9h0.8M184.7 360.3h0.8M202.1 354.4h0.8M190.0 355.4h0.8M180.1 367.0h0.8M180.1 382.5h0.8M182.1 351.8h0.8M185.6 352.8h0.8M184.1 354.0h0.8M205.1 339.6h0.8M194.2 368.6h0.8M194.2 366.4h0.8M213.7 358.6h0.8M183.6 352.5h0.8M183.5 378.9h0.8M183.6 359.0h0.8M195.2 358.6h0.8M181.4 361.2h0.8M183.7 366.0h0.8M201.2 347.0h0.8M188.7 362.9h0.8M198.4 354.1h0.8M186.6 356.4h0.8M191.9 366.0h0.8M202.9 350.9h0.8M189.0 342.9h0.8M189.6 363.4h0.8M193.5 368.7h0.8M206.1 340.0h0.8M192.2 355.4h0.8M184.9 351.1h0.8M193.1 367.1h0.8M185.8 361.5h0.8M190.3 375.8h0.8M190.4 366.0h0.8M198.9 365.1h0.8M196.8 372.1h0.8M191.9 361.6h0.8M192.4 349.0h0.8M186.4 353.6h0.8M191.7 360.5h0.8M180.4 350.6h0.8M191.8 357.8h0.8M184.0 361.7h0.8M180.7 344.7h0.8M186.8 359.0h0.8M179.4 363.2h0.8M186.7 372.3h0.8M192.6 358.4h0.8M195.3 368.1h0.8M191.1 341.7h0.8M194.2 365.3h0.8M184.1 360.6h0.8M188.8 363.7h0.8M199.9 362.2h0.8M194.6 359.9h0.8M195.0 375.6h0.8M186.1 346.4h0.8M203.2 343.1h0.8M187.5 357.5h0.8M182.7 357.2h0.8M183.3 363.9h0.8M190.9 369.1h0.8M195.2 360.5h0.8M191.4 357.7h0.8M200.5 374.4h0.8M199.9 367.8h0.8M195.6 345.5h0.8M187.7 359.2h0.8M203.8 368.6h0.8M198.1 367.1h0.8M197.6 375.6h0.8M186.6 360.0h0.8M194.9 372.7h0.8M203.9 359.0h0.8M184.3 350.6h0.8M181.9 357.7h0.8M191.1 358.9h0.8M193.0 355.2h0.8M177.8 344.8h0.8M196.0 369.7h0.8M186.4 367.8h0.8M187.8 364.2h0.8M180.1 369.5h0.8M187.2 362.4h0.8M190.2 367.2h0.8M192.9 343.4h0.8M196.7 352.2h0.8M180.7 366.5h0.8M183.0 362.7h0.8M193.5 356.1h0.8M191.9 372.6h0.8M186.3 365.7h0.8M196.0 360.2h0.8M192.0 362.3h0.8M202.2 367.1h0.8M198.4 375.7h0.8M184.9 362.9h0.8M194.9 350.0h0.8M179.6 348.1h0.8M207.9 361.6h0.8M192.3 361.1h0.8M192.6 360.4h0.8M196.2 348.8h0.8M191.4 368.6h0.8M190.9 363.6h0.8M181.6 365.5h0.8M192.3 341.5h0.8M195.8 361.6h0.8M194.2 354.1h0.8M196.6 361.6h0.8M196.8 357.5h0.8M187.7 367.2h0.8M188.4 358.5h0.8M188.4 353.0h0.8M198.8 351.9h0.8M189.5 364.2h0.8M191.3 361.7h0.8M194.2 376.1h0.8M196.9 358.8h0.8M191.4 344.6h0.8M195.3 354.0h0.8M186.9 354.2h0.8M182.7 351.4h0.8M187.2 346.6h0.8M192.3 364.3h0.8M201.4 370.2h0.8M176.3 365.8h0.8M203.3 357.3h0.8M193.5 362.6h0.8M180.9 360.1h0.8M189.2 364.0h0.8M196.0 351.9h0.8M186.1 375.9h0.8M193.1 348.3h0.8M176.0 347.9h0.8M194.9 356.4h0.8M192.5 351.3h0.8M188.1 358.2h0.8M189.7 355.9h0.8M190.7 357.4h0.8M186.4 364.0h0.8M196.4 353.3h0.8M207.6 357.5h0.8M205.6 361.2h0.8M192.7 363.0h0.8M192.1 369.1h0.8M188.9 358.3h0.8M186.3 350.0h0.8M172.1 363.8h0.8M193.9 377.4h0.8M204.0 360.2h0.8M194.8 379.2h0.8M182.2 334.4h0.8M181.1 363.9h0.8M187.1 362.9h0.8M187.8 362.9h0.8M178.9 357.0h0.8M184.7 357.8h0.8M183.8 368.1h0.8M193.9 364.8h0.8M185.2 356.8h0.8M189.5 360.6h0.8M182.5 365.1h0.8M198.3 349.9h0.8M198.6 363.7h0.8M174.6 368.7h0.8M191.2 361.9h0.8M197.2 361.6h0.8M185.1 376.9h0.8M195.6 359.2h0.8M188.1 366.0h0.8M198.4 369.6h0.8M200.8 356.5h0.8M201.5 354.2h0.8M186.6 349.5h0.8M191.4 346.0h0.8M189.6 358.4h0.8M189.6 355.2h0.8M188.9 353.7h0.8M186.2 359.2h0.8M182.5 358.4h0.8M198.9 347.8h0.8M192.9 351.6h0.8M182.0 347.0h0.8M187.2 344.6h0.8M182.5 369.4h0.8M187.1 360.1h0.8M181.5 357.6h0.8M189.4 369.0h0.8M197.1 355.8h0.8M188.7 343.2h0.8M200.8 364.5h0.8M204.4 357.1h0.8M181.5 368.1h0.8M197.3 365.4h0.8M203.2 352.3h0.8M203.7 346.8h0.8M199.8 372.3h0.8M190.6 367.2h0.8M206.6 347.2h0.8M195.1 366.4h0.8M175.9 349.8h0.8M183.1 362.0h0.8M194.6 359.7h0.8M196.7 347.7h0.8M188.2 350.9h0.8M178.4 363.5h0.8M190.1 353.2h0.8M187.7 368.2h0.8M181.2 363.2h0.8M192.7 344.7h0.8M190.7 374.3h0.8M187.0 353.8h0.8M192.0 372.4h0.8M179.7 342.2h0.8M187.3 377.1h0.8M193.0 359.7h0.8M189.6 357.8h0.8M176.4 354.9h0.8M187.9 355.0h0.8M195.1 370.5h0.8M190.4 355.1h0.8M204.4 363.0h0.8M183.3 367.6h0.8M180.6 370.7h0.8M188.7 369.6h0.8M190.0 347.2h0.8M198.6 359.0h0.8M175.1 368.1h0.8M199.3 356.2h0.8M193.1 364.5h0.8M194.5 366.3h0.8M184.8 370.3h0.8M199.0 339.0h0.8M180.1 350.1h0.8M185.0 358.1h0.8M176.0 354.7h0.8M188.9 363.6h0.8M184.8 359.3h0.8M199.1 352.9h0.8M187.2 364.2h0.8M196.8 348.5h0.8M197.6 355.6h0.8M193.3 352.6h0.8M185.7 361.1h0.8M179.5 361.4h0.8M184.6 370.2h0.8M190.1 354.5h0.8M186.2 354.2h0.8M185.6 359.4h0.8M192.3 356.2h0.8M185.2 355.4h0.8M202.5 369.4h0.8M197.9 354.7h0.8M190.1 351.7h0.8M188.7 347.7h0.8M191.4 351.6h0.8M206.5 359.4h0.8M196.8 351.8h0.8M176.2 363.4h0.8M200.4 344.6h0.8M190.8 347.5h0.8M188.7 332.7h0.8M199.0 358.5h0.8M181.7 376.6h0.8M187.3 372.4h0.8M189.6 356.5h0.8M180.4 354.3h0.8M182.8 356.5h0.8M209.0 366.9h0.8M205.2 349.9h0.8M190.7 348.3h0.8M192.0 369.5h0.8M197.6 372.5h0.8M187.5 355.7h0.8M192.9 365.9h0.8M171.7 371.3h0.8M191.9 369.5h0.8M185.6 355.2h0.8M186.9 350.7h0.8M187.3 374.2h0.8M191.7 356.9h0.8M194.8 365.8h0.8M189.3 358.9h0.8M192.1 352.1h0.8M186.6 357.0h0.8M200.3 358.6h0.8M191.0 367.2h0.8M189.0 370.6h0.8M188.1 370.1h0.8M191.4 373.7h0.8M183.0 354.6h0.8M191.5 360.9h0.8M191.6 349.0h0.8M194.0 354.4h0.8M193.5 347.6h0.8M193.4 378.7h0.8M201.7 361.8h0.8M197.5 357.4h0.8M187.0 361.5h0.8M206.4 368.1h0.8M186.4 350.1h0.8M182.4 374.1h0.8M187.8 357.7h0.8M195.9 353.4h0.8M185.7 348.4h0.8M195.2 358.1h0.8M187.4 372.7h0.8M198.5 370.3h0.8M195.7 365.3h0.8M179.8 354.9h0.8M181.0 364.8h0.8M183.7 363.3h0.8M192.5 348.4h0.8M194.1 347.9h0.8M189.6 357.3h0.8M193.2 375.0h0.8M197.1 358.7h0.8M187.5 362.6h0.8M188.6 345.8h0.8M186.8 377.7h0.8M201.7 367.6h0.8M200.1 354.6h0.8M189.1 334.1h0.8M195.5 339.3h0.8M185.5 358.4h0.8M213.1 358.5h0.8M193.6 364.2h0.8M187.1 349.9h0.8M188.0 360.8h0.8M189.1 357.4h0.8M197.3 344.0h0.8M194.2 362.5h0.8M202.2 369.1h0.8M193.1 356.2h0.8M185.1 371.5h0.8M184.7 369.4h0.8M184.1 353.5h0.8M205.9 361.8h0.8M187.4 376.8h0.8M197.9 366.4h0.8M190.2 349.0h0.8M177.8 354.6h0.8M188.1 351.2h0.8M190.0 356.1h0.8M199.0 339.1h0.8M195.2 355.6h0.8M188.1 364.6h0.8M174.5 373.0h0.8M191.3 359.0h0.8M186.8 372.4h0.8M190.8 364.6h0.8M183.7 377.7h0.8M189.1 350.1h0.8M199.9 365.6h0.8M186.7 335.0h0.8M184.5 371.7h0.8M189.0 351.6h0.8M185.0 349.1h0.8M184.9 358.7h0.8M168.9 371.0h0.8M184.4 363.0h0.8M179.8 373.2h0.8M201.3 366.7h0.8M184.9 363.4h0.8M192.5 357.8h0.8M188.4 373.2h0.8M181.3 363.1h0.8M199.5 362.0h0.8M187.8 355.7h0.8M199.8 357.7h0.8M192.4 364.7h0.8M179.6 349.4h0.8M185.1 368.4h0.8M192.5 368.1h0.8M184.0 351.8h0.8M173.3 364.2h0.8M207.1 340.0h0.8M193.8 351.7h0.8M203.3 372.8h0.8M191.6 349.3h0.8M188.5 367.6h0.8M199.2 353.3h0.8M201.5 344.8h0.8M190.7 358.6h0.8M190.3 352.1h0.8M190.0 369.3h0.8M192.2 370.6h0.8M189.5 355.0h0.8M187.2 358.7h0.8M179.1 370.1h0.8M181.7 373.9h0.8M192.4 350.6h0.8M205.4 349.8h0.8M197.2 376.9h0.8M195.6 377.7h0.8M199.5 343.0h0.8M198.4 353.8h0.8M188.0 355.6h0.8M196.8 351.4h0.8M180.3 367.4h0.8M193.0 363.3h0.8M189.4 357.6h0.8M197.4 372.4h0.8M194.0 367.2h0.8M184.7 365.2h0.8M191.0 358.5h0.8M198.4 351.8h0.8M201.0 380.3h0.8M187.7 356.2h0.8M197.3 352.7h0.8M199.1 360.4h0.8M194.2 349.1h0.8M193.8 353.9h0.8M177.8 353.8h0.8M189.1 366.9h0.8M189.6 360.5h0.8M192.9 350.3h0.8M200.8 369.3h0.8M186.3 360.2h0.8M186.5 369.7h0.8M191.1 356.9h0.8M180.5 362.8h0.8M190.0 360.1h0.8M203.6 358.0h0.8M193.9 344.4h0.8M191.7 361.4h0.8M172.3 369.4h0.8M185.1 354.5h0.8M189.5 344.9h0.8M187.7 362.4h0.8M175.4 374.6h0.8M192.1 362.8h0.8M195.0 361.4h0.8M194.9 357.8h0.8M187.8 356.2h0.8M189.8 350.1h0.8M185.7 365.3h0.8M187.8 365.9h0.8M200.1 361.7h0.8M192.8 348.6h0.8M192.9 369.0h0.8M200.0 365.6h0.8M192.8 355.9h0.8M178.8 374.2h0.8M194.0 366.1h0.8M193.3 363.7h0.8M194.0 352.6h0.8M194.0 359.7h0.8M203.8 364.8h0.8M203.9 373.1h0.8M192.0 370.3h0.8M198.9 369.5h0.8M182.4 350.5h0.8M199.7 348.5h0.8M189.9 356.8h0.8M196.5 362.8h0.8M186.3 355.4h0.8M197.6 357.1h0.8M195.8 359.7h0.8M187.0 369.2h0.8M184.3 350.7h0.8M185.0 353.7h0.8M181.4 359.8h0.8M187.7 361.0h0.8M181.6 365.4h0.8M195.8 362.1h0.8M196.9 345.9h0.8M185.7 353.3h0.8M194.7 346.1h0.8M189.6 353.7h0.8M167.9 361.4h0.8M204.9 371.7h0.8M188.2 358.3h0.8M197.4 360.2h0.8M179.6 380.8h0.8M199.7 332.1h0.8M189.8 358.6h0.8M175.9 353.8h0.8M185.0 361.2h0.8M186.7 361.4h0.8M179.9 348.1h0.8M187.1 372.2h0.8M200.9 365.4h0.8M191.4 364.6h0.8M204.0 340.2h0.8M180.9 365.8h0.8M196.9 346.1h0.8M201.4 360.4h0.8M193.2 347.2h0.8M192.5 366.2h0.8M183.4 345.6h0.8M206.9 358.8h0.8M189.3 351.2h0.8M192.1 368.2h0.8M182.9 370.9h0.8M198.1 354.7h0.8M191.2 357.3h0.8M187.5 348.7h0.8M188.0 351.1h0.8M190.0 352.3h0.8M199.1 358.0h0.8M184.5 375.1h0.8M190.8 374.6h0.8M197.6 339.3h0.8M201.7 348.0h0.8M203.0 357.3h0.8M184.1 371.7h0.8M200.5 352.3h0.8M192.1 351.3h0.8M187.7 368.4h0.8M202.9 369.4h0.8M195.0 363.9h0.8M173.1 349.7h0.8M190.6 361.1h0.8M189.9 364.7h0.8M187.9 353.0h0.8M184.3 358.8h0.8M195.7 347.4h0.8M194.9 360.3h0.8M191.0 354.4h0.8M190.1 350.4h0.8M201.1 370.2h0.8M194.6 357.8h0.8M182.1 350.4h0.8M190.4 354.0h0.8M185.9 355.4h0.8M198.4 363.2h0.8M194.9 355.4h0.8M196.6 366.6h0.8M196.4 367.3h0.8M181.7 358.2h0.8M190.1 349.0h0.8M187.6 349.5h0.8M191.1 357.8h0.8M194.2 356.5h0.8M179.7 375.7h0.8M183.9 352.8h0.8M194.6 371.5h0.8M197.1 348.4h0.8M196.7 347.7h0.8M191.3 360.1h0.8M196.1 344.0h0.8M199.8 363.8h0.8M190.3 360.9h0.8M196.3 354.4h0.8M194.4 368.6h0.8M187.9 367.9h0.8M194.6 347.3h0.8M196.5 375.3h0.8M207.0 357.3h0.8M193.9 374.0h0.8M198.0 352.2h0.8M204.4 372.4h0.8M190.1 355.7h0.8M196.5 373.0h0.8M185.6 367.5h0.8M194.3 354.8h0.8M196.5 366.1h0.8M181.6 351.0h0.8M188.0 370.1h0.8M198.1 360.6h0.8M194.1 347.1h0.8M195.1 357.8h0.8M195.9 361.0h0.8M190.9 347.8h0.8M200.6 354.1h0.8M188.9 372.0h0.8M188.1 366.3h0.8M202.2 356.8h0.8M200.9 361.7h0.8M177.7 380.3h0.8M187.6 365.2h0.8M174.0 360.1h0.8M183.8 364.5h0.8M193.6 363.8h0.8M189.5 368.1h0.8M188.5 362.8h0.8M190.2 345.5h0.8M190.0 355.3h0.8M192.5 362.2h0.8M202.8 373.5h0.8M194.5 351.2h0.8M188.5 364.0h0.8M173.9 362.9h0.8M188.3 366.2h0.8M193.5 342.8h0.8M186.2 377.9h0.8M202.3 383.1h0.8M188.5 362.7h0.8M200.0 369.4h0.8M189.8 377.7h0.8M204.0 355.2h0.8M193.7 343.6h0.8M194.7 362.2h0.8M193.7 355.4h0.8M189.6 369.1h0.8M198.7 354.3h0.8M184.0 360.6h0.8M206.2 357.3h0.8M195.5 360.1h0.8M191.3 356.0h0.8M187.9 359.5h0.8M197.2 369.6h0.8M186.7 367.6h0.8M178.5 351.5h0.8M186.7 370.2h0.8M185.9 347.6h0.8M187.5 367.6h0.8M191.0 368.0h0.8M191.1 369.8h0.8M207.3 336.6h0.8M204.9 351.4h0.8M185.5 360.7h0.8M186.6 354.5h0.8M194.2 365.0h0.8M181.2 345.3h0.8M191.2 373.2h0.8M201.5 350.2h0.8M192.1 372.5h0.8M186.3 364.6h0.8M203.0 334.7h0.8M207.3 356.7h0.8M196.3 357.8h0.8M182.6 351.1h0.8M207.6 359.4h0.8M177.1 357.5h0.8M197.5 372.4h0.8M193.9 353.2h0.8M185.7 359.2h0.8M179.7 358.7h0.8M197.6 365.7h0.8M198.0 353.7h0.8M193.6 368.7h0.8M188.0 374.1h0.8M198.6 354.7h0.8M174.5 361.7h0.8M185.6 359.8h0.8M192.7 357.1h0.8M190.7 375.5h0.8M188.6 353.1h0.8M193.6 363.1h0.8M199.5 356.8h0.8M193.3 357.4h0.8M183.0 342.4h0.8M182.3 365.1h0.8M186.0 366.8h0.8M199.1 365.4h0.8M187.3 351.5h0.8M188.7 371.2h0.8M198.0 360.5h0.8M193.1 351.1h0.8M184.4 346.2h0.8M198.4 368.6h0.8M180.2 359.6h0.8M193.8 359.7h0.8M199.6 362.1h0.8M195.3 353.1h0.8M191.3 356.9h0.8M195.4 357.9h0.8M191.7 348.4h0.8M196.6 365.0h0.8M190.0 370.7h0.8M197.7 373.2h0.8M205.6 362.5h0.8M185.6 374.2h0.8M188.0 358.3h0.8M193.9 359.8h0.8M187.6 362.1h0.8M198.7 366.9h0.8M193.8 369.9h0.8M189.7 356.6h0.8M187.7 375.9h0.8M199.3 354.8h0.8M176.7 373.1h0.8M180.4 374.0h0.8M189.8 368.5h0.8M185.7 352.9h0.8M184.5 348.6h0.8M199.2 358.5h0.8M205.6 361.2h0.8M186.7 356.8h0.8M203.0 363.0h0.8M192.7 353.4h0.8M185.3 368.8h0.8M188.7 364.7h0.8M190.6 358.1h0.8M197.0 359.2h0.8M185.4 343.3h0.8M181.1 353.1h0.8M184.5 349.1h0.8M179.1 355.9h0.8M186.9 356.1h0.8M177.2 366.7h0.8M183.3 341.7h0.8M186.8 347.6h0.8M183.6 363.7h0.8M190.2 357.3h0.8M179.5 362.1h0.8M192.3 351.6h0.8M182.8 370.7h0.8M197.5 353.6h0.8M190.5 360.0h0.8M181.4 374.9h0.8M202.6 369.5h0.8M208.0 359.1h0.8M191.5 366.8h0.8M189.2 373.5h0.8M198.3 336.9h0.8M180.9 355.7h0.8M185.4 365.4h0.8M208.5 355.3h0.8M199.3 373.1h0.8M177.8 374.2h0.8M179.5 375.4h0.8M195.7 350.9h0.8M204.0 359.7h0.8M196.4 357.7h0.8M185.7 358.5h0.8M188.5 356.7h0.8M189.6 361.3h0.8M187.1 367.4h0.8M202.0 365.5h0.8M209.8 369.3h0.8M193.1 361.7h0.8M198.0 367.8h0.8M189.1 367.3h0.8M188.7 357.7h0.8M180.2 357.6h0.8M185.6 346.8h0.8M189.7 373.8h0.8M187.1 369.3h0.8M184.4 361.8h0.8M193.5 341.7h0.8M187.7 354.3h0.8M198.3 348.2h0.8M193.1 368.2h0.8M182.7 368.6h0.8M189.2 365.4h0.8M192.2 355.6h0.8M190.8 350.7h0.8M178.5 356.8h0.8M194.6 375.6h0.8M201.5 370.3h0.8M193.8 367.2h0.8M184.0 374.4h0.8M200.7 349.3h0.8M198.9 359.6h0.8M184.6 364.9h0.8M183.4 357.6h0.8M189.7 360.2h0.8M202.6 370.8h0.8M188.5 362.1h0.8M190.2 361.1h0.8M193.8 356.3h0.8M187.6 348.3h0.8M197.2 364.0h0.8M188.0 364.4h0.8M190.9 371.0h0.8M190.8 377.0h0.8M182.6 358.0h0.8M195.3 373.6h0.8M184.1 371.9h0.8M203.2 352.5h0.8M173.7 356.0h0.8M180.6 364.0h0.8M195.7 375.0h0.8M197.8 342.5h0.8M195.4 361.0h0.8M183.6 346.5h0.8M175.0 365.1h0.8M194.4 359.9h0.8M191.9 367.5h0.8M194.5 383.4h0.8M190.4 358.4h0.8M194.1 353.7h0.8M191.4 380.9h0.8M182.8 357.2h0.8M196.0 336.9h0.8M195.4 353.6h0.8M198.8 351.0h0.8M187.1 356.9h0.8M187.0 362.1h0.8M185.8 358.4h0.8M177.9 361.5h0.8M195.3 360.0h0.8M193.0 369.0h0.8M189.9 372.5h0.8M181.6 383.1h0.8M179.9 337.5h0.8M195.0 342.4h0.8M184.3 341.5h0.8M176.6 363.3h0.8M197.0 362.0h0.8M190.0 371.2h0.8M187.0 345.2h0.8M199.1 375.9h0.8M198.1 357.4h0.8M186.8 366.3h0.8M182.2 368.1h0.8M194.0 366.4h0.8M187.2 357.5h0.8M181.8 372.9h0.8M182.9 349.2h0.8M190.1 357.5h0.8M200.8 354.2h0.8M194.9 362.1h0.8M191.8 346.4h0.8M195.1 376.4h0.8M198.3 366.4h0.8M191.7 367.5h0.8M193.7 364.8h0.8M204.7 359.6h0.8M187.0 383.3h0.8M208.2 364.2h0.8M194.5 365.8h0.8M190.9 365.2h0.8M197.8 358.9h0.8M202.3 348.9h0.8M186.4 374.5h0.8M206.4 360.7h0.8M187.8 358.3h0.8M181.4 367.8h0.8M196.1 341.4h0.8M186.9 354.7h0.8M188.6 352.9h0.8M175.6 354.1h0.8M187.2 367.6h0.8M189.9 356.7h0.8M191.7 369.0h0.8M170.7 377.8h0.8M196.5 370.2h0.8M201.9 334.4h0.8M190.6 359.3h0.8M194.2 361.2h0.8M186.9 355.7h0.8M189.1 369.7h0.8M208.7 373.1h0.8M187.8 346.2h0.8M192.1 353.6h0.8M190.7 377.0h0.8M202.5 374.1h0.8M193.1 341.1h0.8M195.8 354.7h0.8M205.3 353.5h0.8M186.7 354.3h0.8M184.0 348.2h0.8M187.0 358.9h0.8M186.9 362.5h0.8M191.6 365.0h0.8M194.0 371.9h0.8M201.3 357.4h0.8M185.9 353.4h0.8M180.0 366.4h0.8M181.6 351.2h0.8M196.6 346.6h0.8M205.3 354.3h0.8M190.3 374.4h0.8M192.4 353.8h0.8M199.8 359.6h0.8M194.1 341.9h0.8M193.8 361.5h0.8M186.6 365.9h0.8M181.1 363.8h0.8M191.2 371.3h0.8M199.4 360.8h0.8M180.4 350.3h0.8M190.5 364.9h0.8M186.8 355.6h0.8M196.3 365.9h0.8M182.9 349.0h0.8M181.6 364.5h0.8M198.4 374.4h0.8M209.0 358.6h0.8M191.0 357.4h0.8M194.5 359.8h0.8M191.7 368.5h0.8M190.3 352.9h0.8M187.1 343.7h0.8M190.6 361.7h0.8M193.9 355.1h0.8M192.4 352.9h0.8M198.0 362.3h0.8M181.4 367.9h0.8M179.2 353.3h0.8M171.1 375.1h0.8M179.9 356.6h0.8M192.4 360.7h0.8M185.1 364.5h0.8M184.3 365.3h0.8M187.3 349.6h0.8M204.8 355.5h0.8M193.5 369.3h0.8M194.8 340.7h0.8M176.8 362.8h0.8M180.9 367.1h0.8M192.8 360.1h0.8M191.0 358.7h0.8M198.3 366.3h0.8M197.4 376.6h0.8M176.1 357.7h0.8M190.0 348.6h0.8M198.1 367.9h0.8M187.0 355.2h0.8M192.2 361.2h0.8M195.0 367.8h0.8M173.5 353.6h0.8M170.4 350.8h0.8M210.8 363.0h0.8M190.8 372.2h0.8M178.4 379.1h0.8M193.9 364.7h0.8M188.4 352.5h0.8M191.3 367.0h0.8M191.4 354.4h0.8M188.0 365.9h0.8M195.5 353.8h0.8M192.2 359.0h0.8M193.3 348.8h0.8M181.3 354.0h0.8M188.6 374.8h0.8M196.7 363.9h0.8M195.3 375.0h0.8M194.2 354.0h0.8M190.7 354.1h0.8M198.8 365.8h0.8M199.1 351.4h0.8M182.7 361.9h0.8M188.0 371.4h0.8M196.7 365.2h0.8M191.0 360.7h0.8M196.3 374.0h0.8M184.7 341.0h0.8M182.6 363.5h0.8M202.7 348.7h0.8M182.9 342.0h0.8M199.4 363.9h0.8M180.9 365.9h0.8M182.0 365.7h0.8M168.0 357.7h0.8M196.6 348.8h0.8M194.3 359.3h0.8M210.0 325.7h0.8M204.3 372.0h0.8M199.1 356.5h0.8M188.2 365.6h0.8M190.6 365.2h0.8M188.2 366.4h0.8M185.4 359.7h0.8M193.6 356.7h0.8M193.2 363.9h0.8M183.7 367.5h0.8M180.7 350.1h0.8M202.3 376.0h0.8M194.9 365.0h0.8M193.8 353.2h0.8M190.2 374.4h0.8M196.6 347.4h0.8M197.6 361.9h0.8M187.8 376.2h0.8M197.3 367.0h0.8M191.6 351.8h0.8M196.9 345.1h0.8M192.2 368.0h0.8M184.7 363.5h0.8M202.5 354.9h0.8M187.1 366.2h0.8M184.3 365.0h0.8M196.1 351.8h0.8M193.6 360.2h0.8M205.9 365.8h0.8M192.0 352.8h0.8M191.7 355.9h0.8M171.9 378.9h0.8M178.7 370.4h0.8M193.8 345.2h0.8M189.2 359.1h0.8M198.7 351.1h0.8M198.8 349.4h0.8M191.6 363.4h0.8M194.9 346.0h0.8M196.0 371.7h0.8M185.5 366.3h0.8M185.1 358.1h0.8M183.2 370.7h0.8M189.5 349.4h0.8M175.7 374.2h0.8M194.9 370.7h0.8M194.2 356.0h0.8M197.6 347.3h0.8M184.7 364.0h0.8M191.2 362.7h0.8M195.2 367.6h0.8M188.2 371.0h0.8M196.6 368.1h0.8M188.4 377.1h0.8M187.7 355.4h0.8M179.0 357.0h0.8M198.9 352.0h0.8M196.9 382.8h0.8M201.9 357.3h0.8M186.9 363.5h0.8M195.2 375.5h0.8M193.7 370.8h0.8M187.1 370.1h0.8M187.9 357.3h0.8M193.0 370.7h0.8M186.9 370.0h0.8M192.1 358.6h0.8M189.8 361.0h0.8M189.7 375.3h0.8M193.1 335.2h0.8M192.2 364.0h0.8M189.9 361.5h0.8M182.2 374.5h0.8M196.8 370.3h0.8M205.5 374.6h0.8M189.0 351.9h0.8M194.7 366.1h0.8M185.5 365.8h0.8M204.1 360.7h0.8M195.1 369.2h0.8M203.0 372.9h0.8M194.4 360.8h0.8M192.9 346.0h0.8M195.7 365.8h0.8M183.4 352.4h0.8M178.2 349.9h0.8M193.1 351.1h0.8M201.3 368.5h0.8M185.6 361.7h0.8M188.4 362.7h0.8M197.0 373.2h0.8M193.4 345.1h0.8M195.7 383.2h0.8M169.5 354.0h0.8M192.8 368.5h0.8M197.8 361.2h0.8M195.1 364.9h0.8M190.8 358.5h0.8M188.2 364.2h0.8M185.0 347.5h0.8M184.7 362.2h0.8M188.4 351.4h0.8M174.3 363.6h0.8M198.4 337.5h0.8M202.6 361.2h0.8M181.2 355.1h0.8M192.9 363.7h0.8M193.0 364.4h0.8M183.7 380.5h0.8M189.9 364.1h0.8M186.2 341.9h0.8M190.9 351.0h0.8M204.2 351.1h0.8M184.2 357.5h0.8M193.1 353.2h0.8M184.6 352.2h0.8M193.6 348.2h0.8M166.8 371.6h0.8M192.0 356.3h0.8M209.0 355.9h0.8M178.1 358.4h0.8M181.6 360.1h0.8M189.1 367.2h0.8M181.2 369.2h0.8M201.9 366.1h0.8M184.0 355.5h0.8M193.3 356.6h0.8M194.9 356.9h0.8M182.1 369.0h0.8M187.8 343.3h0.8M188.8 342.9h0.8M178.9 354.0h0.8M190.1 359.6h0.8M191.0 343.2h0.8M198.5 344.4h0.8M194.4 356.7h0.8M192.0 372.9h0.8M192.5 358.9h0.8M191.0 353.8h0.8M182.1 373.7h0.8M192.1 357.6h0.8M194.7 362.9h0.8M189.1 346.5h0.8M192.4 357.8h0.8M191.7 364.7h0.8M183.4 357.2h0.8M184.2 345.3h0.8M199.5 368.5h0.8M182.0 347.8h0.8M192.5 355.0h0.8M189.6 352.5h0.8M191.2 364.8h0.8M181.8 351.5h0.8M198.1 358.4h0.8M204.8 344.8h0.8M200.5 362.1h0.8M185.9 350.5h0.8M194.7 345.8h0.8M188.3 358.8h0.8M193.1 359.5h0.8M198.5 352.2h0.8M190.3 342.4h0.8M187.5 360.7h0.8M178.5 356.8h0.8M190.4 354.9h0.8M197.3 345.7h0.8M186.9 344.9h0.8M194.3 346.0h0.8M196.0 351.5h0.8M185.6 364.9h0.8M201.4 365.8h0.8M181.4 339.3h0.8M179.8 372.7h0.8M201.5 337.9h0.8M191.1 356.9h0.8M183.9 364.8h0.8M191.9 355.3h0.8M191.9 341.5h0.8M189.8 360.5h0.8M189.9 359.4h0.8M188.2 338.4h0.8M196.8 340.6h0.8M189.2 367.5h0.8M192.1 338.7h0.8M191.9 366.6h0.8M194.5 366.9h0.8M194.4 348.8h0.8M182.4 359.6h0.8M190.8 352.9h0.8M193.5 378.5h0.8M190.8 358.9h0.8M194.3 343.8h0.8M185.3 367.4h0.8M199.1 366.1h0.8M180.1 353.3h0.8M189.6 357.6h0.8M198.0 359.5h0.8M189.7 351.3h0.8M189.5 357.0h0.8M190.8 362.5h0.8M203.7 338.8h0.8M196.5 355.7h0.8M194.6 360.6h0.8M186.1 370.8h0.8M194.2 355.3h0.8M203.5 361.0h0.8M186.8 355.8h0.8M181.2 376.3h0.8M184.5 365.3h0.8M200.5 368.0h0.8M184.7 371.4h0.8M198.0 366.5h0.8M203.8 363.7h0.8M199.5 376.9h0.8M193.6 360.4h0.8M187.1 346.6h0.8M184.3 363.7h0.8M183.0 358.1h0.8M183.6 350.9h0.8M184.8 361.2h0.8M194.8 361.9h0.8M191.8 356.3h0.8M189.6 382.1h0.8M198.1 377.2h0.8M192.7 368.8h0.8M198.1 345.3h0.8M183.4 348.0h0.8M199.3 361.0h0.8M194.8 366.5h0.8M194.7 368.4h0.8M185.3 347.9h0.8M198.2 362.3h0.8M185.6 358.0h0.8M188.6 353.8h0.8M184.5 351.7h0.8M188.6 375.1h0.8M195.9 344.5h0.8M195.8 366.1h0.8M179.7 346.8h0.8M176.3 379.0h0.8M195.4 346.7h0.8M195.6 371.9h0.8M192.9 351.9h0.8M192.5 352.7h0.8M210.5 357.6h0.8M182.5 366.6h0.8M208.1 361.5h0.8M199.1 344.0h0.8M199.5 348.6h0.8M174.0 369.6h0.8M196.7 331.7h0.8M188.8 337.3h0.8M199.2 333.6h0.8M192.6 361.4h0.8M201.5 352.0h0.8M193.7 353.5h0.8M210.0 348.6h0.8M193.5 352.0h0.8M199.6 350.4h0.8M185.3 344.5h0.8M190.3 338.7h0.8M210.6 310.6h0.8M202.5 357.4h0.8M195.7 350.9h0.8M198.1 336.8h0.8M191.5 337.4h0.8M201.8 356.1h0.8M201.4 375.8h0.8M217.7 382.6h0.8M183.9 348.7h0.8M210.5 338.7h0.8M195.3 370.4h0.8M206.2 363.6h0.8M191.1 352.5h0.8M197.3 353.2h0.8M178.8 353.7h0.8M214.8 349.8h0.8M208.5 358.1h0.8M191.7 364.3h0.8M182.6 367.9h0.8M196.0 367.9h0.8M177.1 360.8h0.8M208.3 364.5h0.8M200.2 372.4h0.8M175.7 369.3h0.8M207.7 364.4h0.8M182.5 355.5h0.8M194.3 363.0h0.8M196.5 346.2h0.8M192.7 370.6h0.8M197.2 335.8h0.8M197.9 351.3h0.8M188.5 348.4h0.8M174.6 345.1h0.8M203.0 344.8h0.8M194.1 353.8h0.8M193.3 360.0h0.8M211.7 361.5h0.8M218.4 370.9h0.8M218.0 340.7h0.8M191.9 328.2h0.8M178.9 323.5h0.8M198.9 347.7h0.8M200.3 339.2h0.8M185.4 355.5h0.8M180.1 360.6h0.8M177.7 376.3h0.8M213.5 343.3h0.8M179.9 347.2h0.8M173.2 374.7h0.8M213.1 379.4h0.8M195.1 341.5h0.8M170.2 344.1h0.8M177.4 361.7h0.8M192.5 379.9h0.8M193.9 332.4h0.8M172.7 361.4h0.8M198.8 358.2h0.8M187.4 365.4h0.8M209.7 350.8h0.8M200.2 367.8h0.8M218.1 352.9h0.8M187.4 359.0h0.8M188.5 361.6h0.8M206.4 328.3h0.8M194.3 360.8h0.8M186.2 352.3h0.8M200.8 339.3h0.8M192.3 356.0h0.8M185.9 354.0h0.8M195.1 343.4h0.8M192.4 346.9h0.8M191.5 350.6h0.8M176.4 365.6h0.8M207.4 346.0h0.8M178.3 373.1h0.8M212.8 345.1h0.8M204.2 341.4h0.8M187.3 343.2h0.8M190.4 366.3h0.8M198.9 354.3h0.8M203.3 338.2h0.8M198.1 362.9h0.8M216.1 335.3h0.8M186.4 327.3h0.8M197.1 371.2h0.8M211.6 347.3h0.8M201.3 360.3h0.8M183.5 348.6h0.8M198.9 343.6h0.8M203.9 349.4h0.8M205.5 374.0h0.8M173.1 359.6h0.8M183.5 337.5h0.8M213.8 371.7h0.8M199.9 358.3h0.8M200.2 366.9h0.8M194.7 340.5h0.8M197.4 369.1h0.8M204.7 349.6h0.8M188.9 369.4h0.8M217.4 364.1h0.8M186.9 376.9h0.8M185.3 344.6h0.8M199.5 349.8h0.8M213.1 350.3h0.8M221.0 351.1h0.8M191.9 344.8h0.8M202.0 354.9h0.8M175.6 360.0h0.8M184.9 359.6h0.8M197.4 330.7h0.8M171.8 360.0h0.8M201.2 347.2h0.8M162.2 358.2h0.8M195.1 357.4h0.8M206.7 331.3h0.8M203.0 354.2h0.8M193.2 346.8h0.8M202.6 364.1h0.8M207.8 338.7h0.8M196.6 351.1h0.8M181.0 361.2h0.8M207.1 334.6h0.8M221.4 349.7h0.8M172.6 363.5h0.8M180.7 343.0h0.8M192.5 348.7h0.8M181.5 380.4h0.8M202.7 364.6h0.8M204.8 354.0h0.8M196.2 341.9h0.8M182.7 356.5h0.8M179.5 360.3h0.8M181.6 347.0h0.8M178.1 362.5h0.8M180.2 314.6h0.8M218.6 336.8h0.8M195.3 329.5h0.8M193.3 353.0h0.8M191.2 353.3h0.8M167.4 368.3h0.8M199.2 343.8h0.8M203.0 370.7h0.8M201.9 359.9h0.8M217.6 379.5h0.8M213.6 355.6h0.8M197.5 355.4h0.8M199.7 371.1h0.8M200.1 345.0h0.8M180.0 324.0h0.8M176.3 381.1h0.8M188.3 347.7h0.8M200.6 353.6h0.8M186.0 371.0h0.8M184.1 348.3h0.8M201.0 346.5h0.8M208.2 327.5h0.8M208.9 365.4h0.8M199.3 323.5h0.8M165.8 346.8h0.8M175.7 382.7h0.8M191.7 369.1h0.8M216.2 337.5h0.8M202.2 340.8h0.8M196.9 355.6h0.8M187.9 363.9h0.8M187.1 369.9h0.8M204.2 350.4h0.8M206.3 354.3h0.8M195.6 347.1h0.8M169.7 353.5h0.8M186.2 356.2h0.8M193.9 366.8h0.8M208.0 345.7h0.8M176.3 371.0h0.8M209.1 379.9h0.8M211.1 329.3h0.8M176.1 375.5h0.8M187.1 345.2h0.8M227.6 325.9h0.8M200.3 370.6h0.8M180.6 354.1h0.8M215.3 332.3h0.8M184.9 374.5h0.8M205.4 372.5h0.8M198.2 346.6h0.8M182.3 362.6h0.8M198.3 342.0h0.8M182.0 356.7h0.8M200.9 351.7h0.8M198.3 339.5h0.8M195.3 357.9h0.8M197.4 340.6h0.8M182.3 361.7h0.8M194.1 352.5h0.8M207.5 350.6h0.8M182.4 338.4h0.8M177.5 371.8h0.8M196.4 357.5h0.8M189.5 341.0h0.8M198.6 338.1h0.8M185.8 359.5h0.8M170.0 343.3h0.8M205.3 342.1h0.8M212.0 344.8h0.8M194.4 348.8h0.8M202.8 339.9h0.8M217.0 341.6h0.8M189.4 354.9h0.8M209.0 343.1h0.8M211.9 350.0h0.8M182.4 356.6h0.8M212.5 362.8h0.8M197.7 367.4h0.8M206.7 352.1h0.8M212.8 342.1h0.8M184.1 363.3h0.8M187.6 356.1h0.8M199.8 351.6h0.8M192.3 359.6h0.8M181.8 352.1h0.8M212.5 338.8h0.8M203.0 313.3h0.8M214.1 342.2h0.8M215.6 381.8h0.8M194.9 347.4h0.8M184.2 342.4h0.8M177.8 359.0h0.8M204.1 345.0h0.8M204.1 350.4h0.8M195.0 367.3h0.8M187.8 347.1h0.8M185.6 345.6h0.8M195.4 324.3h0.8M173.6 355.7h0.8M183.8 366.4h0.8M198.8 349.3h0.8M167.7 362.7h0.8M186.7 355.3h0.8M186.6 326.3h0.8M195.6 334.9h0.8M202.4 359.1h0.8M189.0 356.2h0.8M173.8 369.5h0.8M191.7 351.5h0.8M193.0 364.5h0.8M200.6 357.3h0.8M186.6 352.4h0.8M181.9 361.5h0.8M207.2 350.9h0.8M199.9 348.0h0.8M195.2 344.0h0.8M189.0 368.0h0.8M209.2 347.4h0.8M221.1 343.5h0.8M197.6 380.2h0.8M212.4 342.7h0.8M180.5 380.7h0.8M208.1 361.1h0.8M207.4 336.7h0.8M187.0 356.4h0.8M202.4 361.2h0.8M186.9 363.8h0.8M192.9 329.8h0.8M198.9 339.8h0.8M226.4 364.1h0.8M195.7 350.9h0.8M177.9 353.0h0.8M205.5 351.3h0.8M210.3 352.5h0.8M202.9 348.2h0.8M191.1 378.8h0.8M194.9 356.9h0.8M184.7 360.3h0.8M213.6 348.1h0.8M187.0 369.7h0.8M187.4 344.1h0.8M197.7 344.7h0.8M199.8 363.1h0.8M197.9 357.7h0.8M207.9 340.0h0.8M178.5 363.7h0.8M218.1 336.6h0.8M187.6 376.8h0.8M204.6 352.6h0.8M214.7 330.2h0.8M211.5 353.0h0.8M221.6 356.2h0.8M179.7 361.2h0.8M206.1 357.4h0.8M186.1 354.7h0.8M190.1 346.2h0.8M190.8 358.6h0.8M189.4 374.3h0.8M210.1 359.4h0.8M203.7 317.7h0.8M205.0 350.9h0.8M184.5 382.0h0.8M192.2 357.8h0.8M206.1 329.5h0.8M187.9 369.3h0.8M200.1 347.2h0.8M184.6 333.9h0.8M191.6 347.4h0.8M204.7 338.3h0.8M199.3 351.6h0.8M196.3 355.6h0.8M190.8 346.5h0.8M195.9 352.8h0.8M186.6 365.7h0.8M208.3 351.3h0.8M202.3 359.1h0.8M198.7 332.9h0.8M176.2 349.1h0.8M201.2 349.9h0.8M192.2 342.4h0.8M192.2 350.7h0.8M204.2 351.1h0.8M199.0 344.5h0.8M191.1 374.3h0.8M193.1 352.9h0.8M194.6 358.5h0.8M200.2 333.6h0.8M176.7 360.6h0.8M185.9 378.0h0.8M191.2 350.6h0.8M200.8 360.8h0.8M202.2 368.5h0.8M185.2 355.6h0.8M196.3 366.0h0.8M188.2 347.3h0.8M206.9 349.1h0.8M218.2 355.8h0.8M172.7 351.4h0.8M205.5 342.2h0.8M205.2 338.7h0.8M192.3 369.2h0.8M211.4 346.6h0.8M179.8 361.4h0.8M184.0 357.8h0.8M217.3 346.7h0.8M176.6 361.7h0.8M227.7 330.2h0.8M203.7 349.6h0.8M211.3 342.1h0.8M186.3 368.0h0.8M190.3 365.9h0.8M181.5 362.1h0.8M183.4 334.5h0.8M196.5 347.0h0.8M214.2 347.4h0.8M223.1 370.8h0.8M182.6 355.8h0.8M201.4 359.0h0.8M198.0 376.9h0.8M207.7 355.5h0.8M203.6 360.0h0.8M195.8 352.6h0.8M186.4 354.0h0.8M198.3 356.9h0.8M207.2 329.4h0.8M208.0 355.4h0.8M193.6 355.9h0.8M205.5 348.6h0.8M206.1 357.2h0.8M197.1 350.8h0.8M193.5 364.5h0.8M210.9 337.4h0.8M179.6 341.4h0.8M214.3 346.2h0.8M187.9 355.2h0.8M171.6 353.8h0.8M177.5 366.7h0.8M177.9 369.2h0.8M202.2 350.3h0.8M206.1 358.1h0.8M184.7 361.5h0.8M196.7 352.2h0.8M179.0 374.5h0.8M185.3 366.4h0.8M188.6 333.7h0.8M197.0 360.4h0.8M203.7 365.8h0.8M204.0 375.1h0.8M181.5 355.8h0.8M175.6 360.7h0.8M185.2 344.2h0.8M198.8 374.7h0.8M199.8 332.3h0.8M185.2 333.2h0.8M193.8 350.6h0.8M188.1 322.1h0.8M210.8 337.5h0.8M209.0 335.1h0.8M198.9 360.4h0.8M197.6 353.6h0.8M176.5 366.5h0.8M205.8 361.7h0.8M211.1 343.5h0.8M205.0 311.7h0.8M208.0 332.9h0.8M175.4 337.6h0.8M181.8 367.0h0.8M184.7 354.5h0.8M193.6 341.9h0.8M187.8 353.8h0.8M214.5 360.1h0.8M203.3 353.9h0.8M187.6 355.5h0.8M208.7 356.6h0.8M205.6 352.3h0.8M195.7 346.5h0.8M166.6 360.0h0.8M196.3 341.6h0.8M185.3 354.3h0.8M199.8 359.7h0.8M185.3 383.5h0.8M222.6 348.9h0.8M186.7 347.4h0.8M184.5 350.0h0.8M190.8 343.1h0.8M178.2 331.4h0.8M183.9 369.0h0.8M190.7 366.0h0.8M207.4 361.4h0.8M180.0 366.6h0.8M184.6 360.8h0.8M203.3 350.7h0.8M193.3 353.7h0.8M206.3 323.9h0.8M200.1 359.2h0.8M184.3 357.5h0.8M180.0 350.7h0.8M206.9 371.0h0.8M188.4 343.9h0.8M184.4 365.0h0.8M199.6 357.1h0.8M204.2 354.3h0.8M195.0 340.0h0.8M196.2 359.7h0.8M198.7 360.5h0.8M190.0 348.5h0.8M177.3 348.5h0.8M203.3 359.8h0.8M199.7 367.6h0.8M195.2 349.1h0.8M195.2 344.6h0.8M201.5 362.5h0.8M208.8 363.6h0.8M173.3 345.7h0.8M185.0 358.4h0.8M188.0 350.1h0.8M217.5 361.2h0.8M182.5 363.8h0.8M198.7 342.6h0.8M206.0 350.8h0.8M171.4 357.3h0.8M190.3 359.0h0.8M204.2 356.3h0.8M194.7 339.7h0.8M189.7 348.3h0.8M206.7 353.5h0.8M217.5 347.4h0.8M179.8 368.3h0.8M180.0 355.3h0.8M193.7 348.6h0.8M210.7 351.5h0.8M199.9 365.7h0.8M208.2 336.1h0.8M185.9 340.0h0.8M185.9 368.5h0.8M204.5 369.7h0.8M213.4 359.7h0.8M223.6 343.3h0.8M177.6 357.3h0.8M228.5 357.7h0.8M210.7 356.7h0.8M192.4 361.5h0.8M185.7 345.9h0.8M198.6 336.7h0.8M170.0 353.9h0.8M208.4 345.9h0.8M191.7 351.0h0.8M189.0 332.1h0.8M192.0 338.4h0.8M191.4 342.6h0.8M220.5 345.8h0.8M220.8 335.4h0.8M193.9 345.6h0.8M198.0 333.5h0.8M181.2 335.2h0.8M187.0 367.1h0.8M194.8 353.3h0.8M184.8 366.8h0.8M182.4 358.6h0.8M173.4 370.0h0.8M199.0 336.9h0.8M200.2 375.2h0.8M210.0 372.4h0.8M198.0 336.8h0.8M210.7 356.9h0.8M203.6 342.7h0.8M207.5 341.2h0.8M228.8 363.7h0.8M183.3 359.7h0.8M186.8 363.4h0.8M205.2 349.8h0.8M221.5 346.2h0.8M173.9 361.1h0.8M179.9 339.4h0.8M192.6 362.4h0.8M188.3 352.9h0.8M189.6 348.5h0.8M191.3 346.5h0.8M195.1 341.4h0.8M211.6 317.9h0.8M199.4 373.7h0.8M200.8 347.1h0.8M169.2 358.1h0.8M176.7 346.8h0.8M189.5 356.8h0.8M194.0 350.6h0.8M210.2 338.0h0.8M186.3 351.5h0.8M191.8 357.6h0.8M204.0 362.5h0.8M205.0 344.6h0.8M181.7 360.9h0.8M176.1 362.6h0.8M200.9 326.3h0.8M203.1 361.4h0.8M198.1 348.5h0.8M200.8 357.2h0.8M203.1 340.7h0.8M207.6 345.4h0.8M167.5 348.1h0.8M191.3 354.6h0.8M181.9 357.0h0.8M184.2 345.4h0.8M207.7 378.2h0.8M206.2 366.8h0.8M178.4 370.3h0.8M195.6 355.7h0.8M179.4 361.5h0.8M180.8 356.6h0.8M188.7 361.2h0.8M207.5 330.4h0.8M189.1 358.3h0.8M212.3 371.6h0.8M200.7 333.2h0.8M202.2 344.4h0.8M197.6 346.3h0.8M196.1 338.5h0.8M197.3 352.2h0.8M207.1 330.8h0.8M191.7 365.4h0.8M212.9 363.4h0.8M210.0 345.4h0.8M179.4 358.4h0.8M205.1 360.4h0.8M183.8 352.8h0.8M179.5 358.9h0.8M180.7 372.3h0.8M205.0 325.3h0.8M203.5 375.7h0.8M189.1 356.3h0.8M162.1 372.6h0.8M172.0 355.9h0.8M201.9 325.5h0.8M189.6 365.4h0.8M200.5 354.3h0.8M214.9 355.6h0.8M198.8 358.7h0.8M206.6 337.7h0.8M212.3 343.9h0.8M216.6 339.3h0.8M190.2 370.3h0.8M196.6 379.5h0.8M193.5 347.1h0.8M199.3 348.1h0.8M195.0 349.7h0.8M179.6 375.0h0.8M212.1 358.7h0.8M204.9 339.8h0.8M195.6 364.8h0.8M194.8 329.3h0.8M199.1 333.5h0.8M183.3 367.1h0.8M184.5 352.0h0.8M205.5 351.6h0.8M189.3 355.8h0.8M180.9 361.2h0.8M196.4 344.0h0.8M207.6 351.8h0.8M212.4 338.8h0.8M197.1 319.6h0.8M197.6 355.4h0.8M178.6 338.0h0.8M193.6 374.8h0.8M214.2 352.1h0.8M201.0 346.5h0.8M193.4 337.3h0.8M206.6 333.3h0.8M185.7 358.9h0.8M196.7 366.6h0.8M190.0 378.3h0.8M196.9 355.9h0.8M189.0 346.4h0.8M220.8 350.8h0.8M208.1 346.9h0.8M183.3 372.7h0.8M203.5 349.8h0.8M172.5 366.0h0.8M198.9 339.9h0.8M194.9 368.4h0.8M200.9 347.7h0.8M176.6 356.6h0.8M199.9 355.2h0.8M194.5 366.7h0.8M207.4 336.7h0.8M202.3 348.6h0.8M190.2 358.4h0.8M211.6 371.3h0.8M186.3 382.2h0.8M212.1 368.3h0.8M185.6 334.7h0.8M188.7 345.4h0.8M207.0 319.2h0.8M194.8 346.0h0.8M196.9 362.3h0.8M179.5 353.3h0.8M202.1 373.1h0.8M195.3 349.3h0.8M195.9 363.4h0.8M198.3 356.8h0.8M188.4 330.6h0.8M197.0 343.8h0.8M191.1 349.0h0.8M205.4 343.7h0.8M188.2 357.4h0.8M199.2 349.3h0.8M204.2 350.1h0.8M183.3 334.1h0.8M181.8 377.5h0.8M185.2 362.9h0.8M197.0 352.4h0.8M192.7 354.3h0.8M208.0 347.7h0.8M211.2 367.4h0.8M199.2 341.9h0.8M179.0 340.4h0.8M185.9 330.5h0.8M202.2 347.1h0.8M202.8 362.2h0.8M201.6 363.2h0.8M171.2 345.4h0.8M180.5 345.5h0.8M200.0 370.0h0.8M185.5 372.3h0.8M183.1 345.1h0.8M190.2 364.3h0.8M186.3 342.0h0.8M203.3 334.6h0.8M187.3 363.4h0.8M209.8 348.8h0.8M187.3 368.2h0.8M199.5 352.9h0.8M201.0 356.0h0.8M215.5 349.2h0.8M214.4 369.9h0.8M206.8 323.4h0.8M209.1 336.4h0.8M186.3 354.7h0.8M195.1 357.3h0.8M201.9 344.3h0.8M201.8 337.1h0.8M194.3 342.2h0.8M207.8 343.1h0.8M210.7 365.1h0.8M213.4 327.9h0.8M199.0 358.2h0.8M212.7 372.0h0.8M187.9 333.9h0.8M182.7 354.6h0.8M191.1 353.4h0.8M167.6 371.5h0.8M184.2 375.4h0.8M194.3 356.7h0.8M204.8 341.8h0.8M190.7 352.9h0.8M201.8 335.4h0.8M195.7 349.7h0.8M209.4 337.8h0.8M183.3 366.1h0.8M184.2 372.5h0.8M190.5 341.7h0.8M200.0 334.6h0.8M187.6 344.3h0.8M212.5 362.1h0.8M215.1 332.5h0.8M196.9 357.9h0.8M191.9 357.5h0.8M196.3 348.2h0.8M197.2 338.5h0.8M194.9 355.3h0.8M187.3 351.0h0.8M224.1 353.7h0.8M198.1 365.6h0.8M199.2 361.7h0.8M197.6 375.0h0.8M200.1 357.0h0.8M174.0 353.9h0.8M198.1 356.7h0.8M198.1 339.6h0.8M188.4 370.4h0.8M191.0 350.0h0.8M222.1 378.5h0.8M185.3 349.3h0.8M219.2 342.1h0.8M182.4 354.1h0.8M193.2 379.3h0.8M195.7 340.6h0.8M191.0 359.0h0.8M199.7 367.5h0.8M202.8 349.3h0.8M212.3 343.3h0.8M161.5 348.6h0.8M208.9 342.4h0.8M210.0 335.6h0.8M190.7 361.9h0.8M187.9 361.9h0.8M182.6 364.9h0.8M191.4 342.4h0.8M210.1 332.4h0.8M193.0 353.1h0.8M200.3 339.7h0.8M187.8 366.8h0.8M187.7 371.2h0.8M217.9 363.7h0.8M189.2 332.4h0.8M202.8 348.3h0.8M190.1 365.1h0.8M212.2 357.0h0.8M193.3 360.0h0.8M214.0 360.1h0.8M176.1 363.8h0.8M186.2 370.7h0.8M207.3 359.4h0.8M201.6 348.0h0.8M185.3 370.9h0.8M201.9 334.4h0.8M186.7 353.0h0.8M200.8 359.7h0.8M189.4 339.9h0.8M206.1 369.9h0.8M199.9 356.4h0.8M192.9 363.8h0.8M210.3 343.7h0.8M183.2 356.6h0.8M184.3 355.0h0.8M197.4 336.9h0.8M192.6 374.2h0.8M207.6 368.1h0.8M209.4 352.4h0.8M181.3 336.1h0.8M189.9 366.7h0.8M204.8 335.7h0.8M187.5 358.3h0.8M174.8 353.9h0.8M173.9 379.7h0.8M197.2 342.7h0.8M187.3 336.2h0.8M206.8 342.6h0.8M177.3 356.2h0.8M187.9 356.4h0.8M191.0 366.0h0.8M188.7 359.0h0.8M216.3 356.5h0.8M191.4 378.7h0.8M204.5 342.5h0.8M189.4 363.7h0.8M210.9 333.8h0.8M197.6 331.5h0.8M162.9 340.1h0.8M175.6 361.1h0.8M197.9 347.6h0.8M196.5 348.0h0.8M203.1 346.3h0.8M204.1 341.0h0.8M192.7 352.8h0.8M182.6 367.5h0.8M218.5 362.2h0.8M186.8 375.4h0.8M210.7 361.5h0.8M190.7 357.6h0.8M204.2 359.3h0.8M187.1 354.2h0.8M221.1 334.4h0.8M201.5 361.1h0.8M201.3 364.1h0.8M190.0 360.6h0.8M180.4 340.0h0.8M226.7 350.2h0.8M197.1 339.8h0.8M178.6 380.6h0.8M191.3 314.1h0.8M207.0 331.4h0.8M191.1 367.0h0.8M207.0 353.5h0.8M204.9 335.1h0.8M192.3 339.3h0.8M195.2 358.6h0.8M192.9 367.3h0.8M180.3 356.3h0.8M198.9 353.0h0.8M207.4 360.5h0.8M191.2 365.0h0.8M202.9 361.9h0.8M191.5 338.2h0.8M190.3 343.0h0.8M206.3 315.4h0.8M207.2 320.4h0.8M206.6 326.1h0.8M203.4 320.0h0.8M207.6 323.2h0.8M212.8 320.4h0.8M208.9 316.7h0.8M205.6 322.0h0.8M200.4 327.8h0.8M210.1 321.1h0.8M207.7 321.8h0.8M210.2 318.1h0.8M201.0 324.1h0.8M200.6 324.4h0.8M204.9 324.1h0.8M202.9 325.8h0.8M207.0 321.1h0.8M207.9 324.1h0.8M204.3 323.9h0.8M207.9 321.7h0.8M216.0 317.5h0.8M212.5 319.2h0.8M209.4 319.6h0.8M206.4 319.1h0.8M210.2 325.6h0.8M204.6 330.0h0.8M204.2 326.0h0.8M200.6 326.9h0.8M205.3 325.7h0.8M205.9 320.8h0.8M209.5 327.2h0.8M206.1 322.4h0.8M206.5 322.0h0.8M206.9 320.3h0.8M204.6 323.3h0.8M208.4 321.7h0.8M216.0 321.5h0.8M200.5 325.0h0.8M198.4 328.7h0.8M209.9 321.8h0.8M205.4 322.1h0.8M204.5 320.4h0.8M204.1 322.7h0.8M213.4 318.5h0.8M214.0 321.1h0.8M200.5 323.4h0.8M208.1 318.3h0.8M211.1 317.2h0.8M206.2 318.6h0.8M208.3 329.0h0.8M211.7 319.7h0.8M206.3 315.1h0.8M217.9 321.2h0.8M210.5 325.5h0.8M208.9 324.2h0.8M203.1 323.8h0.8M204.6 328.5h0.8M209.0 321.7h0.8M214.6 322.9h0.8M211.5 320.0h0.8M209.4 319.9h0.8M204.7 324.9h0.8M203.6 325.1h0.8M202.1 322.6h0.8M205.6 312.8h0.8M204.9 327.5h0.8M211.6 316.7h0.8M206.8 319.6h0.8M205.6 329.3h0.8M207.4 323.5h0.8M206.9 318.6h0.8M212.6 316.7h0.8M210.1 324.4h0.8M211.2 321.3h0.8M203.4 331.1h0.8M205.5 326.8h0.8M216.3 315.2h0.8M206.9 322.8h0.8M206.5 326.4h0.8M204.4 321.2h0.8M208.3 318.9h0.8M204.4 325.7h0.8M203.4 325.7h0.8M211.7 319.2h0.8M209.5 316.4h0.8M215.4 320.2h0.8M207.5 318.9h0.8M210.3 320.4h0.8M208.2 320.9h0.8M211.3 322.3h0.8M212.1 325.1h0.8M207.2 313.6h0.8M212.1 321.0h0.8M207.8 324.3h0.8M207.6 327.9h0.8M211.6 323.3h0.8M206.9 322.2h0.8M204.1 329.4h0.8M215.2 320.4h0.8M202.9 321.5h0.8M210.3 319.9h0.8M210.1 324.0h0.8M201.5 322.2h0.8M216.8 313.6h0.8M207.0 323.8h0.8M204.6 328.5h0.8M201.9 322.7h0.8M201.4 323.7h0.8M203.0 328.6h0.8M206.8 325.4h0.8M205.4 323.5h0.8M214.2 321.0h0.8M206.5 325.1h0.8M210.3 323.8h0.8M208.2 317.9h0.8M203.3 324.5h0.8M209.6 319.8h0.8M202.5 326.9h0.8M208.1 318.9h0.8M210.9 319.9h0.8M212.9 317.8h0.8M207.3 318.7h0.8M208.1 319.2h0.8M209.9 325.8h0.8M199.6 324.4h0.8M209.2 323.1h0.8M207.1 318.0h0.8M209.2 318.2h0.8M212.4 319.7h0.8M206.9 320.0h0.8M201.7 325.4h0.8M201.1 325.5h0.8M206.6 321.8h0.8M207.4 319.2h0.8M211.4 316.7h0.8M206.5 325.5h0.8M202.9 321.1h0.8M203.2 326.5h0.8M211.2 319.0h0.8M208.8 322.1h0.8M213.4 313.6h0.8M206.5 324.6h0.8M211.5 319.4h0.8M204.7 324.3h0.8M206.7 317.4h0.8M212.9 320.2h0.8M208.5 322.9h0.8M208.6 313.9h0.8M209.8 319.3h0.8M211.2 324.2h0.8M203.6 325.9h0.8M208.3 322.7h0.8M210.3 323.9h0.8M215.2 319.7h0.8M206.4 322.1h0.8M214.3 318.7h0.8M210.4 316.5h0.8M208.3 321.0h0.8M207.1 320.1h0.8M210.8 325.4h0.8M206.8 319.7h0.8M210.3 318.4h0.8M203.4 326.5h0.8M203.3 326.3h0.8M199.2 322.0h0.8M214.3 318.4h0.8M204.5 320.5h0.8M208.8 319.8h0.8M204.4 321.5h0.8M211.3 317.8h0.8M211.4 320.0h0.8M209.6 323.4h0.8M209.7 319.5h0.8M214.4 324.3h0.8M211.9 321.2h0.8M204.6 320.9h0.8M205.8 324.7h0.8M208.7 316.6h0.8M208.8 319.7h0.8M210.6 317.3h0.8M205.2 321.2h0.8M212.3 319.4h0.8M201.6 322.7h0.8M214.4 321.9h0.8M215.4 315.9h0.8M203.1 324.7h0.8M210.4 320.3h0.8M204.6 321.8h0.8M207.5 320.6h0.8M206.9 323.5h0.8M210.5 319.9h0.8M209.2 325.0h0.8M207.1 319.9h0.8M210.7 326.5h0.8M205.3 328.1h0.8M216.0 322.9h0.8M206.6 323.8h0.8M208.5 323.3h0.8M216.9 319.3h0.8M215.6 322.3h0.8M205.9 321.2h0.8M211.4 318.9h0.8M202.3 325.6h0.8M206.4 320.4h0.8M201.8 325.1h0.8M211.0 321.0h0.8M210.0 319.8h0.8M211.9 314.2h0.8M204.9 321.4h0.8M206.8 324.1h0.8M206.4 325.0h0.8M203.8 324.2h0.8M210.9 323.3h0.8M210.9 317.0h0.8M211.7 317.0h0.8M205.4 327.9h0.8M207.6 317.5h0.8M211.2 320.4h0.8M201.9 325.2h0.8M205.7 325.9h0.8M215.1 320.9h0.8M204.0 326.4h0.8M210.1 324.4h0.8M206.2 323.7h0.8M208.5 326.3h0.8M211.3 319.1h0.8M210.2 321.4h0.8M206.9 321.5h0.8M206.9 322.3h0.8M204.9 327.6h0.8M208.3 322.1h0.8M208.0 319.3h0.8M207.8 325.2h0.8M213.6 315.1h0.8M206.0 327.7h0.8M209.8 317.2h0.8M214.9 320.7h0.8M207.3 322.1h0.8M212.2 321.5h0.8M211.7 323.8h0.8M210.0 323.2h0.8M206.3 323.5h0.8M211.7 325.0h0.8M201.9 322.9h0.8M199.9 323.2h0.8M206.9 324.9h0.8M206.5 319.8h0.8M212.7 321.7h0.8M210.9 320.1h0.8M206.3 321.1h0.8M210.2 316.6h0.8M211.0 323.2h0.8M208.1 321.1h0.8M203.6 329.2h0.8M205.5 325.0h0.8M207.3 325.6h0.8M208.3 324.8h0.8M208.6 324.8h0.8M211.5 316.3h0.8M204.4 328.5h0.8M209.5 317.6h0.8M203.7 324.0h0.8M209.7 325.2h0.8M206.0 323.6h0.8M200.7 321.5h0.8M214.7 327.2h0.8M207.5 327.4h0.8M214.0 324.3h0.8M213.6 320.2h0.8M205.4 320.8h0.8M201.4 316.7h0.8M205.0 323.9h0.8M208.3 317.2h0.8M211.3 316.2h0.8M211.9 319.3h0.8M212.6 316.6h0.8M217.7 321.9h0.8M202.5 317.2h0.8M209.5 329.4h0.8M207.7 323.6h0.8M208.8 327.4h0.8M200.3 327.9h0.8M215.3 316.8h0.8M212.2 314.6h0.8M204.0 324.0h0.8M210.2 322.1h0.8M203.7 322.1h0.8M201.1 323.7h0.8M205.1 323.0h0.8M208.1 320.9h0.8M205.4 326.4h0.8M209.7 324.6h0.8M213.8 319.6h0.8M209.0 312.5h0.8M215.3 319.7h0.8M208.7 321.9h0.8M210.3 318.1h0.8M212.3 318.7h0.8M207.4 322.3h0.8M208.0 321.3h0.8M208.3 328.2h0.8M212.9 322.1h0.8M194.1 325.4h0.8M208.9 318.9h0.8M210.0 316.8h0.8M216.3 328.1h0.8M210.8 332.9h0.8M206.9 324.0h0.8M205.9 323.1h0.8M196.1 345.2h0.8M196.4 317.2h0.8M212.5 326.4h0.8M203.0 325.6h0.8M202.5 330.8h0.8M211.1 321.5h0.8M204.9 332.4h0.8M204.5 321.6h0.8M208.9 327.1h0.8M209.1 331.4h0.8M207.8 322.8h0.8M208.7 325.6h0.8M217.5 324.2h0.8M213.4 329.3h0.8M192.1 327.6h0.8M207.0 328.8h0.8M208.6 327.3h0.8M214.9 324.2h0.8M203.6 325.6h0.8M223.5 314.2h0.8M220.0 322.9h0.8M194.5 325.5h0.8M216.2 318.3h0.8M199.7 333.3h0.8M205.1 327.3h0.8M198.6 336.9h0.8M218.7 323.9h0.8M200.1 330.9h0.8M213.0 330.3h0.8M201.6 327.8h0.8M197.5 330.8h0.8M199.8 316.8h0.8M219.3 334.3h0.8M209.6 310.4h0.8M197.2 327.5h0.8M207.8 337.5h0.8M205.5 320.8h0.8M202.2 333.8h0.8M196.6 333.0h0.8M200.6 325.2h0.8M208.1 314.5h0.8M218.2 326.3h0.8M201.3 330.8h0.8M206.0 323.9h0.8M198.8 332.2h0.8M215.1 314.9h0.8M214.4 312.5h0.8M203.2 312.8h0.8M215.8 315.0h0.8M205.1 329.7h0.8M207.2 315.9h0.8M209.2 329.7h0.8M200.8 330.7h0.8M214.3 322.2h0.8M201.9 324.3h0.8M209.9 316.5h0.8M204.9 336.9h0.8M208.7 323.8h0.8M191.2 328.1h0.8M207.9 321.1h0.8M197.1 319.9h0.8M197.4 321.1h0.8M200.6 329.5h0.8M212.4 325.6h0.8M201.9 321.0h0.8M199.7 328.8h0.8M209.8 331.9h0.8M217.2 319.6h0.8M210.2 339.0h0.8M220.0 317.6h0.8M195.0 339.0h0.8M204.3 323.6h0.8M221.3 320.7h0.8M205.5 309.9h0.8M205.9 333.5h0.8M204.6 333.2h0.8M211.2 319.0h0.8M204.4 319.0h0.8M199.6 322.4h0.8M213.1 329.8h0.8M205.9 323.4h0.8M196.3 324.0h0.8M209.1 331.4h0.8M199.5 324.9h0.8M199.4 327.7h0.8M197.4 325.0h0.8M218.9 324.8h0.8M206.4 322.7h0.8M211.3 315.1h0.8M199.8 335.0h0.8M198.3 316.5h0.8M203.2 331.0h0.8M197.6 329.3h0.8M200.5 325.1h0.8M206.4 308.1h0.8M200.5 327.1h0.8M199.8 317.1h0.8M194.1 331.5h0.8M210.7 308.4h0.8M213.6 324.8h0.8M205.6 328.9h0.8M213.6 323.8h0.8M210.7 328.4h0.8M208.0 317.0h0.8M208.4 316.6h0.8M213.1 321.5h0.8M202.1 315.1h0.8M205.8 318.6h0.8M216.5 315.1h0.8M205.2 324.8h0.8M191.3 326.1h0.8M203.6 328.9h0.8M217.2 323.9h0.8M213.6 318.1h0.8M201.3 326.1h0.8M213.8 324.0h0.8M197.4 328.7h0.8M200.1 333.0h0.8M216.1 320.9h0.8M204.9 321.8h0.8M205.4 328.1h0.8M208.2 317.7h0.8M205.6 331.2h0.8M195.9 334.3h0.8M201.9 322.2h0.8M195.8 336.9h0.8M208.8 332.7h0.8M198.7 325.7h0.8M212.7 327.7h0.8M202.1 324.5h0.8M211.8 327.9h0.8M212.2 317.3h0.8M204.0 335.5h0.8M211.5 318.4h0.8M205.1 327.9h0.8M205.0 321.0h0.8M208.2 323.8h0.8M212.8 331.8h0.8M207.0 330.0h0.8M201.3 327.0h0.8M198.8 327.3h0.8M202.8 333.6h0.8M212.4 325.4h0.8M211.9 325.8h0.8M212.7 320.0h0.8M196.1 330.1h0.8M213.8 310.4h0.8M202.8 327.2h0.8M212.8 313.5h0.8M200.4 313.6h0.8M207.9 321.4h0.8M206.7 320.0h0.8M192.8 326.0h0.8M213.9 326.0h0.8M199.5 319.6h0.8M193.3 316.6h0.8M211.2 323.9h0.8M216.5 319.7h0.8M205.6 324.7h0.8M194.7 342.5h0.8M198.3 318.3h0.8" stroke="#000" stroke-opacity="0.65" stroke-width="0.8" fill="none"/>
<path d="M157.50 291.00H251.20V384.60" fill="none" stroke="#2a2a2a" stroke-width="0.95"/>
<path d="M157.50 290.60V384.60H251.60" fill="none" stroke="#1a1a1a" stroke-width="1.1"/>
<path d="M157.5 384.60h-2.0M157.50 384.6v2.0M157.5 377.56h-1.3M164.55 384.6v1.3M157.5 373.44h-1.3M168.68 384.6v1.3M157.5 370.51h-1.3M171.60 384.6v1.3M157.5 368.24h-1.3M173.87 384.6v1.3M157.5 366.39h-1.3M175.73 384.6v1.3M157.5 364.82h-1.3M177.30 384.6v1.3M157.5 363.47h-1.3M178.65 384.6v1.3M157.5 362.27h-1.3M179.85 384.6v1.3M157.5 361.20h-2.0M180.93 384.6v2.0M157.5 354.16h-1.3M187.98 384.6v1.3M157.5 350.04h-1.3M192.10 384.6v1.3M157.5 347.11h-1.3M195.03 384.6v1.3M157.5 344.84h-1.3M197.30 384.6v1.3M157.5 342.99h-1.3M199.15 384.6v1.3M157.5 341.42h-1.3M200.72 384.6v1.3M157.5 340.07h-1.3M202.08 384.6v1.3M157.5 338.87h-1.3M203.28 384.6v1.3M157.5 337.80h-2.0M204.35 384.6v2.0M157.5 330.76h-1.3M211.40 384.6v1.3M157.5 326.64h-1.3M215.53 384.6v1.3M157.5 323.71h-1.3M218.45 384.6v1.3M157.5 321.44h-1.3M220.72 384.6v1.3M157.5 319.59h-1.3M222.58 384.6v1.3M157.5 318.02h-1.3M224.15 384.6v1.3M157.5 316.67h-1.3M225.50 384.6v1.3M157.5 315.47h-1.3M226.70 384.6v1.3M157.5 314.40h-2.0M227.77 384.6v2.0M157.5 307.36h-1.3M234.83 384.6v1.3M157.5 303.24h-1.3M238.95 384.6v1.3M157.5 300.31h-1.3M241.88 384.6v1.3M157.5 298.04h-1.3M244.15 384.6v1.3M157.5 296.19h-1.3M246.00 384.6v1.3M157.5 294.62h-1.3M247.57 384.6v1.3M157.5 293.27h-1.3M248.93 384.6v1.3M157.5 292.07h-1.3M250.13 384.6v1.3M157.5 291.00h-2.0M251.20 384.6v2.0" stroke="#222" stroke-width="0.6" fill="none"/>
<text x="148.90" y="387.00" font-size="4.6" fill="#333">10<tspan dy="-2" font-size="3.6">0</tspan></text>
<text x="154.90" y="392.20" font-size="4.6" fill="#333">10<tspan dy="-2" font-size="3.6">0</tspan></text>
<text x="148.90" y="363.60" font-size="4.6" fill="#333">10<tspan dy="-2" font-size="3.6">1</tspan></text>
<text x="178.33" y="392.20" font-size="4.6" fill="#333">10<tspan dy="-2" font-size="3.6">1</tspan></text>
<text x="148.90" y="340.20" font-size="4.6" fill="#333">10<tspan dy="-2" font-size="3.6">2</tspan></text>
<text x="201.75" y="392.20" font-size="4.6" fill="#333">10<tspan dy="-2" font-size="3.6">2</tspan></text>
<text x="148.90" y="316.80" font-size="4.6" fill="#333">10<tspan dy="-2" font-size="3.6">3</tspan></text>
<text x="225.17" y="392.20" font-size="4.6" fill="#333">10<tspan dy="-2" font-size="3.6">3</tspan></text>
<text x="148.90" y="293.40" font-size="4.6" fill="#333">10<tspan dy="-2" font-size="3.6">4</tspan></text>
<text x="248.60" y="392.20" font-size="4.6" fill="#333">10<tspan dy="-2" font-size="3.6">4</tspan></text>
<text x="346.20" y="10.00" font-size="12" text-anchor="start" font-weight="bold" fill="#000" stroke="#000" stroke-width="0.4">C</text>
<line x1="390.41" y1="68.80" x2="400.01" y2="68.80" stroke="#222" stroke-width="1.2"/>
<line x1="412.84" y1="68.80" x2="422.44" y2="68.80" stroke="#222" stroke-width="1.2"/>
<rect x="435.27" y="53.26" width="9.60" height="16.14" fill="#9a9a9a" stroke="#111" stroke-width="0.9"/>
<line x1="440.07" y1="52.23" x2="440.07" y2="54.30" stroke="#111" stroke-width="0.8"/>
<line x1="438.68" y1="52.23" x2="441.47" y2="52.23" stroke="#111" stroke-width="0.8"/>
<line x1="438.68" y1="54.30" x2="441.47" y2="54.30" stroke="#111" stroke-width="0.8"/>
<rect x="457.70" y="9.82" width="9.60" height="59.58" fill="#9a9a9a" stroke="#111" stroke-width="0.9"/>
<line x1="462.50" y1="8.58" x2="462.50" y2="11.06" stroke="#111" stroke-width="0.8"/>
<line x1="461.11" y1="8.58" x2="463.90" y2="8.58" stroke="#111" stroke-width="0.8"/>
<line x1="461.11" y1="11.06" x2="463.90" y2="11.06" stroke="#111" stroke-width="0.8"/>
<rect x="480.13" y="55.95" width="9.60" height="13.45" fill="#000" stroke="#111" stroke-width="0.9"/>
<line x1="484.94" y1="55.54" x2="484.94" y2="55.95" stroke="#111" stroke-width="0.8"/>
<line x1="483.54" y1="55.54" x2="486.33" y2="55.54" stroke="#111" stroke-width="0.8"/>
<rect x="502.56" y="56.99" width="9.60" height="12.41" fill="#000" stroke="#111" stroke-width="0.9"/>
<line x1="507.37" y1="56.57" x2="507.37" y2="56.99" stroke="#111" stroke-width="0.8"/>
<line x1="505.97" y1="56.57" x2="508.76" y2="56.57" stroke="#111" stroke-width="0.8"/>
<line x1="384.00" y1="2.70" x2="384.00" y2="69.90" stroke="#222" stroke-width="1"/>
<line x1="383.50" y1="69.40" x2="519.00" y2="69.40" stroke="#222" stroke-width="1"/>
<text x="379.40" y="71.76" font-size="6.6" text-anchor="end" fill="#111">0</text>
<text x="379.40" y="63.49" font-size="6.6" text-anchor="end" fill="#111">2</text>
<text x="379.40" y="55.21" font-size="6.6" text-anchor="end" fill="#111">4</text>
<text x="379.40" y="46.94" font-size="6.6" text-anchor="end" fill="#111">6</text>
<text x="379.40" y="38.66" font-size="6.6" text-anchor="end" fill="#111">8</text>
<text x="379.40" y="30.39" font-size="6.6" text-anchor="end" fill="#111">10</text>
<text x="379.40" y="22.11" font-size="6.6" text-anchor="end" fill="#111">12</text>
<text x="379.40" y="13.84" font-size="6.6" text-anchor="end" fill="#111">14</text>
<text x="379.40" y="5.56" font-size="6.6" text-anchor="end" fill="#111">16</text>
<path d="M384.0 69.40h-2M384.0 61.13h-2M384.0 52.85h-2M384.0 44.58h-2M384.0 36.30h-2M384.0 28.03h-2M384.0 19.75h-2M384.0 11.48h-2M384.0 3.20h-2M406.43 69.4v2M428.86 69.4v2M451.29 69.4v2M473.72 69.4v2M496.15 69.4v2M518.58 69.4v2" stroke="#222" stroke-width="0.8" fill="none"/>
<text x="358.10" y="38.56" font-size="6.3" text-anchor="middle" font-weight="bold" fill="#000" transform="rotate(-90 358.10 36.30)" stroke="#000" stroke-width="0.2">Lmo2/18S</text>
<rect x="390.41" y="144.87" width="9.60" height="3.13" fill="#fff" stroke="#111" stroke-width="0.9"/>
<line x1="395.21" y1="144.14" x2="395.21" y2="145.61" stroke="#111" stroke-width="0.8"/>
<line x1="393.81" y1="144.14" x2="396.61" y2="144.14" stroke="#111" stroke-width="0.8"/>
<line x1="393.81" y1="145.61" x2="396.61" y2="145.61" stroke="#111" stroke-width="0.8"/>
<line x1="412.84" y1="147.40" x2="422.44" y2="147.40" stroke="#222" stroke-width="1.2"/>
<rect x="435.27" y="92.83" width="9.60" height="55.17" fill="#9a9a9a" stroke="#111" stroke-width="0.9"/>
<line x1="440.07" y1="86.95" x2="440.07" y2="98.72" stroke="#111" stroke-width="0.8"/>
<line x1="438.68" y1="86.95" x2="441.47" y2="86.95" stroke="#111" stroke-width="0.8"/>
<line x1="438.68" y1="98.72" x2="441.47" y2="98.72" stroke="#111" stroke-width="0.8"/>
<rect x="457.70" y="146.71" width="9.60" height="1.29" fill="#9a9a9a" stroke="#111" stroke-width="0.9"/>
<rect x="480.13" y="107.54" width="9.60" height="40.46" fill="#000" stroke="#111" stroke-width="0.9"/>
<line x1="484.94" y1="100.19" x2="484.94" y2="107.54" stroke="#111" stroke-width="0.8"/>
<line x1="483.54" y1="100.19" x2="486.33" y2="100.19" stroke="#111" stroke-width="0.8"/>
<rect x="502.56" y="142.48" width="9.60" height="5.52" fill="#000" stroke="#111" stroke-width="0.9"/>
<line x1="507.37" y1="142.12" x2="507.37" y2="142.48" stroke="#111" stroke-width="0.8"/>
<line x1="505.97" y1="142.12" x2="508.76" y2="142.12" stroke="#111" stroke-width="0.8"/>
<line x1="384.00" y1="81.30" x2="384.00" y2="148.50" stroke="#222" stroke-width="1"/>
<line x1="383.50" y1="148.00" x2="519.00" y2="148.00" stroke="#222" stroke-width="1"/>
<text x="379.40" y="150.36" font-size="6.6" text-anchor="end" fill="#111">0.0</text>
<text x="379.40" y="143.01" font-size="6.6" text-anchor="end" fill="#111">0.2</text>
<text x="379.40" y="135.65" font-size="6.6" text-anchor="end" fill="#111">0.4</text>
<text x="379.40" y="128.30" font-size="6.6" text-anchor="end" fill="#111">0.6</text>
<text x="379.40" y="120.94" font-size="6.6" text-anchor="end" fill="#111">0.8</text>
<text x="379.40" y="113.59" font-size="6.6" text-anchor="end" fill="#111">1.0</text>
<text x="379.40" y="106.23" font-size="6.6" text-anchor="end" fill="#111">1.2</text>
<text x="379.40" y="98.87" font-size="6.6" text-anchor="end" fill="#111">1.4</text>
<text x="379.40" y="91.52" font-size="6.6" text-anchor="end" fill="#111">1.6</text>
<text x="379.40" y="84.16" font-size="6.6" text-anchor="end" fill="#111">1.8</text>
<path d="M384.0 148.00h-2M384.0 140.64h-2M384.0 133.29h-2M384.0 125.93h-2M384.0 118.58h-2M384.0 111.22h-2M384.0 103.87h-2M384.0 96.51h-2M384.0 89.16h-2M384.0 81.80h-2M406.43 148.0v2M428.86 148.0v2M451.29 148.0v2M473.72 148.0v2M496.15 148.0v2M518.58 148.0v2" stroke="#222" stroke-width="0.8" fill="none"/>
<text x="358.10" y="117.16" font-size="6.3" text-anchor="middle" font-weight="bold" fill="#000" transform="rotate(-90 358.10 114.90)" stroke="#000" stroke-width="0.2">Lyl1/18S</text>
<rect x="390.41" y="224.43" width="9.60" height="3.37" fill="#fff" stroke="#111" stroke-width="0.9"/>
<line x1="412.84" y1="227.20" x2="422.44" y2="227.20" stroke="#222" stroke-width="1.2"/>
<rect x="435.27" y="171.70" width="9.60" height="56.10" fill="#9a9a9a" stroke="#111" stroke-width="0.9"/>
<line x1="440.07" y1="168.40" x2="440.07" y2="175.00" stroke="#111" stroke-width="0.8"/>
<line x1="438.68" y1="168.40" x2="441.47" y2="168.40" stroke="#111" stroke-width="0.8"/>
<line x1="438.68" y1="175.00" x2="441.47" y2="175.00" stroke="#111" stroke-width="0.8"/>
<line x1="457.70" y1="227.20" x2="467.31" y2="227.20" stroke="#222" stroke-width="1.2"/>
<rect x="480.13" y="200.30" width="9.60" height="27.50" fill="#000" stroke="#111" stroke-width="0.9"/>
<line x1="484.94" y1="199.86" x2="484.94" y2="200.30" stroke="#111" stroke-width="0.8"/>
<line x1="483.54" y1="199.86" x2="486.33" y2="199.86" stroke="#111" stroke-width="0.8"/>
<rect x="502.56" y="226.70" width="9.60" height="1.10" fill="#000" stroke="#111" stroke-width="0.9"/>
<line x1="384.00" y1="161.30" x2="384.00" y2="228.30" stroke="#222" stroke-width="1"/>
<line x1="383.50" y1="227.80" x2="519.00" y2="227.80" stroke="#222" stroke-width="1"/>
<text x="379.40" y="230.16" font-size="6.6" text-anchor="end" fill="#111">0.0</text>
<text x="379.40" y="222.83" font-size="6.6" text-anchor="end" fill="#111">0.1</text>
<text x="379.40" y="215.50" font-size="6.6" text-anchor="end" fill="#111">0.2</text>
<text x="379.40" y="208.16" font-size="6.6" text-anchor="end" fill="#111">0.3</text>
<text x="379.40" y="200.83" font-size="6.6" text-anchor="end" fill="#111">0.4</text>
<text x="379.40" y="193.50" font-size="6.6" text-anchor="end" fill="#111">0.5</text>
<text x="379.40" y="186.16" font-size="6.6" text-anchor="end" fill="#111">0.6</text>
<text x="379.40" y="178.83" font-size="6.6" text-anchor="end" fill="#111">0.7</text>
<text x="379.40" y="171.50" font-size="6.6" text-anchor="end" fill="#111">0.8</text>
<text x="379.40" y="164.16" font-size="6.6" text-anchor="end" fill="#111">0.9</text>
<path d="M384.0 227.80h-2M384.0 220.47h-2M384.0 213.13h-2M384.0 205.80h-2M384.0 198.47h-2M384.0 191.13h-2M384.0 183.80h-2M384.0 176.47h-2M384.0 169.13h-2M384.0 161.80h-2M406.43 227.8v2M428.86 227.8v2M451.29 227.8v2M473.72 227.8v2M496.15 227.8v2M518.58 227.8v2" stroke="#222" stroke-width="0.8" fill="none"/>
<text x="358.10" y="197.06" font-size="6.3" text-anchor="middle" font-weight="bold" fill="#000" transform="rotate(-90 358.10 194.80)" stroke="#000" stroke-width="0.2">Hhex/18S</text>
<rect x="390.41" y="303.55" width="9.60" height="2.85" fill="#fff" stroke="#111" stroke-width="0.9"/>
<line x1="395.21" y1="302.98" x2="395.21" y2="304.12" stroke="#111" stroke-width="0.8"/>
<line x1="393.81" y1="302.98" x2="396.61" y2="302.98" stroke="#111" stroke-width="0.8"/>
<line x1="393.81" y1="304.12" x2="396.61" y2="304.12" stroke="#111" stroke-width="0.8"/>
<rect x="412.84" y="304.31" width="9.60" height="2.09" fill="#fff" stroke="#111" stroke-width="0.9"/>
<rect x="435.27" y="254.34" width="9.60" height="52.06" fill="#9a9a9a" stroke="#111" stroke-width="0.9"/>
<line x1="440.07" y1="251.49" x2="440.07" y2="257.19" stroke="#111" stroke-width="0.8"/>
<line x1="438.68" y1="251.49" x2="441.47" y2="251.49" stroke="#111" stroke-width="0.8"/>
<line x1="438.68" y1="257.19" x2="441.47" y2="257.19" stroke="#111" stroke-width="0.8"/>
<rect x="457.70" y="305.26" width="9.60" height="1.14" fill="#9a9a9a" stroke="#111" stroke-width="0.9"/>
<rect x="480.13" y="255.10" width="9.60" height="51.30" fill="#000" stroke="#111" stroke-width="0.9"/>
<line x1="484.94" y1="251.68" x2="484.94" y2="255.10" stroke="#111" stroke-width="0.8"/>
<line x1="483.54" y1="251.68" x2="486.33" y2="251.68" stroke="#111" stroke-width="0.8"/>
<rect x="502.56" y="303.74" width="9.60" height="2.66" fill="#000" stroke="#111" stroke-width="0.9"/>
<line x1="384.00" y1="239.40" x2="384.00" y2="306.90" stroke="#222" stroke-width="1"/>
<line x1="383.50" y1="306.40" x2="519.00" y2="306.40" stroke="#222" stroke-width="1"/>
<text x="379.40" y="308.76" font-size="6.6" text-anchor="end" fill="#111">0.00</text>
<text x="379.40" y="299.26" font-size="6.6" text-anchor="end" fill="#111">0.05</text>
<text x="379.40" y="289.76" font-size="6.6" text-anchor="end" fill="#111">0.10</text>
<text x="379.40" y="280.26" font-size="6.6" text-anchor="end" fill="#111">0.15</text>
<text x="379.40" y="270.76" font-size="6.6" text-anchor="end" fill="#111">0.20</text>
<text x="379.40" y="261.26" font-size="6.6" text-anchor="end" fill="#111">0.25</text>
<text x="379.40" y="251.76" font-size="6.6" text-anchor="end" fill="#111">0.30</text>
<text x="379.40" y="242.26" font-size="6.6" text-anchor="end" fill="#111">0.35</text>
<path d="M384.0 306.40h-2M384.0 296.90h-2M384.0 287.40h-2M384.0 277.90h-2M384.0 268.40h-2M384.0 258.90h-2M384.0 249.40h-2M384.0 239.90h-2M406.43 306.4v2M428.86 306.4v2M451.29 306.4v2M473.72 306.4v2M496.15 306.4v2M518.58 306.4v2" stroke="#222" stroke-width="0.8" fill="none"/>
<text x="358.80" y="275.41" font-size="6.3" text-anchor="middle" font-weight="bold" fill="#000" transform="rotate(-90 358.80 273.15)" stroke="#000" stroke-width="0.2">Cpa3/18S</text>
<rect x="390.41" y="383.49" width="9.60" height="3.31" fill="#fff" stroke="#111" stroke-width="0.9"/>
<line x1="412.84" y1="386.20" x2="422.44" y2="386.20" stroke="#222" stroke-width="1.2"/>
<rect x="435.27" y="327.50" width="9.60" height="59.30" fill="#9a9a9a" stroke="#111" stroke-width="0.9"/>
<line x1="440.07" y1="325.29" x2="440.07" y2="329.70" stroke="#111" stroke-width="0.8"/>
<line x1="438.68" y1="325.29" x2="441.47" y2="325.29" stroke="#111" stroke-width="0.8"/>
<line x1="438.68" y1="329.70" x2="441.47" y2="329.70" stroke="#111" stroke-width="0.8"/>
<line x1="457.70" y1="386.20" x2="467.31" y2="386.20" stroke="#222" stroke-width="1.2"/>
<rect x="480.13" y="376.87" width="9.60" height="9.93" fill="#000" stroke="#111" stroke-width="0.9"/>
<line x1="484.94" y1="376.21" x2="484.94" y2="376.87" stroke="#111" stroke-width="0.8"/>
<line x1="483.54" y1="376.21" x2="486.33" y2="376.21" stroke="#111" stroke-width="0.8"/>
<line x1="502.56" y1="386.20" x2="512.16" y2="386.20" stroke="#222" stroke-width="1.2"/>
<line x1="384.00" y1="320.10" x2="384.00" y2="387.30" stroke="#222" stroke-width="1"/>
<line x1="383.50" y1="386.80" x2="519.00" y2="386.80" stroke="#222" stroke-width="1"/>
<text x="379.40" y="389.16" font-size="6.6" text-anchor="end" fill="#111">0.0</text>
<text x="379.40" y="378.13" font-size="6.6" text-anchor="end" fill="#111">0.2</text>
<text x="379.40" y="367.10" font-size="6.6" text-anchor="end" fill="#111">0.4</text>
<text x="379.40" y="356.06" font-size="6.6" text-anchor="end" fill="#111">0.6</text>
<text x="379.40" y="345.03" font-size="6.6" text-anchor="end" fill="#111">0.8</text>
<text x="379.40" y="334.00" font-size="6.6" text-anchor="end" fill="#111">1.0</text>
<text x="379.40" y="322.96" font-size="6.6" text-anchor="end" fill="#111">1.2</text>
<path d="M384.0 386.80h-2M384.0 375.77h-2M384.0 364.73h-2M384.0 353.70h-2M384.0 342.67h-2M384.0 331.63h-2M384.0 320.60h-2M406.43 386.8v2M428.86 386.8v2M451.29 386.8v2M473.72 386.8v2M496.15 386.8v2M518.58 386.8v2" stroke="#222" stroke-width="0.8" fill="none"/>
<text x="358.10" y="355.96" font-size="6.3" text-anchor="middle" font-weight="bold" fill="#000" transform="rotate(-90 358.10 353.70)" stroke="#000" stroke-width="0.2">Nfe2/18S</text>
<text x="395.21" y="398.07" font-size="6.9" text-anchor="middle" fill="#111">DN</text>
<text x="417.64" y="398.07" font-size="6.9" text-anchor="middle" fill="#111">DP</text>
<text x="440.07" y="398.07" font-size="6.9" text-anchor="middle" fill="#111">DN</text>
<text x="462.50" y="398.07" font-size="6.9" text-anchor="middle" fill="#111">DP</text>
<text x="484.94" y="398.07" font-size="6.9" text-anchor="middle" fill="#111">DN</text>
<text x="507.37" y="398.07" font-size="6.9" text-anchor="middle" fill="#111">DP</text>
<path d="M390.8 400.0 q0 2 2 2 H420.5 q2 0 2 -2" fill="none" stroke="#222" stroke-width="0.9"/>
<path d="M435.2 400.0 q0 2 2 2 H466.3 q2 0 2 -2" fill="none" stroke="#222" stroke-width="0.9"/>
<path d="M480.2 400.0 q0 2 2 2 H510.5 q2 0 2 -2" fill="none" stroke="#222" stroke-width="0.9"/>
<text x="406.00" y="410.56" font-size="6.6" text-anchor="middle" fill="#111">wt</text>
<text x="451.50" y="410.16" font-size="6.6" text-anchor="middle" fill="#111">CD2-Lmo2</text>
<text x="451.50" y="417.66" font-size="6.6" text-anchor="middle" fill="#111">preleukaemic</text>
<text x="481.00" y="410.16" font-size="6.6" text-anchor="start" fill="#111">CD2-Lmo2</text>
<text x="481.00" y="417.66" font-size="6.6" text-anchor="start" fill="#111">leukaemia</text>
</svg>
</body></html>
